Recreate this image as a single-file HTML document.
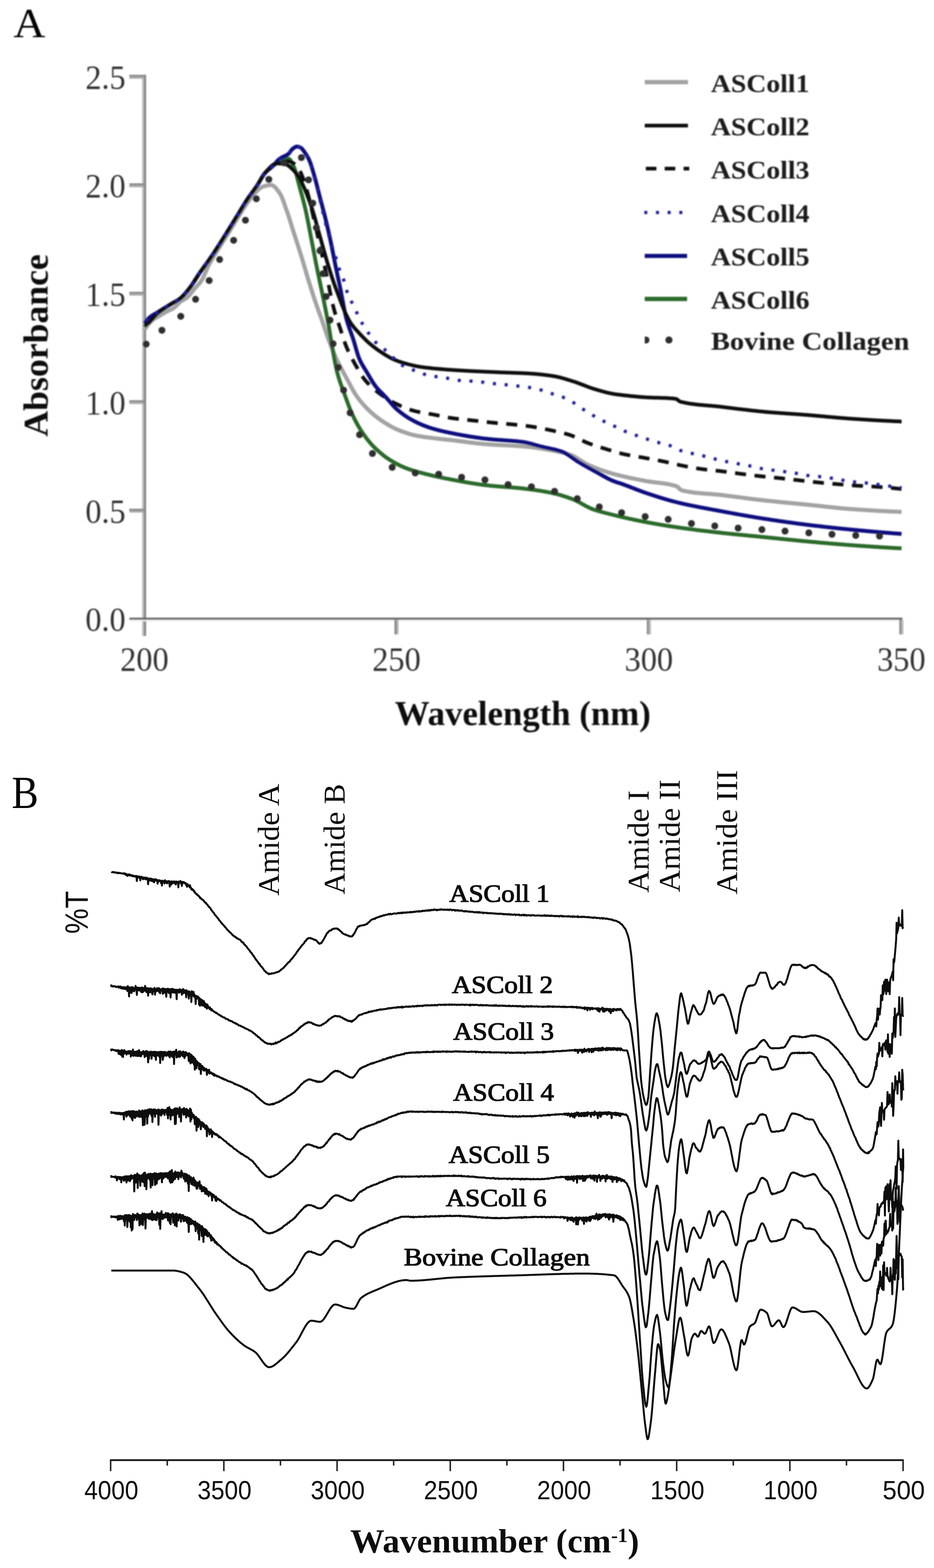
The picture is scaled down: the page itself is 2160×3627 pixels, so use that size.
<!DOCTYPE html>
<html><head><meta charset="utf-8"><title>Figure</title>
<style>
html,body{margin:0;padding:0;background:#fff;}
body{width:2160px;height:3627px;overflow:hidden;}
svg{display:block;}
</style></head>
<body>
<svg xmlns="http://www.w3.org/2000/svg" width="2160" height="3627" viewBox="0 0 2160 3627">
<rect width="2160" height="3627" fill="#fff"/>
<defs><filter id="blurA" filterUnits="userSpaceOnUse" x="0" y="0" width="2160" height="1760"><feGaussianBlur stdDeviation="1.6"/></filter>
<filter id="blurB" filterUnits="userSpaceOnUse" x="0" y="1760" width="2160" height="1867"><feGaussianBlur stdDeviation="0.7"/></filter></defs>
<g filter="url(#blurA)">
<text x="31" y="86" font-family="'Liberation Serif', 'Times New Roman', serif" font-size="95" fill="#000" textLength="74" lengthAdjust="spacingAndGlyphs">A</text>
<g id="axesA">
<line x1="331" y1="173" x2="331" y2="1471" stroke="#bababa" stroke-width="4.4"/>
<line x1="335.5" y1="173" x2="335.5" y2="1471" stroke="#858585" stroke-width="4.8"/>
<line x1="299" y1="175.3" x2="333" y2="175.3" stroke="#8a8a8a" stroke-width="4.4"/>
<line x1="299" y1="179.7" x2="333" y2="179.7" stroke="#a8a8a8" stroke-width="4.4"/>
<line x1="299" y1="426.3" x2="333" y2="426.3" stroke="#8a8a8a" stroke-width="4.4"/>
<line x1="299" y1="430.7" x2="333" y2="430.7" stroke="#a8a8a8" stroke-width="4.4"/>
<line x1="299" y1="677.0999999999999" x2="333" y2="677.0999999999999" stroke="#8a8a8a" stroke-width="4.4"/>
<line x1="299" y1="681.5" x2="333" y2="681.5" stroke="#a8a8a8" stroke-width="4.4"/>
<line x1="299" y1="928.0" x2="333" y2="928.0" stroke="#8a8a8a" stroke-width="4.4"/>
<line x1="299" y1="932.4000000000001" x2="333" y2="932.4000000000001" stroke="#a8a8a8" stroke-width="4.4"/>
<line x1="299" y1="1178.8999999999999" x2="333" y2="1178.8999999999999" stroke="#8a8a8a" stroke-width="4.4"/>
<line x1="299" y1="1183.3" x2="333" y2="1183.3" stroke="#a8a8a8" stroke-width="4.4"/>
<line x1="299" y1="1435.6" x2="2087" y2="1435.6" stroke="#efefef" stroke-width="3.5"/>
<line x1="299" y1="1431.1" x2="2087" y2="1431.1" stroke="#666666" stroke-width="4.6"/>
<line x1="914.6" y1="1433" x2="914.6" y2="1467.5" stroke="#8a8a8a" stroke-width="4.8"/>
<line x1="919.3" y1="1433" x2="919.3" y2="1467.5" stroke="#b3b3b3" stroke-width="4.6"/>
<line x1="1498.1999999999998" y1="1433" x2="1498.1999999999998" y2="1467.5" stroke="#8a8a8a" stroke-width="4.8"/>
<line x1="1502.8999999999999" y1="1433" x2="1502.8999999999999" y2="1467.5" stroke="#b3b3b3" stroke-width="4.6"/>
<line x1="2082.1" y1="1433" x2="2082.1" y2="1467.5" stroke="#8a8a8a" stroke-width="4.8"/>
<line x1="2086.8" y1="1433" x2="2086.8" y2="1467.5" stroke="#b3b3b3" stroke-width="4.6"/>
<path d="M334 763L336 760L338 757.1L340 754.3L342 751.7L344 749.2L346 746.8L348 744.7L350 742.7L352 741L354 739.4L356 738L358 736.8L360 735.6L362 734.4L364 733.3L366 732.2L368 731L370 729.8L372 728.6L374 727.4L376 726.2L378 725L380 723.8L382 722.7L384 721.5L386 720.5L388 719.5L390 718.6L392 717.7L394 716.8L396 715.8L398 714.8L400 713.6L402 712.3L404 710.7L406 708.8L408 706.7L410 704.6L412 702.6L414 700.6L416 698.8L418 697.3L420 696L422 694.8L424 693.7L426 692.6L428 691.4L430 690.2L432 688.8L434 687.1L436 685.2L438 682.9L440 680.5L442 677.9L444 675.3L446 672.7L448 670.2L450 667.8L452 665.6L454 663.5L456 661.3L458 659.2L460 656.9L462 654.5L464 651.9L466 649L468 645.7L470 641.8L472 637.5L474 633L476 628.3L478 623.7L480 619.2L482 615L484 611.1L486 607.5L488 603.9L490 600.4L492 597L494 593.7L496 590.4L498 587.2L500 583.9L502 580.6L504 577.4L506 574.1L508 570.9L510 567.7L512 564.6L514 561.5L516 558.3L518 555.2L520 552.1L522 548.9L524 545.8L526 542.6L528 539.4L530 536.2L532 532.9L534 529.7L536 526.4L538 523.1L540 519.8L542 516.6L544 513.3L546 510.1L548 506.8L550 503.6L552 500.4L554 497.2L556 493.9L558 490.6L560 487.4L562 484.1L564 480.9L566 477.8L568 474.8L570 471.8L572 469L574 466.2L576 463.5L578 460.8L580 458.1L582 455.5L584 453L586 450.6L588 448.2L590 446L592 443.9L594 442L596 440.1L598 438.2L600 436.5L602 434.8L604 433.4L606 432.4L608 431.7L610 431L612 430.4L614 429.9L616 429.4L618 429L620 428.6L622 428.3L624 428.1L626 428L628 428.1L630 428.6L632 429.7L634 431.1L636 433L638 435.1L640 437.5L642 440.1L644 442.8L646 445.6L648 448.5L650 452.2L652 456.6L654 461.6L656 467L658 472.7L660 478.5L662 484.2L664 489.8L666 495.6L668 501.7L670 508L672 514.4L674 520.8L676 527.3L678 533.7L680 540L682 546.2L684 552.4L686 558.5L688 564.7L690 570.9L692 577.1L694 583.4L696 589.8L698 596.3L700 602.9L702 609.7L704 616.6L706 623.4L708 630.3L710 637.1L712 643.7L714 650.2L716 656.7L718 663.1L720 669.4L722 675.7L724 681.9L726 688L728 694.1L730 700L732 705.8L734 711.5L736 717L738 722.5L740 728L742 733.5L744 739.2L746 744.9L748 750.8L750 756.8L752 762.9L754 768.9L756 774.8L758 780.5L760 786L762 791.3L764 796.4L766 801.5L768 806.5L770 811.3L772 816.1L774 820.7L776 825.3L778 829.7L780 834L782 838.2L784 842.2L786 846.2L788 850L790 853.8L792 857.5L794 861.2L796 864.9L798 868.5L800 872.2L802 875.8L804 879.6L806 883.4L808 887.1L810 890.9L812 894.7L814 898.4L816 902L818 905.5L820 908.8L822 912L824 915.1L826 917.9L828 920.6L830 923.3L832 925.9L834 928.4L836 930.8L838 933.2L840 935.5L842 937.7L844 939.9L846 942L848 944.1L850 946.1L852 948L854 949.9L856 951.8L858 953.6L860 955.4L862 957.2L864 958.9L866 960.6L868 962.2L870 963.8L872 965.4L874 966.9L876 968.4L878 969.9L880 971.3L882 972.7L884 974L886 975.3L888 976.6L890 977.9L892 979.2L894 980.4L896 981.6L898 982.8L900 984L902 985.2L904 986.3L906 987.4L908 988.5L910 989.5L912 990.5L914 991.5L916 992.4L918 993.3L920 994.2L922 995L924 995.8L926 996.6L928 997.3L930 998.1L932 998.8L934 999.5L936 1000.3L938 1000.9L940 1001.6L942 1002.3L944 1002.9L946 1003.5L948 1004.1L950 1004.6L952 1005.2L954 1005.7L956 1006.2L958 1006.6L960 1007.1L962 1007.5L964 1007.9L966 1008.3L968 1008.6L970 1009L972 1009.3L974 1009.6L976 1009.9L978 1010.2L980 1010.5L982 1010.8L984 1011.1L986 1011.4L988 1011.6L990 1011.9L992 1012.1L994 1012.4L996 1012.6L998 1012.9L1000 1013.1L1002 1013.4L1004 1013.6L1006 1013.9L1008 1014.1L1010 1014.3L1012 1014.6L1014 1014.8L1016 1015L1018 1015.2L1020 1015.4L1022 1015.7L1024 1015.9L1026 1016.1L1028 1016.3L1030 1016.5L1032 1016.7L1034 1016.9L1036 1017.2L1038 1017.4L1040 1017.6L1042 1017.8L1044 1018.1L1046 1018.3L1048 1018.5L1050 1018.8L1052 1019L1054 1019.3L1056 1019.5L1058 1019.8L1060 1020L1062 1020.3L1064 1020.5L1066 1020.8L1068 1021.1L1070 1021.3L1072 1021.6L1074 1021.8L1076 1022.1L1078 1022.3L1080 1022.6L1082 1022.9L1084 1023.1L1086 1023.4L1088 1023.6L1090 1023.9L1092 1024.1L1094 1024.3L1096 1024.6L1098 1024.8L1100 1025L1102 1025.3L1104 1025.5L1106 1025.7L1108 1025.9L1110 1026.1L1112 1026.3L1114 1026.5L1116 1026.7L1118 1026.9L1120 1027.1L1122 1027.3L1124 1027.4L1126 1027.6L1128 1027.7L1130 1027.9L1132 1028L1134 1028.1L1136 1028.3L1138 1028.4L1140 1028.5L1142 1028.6L1144 1028.8L1146 1028.9L1148 1029L1150 1029.1L1152 1029.2L1154 1029.3L1156 1029.4L1158 1029.5L1160 1029.6L1162 1029.7L1164 1029.8L1166 1029.9L1168 1030L1170 1030.1L1172 1030.1L1174 1030.2L1176 1030.3L1178 1030.4L1180 1030.5L1182 1030.6L1184 1030.8L1186 1030.9L1188 1031L1190 1031.1L1192 1031.2L1194 1031.3L1196 1031.5L1198 1031.6L1200 1031.7L1202 1031.9L1204 1032L1206 1032.2L1208 1032.3L1210 1032.5L1212 1032.7L1214 1032.9L1216 1033L1218 1033.2L1220 1033.4L1222 1033.7L1224 1033.9L1226 1034.1L1228 1034.3L1230 1034.6L1232 1034.8L1234 1035.1L1236 1035.3L1238 1035.6L1240 1035.9L1242 1036.2L1244 1036.5L1246 1036.8L1248 1037.1L1250 1037.4L1252 1037.7L1254 1038L1256 1038.3L1258 1038.6L1260 1039L1262 1039.3L1264 1039.6L1266 1040L1268 1040.3L1270 1040.7L1272 1041L1274 1041.4L1276 1041.8L1278 1042.1L1280 1042.5L1282 1042.9L1284 1043.3L1286 1043.7L1288 1044.1L1290 1044.5L1292 1044.9L1294 1045.3L1296 1045.8L1298 1046.2L1300 1046.7L1302 1047.2L1304 1047.7L1306 1048.2L1308 1048.8L1310 1049.3L1312 1049.9L1314 1050.5L1316 1051.2L1318 1051.8L1320 1052.5L1322 1053.2L1324 1054.1L1326 1055L1328 1056L1330 1057.1L1332 1058.3L1334 1059.5L1336 1060.7L1338 1062L1340 1063.2L1342 1064.5L1344 1065.8L1346 1067.1L1348 1068.4L1350 1069.6L1352 1070.8L1354 1072L1356 1073L1358 1074.1L1360 1075L1362 1075.9L1364 1076.8L1366 1077.6L1368 1078.5L1370 1079.3L1372 1080.2L1374 1081L1376 1081.8L1378 1082.6L1380 1083.4L1382 1084.1L1384 1084.9L1386 1085.6L1388 1086.4L1390 1087.1L1392 1087.8L1394 1088.5L1396 1089.2L1398 1089.9L1400 1090.5L1402 1091.2L1404 1091.8L1406 1092.5L1408 1093.1L1410 1093.7L1412 1094.3L1414 1094.9L1416 1095.4L1418 1096L1420 1096.5L1422 1097.1L1424 1097.6L1426 1098.1L1428 1098.7L1430 1099.2L1432 1099.7L1434 1100.2L1436 1100.6L1438 1101.1L1440 1101.6L1442 1102L1444 1102.5L1446 1103L1448 1103.4L1450 1103.8L1452 1104.3L1454 1104.7L1456 1105.1L1458 1105.6L1460 1106L1462 1106.4L1464 1106.8L1466 1107.2L1468 1107.6L1470 1108L1472 1108.4L1474 1108.8L1476 1109.2L1478 1109.6L1480 1110L1482 1110.4L1484 1110.8L1486 1111.1L1488 1111.5L1490 1111.9L1492 1112.3L1494 1112.7L1496 1113.1L1498 1113.4L1500 1113.7L1502 1114L1504 1114.3L1506 1114.6L1508 1114.9L1510 1115.1L1512 1115.4L1514 1115.6L1516 1115.9L1518 1116.1L1520 1116.3L1522 1116.6L1524 1116.8L1526 1117.1L1528 1117.3L1530 1117.6L1532 1117.8L1534 1118.1L1536 1118.4L1538 1118.7L1540 1119L1542 1119.3L1544 1119.7L1546 1120.1L1548 1120.5L1550 1120.9L1552 1121.3L1554 1121.8L1556 1122.3L1558 1122.8L1560 1123.4L1562 1124L1564 1124.7L1566 1125.5L1568 1127L1570 1129.1L1572 1131.2L1574 1133L1576 1134L1578 1134.5L1580 1135L1582 1135.4L1584 1135.9L1586 1136.3L1588 1136.7L1590 1137.1L1592 1137.4L1594 1137.8L1596 1138.1L1598 1138.4L1600 1138.7L1602 1139L1604 1139.2L1606 1139.5L1608 1139.7L1610 1139.9L1612 1140.1L1614 1140.3L1616 1140.5L1618 1140.7L1620 1140.9L1622 1141.1L1624 1141.2L1626 1141.4L1628 1141.6L1630 1141.7L1632 1141.9L1634 1142L1636 1142.2L1638 1142.3L1640 1142.4L1642 1142.6L1644 1142.7L1646 1142.9L1648 1143.1L1650 1143.2L1652 1143.4L1654 1143.6L1656 1143.7L1658 1143.9L1660 1144.1L1662 1144.3L1664 1144.5L1666 1144.8L1668 1145L1670 1145.2L1672 1145.5L1674 1145.7L1676 1146L1678 1146.2L1680 1146.5L1682 1146.7L1684 1147L1686 1147.3L1688 1147.5L1690 1147.8L1692 1148L1694 1148.3L1696 1148.5L1698 1148.8L1700 1149.1L1702 1149.3L1704 1149.6L1706 1149.8L1708 1150.1L1710 1150.4L1712 1150.6L1714 1150.9L1716 1151.1L1718 1151.4L1720 1151.6L1722 1151.9L1724 1152.2L1726 1152.4L1728 1152.7L1730 1152.9L1732 1153.2L1734 1153.4L1736 1153.7L1738 1153.9L1740 1154.2L1742 1154.4L1744 1154.7L1746 1154.9L1748 1155.2L1750 1155.4L1752 1155.7L1754 1155.9L1756 1156.1L1758 1156.4L1760 1156.6L1762 1156.8L1764 1157.1L1766 1157.3L1768 1157.5L1770 1157.7L1772 1157.9L1774 1158.2L1776 1158.4L1778 1158.6L1780 1158.8L1782 1159L1784 1159.2L1786 1159.4L1788 1159.6L1790 1159.8L1792 1160.1L1794 1160.3L1796 1160.5L1798 1160.7L1800 1160.9L1802 1161.1L1804 1161.3L1806 1161.5L1808 1161.7L1810 1161.9L1812 1162.1L1814 1162.2L1816 1162.4L1818 1162.6L1820 1162.8L1822 1163L1824 1163.2L1826 1163.4L1828 1163.6L1830 1163.8L1832 1164L1834 1164.2L1836 1164.4L1838 1164.6L1840 1164.8L1842 1165L1844 1165.1L1846 1165.3L1848 1165.5L1850 1165.7L1852 1165.9L1854 1166.1L1856 1166.3L1858 1166.5L1860 1166.7L1862 1166.9L1864 1167.1L1866 1167.3L1868 1167.5L1870 1167.7L1872 1167.9L1874 1168.1L1876 1168.3L1878 1168.5L1880 1168.7L1882 1168.9L1884 1169.2L1886 1169.4L1888 1169.6L1890 1169.8L1892 1170L1894 1170.2L1896 1170.5L1898 1170.7L1900 1170.9L1902 1171.1L1904 1171.3L1906 1171.6L1908 1171.8L1910 1172L1912 1172.2L1914 1172.4L1916 1172.6L1918 1172.9L1920 1173.1L1922 1173.3L1924 1173.5L1926 1173.7L1928 1173.9L1930 1174.1L1932 1174.3L1934 1174.5L1936 1174.7L1938 1174.9L1940 1175.1L1942 1175.3L1944 1175.5L1946 1175.7L1948 1175.9L1950 1176L1952 1176.2L1954 1176.4L1956 1176.6L1958 1176.7L1960 1176.9L1962 1177L1964 1177.2L1966 1177.4L1968 1177.5L1970 1177.6L1972 1177.8L1974 1177.9L1976 1178.1L1978 1178.2L1980 1178.4L1982 1178.5L1984 1178.6L1986 1178.8L1988 1178.9L1990 1179L1992 1179.2L1994 1179.3L1996 1179.4L1998 1179.6L2000 1179.7L2002 1179.8L2004 1180L2006 1180.1L2008 1180.2L2010 1180.3L2012 1180.5L2014 1180.6L2016 1180.7L2018 1180.8L2020 1181L2022 1181.1L2024 1181.2L2026 1181.3L2028 1181.4L2030 1181.5L2032 1181.7L2034 1181.8L2036 1181.9L2038 1182L2040 1182.1L2042 1182.2L2044 1182.3L2046 1182.4L2048 1182.5L2050 1182.6L2052 1182.7L2054 1182.8L2056 1182.9L2058 1183L2060 1183.1L2062 1183.1L2064 1183.2L2066 1183.3L2068 1183.4L2070 1183.5L2072 1183.5L2074 1183.6L2076 1183.7L2078 1183.8L2080 1183.8L2082 1183.9L2084 1184L2085 1184" fill="none" stroke="#a3a3a3" stroke-width="9.5" stroke-linejoin="round" stroke-linecap="butt" />
<path d="M334 756L336 753.5L338 751.1L340 748.9L342 746.7L344 744.5L346 742.3L348 740.2L350 738.1L352 736L354 734L356 732L358 730.1L360 728.3L362 726.5L364 724.8L366 723.2L368 721.6L370 720.1L372 718.6L374 717.2L376 715.8L378 714.5L380 713.1L382 711.8L384 710.5L386 709.3L388 708L390 706.8L392 705.5L394 704.3L396 703L398 701.8L400 700.6L402 699.5L404 698.4L406 697.3L408 696.2L410 695.1L412 693.8L414 692.5L416 691L418 689.4L420 687.6L422 685.7L424 683.6L426 681.5L428 679.2L430 676.9L432 674.5L434 672L436 669.5L438 667L440 664.4L442 661.6L444 658.7L446 655.7L448 652.7L450 649.5L452 646.4L454 643.2L456 640.1L458 637L460 633.9L462 631L464 628.2L466 625.4L468 622.6L470 619.9L472 617.2L474 614.5L476 611.8L478 609L480 606.2L482 603.4L484 600.6L486 597.6L488 594.7L490 591.7L492 588.8L494 585.7L496 582.7L498 579.7L500 576.6L502 573.5L504 570.5L506 567.4L508 564.2L510 561.1L512 557.9L514 554.8L516 551.6L518 548.4L520 545.2L522 542L524 538.8L526 535.6L528 532.4L530 529.2L532 525.9L534 522.7L536 519.4L538 516.2L540 512.9L542 509.7L544 506.4L546 503.1L548 499.9L550 496.6L552 493.4L554 490.1L556 486.8L558 483.5L560 480.2L562 476.9L564 473.6L566 470.4L568 467.2L570 464.1L572 461L574 458L576 455.1L578 452.3L580 449.6L582 446.8L584 444.1L586 441.4L588 438.6L590 435.8L592 432.9L594 430L596 426.9L598 423.6L600 420.1L602 416.7L604 413.2L606 409.8L608 406.7L610 403.7L612 401.1L614 398.9L616 396.8L618 394.8L620 392.9L622 391L624 389.2L626 387.5L628 385.9L630 384.4L632 383L634 381.6L636 380.3L638 379.1L640 378L642 376.9L644 375.8L646 374.6L648 373.5L650 372.4L652 371.4L654 370.4L656 369.5L658 368.8L660 368.1L662 367.6L664 367.2L666 367L668 367.2L670 368.6L672 371.1L674 374.4L676 378.4L678 382.7L680 387L682 392L684 398.4L686 405.6L688 413.4L690 421.4L692 429.2L694 436.7L696 444L698 451.3L700 458.8L702 466.4L704 474.4L706 482.7L708 491.5L710 501L712 511L714 521.4L716 532L718 542.6L720 553L722 563.3L724 573.7L726 584.1L728 594.5L730 604.9L732 615L734 624.9L736 634.6L738 644.1L740 653.6L742 663L744 672.5L746 682.1L748 691.9L750 701.7L752 711.5L754 721.5L756 731.7L758 742.1L760 753L762 764.7L764 777.1L766 789.2L768 800.6L770 811.9L772 823.2L774 834.1L776 844.3L778 853.7L780 862L782 869.3L784 876L786 882.2L788 888.1L790 893.6L792 899L794 904.4L796 909.8L798 915.3L800 920.8L802 926.3L804 931.8L806 937.1L808 942.4L810 947.4L812 952.2L814 956.8L816 961.1L818 965.3L820 969.4L822 973.3L824 977.1L826 980.8L828 984.4L830 987.8L832 991.2L834 994.4L836 997.5L838 1000.5L840 1003.4L842 1006.3L844 1009L846 1011.8L848 1014.4L850 1017L852 1019.5L854 1021.9L856 1024.3L858 1026.6L860 1028.8L862 1030.9L864 1033L866 1035L868 1036.9L870 1038.8L872 1040.7L874 1042.6L876 1044.3L878 1046.1L880 1047.8L882 1049.5L884 1051.1L886 1052.7L888 1054.3L890 1055.8L892 1057.3L894 1058.7L896 1060.1L898 1061.4L900 1062.7L902 1064L904 1065.2L906 1066.4L908 1067.6L910 1068.8L912 1069.9L914 1071L916 1072.1L918 1073.2L920 1074.2L922 1075.3L924 1076.2L926 1077.2L928 1078.2L930 1079.1L932 1080L934 1080.8L936 1081.7L938 1082.5L940 1083.2L942 1084L944 1084.7L946 1085.4L948 1086.1L950 1086.8L952 1087.4L954 1088.1L956 1088.7L958 1089.3L960 1089.9L962 1090.5L964 1091L966 1091.6L968 1092.1L970 1092.7L972 1093.2L974 1093.7L976 1094.2L978 1094.7L980 1095.2L982 1095.7L984 1096.3L986 1096.8L988 1097.2L990 1097.7L992 1098.2L994 1098.7L996 1099.2L998 1099.6L1000 1100.1L1002 1100.6L1004 1101L1006 1101.5L1008 1101.9L1010 1102.4L1012 1102.8L1014 1103.2L1016 1103.7L1018 1104.1L1020 1104.5L1022 1104.9L1024 1105.3L1026 1105.8L1028 1106.2L1030 1106.6L1032 1107L1034 1107.3L1036 1107.7L1038 1108.1L1040 1108.5L1042 1108.9L1044 1109.3L1046 1109.6L1048 1110L1050 1110.4L1052 1110.8L1054 1111.1L1056 1111.5L1058 1111.9L1060 1112.3L1062 1112.6L1064 1113L1066 1113.4L1068 1113.7L1070 1114.1L1072 1114.5L1074 1114.8L1076 1115.2L1078 1115.5L1080 1115.9L1082 1116.2L1084 1116.6L1086 1116.9L1088 1117.2L1090 1117.6L1092 1117.9L1094 1118.2L1096 1118.5L1098 1118.8L1100 1119.1L1102 1119.4L1104 1119.7L1106 1120L1108 1120.3L1110 1120.6L1112 1120.9L1114 1121.1L1116 1121.4L1118 1121.7L1120 1121.9L1122 1122.1L1124 1122.4L1126 1122.6L1128 1122.8L1130 1123.1L1132 1123.3L1134 1123.5L1136 1123.7L1138 1123.9L1140 1124L1142 1124.2L1144 1124.4L1146 1124.6L1148 1124.7L1150 1124.9L1152 1125.1L1154 1125.2L1156 1125.4L1158 1125.5L1160 1125.7L1162 1125.8L1164 1126L1166 1126.2L1168 1126.3L1170 1126.5L1172 1126.6L1174 1126.8L1176 1126.9L1178 1127.1L1180 1127.2L1182 1127.4L1184 1127.5L1186 1127.7L1188 1127.9L1190 1128L1192 1128.2L1194 1128.4L1196 1128.6L1198 1128.8L1200 1128.9L1202 1129.1L1204 1129.4L1206 1129.6L1208 1129.8L1210 1130L1212 1130.2L1214 1130.5L1216 1130.7L1218 1130.9L1220 1131.2L1222 1131.4L1224 1131.7L1226 1131.9L1228 1132.2L1230 1132.5L1232 1132.7L1234 1133L1236 1133.3L1238 1133.6L1240 1133.9L1242 1134.2L1244 1134.5L1246 1134.8L1248 1135.1L1250 1135.4L1252 1135.7L1254 1136.1L1256 1136.4L1258 1136.8L1260 1137.1L1262 1137.5L1264 1137.8L1266 1138.2L1268 1138.6L1270 1139L1272 1139.4L1274 1139.8L1276 1140.2L1278 1140.6L1280 1141.1L1282 1141.6L1284 1142L1286 1142.5L1288 1143L1290 1143.6L1292 1144.1L1294 1144.7L1296 1145.2L1298 1145.8L1300 1146.4L1302 1147.1L1304 1147.7L1306 1148.3L1308 1149L1310 1149.6L1312 1150.3L1314 1151L1316 1151.7L1318 1152.4L1320 1153.1L1322 1153.9L1324 1154.6L1326 1155.4L1328 1156.2L1330 1157.1L1332 1158L1334 1159L1336 1160L1338 1161.1L1340 1162.1L1342 1163.2L1344 1164.4L1346 1165.5L1348 1166.6L1350 1167.7L1352 1168.9L1354 1170L1356 1171.1L1358 1172.1L1360 1173.1L1362 1174.1L1364 1175L1366 1175.9L1368 1176.7L1370 1177.5L1372 1178.2L1374 1178.9L1376 1179.6L1378 1180.2L1380 1180.9L1382 1181.5L1384 1182.1L1386 1182.7L1388 1183.3L1390 1183.8L1392 1184.4L1394 1184.9L1396 1185.5L1398 1186L1400 1186.5L1402 1187L1404 1187.5L1406 1188L1408 1188.5L1410 1189L1412 1189.5L1414 1190L1416 1190.5L1418 1191L1420 1191.5L1422 1192L1424 1192.5L1426 1193L1428 1193.5L1430 1193.9L1432 1194.4L1434 1194.9L1436 1195.4L1438 1195.8L1440 1196.3L1442 1196.8L1444 1197.2L1446 1197.7L1448 1198.1L1450 1198.6L1452 1199L1454 1199.5L1456 1199.9L1458 1200.4L1460 1200.8L1462 1201.2L1464 1201.7L1466 1202.1L1468 1202.5L1470 1202.9L1472 1203.3L1474 1203.7L1476 1204.2L1478 1204.6L1480 1205L1482 1205.4L1484 1205.8L1486 1206.2L1488 1206.5L1490 1206.9L1492 1207.3L1494 1207.7L1496 1208.1L1498 1208.4L1500 1208.8L1502 1209.2L1504 1209.5L1506 1209.9L1508 1210.3L1510 1210.6L1512 1211L1514 1211.3L1516 1211.7L1518 1212L1520 1212.4L1522 1212.7L1524 1213.1L1526 1213.4L1528 1213.8L1530 1214.1L1532 1214.4L1534 1214.8L1536 1215.1L1538 1215.4L1540 1215.7L1542 1216.1L1544 1216.4L1546 1216.7L1548 1217L1550 1217.3L1552 1217.6L1554 1217.9L1556 1218.2L1558 1218.5L1560 1218.8L1562 1219.1L1564 1219.4L1566 1219.7L1568 1220L1570 1220.3L1572 1220.6L1574 1220.9L1576 1221.1L1578 1221.4L1580 1221.7L1582 1222L1584 1222.2L1586 1222.5L1588 1222.8L1590 1223.1L1592 1223.3L1594 1223.6L1596 1223.9L1598 1224.1L1600 1224.4L1602 1224.6L1604 1224.9L1606 1225.1L1608 1225.4L1610 1225.7L1612 1225.9L1614 1226.2L1616 1226.4L1618 1226.7L1620 1226.9L1622 1227.2L1624 1227.4L1626 1227.6L1628 1227.9L1630 1228.1L1632 1228.4L1634 1228.6L1636 1228.8L1638 1229.1L1640 1229.3L1642 1229.5L1644 1229.8L1646 1230L1648 1230.2L1650 1230.5L1652 1230.7L1654 1230.9L1656 1231.2L1658 1231.4L1660 1231.6L1662 1231.8L1664 1232.1L1666 1232.3L1668 1232.5L1670 1232.7L1672 1232.9L1674 1233.2L1676 1233.4L1678 1233.6L1680 1233.8L1682 1234L1684 1234.2L1686 1234.4L1688 1234.6L1690 1234.8L1692 1235.1L1694 1235.3L1696 1235.5L1698 1235.7L1700 1235.9L1702 1236.1L1704 1236.3L1706 1236.5L1708 1236.7L1710 1236.9L1712 1237.1L1714 1237.2L1716 1237.4L1718 1237.6L1720 1237.8L1722 1238L1724 1238.2L1726 1238.4L1728 1238.6L1730 1238.8L1732 1239L1734 1239.2L1736 1239.4L1738 1239.6L1740 1239.8L1742 1240L1744 1240.1L1746 1240.3L1748 1240.5L1750 1240.7L1752 1240.9L1754 1241.1L1756 1241.3L1758 1241.5L1760 1241.7L1762 1241.9L1764 1242.1L1766 1242.3L1768 1242.5L1770 1242.7L1772 1242.9L1774 1243.1L1776 1243.3L1778 1243.5L1780 1243.7L1782 1243.9L1784 1244.1L1786 1244.3L1788 1244.5L1790 1244.7L1792 1244.9L1794 1245.1L1796 1245.3L1798 1245.6L1800 1245.8L1802 1246L1804 1246.2L1806 1246.4L1808 1246.6L1810 1246.8L1812 1247L1814 1247.2L1816 1247.4L1818 1247.6L1820 1247.8L1822 1248L1824 1248.2L1826 1248.4L1828 1248.6L1830 1248.8L1832 1249L1834 1249.2L1836 1249.4L1838 1249.6L1840 1249.8L1842 1250L1844 1250.2L1846 1250.4L1848 1250.6L1850 1250.8L1852 1251L1854 1251.2L1856 1251.4L1858 1251.6L1860 1251.8L1862 1251.9L1864 1252.1L1866 1252.3L1868 1252.5L1870 1252.7L1872 1252.9L1874 1253.1L1876 1253.2L1878 1253.4L1880 1253.6L1882 1253.8L1884 1254L1886 1254.1L1888 1254.3L1890 1254.5L1892 1254.7L1894 1254.9L1896 1255L1898 1255.2L1900 1255.4L1902 1255.6L1904 1255.8L1906 1255.9L1908 1256.1L1910 1256.3L1912 1256.5L1914 1256.6L1916 1256.8L1918 1257L1920 1257.2L1922 1257.3L1924 1257.5L1926 1257.7L1928 1257.8L1930 1258L1932 1258.2L1934 1258.3L1936 1258.5L1938 1258.7L1940 1258.8L1942 1259L1944 1259.2L1946 1259.3L1948 1259.5L1950 1259.6L1952 1259.8L1954 1259.9L1956 1260.1L1958 1260.3L1960 1260.4L1962 1260.6L1964 1260.7L1966 1260.9L1968 1261L1970 1261.1L1972 1261.3L1974 1261.4L1976 1261.6L1978 1261.7L1980 1261.9L1982 1262L1984 1262.2L1986 1262.3L1988 1262.4L1990 1262.6L1992 1262.7L1994 1262.9L1996 1263L1998 1263.1L2000 1263.3L2002 1263.4L2004 1263.6L2006 1263.7L2008 1263.8L2010 1264L2012 1264.1L2014 1264.2L2016 1264.4L2018 1264.5L2020 1264.6L2022 1264.8L2024 1264.9L2026 1265L2028 1265.1L2030 1265.3L2032 1265.4L2034 1265.5L2036 1265.7L2038 1265.8L2040 1265.9L2042 1266L2044 1266.2L2046 1266.3L2048 1266.4L2050 1266.5L2052 1266.6L2054 1266.8L2056 1266.9L2058 1267L2060 1267.1L2062 1267.2L2064 1267.3L2066 1267.5L2068 1267.6L2070 1267.7L2072 1267.8L2074 1267.9L2076 1268L2078 1268.1L2080 1268.2L2082 1268.3L2084 1268.4L2085 1268.5" fill="none" stroke="#2a6a2a" stroke-width="9" stroke-linejoin="round" stroke-linecap="butt" />
<path d="M334 752L336 751.3L338 750.5L340 749.4L342 748.1L344 746.4L346 744.5L348 742.5L350 740.2L352 737.9L354 735.6L356 733.3L358 731L360 728.8L362 726.7L364 724.8L366 723.2L368 721.6L370 720.1L372 718.6L374 717.2L376 715.8L378 714.5L380 713.1L382 711.8L384 710.5L386 709.3L388 708L390 706.8L392 705.5L394 704.3L396 703L398 701.8L400 700.6L402 699.5L404 698.4L406 697.3L408 696.2L410 695.1L412 693.8L414 692.5L416 691L418 689.4L420 687.6L422 685.7L424 683.6L426 681.5L428 679.2L430 676.9L432 674.5L434 672L436 669.5L438 667L440 664.4L442 661.6L444 658.7L446 655.7L448 652.7L450 649.5L452 646.4L454 643.2L456 640.1L458 637L460 633.9L462 631L464 628.2L466 625.4L468 622.6L470 619.9L472 617.2L474 614.5L476 611.8L478 609L480 606.2L482 603.4L484 600.6L486 597.6L488 594.7L490 591.7L492 588.8L494 585.7L496 582.7L498 579.7L500 576.6L502 573.5L504 570.5L506 567.4L508 564.2L510 561.1L512 557.9L514 554.8L516 551.6L518 548.4L520 545.2L522 542L524 538.8L526 535.6L528 532.4L530 529.2L532 525.9L534 522.7L536 519.4L538 516.2L540 512.9L542 509.7L544 506.4L546 503.1L548 499.9L550 496.6L552 493.4L554 490.1L556 486.8L558 483.5L560 480.2L562 476.9L564 473.6L566 470.4L568 467.2L570 464.1L572 461L574 458L576 455.1L578 452.3L580 449.6L582 446.8L584 444.1L586 441.4L588 438.6L590 435.8L592 432.9L594 430L596 426.9L598 423.6L600 420.1L602 416.7L604 413.2L606 409.8L608 406.7L610 403.7L612 401.1L614 398.9L616 396.7L618 394.6L620 392.6L622 390.6L624 388.6L626 386.8L628 385.1L630 383.5L632 382.1L634 380.8L636 379.7L638 378.7L640 378L642 377.4L644 376.8L646 376.2L648 375.6L650 375.1L652 374.6L654 374.2L656 373.8L658 373.5L660 373.3L662 373.1L664 373L666 373L668 373.3L670 373.7L672 374.3L674 375.2L676 376.1L678 377.3L680 378.5L682 379.8L684 381.3L686 382.9L688 385.2L690 388.3L692 391.9L694 396.1L696 400.5L698 405.2L700 410L702 415.2L704 421L706 427.3L708 434.2L710 441.3L712 448.7L714 456.2L716 463.8L718 471.9L720 480.4L722 489.2L724 498.2L726 507.2L728 516.2L730 525L732 533.6L734 542.2L736 550.8L738 559.4L740 568.1L742 576.8L744 585.6L746 594.5L748 603.5L750 612.7L752 621.9L754 631.2L756 640.4L758 649.6L760 659.2L762 669L764 678.7L766 688.3L768 697.5L770 706.1L772 714L774 721.1L776 727.7L778 733.9L780 739.9L782 745.7L784 751.6L786 757.5L788 763.6L790 769.9L792 776.2L794 782.5L796 788.5L798 794.2L800 799.5L802 804.3L804 808.9L806 813.3L808 817.5L810 821.6L812 825.5L814 829.3L816 833L818 836.6L820 840.2L822 843.8L824 847.3L826 850.9L828 854.3L830 857.8L832 861.1L834 864.4L836 867.6L838 870.6L840 873.5L842 876.2L844 878.8L846 881.2L848 883.5L850 885.7L852 887.8L854 889.8L856 891.8L858 893.8L860 895.6L862 897.4L864 899.2L866 900.9L868 902.6L870 904.2L872 905.8L874 907.4L876 908.9L878 910.4L880 911.8L882 913.3L884 914.7L886 916.1L888 917.5L890 918.9L892 920.2L894 921.5L896 922.8L898 924L900 925.3L902 926.5L904 927.6L906 928.8L908 929.9L910 931L912 932L914 933L916 934L918 935L920 935.9L922 936.9L924 937.8L926 938.7L928 939.6L930 940.4L932 941.3L934 942.1L936 943L938 943.8L940 944.6L942 945.3L944 946L946 946.8L948 947.5L950 948.1L952 948.7L954 949.4L956 949.9L958 950.5L960 951L962 951.5L964 952L966 952.4L968 952.8L970 953.2L972 953.6L974 954L976 954.4L978 954.7L980 955.1L982 955.4L984 955.8L986 956.1L988 956.4L990 956.7L992 957.1L994 957.4L996 957.7L998 958.1L1000 958.4L1002 958.8L1004 959.2L1006 959.6L1008 960L1010 960.4L1012 960.8L1014 961.2L1016 961.6L1018 962L1020 962.4L1022 962.8L1024 963.3L1026 963.7L1028 964.1L1030 964.5L1032 964.9L1034 965.2L1036 965.6L1038 966L1040 966.3L1042 966.7L1044 967L1046 967.3L1048 967.6L1050 967.8L1052 968.1L1054 968.4L1056 968.6L1058 968.8L1060 969.1L1062 969.3L1064 969.5L1066 969.7L1068 970L1070 970.2L1072 970.4L1074 970.6L1076 970.8L1078 971L1080 971.2L1082 971.4L1084 971.6L1086 971.8L1088 972L1090 972.2L1092 972.4L1094 972.7L1096 972.9L1098 973.1L1100 973.3L1102 973.6L1104 973.8L1106 974L1108 974.3L1110 974.5L1112 974.7L1114 975L1116 975.2L1118 975.4L1120 975.6L1122 975.9L1124 976.1L1126 976.3L1128 976.5L1130 976.7L1132 976.9L1134 977.1L1136 977.4L1138 977.5L1140 977.7L1142 977.9L1144 978.1L1146 978.3L1148 978.5L1150 978.7L1152 978.8L1154 979L1156 979.2L1158 979.3L1160 979.5L1162 979.7L1164 979.8L1166 980L1168 980.2L1170 980.3L1172 980.5L1174 980.7L1176 980.9L1178 981.1L1180 981.3L1182 981.5L1184 981.6L1186 981.8L1188 982L1190 982.2L1192 982.4L1194 982.6L1196 982.8L1198 983L1200 983.2L1202 983.5L1204 983.7L1206 983.9L1208 984.1L1210 984.3L1212 984.5L1214 984.8L1216 985L1218 985.3L1220 985.5L1222 985.8L1224 986L1226 986.3L1228 986.6L1230 986.9L1232 987.2L1234 987.5L1236 987.8L1238 988.1L1240 988.5L1242 988.8L1244 989.2L1246 989.6L1248 990L1250 990.3L1252 990.7L1254 991.1L1256 991.5L1258 991.9L1260 992.4L1262 992.8L1264 993.2L1266 993.6L1268 994L1270 994.5L1272 994.9L1274 995.3L1276 995.7L1278 996.2L1280 996.6L1282 997L1284 997.5L1286 997.9L1288 998.3L1290 998.8L1292 999.2L1294 999.7L1296 1000.2L1298 1000.6L1300 1001.1L1302 1001.6L1304 1002.1L1306 1002.7L1308 1003.2L1310 1003.8L1312 1004.3L1314 1004.9L1316 1005.5L1318 1006.2L1320 1006.8L1322 1007.6L1324 1008.4L1326 1009.2L1328 1010.1L1330 1011L1332 1011.9L1334 1012.8L1336 1013.8L1338 1014.8L1340 1015.8L1342 1016.8L1344 1017.8L1346 1018.8L1348 1019.7L1350 1020.7L1352 1021.6L1354 1022.5L1356 1023.4L1358 1024.2L1360 1025L1362 1025.8L1364 1026.5L1366 1027.2L1368 1027.9L1370 1028.6L1372 1029.3L1374 1030L1376 1030.7L1378 1031.3L1380 1032L1382 1032.7L1384 1033.3L1386 1033.9L1388 1034.6L1390 1035.2L1392 1035.8L1394 1036.4L1396 1037L1398 1037.6L1400 1038.2L1402 1038.8L1404 1039.5L1406 1040.1L1408 1040.7L1410 1041.3L1412 1041.9L1414 1042.5L1416 1043.1L1418 1043.7L1420 1044.3L1422 1044.9L1424 1045.4L1426 1046L1428 1046.6L1430 1047.1L1432 1047.7L1434 1048.2L1436 1048.8L1438 1049.3L1440 1049.8L1442 1050.3L1444 1050.7L1446 1051.2L1448 1051.6L1450 1052L1452 1052.4L1454 1052.8L1456 1053.2L1458 1053.6L1460 1053.9L1462 1054.3L1464 1054.6L1466 1055L1468 1055.3L1470 1055.6L1472 1056L1474 1056.3L1476 1056.6L1478 1056.9L1480 1057.3L1482 1057.6L1484 1057.9L1486 1058.3L1488 1058.6L1490 1059L1492 1059.4L1494 1059.7L1496 1060.1L1498 1060.5L1500 1060.8L1502 1061.2L1504 1061.6L1506 1061.9L1508 1062.3L1510 1062.7L1512 1063L1514 1063.4L1516 1063.8L1518 1064.2L1520 1064.5L1522 1064.9L1524 1065.3L1526 1065.7L1528 1066.1L1530 1066.5L1532 1066.9L1534 1067.3L1536 1067.7L1538 1068.1L1540 1068.6L1542 1069L1544 1069.4L1546 1069.9L1548 1070.3L1550 1070.8L1552 1071.3L1554 1071.7L1556 1072.2L1558 1072.7L1560 1073.1L1562 1073.6L1564 1074.1L1566 1074.5L1568 1075L1570 1075.4L1572 1075.8L1574 1076.3L1576 1076.7L1578 1077.1L1580 1077.5L1582 1077.9L1584 1078.3L1586 1078.7L1588 1079.1L1590 1079.4L1592 1079.8L1594 1080.2L1596 1080.6L1598 1080.9L1600 1081.3L1602 1081.7L1604 1082L1606 1082.4L1608 1082.7L1610 1083L1612 1083.4L1614 1083.7L1616 1084L1618 1084.3L1620 1084.6L1622 1084.9L1624 1085.1L1626 1085.4L1628 1085.6L1630 1085.9L1632 1086.1L1634 1086.4L1636 1086.6L1638 1086.8L1640 1087L1642 1087.2L1644 1087.4L1646 1087.6L1648 1087.8L1650 1088L1652 1088.2L1654 1088.5L1656 1088.7L1658 1088.9L1660 1089.1L1662 1089.3L1664 1089.5L1666 1089.8L1668 1090L1670 1090.2L1672 1090.5L1674 1090.7L1676 1091L1678 1091.3L1680 1091.5L1682 1091.8L1684 1092.1L1686 1092.3L1688 1092.6L1690 1092.9L1692 1093.2L1694 1093.4L1696 1093.7L1698 1094L1700 1094.3L1702 1094.5L1704 1094.8L1706 1095.1L1708 1095.4L1710 1095.6L1712 1095.9L1714 1096.1L1716 1096.4L1718 1096.6L1720 1096.9L1722 1097.1L1724 1097.4L1726 1097.7L1728 1097.9L1730 1098.2L1732 1098.4L1734 1098.7L1736 1098.9L1738 1099.2L1740 1099.4L1742 1099.6L1744 1099.9L1746 1100.1L1748 1100.4L1750 1100.6L1752 1100.8L1754 1101.1L1756 1101.3L1758 1101.5L1760 1101.7L1762 1101.9L1764 1102.1L1766 1102.3L1768 1102.6L1770 1102.8L1772 1103L1774 1103.1L1776 1103.3L1778 1103.5L1780 1103.7L1782 1103.9L1784 1104.1L1786 1104.3L1788 1104.5L1790 1104.7L1792 1104.9L1794 1105.1L1796 1105.3L1798 1105.5L1800 1105.7L1802 1105.9L1804 1106.1L1806 1106.3L1808 1106.5L1810 1106.7L1812 1107L1814 1107.2L1816 1107.4L1818 1107.6L1820 1107.9L1822 1108.1L1824 1108.3L1826 1108.5L1828 1108.7L1830 1109L1832 1109.2L1834 1109.4L1836 1109.7L1838 1109.9L1840 1110.1L1842 1110.3L1844 1110.6L1846 1110.8L1848 1111L1850 1111.2L1852 1111.4L1854 1111.7L1856 1111.9L1858 1112.1L1860 1112.4L1862 1112.6L1864 1112.8L1866 1113.1L1868 1113.3L1870 1113.5L1872 1113.7L1874 1114L1876 1114.2L1878 1114.4L1880 1114.6L1882 1114.9L1884 1115.1L1886 1115.3L1888 1115.5L1890 1115.7L1892 1115.9L1894 1116.1L1896 1116.3L1898 1116.5L1900 1116.7L1902 1116.9L1904 1117.1L1906 1117.2L1908 1117.4L1910 1117.6L1912 1117.8L1914 1118L1916 1118.1L1918 1118.3L1920 1118.5L1922 1118.7L1924 1118.8L1926 1119L1928 1119.2L1930 1119.3L1932 1119.5L1934 1119.7L1936 1119.8L1938 1120L1940 1120.2L1942 1120.3L1944 1120.5L1946 1120.7L1948 1120.8L1950 1121L1952 1121.2L1954 1121.3L1956 1121.5L1958 1121.7L1960 1121.8L1962 1122L1964 1122.1L1966 1122.3L1968 1122.4L1970 1122.6L1972 1122.7L1974 1122.9L1976 1123L1978 1123.2L1980 1123.3L1982 1123.4L1984 1123.6L1986 1123.7L1988 1123.8L1990 1123.9L1992 1124L1994 1124.1L1996 1124.3L1998 1124.4L2000 1124.5L2002 1124.6L2004 1124.7L2006 1124.8L2008 1124.9L2010 1125L2012 1125.1L2014 1125.2L2016 1125.3L2018 1125.4L2020 1125.5L2022 1125.6L2024 1125.7L2026 1125.9L2028 1126L2030 1126.1L2032 1126.3L2034 1126.4L2036 1126.6L2038 1126.7L2040 1126.9L2042 1127L2044 1127.2L2046 1127.3L2048 1127.5L2050 1127.7L2052 1127.8L2054 1128L2056 1128.2L2058 1128.4L2060 1128.5L2062 1128.7L2064 1128.9L2066 1129.1L2068 1129.3L2070 1129.5L2072 1129.7L2074 1129.9L2076 1130.1L2078 1130.3L2080 1130.5L2082 1130.7L2084 1130.9L2085 1131" fill="none" stroke="#0a0a0a" stroke-width="8.5" stroke-linejoin="round" stroke-linecap="butt" stroke-dasharray="25.5 19.8" stroke-dashoffset="-11.15"/>
<path d="M334 748L336 745.3L338 742.7L340 740.2L342 737.9L344 735.9L346 734.2L348 732.6L350 731.1L352 729.8L354 728.5L356 727.3L358 726.2L360 725L362 723.8L364 722.6L366 721.4L368 720.1L370 718.9L372 717.6L374 716.4L376 715.2L378 713.9L380 712.7L382 711.5L384 710.3L386 709.1L388 707.8L390 706.6L392 705.4L394 704.2L396 703L398 701.8L400 700.7L402 699.6L404 698.5L406 697.4L408 696.3L410 695.1L412 693.8L414 692.5L416 691L418 689.4L420 687.6L422 685.7L424 683.6L426 681.5L428 679.2L430 676.9L432 674.5L434 672L436 669.5L438 667L440 664.4L442 661.6L444 658.7L446 655.7L448 652.7L450 649.5L452 646.4L454 643.2L456 640.1L458 637L460 633.9L462 631L464 628.2L466 625.4L468 622.6L470 619.9L472 617.2L474 614.5L476 611.8L478 609L480 606.2L482 603.4L484 600.6L486 597.6L488 594.7L490 591.7L492 588.8L494 585.7L496 582.7L498 579.7L500 576.6L502 573.5L504 570.5L506 567.4L508 564.2L510 561.1L512 557.9L514 554.8L516 551.6L518 548.4L520 545.2L522 542L524 538.8L526 535.6L528 532.4L530 529.2L532 525.9L534 522.7L536 519.4L538 516.2L540 512.9L542 509.7L544 506.4L546 503.1L548 499.9L550 496.6L552 493.4L554 490.1L556 486.8L558 483.5L560 480.2L562 476.9L564 473.6L566 470.4L568 467.2L570 464.1L572 461L574 458L576 455.1L578 452.3L580 449.6L582 446.8L584 444.1L586 441.4L588 438.6L590 435.8L592 432.9L594 430L596 426.9L598 423.6L600 420.2L602 416.7L604 413.3L606 409.9L608 406.8L610 403.8L612 401.2L614 398.9L616 396.9L618 395.1L620 393.4L622 391.8L624 390.2L626 388.5L628 386.8L630 385L632 383L634 380.8L636 378.4L638 376.1L640 373.8L642 371.6L644 369.5L646 367.8L648 366.3L650 365L652 364L654 363L656 362.1L658 361.2L660 360.3L662 359.2L664 358.1L666 356.8L668 355.1L670 352.7L672 349.9L674 347.1L676 344.8L678 343.3L680 341.9L682 340.6L684 339.6L686 339.1L688 339.1L690 339.4L692 340.1L694 341L696 342L698 343.6L700 345.9L702 348.6L704 351.3L706 354.2L708 357.2L710 360.4L712 364L714 367.9L716 372.3L718 377.5L720 383.4L722 389.9L724 396.7L726 403.6L728 410.5L730 417.8L732 425.4L734 433.3L736 441.3L738 449.2L740 457L742 464.6L744 472.2L746 479.7L748 487.3L750 495L752 502.9L754 511.1L756 519.6L758 528.2L760 537.1L762 546.1L764 555.3L766 564.8L768 574.6L770 584.7L772 594.9L774 605.1L776 615.1L778 624.8L780 634.2L782 643.5L784 652.8L786 662.2L788 671.9L790 682.3L792 693.1L794 703.9L796 714.4L798 724.2L800 733L802 740.7L804 747.5L806 753.7L808 759.5L810 765.1L812 770.6L814 776.1L816 782L818 788.2L820 794.9L822 801.9L824 808.9L826 815.7L828 822L830 827.6L832 832.3L834 836.5L836 840.4L838 844L840 847.4L842 850.7L844 853.9L846 857.1L848 860.3L850 863.7L852 867.1L854 870.5L856 874L858 877.3L860 880.6L862 883.9L864 887L866 889.9L868 892.7L870 895.3L872 897.7L874 900L876 902.2L878 904.3L880 906.3L882 908.3L884 910.3L886 912.3L888 914.3L890 916.4L892 918.5L894 920.7L896 923L898 925.3L900 927.6L902 929.9L904 932.3L906 934.6L908 936.9L910 939.1L912 941.2L914 943.3L916 945.2L918 947L920 948.7L922 950.4L924 952L926 953.6L928 955.2L930 956.7L932 958.2L934 959.7L936 961.1L938 962.4L940 963.8L942 965.1L944 966.3L946 967.6L948 968.7L950 969.9L952 971L954 972.1L956 973.1L958 974.2L960 975.2L962 976.2L964 977.2L966 978.2L968 979.1L970 980L972 980.9L974 981.8L976 982.6L978 983.5L980 984.3L982 985.1L984 985.8L986 986.6L988 987.3L990 988L992 988.7L994 989.3L996 990L998 990.6L1000 991.2L1002 991.8L1004 992.4L1006 992.9L1008 993.5L1010 994L1012 994.6L1014 995.1L1016 995.6L1018 996.1L1020 996.6L1022 997L1024 997.5L1026 998L1028 998.4L1030 998.9L1032 999.3L1034 999.7L1036 1000.2L1038 1000.6L1040 1001L1042 1001.4L1044 1001.8L1046 1002.2L1048 1002.6L1050 1003L1052 1003.4L1054 1003.8L1056 1004.2L1058 1004.6L1060 1004.9L1062 1005.3L1064 1005.7L1066 1006.1L1068 1006.4L1070 1006.8L1072 1007.1L1074 1007.5L1076 1007.8L1078 1008.2L1080 1008.5L1082 1008.9L1084 1009.2L1086 1009.5L1088 1009.9L1090 1010.2L1092 1010.5L1094 1010.8L1096 1011.1L1098 1011.4L1100 1011.7L1102 1012L1104 1012.3L1106 1012.6L1108 1012.8L1110 1013.1L1112 1013.4L1114 1013.7L1116 1013.9L1118 1014.2L1120 1014.4L1122 1014.6L1124 1014.9L1126 1015.1L1128 1015.3L1130 1015.5L1132 1015.7L1134 1015.9L1136 1016.1L1138 1016.3L1140 1016.5L1142 1016.7L1144 1016.8L1146 1017L1148 1017.1L1150 1017.3L1152 1017.4L1154 1017.6L1156 1017.7L1158 1017.8L1160 1018L1162 1018.1L1164 1018.3L1166 1018.4L1168 1018.5L1170 1018.7L1172 1018.8L1174 1019L1176 1019.1L1178 1019.3L1180 1019.4L1182 1019.6L1184 1019.7L1186 1019.9L1188 1020.1L1190 1020.2L1192 1020.4L1194 1020.6L1196 1020.8L1198 1021L1200 1021.3L1202 1021.5L1204 1021.7L1206 1022L1208 1022.2L1210 1022.5L1212 1022.8L1214 1023.1L1216 1023.5L1218 1023.9L1220 1024.4L1222 1024.8L1224 1025.3L1226 1025.9L1228 1026.4L1230 1026.9L1232 1027.5L1234 1028.1L1236 1028.6L1238 1029.2L1240 1029.8L1242 1030.4L1244 1030.9L1246 1031.5L1248 1032L1250 1032.5L1252 1033L1254 1033.5L1256 1033.9L1258 1034.4L1260 1034.8L1262 1035.3L1264 1035.7L1266 1036.1L1268 1036.5L1270 1037L1272 1037.4L1274 1037.8L1276 1038.3L1278 1038.7L1280 1039.2L1282 1039.7L1284 1040.2L1286 1040.7L1288 1041.2L1290 1041.8L1292 1042.4L1294 1043L1296 1043.6L1298 1044.3L1300 1045L1302 1045.8L1304 1046.7L1306 1047.6L1308 1048.7L1310 1049.8L1312 1051L1314 1052.3L1316 1053.6L1318 1055L1320 1056.4L1322 1057.8L1324 1059.2L1326 1060.6L1328 1062L1330 1063.4L1332 1064.8L1334 1066.2L1336 1067.5L1338 1068.8L1340 1070L1342 1071.2L1344 1072.4L1346 1073.5L1348 1074.7L1350 1075.8L1352 1077L1354 1078.1L1356 1079.2L1358 1080.4L1360 1081.5L1362 1082.6L1364 1083.7L1366 1084.8L1368 1085.9L1370 1087L1372 1088.1L1374 1089.2L1376 1090.3L1378 1091.4L1380 1092.5L1382 1093.6L1384 1094.7L1386 1095.8L1388 1097L1390 1098.1L1392 1099.2L1394 1100.4L1396 1101.5L1398 1102.6L1400 1103.7L1402 1104.8L1404 1105.9L1406 1106.9L1408 1107.9L1410 1108.9L1412 1109.9L1414 1110.8L1416 1111.7L1418 1112.5L1420 1113.3L1422 1114L1424 1114.7L1426 1115.4L1428 1116.1L1430 1116.7L1432 1117.3L1434 1118L1436 1118.6L1438 1119.3L1440 1120L1442 1120.7L1444 1121.4L1446 1122.2L1448 1122.9L1450 1123.7L1452 1124.5L1454 1125.2L1456 1126L1458 1126.8L1460 1127.6L1462 1128.4L1464 1129.1L1466 1129.9L1468 1130.7L1470 1131.5L1472 1132.3L1474 1133.1L1476 1133.8L1478 1134.6L1480 1135.3L1482 1136.1L1484 1136.8L1486 1137.6L1488 1138.3L1490 1139L1492 1139.7L1494 1140.3L1496 1141L1498 1141.7L1500 1142.3L1502 1143L1504 1143.7L1506 1144.3L1508 1145L1510 1145.6L1512 1146.3L1514 1146.9L1516 1147.6L1518 1148.2L1520 1148.9L1522 1149.5L1524 1150.1L1526 1150.7L1528 1151.4L1530 1152L1532 1152.6L1534 1153.2L1536 1153.8L1538 1154.4L1540 1155L1542 1155.6L1544 1156.1L1546 1156.7L1548 1157.3L1550 1157.8L1552 1158.4L1554 1158.9L1556 1159.4L1558 1160L1560 1160.5L1562 1161L1564 1161.5L1566 1162L1568 1162.5L1570 1163L1572 1163.5L1574 1163.9L1576 1164.4L1578 1164.9L1580 1165.3L1582 1165.8L1584 1166.2L1586 1166.6L1588 1167.1L1590 1167.5L1592 1167.9L1594 1168.4L1596 1168.8L1598 1169.2L1600 1169.6L1602 1170L1604 1170.4L1606 1170.8L1608 1171.2L1610 1171.6L1612 1172L1614 1172.4L1616 1172.8L1618 1173.2L1620 1173.6L1622 1174L1624 1174.3L1626 1174.7L1628 1175.1L1630 1175.5L1632 1175.8L1634 1176.2L1636 1176.6L1638 1177L1640 1177.3L1642 1177.7L1644 1178.1L1646 1178.4L1648 1178.8L1650 1179.2L1652 1179.5L1654 1179.9L1656 1180.3L1658 1180.6L1660 1181L1662 1181.4L1664 1181.8L1666 1182.1L1668 1182.5L1670 1182.9L1672 1183.2L1674 1183.6L1676 1184L1678 1184.4L1680 1184.7L1682 1185.1L1684 1185.5L1686 1185.8L1688 1186.2L1690 1186.6L1692 1186.9L1694 1187.3L1696 1187.7L1698 1188L1700 1188.4L1702 1188.8L1704 1189.1L1706 1189.5L1708 1189.9L1710 1190.2L1712 1190.6L1714 1190.9L1716 1191.3L1718 1191.6L1720 1192L1722 1192.3L1724 1192.7L1726 1193L1728 1193.4L1730 1193.7L1732 1194.1L1734 1194.4L1736 1194.8L1738 1195.1L1740 1195.4L1742 1195.8L1744 1196.1L1746 1196.5L1748 1196.8L1750 1197.1L1752 1197.4L1754 1197.8L1756 1198.1L1758 1198.4L1760 1198.7L1762 1199.1L1764 1199.4L1766 1199.7L1768 1200L1770 1200.3L1772 1200.6L1774 1200.9L1776 1201.2L1778 1201.5L1780 1201.8L1782 1202.1L1784 1202.5L1786 1202.8L1788 1203.1L1790 1203.4L1792 1203.6L1794 1203.9L1796 1204.2L1798 1204.5L1800 1204.8L1802 1205.1L1804 1205.4L1806 1205.7L1808 1206L1810 1206.3L1812 1206.6L1814 1206.8L1816 1207.1L1818 1207.4L1820 1207.7L1822 1208L1824 1208.2L1826 1208.5L1828 1208.8L1830 1209.1L1832 1209.3L1834 1209.6L1836 1209.9L1838 1210.1L1840 1210.4L1842 1210.7L1844 1210.9L1846 1211.2L1848 1211.5L1850 1211.7L1852 1212L1854 1212.2L1856 1212.5L1858 1212.8L1860 1213L1862 1213.3L1864 1213.5L1866 1213.8L1868 1214L1870 1214.2L1872 1214.5L1874 1214.7L1876 1215L1878 1215.2L1880 1215.5L1882 1215.7L1884 1215.9L1886 1216.2L1888 1216.4L1890 1216.6L1892 1216.9L1894 1217.1L1896 1217.3L1898 1217.6L1900 1217.8L1902 1218L1904 1218.3L1906 1218.5L1908 1218.7L1910 1218.9L1912 1219.2L1914 1219.4L1916 1219.6L1918 1219.8L1920 1220.1L1922 1220.3L1924 1220.5L1926 1220.7L1928 1220.9L1930 1221.1L1932 1221.3L1934 1221.6L1936 1221.8L1938 1222L1940 1222.2L1942 1222.4L1944 1222.6L1946 1222.8L1948 1223L1950 1223.2L1952 1223.4L1954 1223.6L1956 1223.8L1958 1224L1960 1224.2L1962 1224.4L1964 1224.6L1966 1224.8L1968 1225L1970 1225.2L1972 1225.4L1974 1225.6L1976 1225.8L1978 1226L1980 1226.1L1982 1226.3L1984 1226.5L1986 1226.7L1988 1226.9L1990 1227.1L1992 1227.3L1994 1227.5L1996 1227.6L1998 1227.8L2000 1228L2002 1228.2L2004 1228.4L2006 1228.5L2008 1228.7L2010 1228.9L2012 1229.1L2014 1229.3L2016 1229.4L2018 1229.6L2020 1229.8L2022 1230L2024 1230.1L2026 1230.3L2028 1230.5L2030 1230.7L2032 1230.8L2034 1231L2036 1231.2L2038 1231.3L2040 1231.5L2042 1231.7L2044 1231.8L2046 1232L2048 1232.2L2050 1232.3L2052 1232.5L2054 1232.6L2056 1232.8L2058 1233L2060 1233.1L2062 1233.3L2064 1233.4L2066 1233.6L2068 1233.7L2070 1233.9L2072 1234L2074 1234.2L2076 1234.3L2078 1234.5L2080 1234.6L2082 1234.8L2084 1234.9L2085 1235" fill="none" stroke="#10107f" stroke-width="9" stroke-linejoin="round" stroke-linecap="butt" />
<path d="M334 752L336 751.3L338 750.5L340 749.4L342 748.1L344 746.4L346 744.5L348 742.5L350 740.2L352 737.9L354 735.6L356 733.3L358 731L360 728.8L362 726.7L364 724.8L366 723.2L368 721.6L370 720.1L372 718.6L374 717.2L376 715.8L378 714.5L380 713.1L382 711.8L384 710.5L386 709.3L388 708L390 706.8L392 705.5L394 704.3L396 703L398 701.8L400 700.6L402 699.5L404 698.4L406 697.3L408 696.2L410 695.1L412 693.8L414 692.5L416 691L418 689.4L420 687.6L422 685.7L424 683.6L426 681.5L428 679.2L430 676.9L432 674.5L434 672L436 669.5L438 667L440 664.4L442 661.6L444 658.7L446 655.7L448 652.7L450 649.5L452 646.4L454 643.2L456 640.1L458 637L460 633.9L462 631L464 628.2L466 625.4L468 622.6L470 619.9L472 617.2L474 614.5L476 611.8L478 609L480 606.2L482 603.4L484 600.6L486 597.6L488 594.7L490 591.7L492 588.8L494 585.7L496 582.7L498 579.7L500 576.6L502 573.5L504 570.5L506 567.4L508 564.2L510 561.1L512 557.9L514 554.8L516 551.6L518 548.4L520 545.2L522 542L524 538.8L526 535.6L528 532.4L530 529.2L532 525.9L534 522.7L536 519.4L538 516.2L540 512.9L542 509.7L544 506.4L546 503.1L548 499.9L550 496.6L552 493.4L554 490.1L556 486.8L558 483.5L560 480.2L562 476.9L564 473.6L566 470.4L568 467.2L570 464.1L572 461L574 458L576 455.1L578 452.3L580 449.6L582 446.8L584 444.1L586 441.4L588 438.6L590 435.8L592 432.9L594 430L596 426.9L598 423.6L600 420.1L602 416.7L604 413.2L606 409.8L608 406.7L610 403.7L612 401.1L614 398.9L616 396.6L618 394.4L620 392.1L622 389.9L624 387.8L626 385.8L628 383.9L630 382.3L632 380.8L634 379.6L636 378.8L638 378.2L640 378L642 378L644 378.1L646 378.2L648 378.4L650 378.6L652 378.8L654 379L656 379.3L658 379.7L660 380L662 380.5L664 381.4L666 382.6L668 384L670 385.6L672 387.4L674 389.2L676 391.1L678 392.9L680 395L682 397.3L684 399.8L686 402.4L688 405.3L690 408.2L692 411.4L694 414.7L696 418.4L698 422.4L700 426.7L702 431.2L704 435.8L706 440.6L708 445.4L710 450.4L712 455.6L714 460.9L716 466.4L718 472.1L720 477.9L722 483.9L724 490.1L726 496.7L728 503.5L730 510.6L732 517.9L734 525.2L736 532.6L738 539.8L740 547L742 554.1L744 561.3L746 568.5L748 575.7L750 582.8L752 589.9L754 596.9L756 603.7L758 610.3L760 616.9L762 623.3L764 629.7L766 636L768 642.2L770 648.2L772 654.1L774 659.9L776 665.4L778 670.8L780 676.1L782 681.4L784 686.7L786 692L788 697.4L790 702.8L792 708L794 713L796 717.7L798 722.2L800 726.5L802 730.7L804 734.7L806 738.6L808 742.1L810 745.5L812 748.5L814 751.3L816 753.9L818 756.5L820 758.9L822 761.2L824 763.4L826 765.6L828 767.7L830 769.9L832 772.1L834 774.3L836 776.4L838 778.5L840 780.6L842 782.6L844 784.6L846 786.6L848 788.5L850 790.3L852 792.1L854 793.9L856 795.6L858 797.2L860 798.9L862 800.5L864 802.1L866 803.6L868 805.2L870 806.7L872 808.1L874 809.6L876 811L878 812.3L880 813.7L882 815L884 816.3L886 817.6L888 818.9L890 820.1L892 821.4L894 822.6L896 823.8L898 824.9L900 826.1L902 827.2L904 828.2L906 829.2L908 830.2L910 831.1L912 832L914 832.8L916 833.6L918 834.4L920 835.2L922 835.9L924 836.6L926 837.3L928 837.9L930 838.6L932 839.2L934 839.8L936 840.4L938 840.9L940 841.5L942 842L944 842.5L946 843L948 843.5L950 844L952 844.5L954 845L956 845.5L958 845.9L960 846.3L962 846.8L964 847.2L966 847.5L968 847.9L970 848.2L972 848.6L974 848.9L976 849.1L978 849.4L980 849.7L982 849.9L984 850.2L986 850.4L988 850.6L990 850.9L992 851.1L994 851.3L996 851.5L998 851.8L1000 852L1002 852.2L1004 852.4L1006 852.6L1008 852.7L1010 852.9L1012 853.1L1014 853.3L1016 853.5L1018 853.6L1020 853.8L1022 854L1024 854.1L1026 854.3L1028 854.4L1030 854.6L1032 854.7L1034 854.9L1036 855L1038 855.2L1040 855.3L1042 855.5L1044 855.6L1046 855.7L1048 855.9L1050 856L1052 856.1L1054 856.3L1056 856.4L1058 856.5L1060 856.6L1062 856.8L1064 856.9L1066 857L1068 857.1L1070 857.2L1072 857.3L1074 857.4L1076 857.6L1078 857.7L1080 857.8L1082 857.9L1084 858L1086 858.1L1088 858.2L1090 858.3L1092 858.4L1094 858.5L1096 858.6L1098 858.7L1100 858.8L1102 858.9L1104 859L1106 859.1L1108 859.1L1110 859.2L1112 859.3L1114 859.4L1116 859.5L1118 859.6L1120 859.7L1122 859.8L1124 859.9L1126 860L1128 860L1130 860.1L1132 860.2L1134 860.3L1136 860.4L1138 860.5L1140 860.6L1142 860.6L1144 860.7L1146 860.8L1148 860.9L1150 861L1152 861.1L1154 861.2L1156 861.3L1158 861.3L1160 861.4L1162 861.5L1164 861.6L1166 861.6L1168 861.7L1170 861.8L1172 861.8L1174 861.9L1176 862L1178 862L1180 862.1L1182 862.2L1184 862.2L1186 862.3L1188 862.4L1190 862.4L1192 862.5L1194 862.6L1196 862.7L1198 862.7L1200 862.8L1202 862.9L1204 863L1206 863L1208 863.1L1210 863.2L1212 863.3L1214 863.4L1216 863.5L1218 863.6L1220 863.7L1222 863.8L1224 863.9L1226 864.1L1228 864.2L1230 864.3L1232 864.5L1234 864.6L1236 864.8L1238 864.9L1240 865.1L1242 865.3L1244 865.5L1246 865.7L1248 865.9L1250 866.1L1252 866.3L1254 866.5L1256 866.7L1258 867L1260 867.2L1262 867.5L1264 867.7L1266 868L1268 868.2L1270 868.5L1272 868.8L1274 869.1L1276 869.4L1278 869.7L1280 870L1282 870.3L1284 870.7L1286 871.1L1288 871.5L1290 871.9L1292 872.4L1294 872.9L1296 873.4L1298 873.9L1300 874.5L1302 875L1304 875.6L1306 876.2L1308 876.8L1310 877.4L1312 878L1314 878.6L1316 879.2L1318 879.8L1320 880.5L1322 881.1L1324 881.7L1326 882.3L1328 882.9L1330 883.6L1332 884.3L1334 885L1336 885.7L1338 886.4L1340 887.2L1342 888L1344 888.7L1346 889.5L1348 890.3L1350 891L1352 891.8L1354 892.6L1356 893.4L1358 894.1L1360 894.9L1362 895.6L1364 896.4L1366 897.1L1368 897.8L1370 898.4L1372 899.1L1374 899.7L1376 900.3L1378 900.9L1380 901.5L1382 902.1L1384 902.7L1386 903.2L1388 903.8L1390 904.4L1392 904.9L1394 905.5L1396 906L1398 906.6L1400 907.1L1402 907.6L1404 908.1L1406 908.6L1408 909L1410 909.4L1412 909.9L1414 910.3L1416 910.6L1418 911L1420 911.3L1422 911.7L1424 912L1426 912.2L1428 912.5L1430 912.8L1432 913L1434 913.3L1436 913.5L1438 913.8L1440 914L1442 914.2L1444 914.5L1446 914.7L1448 914.9L1450 915.1L1452 915.3L1454 915.5L1456 915.8L1458 916L1460 916.2L1462 916.4L1464 916.6L1466 916.8L1468 917L1470 917.2L1472 917.3L1474 917.5L1476 917.7L1478 917.9L1480 918L1482 918.2L1484 918.4L1486 918.5L1488 918.7L1490 918.8L1492 918.9L1494 919.1L1496 919.2L1498 919.3L1500 919.4L1502 919.5L1504 919.6L1506 919.7L1508 919.7L1510 919.8L1512 919.9L1514 919.9L1516 920L1518 920L1520 920.1L1522 920.1L1524 920.2L1526 920.2L1528 920.3L1530 920.4L1532 920.4L1534 920.5L1536 920.6L1538 920.6L1540 920.7L1542 920.8L1544 920.9L1546 921L1548 921.2L1550 921.3L1552 921.4L1554 921.6L1556 921.8L1558 922L1560 922.2L1562 922.4L1564 922.8L1566 923.9L1568 925.6L1570 927.3L1572 928.6L1574 929.3L1576 929.8L1578 930.2L1580 930.7L1582 931.1L1584 931.5L1586 931.9L1588 932.3L1590 932.7L1592 933L1594 933.4L1596 933.7L1598 934L1600 934.3L1602 934.6L1604 934.8L1606 935.1L1608 935.3L1610 935.5L1612 935.8L1614 936L1616 936.2L1618 936.4L1620 936.6L1622 936.8L1624 937L1626 937.1L1628 937.3L1630 937.5L1632 937.7L1634 937.8L1636 938L1638 938.2L1640 938.3L1642 938.5L1644 938.6L1646 938.8L1648 939L1650 939.2L1652 939.3L1654 939.5L1656 939.7L1658 939.9L1660 940.1L1662 940.3L1664 940.5L1666 940.8L1668 941L1670 941.2L1672 941.5L1674 941.7L1676 942L1678 942.2L1680 942.5L1682 942.7L1684 943L1686 943.2L1688 943.4L1690 943.7L1692 943.9L1694 944.2L1696 944.4L1698 944.7L1700 944.9L1702 945.2L1704 945.4L1706 945.7L1708 945.9L1710 946.2L1712 946.4L1714 946.6L1716 946.9L1718 947.1L1720 947.4L1722 947.6L1724 947.8L1726 948.1L1728 948.3L1730 948.5L1732 948.8L1734 949L1736 949.2L1738 949.4L1740 949.7L1742 949.9L1744 950.1L1746 950.3L1748 950.5L1750 950.7L1752 950.9L1754 951.1L1756 951.4L1758 951.6L1760 951.7L1762 951.9L1764 952.1L1766 952.3L1768 952.5L1770 952.7L1772 952.9L1774 953L1776 953.2L1778 953.4L1780 953.5L1782 953.7L1784 953.9L1786 954L1788 954.2L1790 954.3L1792 954.5L1794 954.7L1796 954.8L1798 955L1800 955.1L1802 955.2L1804 955.4L1806 955.5L1808 955.7L1810 955.8L1812 956L1814 956.1L1816 956.2L1818 956.4L1820 956.5L1822 956.7L1824 956.8L1826 956.9L1828 957.1L1830 957.2L1832 957.4L1834 957.5L1836 957.6L1838 957.8L1840 957.9L1842 958.1L1844 958.2L1846 958.3L1848 958.5L1850 958.6L1852 958.8L1854 958.9L1856 959.1L1858 959.2L1860 959.4L1862 959.5L1864 959.7L1866 959.8L1868 960L1870 960.2L1872 960.3L1874 960.5L1876 960.7L1878 960.8L1880 961L1882 961.2L1884 961.3L1886 961.5L1888 961.7L1890 961.9L1892 962L1894 962.2L1896 962.4L1898 962.6L1900 962.8L1902 962.9L1904 963.1L1906 963.3L1908 963.5L1910 963.7L1912 963.9L1914 964L1916 964.2L1918 964.4L1920 964.6L1922 964.8L1924 964.9L1926 965.1L1928 965.3L1930 965.5L1932 965.7L1934 965.8L1936 966L1938 966.2L1940 966.3L1942 966.5L1944 966.7L1946 966.8L1948 967L1950 967.2L1952 967.3L1954 967.5L1956 967.6L1958 967.8L1960 967.9L1962 968.1L1964 968.2L1966 968.4L1968 968.5L1970 968.6L1972 968.8L1974 968.9L1976 969L1978 969.2L1980 969.3L1982 969.4L1984 969.6L1986 969.7L1988 969.8L1990 969.9L1992 970.1L1994 970.2L1996 970.3L1998 970.5L2000 970.6L2002 970.7L2004 970.8L2006 971L2008 971.1L2010 971.2L2012 971.3L2014 971.4L2016 971.6L2018 971.7L2020 971.8L2022 971.9L2024 972L2026 972.1L2028 972.2L2030 972.4L2032 972.5L2034 972.6L2036 972.7L2038 972.8L2040 972.9L2042 973L2044 973.1L2046 973.2L2048 973.3L2050 973.4L2052 973.5L2054 973.6L2056 973.7L2058 973.8L2060 973.9L2062 974L2064 974.1L2066 974.2L2068 974.3L2070 974.4L2072 974.5L2074 974.5L2076 974.6L2078 974.7L2080 974.8L2082 974.9L2084 975L2085 975" fill="none" stroke="#0a0a0a" stroke-width="8.5" stroke-linejoin="round" stroke-linecap="butt" />
<path d="M334 748L335 746.6L336 745.3L337 744L338 742.7L339 741.4L340 740.2L341 739L342 737.9L343 736.9L344 735.9L345 735L346 734.2L347 733.4L348 732.6L349 731.8L350 731.1L351 730.5L352 729.8L353 729.2L354 728.5L355 727.9L356 727.3L357 726.7L358 726.2L359 725.6L360 725L361 724.4L362 723.8L363 723.2L364 722.6L365 722L366 721.4L367 720.7L368 720.1L369 719.5L370 718.9L371 718.2L372 717.6L373 717L374 716.4L375 715.8L376 715.2L377 714.5L378 713.9L379 713.3L380 712.7L381 712.1L382 711.5L383 710.9L384 710.3L385 709.7L386 709.1L387 708.4L388 707.8L389 707.2L390 706.6L391 706L392 705.4L393 704.8L394 704.2L395 703.6L396 703L397 702.4L398 701.8L399 701.3L400 700.7L401 700.1L402 699.6L403 699.1L404 698.5L405 698L406 697.4L407 696.9L408 696.3L409 695.7L410 695.1L411 694.5L412 693.8L413 693.2L414 692.5L415 691.8L416 691L417 690.2L418 689.4L419 688.5L420 687.6L421 686.7L422 685.7L423 684.7L424 683.6L425 682.6L426 681.5L427 680.3L428 679.2L429 678L430 676.9L431 675.7L432 674.5L433 673.2L434 672L435 670.8L436 669.5L437 668.3L438 667L439 665.7L440 664.4L441 663L442 661.6L443 660.2L444 658.7L445 657.3L446 655.7L447 654.2L448 652.7L449 651.1L450 649.5L451 648L452 646.4L453 644.8L454 643.2L455 641.6L456 640.1L457 638.5L458 637L459 635.4L460 633.9L461 632.5L462 631L463 629.6L464 628.2L465 626.8L466 625.4L467 624L468 622.6L469 621.2L470 619.9L471 618.5L472 617.2L473 615.8L474 614.5L475 613.1L476 611.8L477 610.4L478 609L479 607.6L480 606.2L481 604.8L482 603.4L483 602L484 600.6L485 599.1L486 597.6L487 596.2L488 594.7L489 593.2L490 591.7L491 590.3L492 588.8L493 587.3L494 585.7L495 584.2L496 582.7L497 581.2L498 579.7L499 578.1L500 576.6L501 575.1L502 573.5L503 572L504 570.5L505 568.9L506 567.4L507 565.8L508 564.2L509 562.7L510 561.1L511 559.5L512 557.9L513 556.4L514 554.8L515 553.2L516 551.6L517 550L518 548.4L519 546.8L520 545.2L521 543.6L522 542L523 540.4L524 538.8L525 537.2L526 535.6L527 534L528 532.4L529 530.8L530 529.2L531 527.6L532 525.9L533 524.3L534 522.7L535 521.1L536 519.4L537 517.8L538 516.2L539 514.6L540 512.9L541 511.3L542 509.7L543 508L544 506.4L545 504.8L546 503.1L547 501.5L548 499.9L549 498.2L550 496.6L551 495L552 493.4L553 491.7L554 490.1L555 488.4L556 486.8L557 485.1L558 483.5L559 481.8L560 480.2L561 478.5L562 476.9L563 475.2L564 473.6L565 472L566 470.4L567 468.8L568 467.2L569 465.6L570 464.1L571 462.5L572 461L573 459.5L574 458L575 456.6L576 455.1L577 453.7L578 452.3L579 450.9L580 449.6L581 448.2L582 446.8L583 445.5L584 444.1L585 442.7L586 441.4L587 440L588 438.6L589 437.2L590 435.8L591 434.4L592 432.9L593 431.5L594 430L595 428.5L596 426.9L597 425.3L598 423.6L599 421.9L600 420.2L601 418.5L602 416.7L603 415L604 413.3L605 411.6L606 409.9L607 408.3L608 406.8L609 405.2L610 403.8L611 402.4L612 401.2L613 400L614 398.9L615 397.9L616 396.9L617 396L618 395.1L619 394.2L620 393.4L621 392.6L622 391.8L623 391L624 390.2L625 389.4L626 388.5L627 387.7L628 386.8L629 385.9L630 385L631 384L632 383L633 381.9L634 380.8L635 379.6L636 378.4L637 377.3L638 376.1L639 374.9L640 373.8L641 372.7L642 371.6L643 370.5L644 369.5L645 368.6L646 367.8L647 367L648 366.3L649 365.7L650 365L651 364.5L652 364L653 363.5L654 363L655 362.5L656 362.1L657 361.6L658 361.2L659 360.7L660 360.3L661 359.8L662 359.2L663 358.7L664 358.1L665 357.5L666 356.8L667 356L668 355.1L669 354L670 352.7L671 351.3L672 349.9L673 348.5L674 347.1L675 345.9L676 344.8L677 344L678 343.3L679 342.6L680 341.9L681 341.2L682 340.6L683 340.1L684 339.6L685 339.3L686 339.1L687 339L688 339.1L689 339.2L690 339.4L691 339.7L692 340.1L693 340.5L694 341L695 341.5L696 342L697 342.7L698 343.6L699 344.7L700 345.9L701 347.2L702 348.6L703 350L704 351.4L705 352.9L706 354.5L707 356.1L708 357.8L709 359.6L710 361.5L711 363.4L712 365.4L713 367.5L714 369.7L715 372L716 374.4L717 377.1L718 379.9L719 382.8L720 386L721 389.2L722 392.5L723 395.9L724 399.4L725 402.9L726 406.5L727 410L728 413.6L729 417.3L730 421.1L731 425L732 428.9L733 433L734 437L735 441.2L736 445.3L737 449.5L738 453.7L739 457.8L740 462L741 466.2L742 470.5L743 474.8L744 479.2L745 483.6L746 488L747 492.4L748 496.7L749 500.9L750 505L751 509L752 513L753 516.9L754 520.8L755 524.6L756 528.4L757 532.1L758 535.8L759 539.4L760 543L761 546.5L762 550L763 553.5L764 556.9L765 560.2L766 563.5L767 566.8L768 570L769 573.1L770 576.2L771 579.2L772 582.1L773 585L774 588L775 590.9L776 593.9L777 597L778 600.2L779 603.5L780 606.9L781 610.3L782 613.6L783 616.9L784 620.1L785 623L786 625.7L787 628.3L788 630.7L789 633L790 635.3L791 637.6L792 640L793 642.5L794 645.1L795 648L796 651.2L797 654.8L798 658.7L799 662.6L800 666.4L801 669.9L802 673L803 675.7L804 678.3L805 680.8L806 683.1L807 685.3L808 687.5L809 689.6L810 691.7L811 693.7L812 695.9L813 698L814 700.2L815 702.3L816 704.4L817 706.5L818 708.6L819 710.7L820 712.8L821 714.8L822 716.9L823 718.9L824 721L825 723L826 725.1L827 727.1L828 729.2L829 731.3L830 733.4L831 735.4L832 737.5L833 739.5L834 741.5L835 743.4L836 745.2L837 747L838 748.7L839 750.4L840 752.1L841 753.7L842 755.3L843 756.8L844 758.3L845 759.8L846 761.3L847 762.8L848 764.3L849 765.7L850 767.1L851 768.6L852 770L853 771.4L854 772.9L855 774.3L856 775.8L857 777.2L858 778.6L859 780L860 781.4L861 782.8L862 784.1L863 785.4L864 786.6L865 787.8L866 788.9L867 790L868 791L869 792L870 792.9L871 793.8L872 794.7L873 795.6L874 796.4L875 797.2L876 798L877 798.8L878 799.6L879 800.3L880 801.1L881 801.8L882 802.6L883 803.3L884 804.1L885 804.9L886 805.7L887 806.5L888 807.3L889 808.1L890 809L891 809.9L892 810.8L893 811.7L894 812.7L895 813.6L896 814.6L897 815.6L898 816.5L899 817.5L900 818.5L901 819.5L902 820.5L903 821.5L904 822.4L905 823.4L906 824.3L907 825.3L908 826.2L909 827.1L910 828L911 828.9L912 829.8L913 830.7L914 831.6L915 832.5L916 833.4L917 834.3L918 835.2L919 836.1L920 837L921 837.9L922 838.8L923 839.6L924 840.4L925 841.2L926 842L927 842.8L928 843.5L929 844.2L930 844.8L931 845.4L932 846L933 846.5L934 847.1L935 847.6L936 848.1L937 848.5L938 849L939 849.4L940 849.9L941 850.3L942 850.7L943 851.1L944 851.5L945 851.9L946 852.3L947 852.6L948 853L949 853.4L950 853.7L951 854.1L952 854.5L953 854.9L954 855.2L955 855.6L956 856L957 856.4L958 856.8L959 857.2L960 857.6L961 858L962 858.4L963 858.8L964 859.2L965 859.6L966 860.1L967 860.5L968 860.9L969 861.3L970 861.6L971 862L972 862.4L973 862.8L974 863.2L975 863.5L976 863.9L977 864.2L978 864.5L979 864.9L980 865.2L981 865.5L982 865.7L983 866L984 866.3L985 866.5L986 866.7L987 867L988 867.2L989 867.4L990 867.7L991 867.9L992 868.1L993 868.3L994 868.5L995 868.7L996 868.9L997 869.1L998 869.2L999 869.4L1000 869.6L1001 869.8L1002 870L1003 870.1L1004 870.3L1005 870.5L1006 870.7L1007 870.8L1008 871L1009 871.2L1010 871.3L1011 871.5L1012 871.6L1013 871.8L1014 872L1015 872.1L1016 872.2L1017 872.4L1018 872.5L1019 872.7L1020 872.8L1021 873L1022 873.1L1023 873.2L1024 873.4L1025 873.5L1026 873.7L1027 873.8L1028 873.9L1029 874.1L1030 874.2L1031 874.4L1032 874.5L1033 874.7L1034 874.8L1035 875L1036 875.2L1037 875.3L1038 875.5L1039 875.7L1040 875.9L1041 876.1L1042 876.3L1043 876.5L1044 876.8L1045 877L1046 877.2L1047 877.4L1048 877.6L1049 877.8L1050 878L1051 878.2L1052 878.4L1053 878.6L1054 878.8L1055 879L1056 879.2L1057 879.3L1058 879.5L1059 879.6L1060 879.7L1061 879.9L1062 880L1063 880L1064 880.1L1065 880.2L1066 880.3L1067 880.3L1068 880.4L1069 880.5L1070 880.5L1071 880.6L1072 880.6L1073 880.7L1074 880.7L1075 880.8L1076 880.8L1077 880.9L1078 880.9L1079 881L1080 881L1081 881L1082 881.1L1083 881.1L1084 881.2L1085 881.2L1086 881.3L1087 881.4L1088 881.4L1089 881.5L1090 881.6L1091 881.6L1092 881.7L1093 881.8L1094 881.9L1095 882L1096 882L1097 882.1L1098 882.2L1099 882.3L1100 882.4L1101 882.5L1102 882.6L1103 882.7L1104 882.8L1105 882.9L1106 883L1107 883.1L1108 883.2L1109 883.3L1110 883.4L1111 883.5L1112 883.6L1113 883.7L1114 883.8L1115 883.9L1116 884L1117 884.1L1118 884.2L1119 884.3L1120 884.5L1121 884.6L1122 884.7L1123 884.8L1124 885L1125 885.1L1126 885.2L1127 885.4L1128 885.5L1129 885.6L1130 885.8L1131 885.9L1132 886.1L1133 886.2L1134 886.3L1135 886.5L1136 886.6L1137 886.7L1138 886.8L1139 887L1140 887.1L1141 887.2L1142 887.3L1143 887.4L1144 887.6L1145 887.7L1146 887.8L1147 887.9L1148 888L1149 888.1L1150 888.2L1151 888.3L1152 888.3L1153 888.4L1154 888.5L1155 888.6L1156 888.7L1157 888.8L1158 888.9L1159 889L1160 889.1L1161 889.2L1162 889.2L1163 889.3L1164 889.4L1165 889.5L1166 889.6L1167 889.7L1168 889.8L1169 889.9L1170 890L1171 890.1L1172 890.2L1173 890.3L1174 890.4L1175 890.5L1176 890.6L1177 890.7L1178 890.8L1179 890.9L1180 891L1181 891.1L1182 891.3L1183 891.4L1184 891.5L1185 891.6L1186 891.7L1187 891.8L1188 891.9L1189 892L1190 892.1L1191 892.2L1192 892.4L1193 892.5L1194 892.6L1195 892.7L1196 892.8L1197 892.9L1198 893.1L1199 893.2L1200 893.3L1201 893.4L1202 893.5L1203 893.6L1204 893.8L1205 893.9L1206 894L1207 894.1L1208 894.2L1209 894.3L1210 894.5L1211 894.6L1212 894.7L1213 894.8L1214 894.9L1215 895.1L1216 895.2L1217 895.3L1218 895.5L1219 895.6L1220 895.7L1221 895.9L1222 896L1223 896.2L1224 896.3L1225 896.5L1226 896.7L1227 896.8L1228 897L1229 897.2L1230 897.4L1231 897.5L1232 897.7L1233 897.9L1234 898.1L1235 898.3L1236 898.5L1237 898.8L1238 899L1239 899.2L1240 899.4L1241 899.6L1242 899.9L1243 900.1L1244 900.3L1245 900.6L1246 900.8L1247 901.1L1248 901.3L1249 901.6L1250 901.8L1251 902.1L1252 902.4L1253 902.6L1254 902.9L1255 903.2L1256 903.5L1257 903.8L1258 904.1L1259 904.5L1260 904.8L1261 905.1L1262 905.5L1263 905.8L1264 906.2L1265 906.6L1266 906.9L1267 907.3L1268 907.6L1269 908L1270 908.4L1271 908.7L1272 909.1L1273 909.5L1274 909.8L1275 910.2L1276 910.5L1277 910.8L1278 911.2L1279 911.5L1280 911.8L1281 912.1L1282 912.4L1283 912.7L1284 913L1285 913.3L1286 913.6L1287 913.9L1288 914.2L1289 914.5L1290 914.8L1291 915.1L1292 915.4L1293 915.7L1294 916L1295 916.3L1296 916.7L1297 917L1298 917.3L1299 917.7L1300 918L1301 918.4L1302 918.8L1303 919.2L1304 919.6L1305 920L1306 920.5L1307 920.9L1308 921.4L1309 921.9L1310 922.4L1311 922.9L1312 923.4L1313 923.9L1314 924.4L1315 924.9L1316 925.5L1317 926L1318 926.6L1319 927.1L1320 927.7L1321 928.3L1322 928.9L1323 929.4L1324 930L1325 930.6L1326 931.2L1327 931.8L1328 932.4L1329 933L1330 933.7L1331 934.3L1332 935L1333 935.7L1334 936.3L1335 937L1336 937.7L1337 938.4L1338 939.1L1339 939.9L1340 940.6L1341 941.3L1342 942L1343 942.7L1344 943.4L1345 944.1L1346 944.8L1347 945.5L1348 946.2L1349 946.8L1350 947.5L1351 948.1L1352 948.8L1353 949.4L1354 950.1L1355 950.7L1356 951.4L1357 952L1358 952.6L1359 953.3L1360 953.9L1361 954.5L1362 955.2L1363 955.8L1364 956.4L1365 957L1366 957.6L1367 958.2L1368 958.8L1369 959.4L1370 960L1371 960.6L1372 961.2L1373 961.8L1374 962.4L1375 962.9L1376 963.5L1377 964.1L1378 964.6L1379 965.2L1380 965.8L1381 966.3L1382 966.9L1383 967.4L1384 968L1385 968.5L1386 969L1387 969.6L1388 970.1L1389 970.6L1390 971.2L1391 971.7L1392 972.2L1393 972.7L1394 973.2L1395 973.7L1396 974.3L1397 974.8L1398 975.2L1399 975.7L1400 976.2L1401 976.7L1402 977.2L1403 977.6L1404 978.1L1405 978.6L1406 979L1407 979.5L1408 979.9L1409 980.4L1410 980.8L1411 981.3L1412 981.7L1413 982.2L1414 982.6L1415 983.1L1416 983.5L1417 984L1418 984.4L1419 984.9L1420 985.3L1421 985.8L1422 986.3L1423 986.7L1424 987.2L1425 987.7L1426 988.2L1427 988.7L1428 989.2L1429 989.7L1430 990.2L1431 990.7L1432 991.2L1433 991.7L1434 992.2L1435 992.7L1436 993.2L1437 993.7L1438 994.2L1439 994.7L1440 995.1L1441 995.6L1442 996.1L1443 996.5L1444 997L1445 997.4L1446 997.9L1447 998.3L1448 998.7L1449 999.1L1450 999.5L1451 999.9L1452 1000.3L1453 1000.7L1454 1001L1455 1001.4L1456 1001.8L1457 1002.1L1458 1002.5L1459 1002.8L1460 1003.2L1461 1003.5L1462 1003.9L1463 1004.2L1464 1004.6L1465 1004.9L1466 1005.3L1467 1005.6L1468 1005.9L1469 1006.3L1470 1006.6L1471 1007L1472 1007.3L1473 1007.7L1474 1008L1475 1008.4L1476 1008.7L1477 1009.1L1478 1009.4L1479 1009.8L1480 1010.1L1481 1010.5L1482 1010.8L1483 1011.2L1484 1011.5L1485 1011.8L1486 1012.2L1487 1012.5L1488 1012.9L1489 1013.2L1490 1013.5L1491 1013.9L1492 1014.2L1493 1014.5L1494 1014.9L1495 1015.2L1496 1015.5L1497 1015.8L1498 1016.2L1499 1016.5L1500 1016.8L1501 1017.1L1502 1017.4L1503 1017.7L1504 1018.1L1505 1018.4L1506 1018.7L1507 1019L1508 1019.3L1509 1019.6L1510 1019.9L1511 1020.2L1512 1020.5L1513 1020.8L1514 1021.1L1515 1021.4L1516 1021.7L1517 1022L1518 1022.3L1519 1022.6L1520 1022.9L1521 1023.1L1522 1023.4L1523 1023.7L1524 1024L1525 1024.3L1526 1024.6L1527 1024.8L1528 1025.1L1529 1025.3L1530 1025.6L1531 1025.8L1532 1026.1L1533 1026.3L1534 1026.6L1535 1026.8L1536 1027.1L1537 1027.3L1538 1027.6L1539 1027.8L1540 1028.1L1541 1028.3L1542 1028.6L1543 1028.9L1544 1029.1L1545 1029.4L1546 1029.7L1547 1030L1548 1030.3L1549 1030.7L1550 1031L1551 1031.4L1552 1031.7L1553 1032.1L1554 1032.6L1555 1033L1556 1033.5L1557 1034L1558 1034.5L1559 1035L1560 1035.5L1561 1036L1562 1036.5L1563 1037.1L1564 1037.6L1565 1038.1L1566 1038.6L1567 1039.1L1568 1039.6L1569 1040.1L1570 1040.5L1571 1041L1572 1041.4L1573 1041.8L1574 1042.2L1575 1042.5L1576 1042.8L1577 1043.1L1578 1043.4L1579 1043.7L1580 1044L1581 1044.3L1582 1044.5L1583 1044.8L1584 1045.1L1585 1045.3L1586 1045.6L1587 1045.8L1588 1046L1589 1046.3L1590 1046.5L1591 1046.7L1592 1047L1593 1047.2L1594 1047.4L1595 1047.6L1596 1047.9L1597 1048.1L1598 1048.3L1599 1048.5L1600 1048.8L1601 1049L1602 1049.2L1603 1049.5L1604 1049.7L1605 1049.9L1606 1050.1L1607 1050.4L1608 1050.6L1609 1050.8L1610 1051L1611 1051.2L1612 1051.4L1613 1051.7L1614 1051.9L1615 1052.1L1616 1052.3L1617 1052.5L1618 1052.7L1619 1053L1620 1053.2L1621 1053.4L1622 1053.6L1623 1053.8L1624 1054.1L1625 1054.3L1626 1054.5L1627 1054.8L1628 1055L1629 1055.2L1630 1055.5L1631 1055.7L1632 1056L1633 1056.2L1634 1056.5L1635 1056.8L1636 1057L1637 1057.3L1638 1057.6L1639 1057.8L1640 1058.1L1641 1058.4L1642 1058.6L1643 1058.9L1644 1059.2L1645 1059.4L1646 1059.7L1647 1060L1648 1060.2L1649 1060.5L1650 1060.7L1651 1061L1652 1061.3L1653 1061.5L1654 1061.7L1655 1062L1656 1062.2L1657 1062.5L1658 1062.7L1659 1063L1660 1063.2L1661 1063.4L1662 1063.7L1663 1063.9L1664 1064.2L1665 1064.4L1666 1064.6L1667 1064.9L1668 1065.1L1669 1065.3L1670 1065.5L1671 1065.8L1672 1066L1673 1066.2L1674 1066.4L1675 1066.7L1676 1066.9L1677 1067.1L1678 1067.3L1679 1067.5L1680 1067.7L1681 1067.9L1682 1068.1L1683 1068.3L1684 1068.5L1685 1068.7L1686 1068.9L1687 1069.1L1688 1069.3L1689 1069.5L1690 1069.7L1691 1069.8L1692 1070L1693 1070.2L1694 1070.4L1695 1070.6L1696 1070.8L1697 1070.9L1698 1071.1L1699 1071.3L1700 1071.5L1701 1071.7L1702 1071.9L1703 1072L1704 1072.2L1705 1072.4L1706 1072.6L1707 1072.8L1708 1073L1709 1073.1L1710 1073.3L1711 1073.5L1712 1073.7L1713 1073.8L1714 1074L1715 1074.2L1716 1074.4L1717 1074.5L1718 1074.7L1719 1074.9L1720 1075.1L1721 1075.3L1722 1075.4L1723 1075.6L1724 1075.8L1725 1076L1726 1076.2L1727 1076.3L1728 1076.5L1729 1076.7L1730 1076.9L1731 1077.1L1732 1077.3L1733 1077.5L1734 1077.7L1735 1077.9L1736 1078.1L1737 1078.4L1738 1078.6L1739 1078.8L1740 1079.1L1741 1079.3L1742 1079.5L1743 1079.8L1744 1080L1745 1080.3L1746 1080.5L1747 1080.8L1748 1081L1749 1081.2L1750 1081.5L1751 1081.7L1752 1082L1753 1082.2L1754 1082.4L1755 1082.6L1756 1082.8L1757 1083L1758 1083.2L1759 1083.4L1760 1083.6L1761 1083.8L1762 1083.9L1763 1084.1L1764 1084.3L1765 1084.4L1766 1084.6L1767 1084.7L1768 1084.9L1769 1085L1770 1085.2L1771 1085.3L1772 1085.5L1773 1085.6L1774 1085.7L1775 1085.9L1776 1086L1777 1086.2L1778 1086.3L1779 1086.4L1780 1086.6L1781 1086.7L1782 1086.8L1783 1087L1784 1087.1L1785 1087.2L1786 1087.4L1787 1087.5L1788 1087.6L1789 1087.8L1790 1087.9L1791 1088L1792 1088.2L1793 1088.3L1794 1088.4L1795 1088.6L1796 1088.7L1797 1088.8L1798 1088.9L1799 1089.1L1800 1089.2L1801 1089.3L1802 1089.4L1803 1089.6L1804 1089.7L1805 1089.8L1806 1090L1807 1090.1L1808 1090.2L1809 1090.3L1810 1090.5L1811 1090.6L1812 1090.7L1813 1090.9L1814 1091L1815 1091.1L1816 1091.3L1817 1091.4L1818 1091.5L1819 1091.7L1820 1091.8L1821 1091.9L1822 1092.1L1823 1092.2L1824 1092.4L1825 1092.5L1826 1092.6L1827 1092.8L1828 1092.9L1829 1093L1830 1093.2L1831 1093.3L1832 1093.5L1833 1093.6L1834 1093.8L1835 1093.9L1836 1094.1L1837 1094.2L1838 1094.4L1839 1094.5L1840 1094.7L1841 1094.8L1842 1095L1843 1095.2L1844 1095.3L1845 1095.5L1846 1095.7L1847 1095.9L1848 1096.1L1849 1096.3L1850 1096.5L1851 1096.8L1852 1097L1853 1097.2L1854 1097.4L1855 1097.6L1856 1097.8L1857 1098.1L1858 1098.3L1859 1098.5L1860 1098.7L1861 1098.9L1862 1099.1L1863 1099.2L1864 1099.4L1865 1099.6L1866 1099.7L1867 1099.9L1868 1100L1869 1100.1L1870 1100.2L1871 1100.3L1872 1100.5L1873 1100.6L1874 1100.7L1875 1100.7L1876 1100.8L1877 1100.9L1878 1101L1879 1101.1L1880 1101.2L1881 1101.3L1882 1101.3L1883 1101.4L1884 1101.5L1885 1101.6L1886 1101.6L1887 1101.7L1888 1101.8L1889 1101.9L1890 1102L1891 1102.1L1892 1102.2L1893 1102.2L1894 1102.3L1895 1102.4L1896 1102.6L1897 1102.7L1898 1102.8L1899 1102.9L1900 1103L1901 1103.1L1902 1103.2L1903 1103.3L1904 1103.5L1905 1103.6L1906 1103.7L1907 1103.8L1908 1103.9L1909 1104.1L1910 1104.2L1911 1104.3L1912 1104.5L1913 1104.6L1914 1104.7L1915 1104.9L1916 1105L1917 1105.1L1918 1105.3L1919 1105.4L1920 1105.6L1921 1105.7L1922 1105.9L1923 1106L1924 1106.2L1925 1106.3L1926 1106.5L1927 1106.6L1928 1106.8L1929 1107L1930 1107.2L1931 1107.4L1932 1107.5L1933 1107.7L1934 1107.9L1935 1108.1L1936 1108.3L1937 1108.5L1938 1108.7L1939 1108.9L1940 1109.1L1941 1109.3L1942 1109.5L1943 1109.7L1944 1109.9L1945 1110L1946 1110.2L1947 1110.4L1948 1110.6L1949 1110.8L1950 1110.9L1951 1111.1L1952 1111.2L1953 1111.4L1954 1111.6L1955 1111.7L1956 1111.9L1957 1112L1958 1112.2L1959 1112.4L1960 1112.5L1961 1112.7L1962 1112.8L1963 1113L1964 1113.1L1965 1113.3L1966 1113.4L1967 1113.6L1968 1113.7L1969 1113.9L1970 1114L1971 1114.1L1972 1114.3L1973 1114.4L1974 1114.5L1975 1114.6L1976 1114.8L1977 1114.9L1978 1115L1979 1115.1L1980 1115.2L1981 1115.3L1982 1115.4L1983 1115.5L1984 1115.6L1985 1115.7L1986 1115.8L1987 1115.9L1988 1116L1989 1116L1990 1116.1L1991 1116.2L1992 1116.3L1993 1116.4L1994 1116.5L1995 1116.5L1996 1116.6L1997 1116.7L1998 1116.8L1999 1116.9L2000 1117L2001 1117.1L2002 1117.1L2003 1117.2L2004 1117.3L2005 1117.4L2006 1117.6L2007 1117.7L2008 1117.8L2009 1117.9L2010 1118L2011 1118.1L2012 1118.2L2013 1118.4L2014 1118.5L2015 1118.6L2016 1118.7L2017 1118.9L2018 1119L2019 1119.1L2020 1119.2L2021 1119.4L2022 1119.5L2023 1119.6L2024 1119.8L2025 1119.9L2026 1120L2027 1120.2L2028 1120.3L2029 1120.5L2030 1120.6L2031 1120.7L2032 1120.9L2033 1121L2034 1121.1L2035 1121.3L2036 1121.4L2037 1121.6L2038 1121.7L2039 1121.9L2040 1122L2041 1122.1L2042 1122.3L2043 1122.4L2044 1122.6L2045 1122.7L2046 1122.9L2047 1123L2048 1123.2L2049 1123.3L2050 1123.5L2051 1123.6L2052 1123.8L2053 1123.9L2054 1124.1L2055 1124.2L2056 1124.4L2057 1124.5L2058 1124.7L2059 1124.8L2060 1124.9L2061 1125.1L2062 1125.2L2063 1125.3L2064 1125.5L2065 1125.6L2066 1125.7L2067 1125.8L2068 1126L2069 1126.1L2070 1126.2L2071 1126.3L2072 1126.5L2073 1126.6L2074 1126.7L2075 1126.8L2076 1127L2077 1127.1L2078 1127.2L2079 1127.3L2080 1127.4L2081 1127.5L2082 1127.7L2083 1127.8L2084 1127.9L2085 1128" fill="none" stroke="#1e1e9a" stroke-width="7.5" stroke-dasharray="7 20.27" stroke-dashoffset="-6.96"/>
<circle cx="338" cy="796" r="8" fill="#2e2e2e"/>
<circle cx="374.5" cy="764" r="8" fill="#2e2e2e"/>
<circle cx="418" cy="731.7" r="8" fill="#2e2e2e"/>
<circle cx="452.3" cy="692.3" r="8" fill="#2e2e2e"/>
<circle cx="483.7" cy="648.9" r="8" fill="#2e2e2e"/>
<circle cx="507.9" cy="600.3" r="8" fill="#2e2e2e"/>
<circle cx="540.3" cy="555.9" r="8" fill="#2e2e2e"/>
<circle cx="567.6" cy="509.4" r="8" fill="#2e2e2e"/>
<circle cx="592.8" cy="459.8" r="8" fill="#2e2e2e"/>
<circle cx="621.7" cy="415" r="8" fill="#2e2e2e"/>
<circle cx="656.7" cy="376.7" r="8" fill="#2e2e2e"/>
<circle cx="697" cy="364.5" r="8" fill="#2e2e2e"/>
<circle cx="713.5" cy="416" r="8" fill="#2e2e2e"/>
<circle cx="723.3" cy="470" r="8" fill="#2e2e2e"/>
<circle cx="731.7" cy="526.7" r="8" fill="#2e2e2e"/>
<circle cx="740" cy="580" r="8" fill="#2e2e2e"/>
<circle cx="747" cy="633" r="8" fill="#2e2e2e"/>
<circle cx="754.2" cy="686" r="8" fill="#2e2e2e"/>
<circle cx="763.2" cy="740.6" r="8" fill="#2e2e2e"/>
<circle cx="770.3" cy="795.2" r="8" fill="#2e2e2e"/>
<circle cx="782.5" cy="849.8" r="8" fill="#2e2e2e"/>
<circle cx="794.6" cy="902.4" r="8" fill="#2e2e2e"/>
<circle cx="809.7" cy="954.9" r="8" fill="#2e2e2e"/>
<circle cx="831.5" cy="1005.5" r="8" fill="#2e2e2e"/>
<circle cx="861.3" cy="1049" r="8" fill="#2e2e2e"/>
<circle cx="907" cy="1081" r="8" fill="#2e2e2e"/>
<circle cx="960.3" cy="1094" r="8" fill="#2e2e2e"/>
<circle cx="1014.5" cy="1097" r="8" fill="#2e2e2e"/>
<circle cx="1067.5" cy="1104" r="8" fill="#2e2e2e"/>
<circle cx="1121.5" cy="1110" r="8" fill="#2e2e2e"/>
<circle cx="1175" cy="1121" r="8" fill="#2e2e2e"/>
<circle cx="1229" cy="1126" r="8" fill="#2e2e2e"/>
<circle cx="1282.5" cy="1136.5" r="8" fill="#2e2e2e"/>
<circle cx="1335" cy="1153.5" r="8" fill="#2e2e2e"/>
<circle cx="1386" cy="1172.5" r="8" fill="#2e2e2e"/>
<circle cx="1437.5" cy="1186" r="8" fill="#2e2e2e"/>
<circle cx="1492" cy="1195" r="8" fill="#2e2e2e"/>
<circle cx="1545.3" cy="1201.3" r="8" fill="#2e2e2e"/>
<circle cx="1599" cy="1211" r="8" fill="#2e2e2e"/>
<circle cx="1653" cy="1216.5" r="8" fill="#2e2e2e"/>
<circle cx="1707" cy="1221.5" r="8" fill="#2e2e2e"/>
<circle cx="1762" cy="1225" r="8" fill="#2e2e2e"/>
<circle cx="1815.5" cy="1228.5" r="8" fill="#2e2e2e"/>
<circle cx="1870.5" cy="1232.5" r="8" fill="#2e2e2e"/>
<circle cx="1924" cy="1236" r="8" fill="#2e2e2e"/>
<circle cx="1979" cy="1238.5" r="8" fill="#2e2e2e"/>
<circle cx="2034" cy="1240" r="8" fill="#2e2e2e"/>
</g>
<g font-family="'Liberation Serif', 'Times New Roman', serif" font-size="79" fill="#333"><text x="290.5" y="205.0" text-anchor="end" textLength="93" lengthAdjust="spacingAndGlyphs">2.5</text><text x="290.5" y="456.0" text-anchor="end" textLength="93" lengthAdjust="spacingAndGlyphs">2.0</text><text x="290.5" y="706.8" text-anchor="end" textLength="93" lengthAdjust="spacingAndGlyphs">1.5</text><text x="290.5" y="957.7" text-anchor="end" textLength="93" lengthAdjust="spacingAndGlyphs">1.0</text><text x="290.5" y="1208.6" text-anchor="end" textLength="93" lengthAdjust="spacingAndGlyphs">0.5</text><text x="290.5" y="1458.5" text-anchor="end" textLength="93" lengthAdjust="spacingAndGlyphs">0.0</text><text x="334" y="1551" text-anchor="middle" textLength="112" lengthAdjust="spacingAndGlyphs">200</text><text x="917" y="1551" text-anchor="middle" textLength="112" lengthAdjust="spacingAndGlyphs">250</text><text x="1500.6" y="1551" text-anchor="middle" textLength="112" lengthAdjust="spacingAndGlyphs">300</text><text x="2084.5" y="1551" text-anchor="middle" textLength="112" lengthAdjust="spacingAndGlyphs">350</text></g>
<text transform="translate(110,1010) rotate(-90)" font-family="'Liberation Serif', 'Times New Roman', serif" font-weight="bold" font-size="80" fill="#111" textLength="422" lengthAdjust="spacingAndGlyphs">Absorbance</text>
<text x="913" y="1677" font-family="'Liberation Serif', 'Times New Roman', serif" font-weight="bold" font-size="80" fill="#111" textLength="592" lengthAdjust="spacingAndGlyphs">Wavelength (nm)</text>
<g id="legend"><line x1="1491" y1="190" x2="1591" y2="190" stroke="#a3a3a3" stroke-width="10"/><line x1="1491" y1="290.5" x2="1591" y2="290.5" stroke="#0a0a0a" stroke-width="8.5"/><line x1="1493.5" y1="390" x2="1594" y2="390" stroke="#0a0a0a" stroke-width="8.5" stroke-dasharray="24.5 19.2"/><line x1="1490" y1="491.5" x2="1580" y2="491.5" stroke="#1e1e9a" stroke-width="7.5" stroke-dasharray="7 20"/><line x1="1491" y1="592" x2="1589" y2="592" stroke="#10107f" stroke-width="9.5"/><line x1="1491" y1="691.5" x2="1589" y2="691.5" stroke="#2a6a2a" stroke-width="10"/><clipPath id="lc"><rect x="1491" y="770" width="110" height="40"/></clipPath><g clip-path="url(#lc)"><circle cx="1494" cy="786.5" r="8" fill="#2e2e2e"/><circle cx="1547" cy="786.5" r="8.3" fill="#2e2e2e"/></g></g>
<g font-family="'Liberation Serif', 'Times New Roman', serif" font-weight="bold" font-size="59" fill="#1a1a1a"><text x="1644" y="213" textLength="228" lengthAdjust="spacingAndGlyphs">ASColl1</text><text x="1644" y="313" textLength="228" lengthAdjust="spacingAndGlyphs">ASColl2</text><text x="1644" y="413" textLength="228" lengthAdjust="spacingAndGlyphs">ASColl3</text><text x="1644" y="513.5" textLength="228" lengthAdjust="spacingAndGlyphs">ASColl4</text><text x="1644" y="614.4" textLength="228" lengthAdjust="spacingAndGlyphs">ASColl5</text><text x="1644" y="714" textLength="228" lengthAdjust="spacingAndGlyphs">ASColl6</text><text x="1644" y="809" textLength="459" lengthAdjust="spacingAndGlyphs">Bovine Collagen</text></g>
</g>

<g filter="url(#blurB)">
<text x="27" y="1869" font-family="'Liberation Serif', 'Times New Roman', serif" font-size="105" fill="#000" textLength="62" lengthAdjust="spacingAndGlyphs">B</text>
<text transform="translate(203,2160) rotate(-90)" font-family="'Liberation Sans', Arial, sans-serif" font-size="74" fill="#111" textLength="99" lengthAdjust="spacingAndGlyphs">%T</text>
<g font-family="'Liberation Serif', 'Times New Roman', serif" font-size="70" fill="#111">
<text transform="translate(645,2072) rotate(-90)" textLength="259" lengthAdjust="spacingAndGlyphs">Amide A</text>
<text transform="translate(797,2069) rotate(-90)" textLength="256" lengthAdjust="spacingAndGlyphs">Amide B</text>
<text transform="translate(1500,2065) rotate(-90)" textLength="237" lengthAdjust="spacingAndGlyphs">Amide I</text>
<text transform="translate(1572,2064) rotate(-90)" textLength="261" lengthAdjust="spacingAndGlyphs">Amide II</text>
<text transform="translate(1704.6,2069) rotate(-90)" textLength="288" lengthAdjust="spacingAndGlyphs">Amide III</text>
</g>
<g font-family="'Liberation Serif', 'Times New Roman', serif" font-weight="normal" font-size="56" fill="#111" stroke="#111" stroke-width="1.7" stroke-linejoin="round">
<text x="1039" y="2086" textLength="232" lengthAdjust="spacingAndGlyphs">ASColl 1</text>
<text x="1045" y="2297" textLength="234" lengthAdjust="spacingAndGlyphs">ASColl 2</text>
<text x="1048" y="2405" textLength="233" lengthAdjust="spacingAndGlyphs">ASColl 3</text>
<text x="1048" y="2546" textLength="233" lengthAdjust="spacingAndGlyphs">ASColl 4</text>
<text x="1037.5" y="2690" textLength="234" lengthAdjust="spacingAndGlyphs">ASColl 5</text>
<text x="1031" y="2790" textLength="233" lengthAdjust="spacingAndGlyphs">ASColl 6</text>
<text x="934" y="2927" textLength="430" lengthAdjust="spacingAndGlyphs">Bovine Collagen</text>
</g>
<g id="spectra">
<line x1="254" y1="3377.5" x2="2090" y2="3377.5" stroke="#111" stroke-width="4"/>
<line x1="255.9" y1="3376" x2="255.9" y2="3403" stroke="#222" stroke-width="3.5"/>
<line x1="386.8" y1="3376" x2="386.8" y2="3390" stroke="#222" stroke-width="3.5"/>
<line x1="517.7" y1="3376" x2="517.7" y2="3403" stroke="#222" stroke-width="3.5"/>
<line x1="648.6" y1="3376" x2="648.6" y2="3390" stroke="#222" stroke-width="3.5"/>
<line x1="779.5" y1="3376" x2="779.5" y2="3403" stroke="#222" stroke-width="3.5"/>
<line x1="910.4" y1="3376" x2="910.4" y2="3390" stroke="#222" stroke-width="3.5"/>
<line x1="1041.3" y1="3376" x2="1041.3" y2="3403" stroke="#222" stroke-width="3.5"/>
<line x1="1172.2" y1="3376" x2="1172.2" y2="3390" stroke="#222" stroke-width="3.5"/>
<line x1="1303.1" y1="3376" x2="1303.1" y2="3403" stroke="#222" stroke-width="3.5"/>
<line x1="1434" y1="3376" x2="1434" y2="3390" stroke="#222" stroke-width="3.5"/>
<line x1="1564.9" y1="3376" x2="1564.9" y2="3403" stroke="#222" stroke-width="3.5"/>
<line x1="1695.8" y1="3376" x2="1695.8" y2="3390" stroke="#222" stroke-width="3.5"/>
<line x1="1826.7" y1="3376" x2="1826.7" y2="3403" stroke="#222" stroke-width="3.5"/>
<line x1="1957.6" y1="3376" x2="1957.6" y2="3390" stroke="#222" stroke-width="3.5"/>
<line x1="2088.5" y1="3376" x2="2088.5" y2="3403" stroke="#222" stroke-width="3.5"/>
<path d="M257.5 2016.4L258.5 2017.3L259.5 2017.7L260.5 2017.1L261.5 2016.9L262.5 2017.6L263.5 2017.9L264.5 2018.3L265.5 2017.4L266.5 2017.5L267.5 2018.5L268.5 2018.6L269.5 2019.2L270.5 2019.1L271.5 2018.7L272.5 2018.8L273.5 2020.2L274.5 2019L275.5 2018.9L276.5 2018.9L277.5 2019.6L278.5 2019.8L279.5 2019.7L280.5 2020L281.5 2020.3L282.5 2020.6L283.5 2020.9L284.5 2020.7L285.5 2019.9L286.5 2021.3L287.5 2020.4L288.5 2021.3L289.5 2020.7L290.5 2023.6L291.5 2021.4L292.5 2023.7L293.5 2023.6L294.5 2026.1L295.5 2022.7L296.5 2022.9L297.5 2022.7L298.5 2024.8L299.5 2022.9L300.5 2025.1L301.5 2023.7L302.5 2025.5L303.5 2024L304.5 2025.4L305.5 2024.8L306.5 2027L307.5 2025.3L308.5 2026.7L309.5 2025.8L310.5 2027.1L311.5 2026.3L312.5 2027.3L313.5 2026.3L314.5 2028.5L315.5 2026.3L316.5 2037.9L317.5 2026.7L318.5 2029.6L319.5 2027.6L320.5 2029.2L321.5 2027.8L322.5 2030.9L323.5 2027.6L324.5 2036.5L325.5 2028.9L326.5 2030.8L327.5 2028.1L328.5 2031.3L329.5 2029.4L330.5 2033.7L331.5 2029.7L332.5 2033.2L333.5 2030.6L334.5 2032.2L335.5 2029.9L336.5 2033.9L337.5 2031.2L338.5 2033.6L339.5 2030.2L340.5 2033.2L341.5 2031.5L342.5 2045.3L343.5 2032.3L344.5 2032.5L345.5 2033.1L346.5 2036.5L347.5 2032.1L348.5 2035.1L349.5 2032.7L350.5 2037.9L351.5 2033.3L352.5 2034.9L353.5 2034.2L354.5 2039.2L355.5 2034.4L356.5 2040.9L357.5 2034L358.5 2036.2L359.5 2033.9L360.5 2036.7L361.5 2034.6L362.5 2037.5L363.5 2035.7L364.5 2043.9L365.5 2036.1L366.5 2036.9L367.5 2036.1L368.5 2038.5L369.5 2036.6L370.5 2037.9L371.5 2037.5L372.5 2042.6L373.5 2037.6L374.5 2048.3L375.5 2036.9L376.5 2039.6L377.5 2038.7L378.5 2041.2L379.5 2037.8L380.5 2043.7L381.5 2036.3L382.5 2041.4L383.5 2037.7L384.5 2041.4L385.5 2039L386.5 2043.4L387.5 2038.9L388.5 2040.1L389.5 2037.9L390.5 2041.7L391.5 2038.4L392.5 2050.7L393.5 2039.4L394.5 2046.4L395.5 2039.1L396.5 2046L397.5 2038.7L398.5 2040.9L399.5 2039.7L400.5 2042.7L401.5 2039.1L402.5 2042L403.5 2038.8L404.5 2043.7L405.5 2040.4L406.5 2045.9L407.5 2039.1L408.5 2042.3L409.5 2039.7L410.5 2041.3L411.5 2040.2L412.5 2052.6L413.5 2039L414.5 2040.1L415.5 2040.3L416.5 2041.2L417.5 2037.8L418.5 2043.6L419.5 2039.8L420.5 2049.2L421.5 2040.5L422.5 2042.7L423.5 2040.2L424.5 2041.9L425.5 2040.6L426.5 2043.2L427.5 2042.2L428.5 2043.3L429.5 2042.7L430.5 2047.5L431.5 2045.3L432.5 2051.3L433.5 2044.9L434.5 2049.1L435.5 2047.7L436.5 2049.5L437.5 2047.7L438.5 2052.2L439.5 2048L440.5 2053.7L441.5 2053.1L442.5 2057.2L443.5 2055.9L444.5 2058.5L445.5 2056.9L446.5 2058.7L447.5 2059.3L448.5 2061.8L449.5 2061.3L450.5 2064.6L451.5 2064.8L452.5 2066.9L453.5 2067.4L454.5 2068.7L455.5 2068.3L456.5 2070.6L457.5 2070.5L458.5 2072L459.5 2072L460.5 2074L461.5 2074.5L462.5 2077.2L463.5 2076.4L464.5 2078.5L465.5 2078.6L466.5 2079.8L467.5 2080.9L468.5 2081L469.5 2081.3L470.5 2083.5L471.5 2083.9L472.5 2085.8L473.5 2086.4L474.5 2087.7L475.5 2088.7L476.5 2088.5L477.5 2090.9L478.5 2091.4L479.5 2092.5L480.5 2093.9L481.5 2095.7L482.5 2096.9L483.5 2098.3L484.5 2098.3L485.5 2100.1L486.5 2100.6L487.5 2102.9L488.5 2104.6L489.5 2105.3L490.5 2107L491.5 2108.4L492.5 2110L493.5 2110.5L494.5 2111.8L495.5 2113.2L496.5 2115.6L497.5 2116.6L498.5 2117.3L499.5 2118.7L500.5 2119.9L501.5 2121.3L502.5 2122.3L503.5 2123.6L504.5 2124.4L505.5 2126L506.5 2128.3L507.5 2129.1L508.5 2130.1L509.5 2131.3L510.5 2132.7L511.5 2134.1L512.5 2134.9L513.5 2136.5L514.5 2137.7L515.5 2138.5L516.5 2139.6L517.5 2140.7L518.5 2141.8L519.5 2143.8L520.5 2143.5L521.5 2145.5L522.5 2146.5L523.5 2147.6L524.5 2149L525.5 2150.6L526.5 2151.2L527.5 2152.1L528.5 2153L529.5 2154.3L530.5 2155.8L531.5 2156.2L532.5 2156.9L533.5 2157.8L534.5 2158.9L535.5 2159.7L536.5 2161.8L537.5 2162.3L538.5 2163L539.5 2164.6L540.5 2164.5L541.5 2165.9L542.5 2166.7L543.5 2166.4L544.5 2167.1L545.5 2168.1L546.5 2169.5L547.5 2170.3L548.5 2169.8L549.5 2171.4L550.5 2171.4L551.5 2172L552.5 2172.5L553.5 2173.3L554.5 2173.3L555.5 2174.4L556.5 2175L557.5 2176.6L558.5 2178.2L559.5 2179.4L560.5 2179L561.5 2179.4L562.5 2181L563.5 2181.8L564.5 2184.3L565.5 2184.8L566.5 2185.3L567.5 2187.2L568.5 2188.3L569.5 2188.5L570.5 2190.2L571.5 2191.6L572.5 2193L573.5 2194.3L574.5 2195.4L575.5 2196.9L576.5 2197.8L577.5 2198.9L578.5 2201.3L579.5 2202L580.5 2203.3L581.5 2203.7L582.5 2205.7L583.5 2207.5L584.5 2208L585.5 2210.4L586.5 2211.2L587.5 2213L588.5 2214.2L589.5 2215.9L590.5 2217.8L591.5 2218.5L592.5 2220.8L593.5 2221.2L594.5 2222.5L595.5 2224.6L596.5 2225.2L597.5 2226.8L598.5 2228.6L599.5 2230L600.5 2229.8L601.5 2232L602.5 2233.9L603.5 2234.9L604.5 2235.6L605.5 2236.8L606.5 2238.2L607.5 2239.2L608.5 2240.9L609.5 2242.2L610.5 2243.5L611.5 2245.3L612.5 2245.9L613.5 2246.4L614.5 2248.6L615.5 2248.6L616.5 2249.7L617.5 2250.6L618.5 2251.1L619.5 2251.4L620.5 2252.1L621.5 2253.4L622.5 2252.2L623.5 2252.4L624.5 2252.9L625.5 2252.7L626.5 2252.6L627.5 2252.5L628.5 2251.1L629.5 2251.4L630.5 2251.6L631.5 2251.6L632.5 2251.7L633.5 2251.1L634.5 2250.5L635.5 2250.4L636.5 2250L637.5 2249.9L638.5 2249.8L639.5 2249L640.5 2248.5L641.5 2248.1L642.5 2248.6L643.5 2248.2L644.5 2247.5L645.5 2246.9L646.5 2246.3L647.5 2245.2L648.5 2244.8L649.5 2243.3L650.5 2242.9L651.5 2241.8L652.5 2241.6L653.5 2240.2L654.5 2239.5L655.5 2238.8L656.5 2238.2L657.5 2236.3L658.5 2235.2L659.5 2234.9L660.5 2233L661.5 2232.6L662.5 2231.1L663.5 2230.2L664.5 2228.3L665.5 2228.4L666.5 2226.7L667.5 2225.4L668.5 2225.6L669.5 2223.9L670.5 2224L671.5 2221.5L672.5 2220.1L673.5 2219.2L674.5 2218.8L675.5 2216.9L676.5 2216L677.5 2214.9L678.5 2213L679.5 2212.3L680.5 2210.7L681.5 2209.1L682.5 2208.7L683.5 2207.2L684.5 2205.6L685.5 2203.8L686.5 2201.9L687.5 2201.6L688.5 2199.9L689.5 2197.8L690.5 2197.2L691.5 2195.1L692.5 2194.4L693.5 2193.1L694.5 2191.9L695.5 2190.5L696.5 2189.3L697.5 2187.4L698.5 2186.6L699.5 2185.3L700.5 2184.3L701.5 2183.3L702.5 2182.2L703.5 2181.4L704.5 2178.1L705.5 2178.1L706.5 2176.6L707.5 2176.4L708.5 2174.6L709.5 2172.4L710.5 2172.4L711.5 2171.1L712.5 2171.2L713.5 2169.8L714.5 2170L715.5 2169.9L716.5 2170L717.5 2169.9L718.5 2169.6L719.5 2170.8L720.5 2171.4L721.5 2171.2L722.5 2171.2L723.5 2172.1L724.5 2172.7L725.5 2172.8L726.5 2173.3L727.5 2174.4L728.5 2173.8L729.5 2174.5L730.5 2174.4L731.5 2175.7L732.5 2176.5L733.5 2177.4L734.5 2178.5L735.5 2180.6L736.5 2180.7L737.5 2181.5L738.5 2183.1L739.5 2182.4L740.5 2181.7L741.5 2182.3L742.5 2181.1L743.5 2181.3L744.5 2178.9L745.5 2177.9L746.5 2175.9L747.5 2175L748.5 2172.7L749.5 2171.3L750.5 2169.2L751.5 2167.2L752.5 2166L753.5 2164.2L754.5 2162L755.5 2159.9L756.5 2158.3L757.5 2157.5L758.5 2157.3L759.5 2155.2L760.5 2154.3L761.5 2153.7L762.5 2152.9L763.5 2152.3L764.5 2152.1L765.5 2152.2L766.5 2151L767.5 2150.2L768.5 2149.2L769.5 2149.6L770.5 2149L771.5 2148.1L772.5 2147.8L773.5 2148L774.5 2148.3L775.5 2147.9L776.5 2147.6L777.5 2147.4L778.5 2147.7L779.5 2147.9L780.5 2149.3L781.5 2148.3L782.5 2149.3L783.5 2150.8L784.5 2151L785.5 2152.7L786.5 2153L787.5 2154L788.5 2154.8L789.5 2155.3L790.5 2156.4L791.5 2158.7L792.5 2158.7L793.5 2159.4L794.5 2160.2L795.5 2160.5L796.5 2161.2L797.5 2161.1L798.5 2161.6L799.5 2162.6L800.5 2162.4L801.5 2162.5L802.5 2163.4L803.5 2163.7L804.5 2164.6L805.5 2164.3L806.5 2164.5L807.5 2165.1L808.5 2166.2L809.5 2165.7L810.5 2165.9L811.5 2166L812.5 2166.1L813.5 2166.2L814.5 2165.9L815.5 2163.6L816.5 2163.8L817.5 2161.7L818.5 2160L819.5 2159.5L820.5 2156.5L821.5 2155.5L822.5 2153.1L823.5 2150.4L824.5 2149.2L825.5 2147.7L826.5 2145.8L827.5 2143.5L828.5 2143.3L829.5 2142.7L830.5 2141.8L831.5 2142.8L832.5 2141.6L833.5 2141.3L834.5 2141.1L835.5 2140.7L836.5 2140.5L837.5 2140.7L838.5 2140.7L839.5 2140.1L840.5 2140.1L841.5 2139.3L842.5 2140L843.5 2139.1L844.5 2139.3L845.5 2138.4L846.5 2138.1L847.5 2137.8L848.5 2136.4L849.5 2137.3L850.5 2135.3L851.5 2134.4L852.5 2133.1L853.5 2133.2L854.5 2132.2L855.5 2130.8L856.5 2129.2L857.5 2128.8L858.5 2128.6L859.5 2127.5L860.5 2126.7L861.5 2126.3L862.5 2126L863.5 2125.9L864.5 2125.2L865.5 2125L866.5 2125.9L867.5 2125L868.5 2123.3L869.5 2123.5L870.5 2123L871.5 2122.5L872.5 2122.7L873.5 2121.7L874.5 2121.3L875.5 2121L876.5 2120.8L877.5 2121L878.5 2120.5L879.5 2119.2L880.5 2119.3L881.5 2118.8L882.5 2119.3L883.5 2118.7L884.5 2118.7L885.5 2118L886.5 2116.9L887.5 2117.8L888.5 2117.4L889.5 2117.3L890.5 2116.2L891.5 2116.6L892.5 2116.1L893.5 2115.9L894.5 2116.1L895.5 2115.9L896.5 2115.2L897.5 2114.6L898.5 2114.1L899.5 2114.8L900.5 2115.4L901.5 2114.7L902.5 2113.6L903.5 2114.1L904.5 2114.5L905.5 2114.9L906.5 2114.6L907.5 2114.1L908.5 2113.9L909.5 2113.2L910.5 2113.3L911.5 2113.2L912.5 2112.9L913.5 2113.2L914.5 2112.9L915.5 2113.1L916.5 2113.5L917.5 2113L918.5 2112.8L919.5 2112.4L920.5 2111.7L921.5 2112.2L922.5 2112.4L923.5 2111.6L924.5 2112.5L925.5 2111.7L926.5 2112L927.5 2111.6L928.5 2111L929.5 2112.5L930.5 2110.9L931.5 2111.8L932.5 2111L933.5 2111.3L934.5 2110.7L935.5 2110.8L936.5 2111.3L937.5 2111.7L938.5 2110.4L939.5 2110.7L940.5 2111L941.5 2110.2L942.5 2110.8L943.5 2110L944.5 2110.5L945.5 2110.4L946.5 2110.7L947.5 2110.2L948.5 2109.4L949.5 2110.2L950.5 2109.3L951.5 2110L952.5 2110.3L953.5 2109.8L954.5 2109.2L955.5 2109.9L956.5 2109.4L957.5 2108.7L958.5 2109L959.5 2109.7L960.5 2108.8L961.5 2108.9L962.5 2108.6L963.5 2107.9L964.5 2108.4L965.5 2108.7L966.5 2108.5L967.5 2108.2L968.5 2107.2L969.5 2108.7L970.5 2108.3L971.5 2108.4L972.5 2108.4L973.5 2107.5L974.5 2107.3L975.5 2107.6L976.5 2108.1L977.5 2106.5L978.5 2107.1L979.5 2106.8L980.5 2107.2L981.5 2107.5L982.5 2106.6L983.5 2106.1L984.5 2106.6L985.5 2106.3L986.5 2105.7L987.5 2106.7L988.5 2105.9L989.5 2106.4L990.5 2105.4L991.5 2106.4L992.5 2105.1L993.5 2106.2L994.5 2104.8L995.5 2106.1L996.5 2105.3L997.5 2104.6L998.5 2105.2L999.5 2105.3L1000.5 2104.6L1001.5 2104.8L1002.5 2105.1L1003.5 2104.8L1004.5 2103.4L1005.5 2104.5L1006.5 2104.8L1007.5 2104.7L1008.5 2105L1009.5 2104.2L1010.5 2105.6L1011.5 2104.7L1012.5 2104.5L1013.5 2104.8L1014.5 2104.7L1015.5 2104.2L1016.5 2103.9L1017.5 2104.6L1018.5 2104.3L1019.5 2103.2L1020.5 2103.5L1021.5 2104.2L1022.5 2104.1L1023.5 2104.1L1024.5 2104.3L1025.5 2104.1L1026.5 2104.7L1027.5 2103.7L1028.5 2103.8L1029.5 2104.2L1030.5 2104.4L1031.5 2104.4L1032.5 2104.8L1033.5 2103.9L1034.5 2104.7L1035.5 2104.4L1036.5 2103.8L1037.5 2104.3L1038.5 2105.3L1039.5 2104.8L1040.5 2104.3L1041.5 2103.5L1042.5 2104.3L1043.5 2104.3L1044.5 2104.8L1045.5 2105.8L1046.5 2105.2L1047.5 2105.1L1048.5 2104.6L1049.5 2104.6L1050.5 2105.1L1051.5 2105.1L1052.5 2106.7L1053.5 2105.3L1054.5 2105.3L1055.5 2106.1L1056.5 2105.8L1057.5 2105.3L1058.5 2106.5L1059.5 2105.9L1060.5 2105.5L1061.5 2106.4L1062.5 2106.5L1063.5 2106.3L1064.5 2106.8L1065.5 2107L1066.5 2106.3L1067.5 2105.9L1068.5 2105.9L1069.5 2107L1070.5 2107.7L1071.5 2107.7L1072.5 2108L1073.5 2108.3L1074.5 2107.6L1075.5 2108.2L1076.5 2107.1L1077.5 2108.2L1078.5 2108.2L1079.5 2108.1L1080.5 2108L1081.5 2107.8L1082.5 2108.5L1083.5 2109.1L1084.5 2108.5L1085.5 2109L1086.5 2108.5L1087.5 2109L1088.5 2108.6L1089.5 2109.3L1090.5 2109.1L1091.5 2109.4L1092.5 2109.1L1093.5 2108.9L1094.5 2109.4L1095.5 2110.1L1096.5 2110.4L1097.5 2109.7L1098.5 2110.2L1099.5 2110.3L1100.5 2110.2L1101.5 2109.4L1102.5 2110.3L1103.5 2109.8L1104.5 2110.9L1105.5 2110.8L1106.5 2110.8L1107.5 2109.4L1108.5 2110.9L1109.5 2111L1110.5 2110.2L1111.5 2111.3L1112.5 2110.9L1113.5 2110.9L1114.5 2110.7L1115.5 2110.7L1116.5 2111L1117.5 2112.7L1118.5 2111.4L1119.5 2111.5L1120.5 2111.2L1121.5 2111.3L1122.5 2111.4L1123.5 2111.3L1124.5 2112.2L1125.5 2111.7L1126.5 2112.3L1127.5 2111.5L1128.5 2112.5L1129.5 2112.1L1130.5 2112.5L1131.5 2112.2L1132.5 2112L1133.5 2113L1134.5 2112.3L1135.5 2112.5L1136.5 2112.2L1137.5 2112.8L1138.5 2112.6L1139.5 2113L1140.5 2113.1L1141.5 2112.7L1142.5 2112.4L1143.5 2113.3L1144.5 2113.6L1145.5 2113.6L1146.5 2112.8L1147.5 2113.7L1148.5 2113.6L1149.5 2113.6L1150.5 2113.8L1151.5 2113.5L1152.5 2113.8L1153.5 2114.2L1154.5 2113.6L1155.5 2113.3L1156.5 2113.9L1157.5 2114.1L1158.5 2113.3L1159.5 2113.8L1160.5 2114.5L1161.5 2114.2L1162.5 2114.4L1163.5 2113.8L1164.5 2114.8L1165.5 2115.3L1166.5 2114.5L1167.5 2114.3L1168.5 2114.1L1169.5 2115.1L1170.5 2114.8L1171.5 2114.5L1172.5 2115.4L1173.5 2115.3L1174.5 2115.2L1175.5 2114.2L1176.5 2115L1177.5 2115.4L1178.5 2114.6L1179.5 2115.6L1180.5 2115.9L1181.5 2115.8L1182.5 2115L1183.5 2115.1L1184.5 2115.9L1185.5 2116L1186.5 2116.1L1187.5 2116.1L1188.5 2115.6L1189.5 2115.5L1190.5 2114.9L1191.5 2116.1L1192.5 2116.9L1193.5 2115.7L1194.5 2115.7L1195.5 2116.3L1196.5 2116.2L1197.5 2115.4L1198.5 2115.8L1199.5 2115.6L1200.5 2117.1L1201.5 2115.9L1202.5 2116.6L1203.5 2117.2L1204.5 2117.2L1205.5 2117L1206.5 2117.2L1207.5 2115.9L1208.5 2116.4L1209.5 2116.2L1210.5 2116.5L1211.5 2117.8L1212.5 2115.9L1213.5 2117L1214.5 2116.2L1215.5 2117.4L1216.5 2117.4L1217.5 2116.6L1218.5 2117.8L1219.5 2117L1220.5 2117.6L1221.5 2117.2L1222.5 2116.8L1223.5 2116.9L1224.5 2117.1L1225.5 2117.4L1226.5 2117.3L1227.5 2118.3L1228.5 2117.2L1229.5 2117.1L1230.5 2117L1231.5 2117L1232.5 2116.8L1233.5 2117L1234.5 2117.9L1235.5 2117.5L1236.5 2117.5L1237.5 2117.7L1238.5 2118.1L1239.5 2117.9L1240.5 2118L1241.5 2117.5L1242.5 2117.6L1243.5 2117.4L1244.5 2117.8L1245.5 2117.5L1246.5 2117.7L1247.5 2117.8L1248.5 2117.9L1249.5 2117.9L1250.5 2117.8L1251.5 2118.6L1252.5 2117.9L1253.5 2117.7L1254.5 2118.2L1255.5 2117.7L1256.5 2117.7L1257.5 2118.3L1258.5 2117.5L1259.5 2116.8L1260.5 2118.4L1261.5 2118.8L1262.5 2117.6L1263.5 2118L1264.5 2118.7L1265.5 2117.5L1266.5 2118.1L1267.5 2117.9L1268.5 2118.4L1269.5 2117.6L1270.5 2119L1271.5 2118.5L1272.5 2118.7L1273.5 2118.5L1274.5 2117.7L1275.5 2118.6L1276.5 2118.1L1277.5 2118.7L1278.5 2118.4L1279.5 2118.6L1280.5 2118.7L1281.5 2119.2L1282.5 2119.2L1283.5 2118.4L1284.5 2118.9L1285.5 2119.6L1286.5 2119.1L1287.5 2118.6L1288.5 2118.9L1289.5 2118.8L1290.5 2119.4L1291.5 2119L1292.5 2119.2L1293.5 2120.1L1294.5 2118.5L1295.5 2118.7L1296.5 2118.4L1297.5 2118.5L1298.5 2119.6L1299.5 2119.4L1300.5 2120L1301.5 2118.4L1302.5 2118.9L1303.5 2120L1304.5 2119.8L1305.5 2119.8L1306.5 2119.8L1307.5 2119.4L1308.5 2119.5L1309.5 2119.5L1310.5 2119.9L1311.5 2119.5L1312.5 2119.7L1313.5 2120.3L1314.5 2119.1L1315.5 2119.3L1316.5 2120L1317.5 2119.6L1318.5 2119.7L1319.5 2120.7L1320.5 2120L1321.5 2119.7L1322.5 2120.4L1323.5 2121.1L1324.5 2119.5L1325.5 2119.7L1326.5 2120.1L1327.5 2119.8L1328.5 2121.1L1329.5 2120.4L1330.5 2120L1331.5 2120.5L1332.5 2119.9L1333.5 2120.1L1334.5 2120.4L1335.5 2121.5L1336.5 2119.4L1337.5 2120.7L1338.5 2121.2L1339.5 2120.9L1340.5 2121.5L1341.5 2120.9L1342.5 2120.8L1343.5 2120.7L1344.5 2120.4L1345.5 2121.6L1346.5 2120.4L1347.5 2120.9L1348.5 2120.8L1349.5 2120.7L1350.5 2120.1L1351.5 2121L1352.5 2121.3L1353.5 2121.3L1354.5 2121.7L1355.5 2121.3L1356.5 2121.1L1357.5 2121.6L1358.5 2121.8L1359.5 2121.2L1360.5 2121L1361.5 2121.3L1362.5 2122.3L1363.5 2122.3L1364.5 2121.5L1365.5 2122L1366.5 2122.4L1367.5 2122.7L1368.5 2121.9L1369.5 2122.1L1370.5 2122.9L1371.5 2123.5L1372.5 2123.1L1373.5 2122L1374.5 2122.8L1375.5 2122.5L1376.5 2122.7L1377.5 2122.5L1378.5 2122.7L1379.5 2123L1380.5 2123.9L1381.5 2123.5L1382.5 2123.4L1383.5 2123.3L1384.5 2123.1L1385.5 2123.4L1386.5 2124.2L1387.5 2124.1L1388.5 2124.7L1389.5 2124L1390.5 2124L1391.5 2123.4L1392.5 2124.4L1393.5 2123.5L1394.5 2125.1L1395.5 2124.2L1396.5 2124.6L1397.5 2124.1L1398.5 2124.6L1399.5 2124.5L1400.5 2125.6L1401.5 2125.3L1402.5 2124.8L1403.5 2124.6L1404.5 2125.6L1405.5 2125.5L1406.5 2125.4L1407.5 2126.3L1408.5 2126.1L1409.5 2126.5L1410.5 2126.3L1411.5 2126.5L1412.5 2126.8L1413.5 2126.5L1414.5 2127.7L1415.5 2127.9L1416.5 2127.2L1417.5 2128.2L1418.5 2129L1419.5 2128.9L1420.5 2129.6L1421.5 2129.2L1422.5 2129.7L1423.5 2129.4L1424.5 2129.9L1425.5 2129.9L1426.5 2130.7L1427.5 2131.6L1428.5 2132.1L1429.5 2132.8L1430.5 2132.8L1431.5 2132.8L1432.5 2134L1433.5 2134.4L1434.5 2136L1435.5 2136.9L1436.5 2137.4L1437.5 2137.4L1438.5 2138.7L1439.5 2140.2L1440.5 2141L1441.5 2142.8L1442.5 2144.2L1443.5 2145.6L1444.5 2146.8L1445.5 2147.8L1446.5 2149.4L1447.5 2151.6L1448.5 2154.4L1449.5 2157L1450.5 2159.5L1451.5 2162.2L1452.5 2165.7L1453.5 2169.4L1454.5 2173.7L1455.5 2178.6L1456.5 2183.6L1457.5 2191.6L1458.5 2198.9L1459.5 2206.6L1460.5 2215.8L1461.5 2226.1L1462.5 2237.6L1463.5 2249.1L1464.5 2262.1L1465.5 2274.7L1466.5 2287.3L1467.5 2299.4L1468.5 2312.2L1469.5 2322.7L1470.5 2331.9L1471.5 2341.2L1472.5 2350.5L1473.5 2361.5L1474.5 2375.5L1475.5 2390.8L1476.5 2407.8L1477.5 2425.9L1478.5 2440.3L1479.5 2455.1L1480.5 2469.5L1481.5 2484.6L1482.5 2497.4L1483.5 2506.4L1484.5 2514.5L1485.5 2520.7L1486.5 2528.1L1487.5 2533L1488.5 2538.3L1489.5 2542.6L1490.5 2545.9L1491.5 2550.1L1492.5 2553L1493.5 2555L1494.5 2555.9L1495.5 2554.7L1496.5 2552.8L1497.5 2548.4L1498.5 2542.3L1499.5 2536.8L1500.5 2525.4L1501.5 2510.9L1502.5 2496.4L1503.5 2479.7L1504.5 2466.4L1505.5 2451.1L1506.5 2436.8L1507.5 2423.5L1508.5 2411.6L1509.5 2399.5L1510.5 2388.9L1511.5 2379.8L1512.5 2373.1L1513.5 2365.6L1514.5 2359.8L1515.5 2354.2L1516.5 2348.8L1517.5 2345.7L1518.5 2343.8L1519.5 2344.5L1520.5 2347L1521.5 2350.2L1522.5 2354.5L1523.5 2360L1524.5 2365.4L1525.5 2371L1526.5 2377.9L1527.5 2384.8L1528.5 2395L1529.5 2403.4L1530.5 2412.4L1531.5 2422.9L1532.5 2434.2L1533.5 2445.3L1534.5 2455L1535.5 2464.6L1536.5 2473.4L1537.5 2483.2L1538.5 2490.9L1539.5 2496.8L1540.5 2502.4L1541.5 2507.6L1542.5 2511.2L1543.5 2512.9L1544.5 2514.7L1545.5 2513L1546.5 2511.2L1547.5 2508.2L1548.5 2505.4L1549.5 2501.9L1550.5 2498.1L1551.5 2494.3L1552.5 2490.2L1553.5 2485.2L1554.5 2480.3L1555.5 2473.4L1556.5 2465.9L1557.5 2456.1L1558.5 2444.9L1559.5 2434L1560.5 2422.8L1561.5 2413.6L1562.5 2403.5L1563.5 2393L1564.5 2383.7L1565.5 2372.6L1566.5 2362.6L1567.5 2351.9L1568.5 2341.1L1569.5 2332L1570.5 2324.4L1571.5 2315.6L1572.5 2307.8L1573.5 2302.1L1574.5 2298.3L1575.5 2297.7L1576.5 2300.1L1577.5 2304.1L1578.5 2307.8L1579.5 2311.9L1580.5 2316.1L1581.5 2321.4L1582.5 2326.6L1583.5 2330.4L1584.5 2335.3L1585.5 2341.7L1586.5 2346.5L1587.5 2352.8L1588.5 2359.2L1589.5 2364.3L1590.5 2367.9L1591.5 2368L1592.5 2365.4L1593.5 2361.2L1594.5 2357.2L1595.5 2351.7L1596.5 2347.3L1597.5 2342.9L1598.5 2339.9L1599.5 2336L1600.5 2332.4L1601.5 2328.6L1602.5 2326.3L1603.5 2324.8L1604.5 2325.7L1605.5 2327L1606.5 2329L1607.5 2330.6L1608.5 2332.6L1609.5 2335.1L1610.5 2336.7L1611.5 2338.2L1612.5 2340.6L1613.5 2342.5L1614.5 2343.9L1615.5 2345.6L1616.5 2346.4L1617.5 2346.4L1618.5 2346.7L1619.5 2346.5L1620.5 2346.4L1621.5 2345.7L1622.5 2344.2L1623.5 2343.4L1624.5 2341.2L1625.5 2340L1626.5 2339.2L1627.5 2336.6L1628.5 2334.2L1629.5 2329.8L1630.5 2326.5L1631.5 2323.4L1632.5 2320.8L1633.5 2317.3L1634.5 2311.7L1635.5 2306.5L1636.5 2301.5L1637.5 2297.2L1638.5 2294.4L1639.5 2292.1L1640.5 2293L1641.5 2294L1642.5 2296L1643.5 2299.9L1644.5 2303.7L1645.5 2308.4L1646.5 2312.7L1647.5 2315.9L1648.5 2319.5L1649.5 2321.5L1650.5 2322L1651.5 2321.7L1652.5 2320.7L1653.5 2318.6L1654.5 2316.3L1655.5 2314.9L1656.5 2312L1657.5 2309.5L1658.5 2308.1L1659.5 2305.8L1660.5 2305.7L1661.5 2304.3L1662.5 2304L1663.5 2302.7L1664.5 2302.6L1665.5 2302.8L1666.5 2301.8L1667.5 2300.9L1668.5 2301.8L1669.5 2300.5L1670.5 2301.3L1671.5 2300.4L1672.5 2300.2L1673.5 2302.3L1674.5 2302.3L1675.5 2304.1L1676.5 2306L1677.5 2306.8L1678.5 2309.5L1679.5 2311.5L1680.5 2314.4L1681.5 2316.7L1682.5 2318.7L1683.5 2321.9L1684.5 2324.8L1685.5 2326.9L1686.5 2329.9L1687.5 2332.4L1688.5 2335.9L1689.5 2339.6L1690.5 2343.2L1691.5 2347.4L1692.5 2351.1L1693.5 2354.8L1694.5 2358.5L1695.5 2362L1696.5 2365.8L1697.5 2371.7L1698.5 2377L1699.5 2381L1700.5 2384.9L1701.5 2388L1702.5 2390.3L1703.5 2389.6L1704.5 2384.9L1705.5 2378.3L1706.5 2369.4L1707.5 2360.9L1708.5 2352.7L1709.5 2346.8L1710.5 2342.5L1711.5 2337L1712.5 2330.9L1713.5 2326.6L1714.5 2322.7L1715.5 2319.1L1716.5 2315.3L1717.5 2312.9L1718.5 2308.4L1719.5 2306L1720.5 2302.8L1721.5 2299.2L1722.5 2296.1L1723.5 2293.6L1724.5 2291.1L1725.5 2287.7L1726.5 2286L1727.5 2284.9L1728.5 2283.1L1729.5 2281.9L1730.5 2280.8L1731.5 2280.5L1732.5 2280.2L1733.5 2281.5L1734.5 2279.5L1735.5 2280.5L1736.5 2279.9L1737.5 2279.7L1738.5 2279.5L1739.5 2279.1L1740.5 2279.9L1741.5 2279.2L1742.5 2278.8L1743.5 2278.5L1744.5 2278.3L1745.5 2277.2L1746.5 2276.5L1747.5 2274.7L1748.5 2273.1L1749.5 2270.6L1750.5 2266.8L1751.5 2264.7L1752.5 2262.3L1753.5 2258.5L1754.5 2255.9L1755.5 2254.6L1756.5 2252.2L1757.5 2250.6L1758.5 2249.6L1759.5 2250.1L1760.5 2249.8L1761.5 2250.1L1762.5 2250.2L1763.5 2250.3L1764.5 2249.9L1765.5 2249.8L1766.5 2250L1767.5 2250L1768.5 2250.1L1769.5 2249.8L1770.5 2250.2L1771.5 2251.2L1772.5 2253L1773.5 2255.7L1774.5 2259L1775.5 2261.4L1776.5 2265.3L1777.5 2268.7L1778.5 2272L1779.5 2275.7L1780.5 2278.3L1781.5 2281.6L1782.5 2283.9L1783.5 2284L1784.5 2286.8L1785.5 2287.3L1786.5 2287.7L1787.5 2286L1788.5 2285.9L1789.5 2285.3L1790.5 2283.8L1791.5 2283.7L1792.5 2282.3L1793.5 2280.6L1794.5 2279.2L1795.5 2278.3L1796.5 2278.3L1797.5 2277L1798.5 2273.8L1799.5 2273.1L1800.5 2273.2L1801.5 2272.1L1802.5 2271.3L1803.5 2271.4L1804.5 2271.1L1805.5 2271.3L1806.5 2271.9L1807.5 2272.2L1808.5 2274.4L1809.5 2274.8L1810.5 2276.7L1811.5 2277.5L1812.5 2277.8L1813.5 2278.1L1814.5 2277.6L1815.5 2275.7L1816.5 2274.7L1817.5 2272.8L1818.5 2269.4L1819.5 2266.5L1820.5 2264.4L1821.5 2260.9L1822.5 2256.3L1823.5 2253.6L1824.5 2249.8L1825.5 2246.9L1826.5 2243.1L1827.5 2240.1L1828.5 2237.3L1829.5 2235.5L1830.5 2233.6L1831.5 2232.2L1832.5 2231.9L1833.5 2231.7L1834.5 2232.3L1835.5 2231.5L1836.5 2231.3L1837.5 2231.6L1838.5 2232.5L1839.5 2231.8L1840.5 2232.3L1841.5 2232.3L1842.5 2231.8L1843.5 2232.3L1844.5 2232.2L1845.5 2232L1846.5 2231.7L1847.5 2232L1848.5 2231.4L1849.5 2231.9L1850.5 2231.8L1851.5 2232.6L1852.5 2233.1L1853.5 2233.5L1854.5 2235.1L1855.5 2236.2L1856.5 2236.6L1857.5 2237.2L1858.5 2238.5L1859.5 2237.7L1860.5 2238.7L1861.5 2239.2L1862.5 2239.7L1863.5 2238.2L1864.5 2238.8L1865.5 2238.8L1866.5 2238.1L1867.5 2235.6L1868.5 2236.6L1869.5 2235.6L1870.5 2235.4L1871.5 2234.3L1872.5 2233.5L1873.5 2233.2L1874.5 2233.5L1875.5 2232.9L1876.5 2232.1L1877.5 2232.2L1878.5 2232.4L1879.5 2232.3L1880.5 2232.3L1881.5 2232.3L1882.5 2232.7L1883.5 2233.3L1884.5 2233.8L1885.5 2234L1886.5 2234.8L1887.5 2236.6L1888.5 2236.5L1889.5 2237.3L1890.5 2238.7L1891.5 2240.2L1892.5 2241L1893.5 2241.2L1894.5 2241.8L1895.5 2242.9L1896.5 2243.5L1897.5 2244.5L1898.5 2245.7L1899.5 2245.7L1900.5 2246.4L1901.5 2247.3L1902.5 2248L1903.5 2248.3L1904.5 2248.8L1905.5 2249.2L1906.5 2250L1907.5 2251.1L1908.5 2251.3L1909.5 2250.6L1910.5 2252.9L1911.5 2253.2L1912.5 2253.5L1913.5 2254.4L1914.5 2253.8L1915.5 2255.2L1916.5 2257.2L1917.5 2258.4L1918.5 2259.3L1919.5 2258.9L1920.5 2260.2L1921.5 2261.6L1922.5 2261.9L1923.5 2264.6L1924.5 2265L1925.5 2267L1926.5 2268L1927.5 2270.5L1928.5 2272.2L1929.5 2274.7L1930.5 2275.7L1931.5 2278.3L1932.5 2281.3L1933.5 2282.1L1934.5 2285L1935.5 2287.4L1936.5 2289.3L1937.5 2291.7L1938.5 2294.8L1939.5 2297L1940.5 2299.1L1941.5 2301.3L1942.5 2302.9L1943.5 2305.8L1944.5 2308.8L1945.5 2310.6L1946.5 2311.7L1947.5 2313.4L1948.5 2316.1L1949.5 2318.5L1950.5 2320.1L1951.5 2322.2L1952.5 2324.5L1953.5 2326.8L1954.5 2328.5L1955.5 2330.9L1956.5 2331.7L1957.5 2334.5L1958.5 2336.5L1959.5 2337.6L1960.5 2340.9L1961.5 2341.6L1962.5 2343.6L1963.5 2347.5L1964.5 2348.8L1965.5 2350.4L1966.5 2352.9L1967.5 2354.8L1968.5 2355.7L1969.5 2358.4L1970.5 2360.8L1971.5 2362.1L1972.5 2364.2L1973.5 2366L1974.5 2368.7L1975.5 2370.3L1976.5 2372.5L1977.5 2374.5L1978.5 2376.9L1979.5 2379.7L1980.5 2382L1981.5 2383.8L1982.5 2385.5L1983.5 2388L1984.5 2389.8L1985.5 2391.7L1986.5 2392.3L1987.5 2393.5L1988.5 2395.1L1989.5 2396.7L1990.5 2397.1L1991.5 2398.2L1992.5 2398.8L1993.5 2400.1L1994.5 2401.6L1995.5 2402.5L1996.5 2403.3L1997.5 2402.8L1998.5 2404.5L1999.5 2404.1L2000.5 2405.1L2001.5 2403.9L2002.5 2404.9L2003.5 2404.3L2004.5 2404.7L2005.5 2403.5L2006.5 2403.1L2007.5 2401.2L2008.5 2401L2009.5 2398.5L2010.5 2398.1L2011.5 2395.5L2012.5 2393.6L2013.5 2392.8L2014.5 2390.6L2015.5 2389.1L2016.5 2386.7L2017.5 2385.1L2018.5 2383L2019.5 2380.2L2020.5 2378.1L2021.5 2374.2L2022.5 2373L2023.5 2369.4L2024.5 2366.9L2025.5 2366.3L2026.5 2374.2L2027.5 2357.6L2028.5 2351L2029.5 2332.7L2030.5 2358.5L2031.5 2343.4L2032.5 2338.7L2033.5 2332.9L2034.5 2346.7L2035.5 2335.6L2036.5 2329.4L2037.5 2302.1L2038.5 2312.4L2039.5 2306.3L2040.5 2313.4L2041.5 2279.2L2042.5 2300.1L2043.5 2297.7L2044.5 2270.9L2045.5 2291.9L2046.5 2289.4L2047.5 2265.9L2048.5 2273.3L2049.5 2299.5L2050.5 2286.4L2051.5 2265.9L2052.5 2283.4L2053.5 2280.9L2054.5 2293.3L2055.5 2278L2056.5 2271.7L2057.5 2299.6L2058.5 2268.7L2059.5 2263.9L2060.5 2260.9L2061.5 2258.2L2062.5 2256.4L2063.5 2251.6L2064.5 2247.4L2065.5 2267.5L2066.5 2218.7L2067.5 2226.9L2068.5 2221.1L2069.5 2208.8L2070.5 2198.3L2071.5 2185.5L2072.5 2173.1L2073.5 2134.4L2074.5 2159L2075.5 2154.6L2076.5 2151.1L2077.5 2145.1L2078.5 2122.5L2079.5 2141.5L2080.5 2139.9L2081.5 2138.2L2082.5 2140.2L2083.5 2139.6L2084.5 2141.6L2085.5 2142.5L2086.5 2105.5L2087.5 2147.4L2088.5 2147L2089 2148" fill="none" stroke="#0d0d0d" stroke-width="4.5" stroke-linejoin="round"/>
<path d="M257 2277.3L257.5 2281.3L258.5 2280.3L259.5 2281.5L260.5 2281.9L261.5 2281.1L262.5 2281.7L263.5 2281.5L264.5 2281.7L265.5 2281L266.5 2282.1L267.5 2281.8L268.5 2283.3L269.5 2282.9L270.5 2283L271.5 2282L272.5 2282.6L273.5 2281.7L274.5 2284.6L275.5 2283.4L276.5 2283.6L277.5 2281.9L278.5 2285.1L279.5 2282.1L280.5 2286.1L281.5 2283.4L282.5 2286.3L283.5 2284L284.5 2286.9L285.5 2283.4L286.5 2287.2L287.5 2284L288.5 2284.5L289.5 2283.7L290.5 2288.2L291.5 2284.8L292.5 2286.6L293.5 2283.2L294.5 2292.3L295.5 2281L296.5 2290.2L297.5 2285.3L298.5 2305L299.5 2283.9L300.5 2288.9L301.5 2284.9L302.5 2295.9L303.5 2283.7L304.5 2296.9L305.5 2283.5L306.5 2289.7L307.5 2284L308.5 2292.1L309.5 2285.9L310.5 2293L311.5 2285.9L312.5 2289.4L313.5 2280.4L314.5 2289.2L315.5 2284.1L316.5 2301.4L317.5 2284.5L318.5 2290L319.5 2285L320.5 2290.4L321.5 2284.8L322.5 2291.3L323.5 2286.9L324.5 2289.8L325.5 2284.8L326.5 2294.6L327.5 2284.8L328.5 2295.2L329.5 2284.3L330.5 2294.7L331.5 2286.3L332.5 2289.6L333.5 2285.8L334.5 2291.9L335.5 2280.4L336.5 2291L337.5 2284.8L338.5 2294.8L339.5 2287L340.5 2295.2L341.5 2285.8L342.5 2303.2L343.5 2286.6L344.5 2296L345.5 2286.9L346.5 2290.3L347.5 2286L348.5 2295.3L349.5 2286.4L350.5 2294.4L351.5 2287.8L352.5 2300.3L353.5 2287.6L354.5 2293.5L355.5 2287.5L356.5 2293.3L357.5 2285L358.5 2300.7L359.5 2287.9L360.5 2294.1L361.5 2288.1L362.5 2291.5L363.5 2285.6L364.5 2292.2L365.5 2287.3L366.5 2292.4L367.5 2285.7L368.5 2295.7L369.5 2287.7L370.5 2297.6L371.5 2289L372.5 2290.1L373.5 2288.4L374.5 2291.3L375.5 2286.6L376.5 2298.9L377.5 2286.5L378.5 2290.7L379.5 2287.5L380.5 2296.4L381.5 2287.5L382.5 2293.9L383.5 2288L384.5 2305.7L385.5 2288.3L386.5 2291.2L387.5 2287L388.5 2294.2L389.5 2287.4L390.5 2297L391.5 2288L392.5 2297.1L393.5 2288.6L394.5 2307.4L395.5 2287.9L396.5 2293.6L397.5 2287.5L398.5 2295.1L399.5 2287.5L400.5 2296.1L401.5 2289.8L402.5 2291.8L403.5 2288.9L404.5 2296.3L405.5 2290.3L406.5 2293.8L407.5 2289.2L408.5 2311.3L409.5 2290.2L410.5 2291.7L411.5 2289.6L412.5 2294.6L413.5 2289.5L414.5 2296.2L415.5 2288.2L416.5 2294.6L417.5 2289.4L418.5 2293.3L419.5 2290L420.5 2300.9L421.5 2289.9L422.5 2298.3L423.5 2287.8L424.5 2296.7L425.5 2290L426.5 2296.7L427.5 2291.1L428.5 2293.8L429.5 2290.9L430.5 2306.9L431.5 2290.8L432.5 2295.4L433.5 2292.9L434.5 2299.5L435.5 2295.2L436.5 2309.9L437.5 2293.1L438.5 2297.7L439.5 2294.9L440.5 2303.2L441.5 2296.1L442.5 2318L443.5 2292.8L444.5 2303.1L445.5 2298.5L446.5 2302.4L447.5 2294.2L448.5 2305.6L449.5 2299.9L450.5 2305.4L451.5 2303.3L452.5 2322.6L453.5 2303.7L454.5 2310.6L455.5 2304.1L456.5 2308.7L457.5 2305L458.5 2309.7L459.5 2307.1L460.5 2323.8L461.5 2309.1L462.5 2326.5L463.5 2310.9L464.5 2322.6L465.5 2312.2L466.5 2324.8L467.5 2313.5L468.5 2326.2L469.5 2315.3L470.5 2321.6L471.5 2315.6L472.5 2327.4L473.5 2320.1L474.5 2329.9L475.5 2321.8L476.5 2328.7L477.5 2323.6L478.5 2333.3L479.5 2323.6L480.5 2330.8L481.5 2327.6L482.5 2330.1L483.5 2329.6L484.5 2334.3L485.5 2330.4L486.5 2333.1L487.5 2334.1L488.5 2337.1L489.5 2334.2L490.5 2337.2L491.5 2337.1L492.5 2338.1L493.5 2338.8L494.5 2340.2L495.5 2339.9L496.5 2340.9L497.5 2341.2L498.5 2342.9L499.5 2342.4L500.5 2342.5L501.5 2343.7L502.5 2344.9L503.5 2344.9L504.5 2346.3L505.5 2347L506.5 2347.2L507.5 2347.6L508.5 2348.1L509.5 2348.6L510.5 2350.4L511.5 2350.4L512.5 2350.5L513.5 2351.3L514.5 2352L515.5 2353L516.5 2353.3L517.5 2353.4L518.5 2353.6L519.5 2353.8L520.5 2355.1L521.5 2356.4L522.5 2356.3L523.5 2356.8L524.5 2356.9L525.5 2357.5L526.5 2357.5L527.5 2358.2L528.5 2360L529.5 2359.8L530.5 2360.7L531.5 2360.5L532.5 2361.7L533.5 2361.9L534.5 2361.7L535.5 2361.7L536.5 2362.4L537.5 2363.8L538.5 2364.5L539.5 2364.5L540.5 2365L541.5 2366.1L542.5 2366.1L543.5 2366.2L544.5 2367.4L545.5 2368.2L546.5 2367.3L547.5 2368.6L548.5 2369L549.5 2369.3L550.5 2370.8L551.5 2371L552.5 2372.2L553.5 2372L554.5 2372L555.5 2372.5L556.5 2373.5L557.5 2373.7L558.5 2374.1L559.5 2374.6L560.5 2375L561.5 2376L562.5 2375.7L563.5 2376.4L564.5 2377L565.5 2378L566.5 2378.2L567.5 2379.1L568.5 2379L569.5 2379.6L570.5 2379.9L571.5 2380.6L572.5 2381.1L573.5 2381.4L574.5 2381.8L575.5 2382.5L576.5 2383.7L577.5 2383.5L578.5 2383.8L579.5 2384.4L580.5 2385.4L581.5 2385.5L582.5 2386.4L583.5 2387L584.5 2388.2L585.5 2388.5L586.5 2389.7L587.5 2390.6L588.5 2391L589.5 2391.5L590.5 2392.4L591.5 2394.1L592.5 2394.9L593.5 2394.7L594.5 2396.2L595.5 2396.6L596.5 2398.8L597.5 2398.8L598.5 2399L599.5 2400.2L600.5 2400.9L601.5 2401.9L602.5 2403.2L603.5 2403.6L604.5 2405.2L605.5 2405.2L606.5 2406.6L607.5 2406.5L608.5 2407.9L609.5 2409L610.5 2409.3L611.5 2410.5L612.5 2410.8L613.5 2412.1L614.5 2412.1L615.5 2412.2L616.5 2412.7L617.5 2413.7L618.5 2414.6L619.5 2414.5L620.5 2413.8L621.5 2414.4L622.5 2414.1L623.5 2414.5L624.5 2415.1L625.5 2414.1L626.5 2414.7L627.5 2415.9L628.5 2414.8L629.5 2414.8L630.5 2414.4L631.5 2414.4L632.5 2415.4L633.5 2413.4L634.5 2413.5L635.5 2413.1L636.5 2413.9L637.5 2411.4L638.5 2412.3L639.5 2413.3L640.5 2412.3L641.5 2411.5L642.5 2410.9L643.5 2409.9L644.5 2410.4L645.5 2409.9L646.5 2409.4L647.5 2408.9L648.5 2407.8L649.5 2407.5L650.5 2406.3L651.5 2406.1L652.5 2405.7L653.5 2404.3L654.5 2404.9L655.5 2403.9L656.5 2403.2L657.5 2402.4L658.5 2402.5L659.5 2401.4L660.5 2401.6L661.5 2400.4L662.5 2399.8L663.5 2399.4L664.5 2399.3L665.5 2398.1L666.5 2397.6L667.5 2396.9L668.5 2395.8L669.5 2396.2L670.5 2394.9L671.5 2395L672.5 2394.3L673.5 2393.3L674.5 2393.6L675.5 2392.1L676.5 2390.9L677.5 2391.1L678.5 2390.3L679.5 2389.7L680.5 2388.6L681.5 2388.1L682.5 2387.4L683.5 2386.7L684.5 2386L685.5 2385.1L686.5 2383.7L687.5 2382.8L688.5 2382.8L689.5 2381.3L690.5 2380.7L691.5 2378.4L692.5 2377.6L693.5 2377.9L694.5 2376.6L695.5 2374.9L696.5 2375.2L697.5 2373.8L698.5 2373.7L699.5 2372.4L700.5 2371.9L701.5 2371L702.5 2369.8L703.5 2369L704.5 2369.6L705.5 2367.9L706.5 2367.3L707.5 2367L708.5 2366.8L709.5 2365.8L710.5 2366.6L711.5 2365.1L712.5 2364L713.5 2364.8L714.5 2364.5L715.5 2364.5L716.5 2365.6L717.5 2365.1L718.5 2365.5L719.5 2365.3L720.5 2366.1L721.5 2366.4L722.5 2366.9L723.5 2368.7L724.5 2368.1L725.5 2368.1L726.5 2369.2L727.5 2369.7L728.5 2370.3L729.5 2370.6L730.5 2370.6L731.5 2370.7L732.5 2371.6L733.5 2371.9L734.5 2371.6L735.5 2372.4L736.5 2372.7L737.5 2372.5L738.5 2372.3L739.5 2372.4L740.5 2372.1L741.5 2372.1L742.5 2372L743.5 2371.5L744.5 2370.2L745.5 2370.1L746.5 2368.8L747.5 2369L748.5 2368.2L749.5 2367.8L750.5 2366.7L751.5 2366.2L752.5 2365.5L753.5 2365.5L754.5 2363.9L755.5 2362.8L756.5 2362.2L757.5 2362.1L758.5 2360.7L759.5 2358.8L760.5 2358.1L761.5 2358.1L762.5 2357.2L763.5 2356.3L764.5 2355.9L765.5 2355.1L766.5 2354.4L767.5 2353.3L768.5 2352.7L769.5 2352.6L770.5 2352.3L771.5 2351.2L772.5 2351.1L773.5 2350.1L774.5 2350.1L775.5 2349.8L776.5 2350.4L777.5 2350.6L778.5 2350.2L779.5 2350.3L780.5 2350.6L781.5 2351.4L782.5 2350.7L783.5 2350.6L784.5 2351.1L785.5 2350.6L786.5 2351.8L787.5 2352.8L788.5 2353.3L789.5 2353.3L790.5 2353.5L791.5 2354.1L792.5 2354L793.5 2355.8L794.5 2356.1L795.5 2356.3L796.5 2357.8L797.5 2357.7L798.5 2357.4L799.5 2358.9L800.5 2359L801.5 2358.9L802.5 2360.6L803.5 2360.5L804.5 2360.6L805.5 2361.9L806.5 2361.4L807.5 2362.1L808.5 2361.7L809.5 2361.3L810.5 2361.7L811.5 2362.9L812.5 2362.1L813.5 2363.7L814.5 2361.1L815.5 2362.1L816.5 2360.6L817.5 2360.8L818.5 2359.7L819.5 2358.4L820.5 2358.3L821.5 2357.5L822.5 2356.5L823.5 2355.5L824.5 2354.1L825.5 2352.8L826.5 2352.2L827.5 2350.7L828.5 2349.9L829.5 2348.4L830.5 2348.8L831.5 2348.3L832.5 2347.5L833.5 2346.7L834.5 2347.3L835.5 2346.7L836.5 2346.8L837.5 2345.9L838.5 2345.9L839.5 2345L840.5 2344.7L841.5 2344.4L842.5 2344L843.5 2343.5L844.5 2343.7L845.5 2343.7L846.5 2342.7L847.5 2343.1L848.5 2342.5L849.5 2342L850.5 2342.1L851.5 2341.2L852.5 2340.2L853.5 2341.3L854.5 2340.4L855.5 2340.1L856.5 2340.5L857.5 2339.5L858.5 2340.3L859.5 2338.7L860.5 2339.3L861.5 2339.3L862.5 2339.3L863.5 2338.7L864.5 2338.2L865.5 2337.8L866.5 2337.6L867.5 2338L868.5 2337.5L869.5 2337.5L870.5 2337.7L871.5 2336.2L872.5 2336.3L873.5 2336.6L874.5 2336.2L875.5 2336.2L876.5 2336L877.5 2334.9L878.5 2335.8L879.5 2335.2L880.5 2334.7L881.5 2335.4L882.5 2334.6L883.5 2335.3L884.5 2335L885.5 2334.8L886.5 2334.4L887.5 2334.4L888.5 2334.1L889.5 2334.4L890.5 2334L891.5 2334L892.5 2333.9L893.5 2333.5L894.5 2332.8L895.5 2333.6L896.5 2333.4L897.5 2332.7L898.5 2331.8L899.5 2332L900.5 2332.2L901.5 2332.8L902.5 2331.7L903.5 2332.4L904.5 2331.9L905.5 2331.9L906.5 2331.1L907.5 2331.5L908.5 2331.5L909.5 2331L910.5 2331.3L911.5 2330.7L912.5 2330.7L913.5 2330.8L914.5 2330.8L915.5 2331.2L916.5 2331.1L917.5 2330L918.5 2329.2L919.5 2330.4L920.5 2329.9L921.5 2329.6L922.5 2330.2L923.5 2330.1L924.5 2329.4L925.5 2330.2L926.5 2329.4L927.5 2329.2L928.5 2329.8L929.5 2328.3L930.5 2330.8L931.5 2329.7L932.5 2329.3L933.5 2329.7L934.5 2329.4L935.5 2329.1L936.5 2329.1L937.5 2328.3L938.5 2329L939.5 2328.7L940.5 2328.1L941.5 2328.4L942.5 2328.9L943.5 2328.6L944.5 2328.1L945.5 2329.2L946.5 2328.3L947.5 2327.9L948.5 2328.1L949.5 2328.7L950.5 2328.7L951.5 2327.9L952.5 2327.7L953.5 2327.7L954.5 2327.5L955.5 2327.1L956.5 2327.8L957.5 2328.6L958.5 2327.8L959.5 2327.3L960.5 2327.6L961.5 2327.4L962.5 2327.1L963.5 2327.9L964.5 2327.3L965.5 2326.2L966.5 2327.2L967.5 2327.1L968.5 2326.6L969.5 2327.5L970.5 2327L971.5 2326.4L972.5 2326.8L973.5 2326.9L974.5 2326.4L975.5 2326.4L976.5 2326.3L977.5 2327.4L978.5 2325.9L979.5 2326L980.5 2326L981.5 2326L982.5 2325.2L983.5 2326.1L984.5 2325.9L985.5 2325.7L986.5 2325.9L987.5 2324.8L988.5 2325.5L989.5 2326L990.5 2325.5L991.5 2325.3L992.5 2325.5L993.5 2325.9L994.5 2326.2L995.5 2325.5L996.5 2325L997.5 2324.8L998.5 2325.7L999.5 2325.2L1000.5 2324.8L1001.5 2325.4L1002.5 2325.3L1003.5 2325.5L1004.5 2325.8L1005.5 2324.4L1006.5 2325L1007.5 2324.7L1008.5 2325.2L1009.5 2325.4L1010.5 2325.9L1011.5 2324.6L1012.5 2324.6L1013.5 2324.5L1014.5 2324.1L1015.5 2324.1L1016.5 2324.1L1017.5 2323.9L1018.5 2324L1019.5 2325L1020.5 2324.4L1021.5 2324.2L1022.5 2324.1L1023.5 2324L1024.5 2324.6L1025.5 2324.1L1026.5 2324L1027.5 2323.8L1028.5 2325L1029.5 2324.4L1030.5 2323.6L1031.5 2324.4L1032.5 2323.8L1033.5 2323.9L1034.5 2323.9L1035.5 2324L1036.5 2324.3L1037.5 2324.4L1038.5 2323.1L1039.5 2323.9L1040.5 2324.5L1041.5 2324.2L1042.5 2324.2L1043.5 2323.4L1044.5 2323.3L1045.5 2324.3L1046.5 2324.2L1047.5 2324L1048.5 2323.7L1049.5 2324.3L1050.5 2323.7L1051.5 2323.7L1052.5 2324.1L1053.5 2323.9L1054.5 2324.5L1055.5 2323.9L1056.5 2324.7L1057.5 2324.6L1058.5 2324.1L1059.5 2324.2L1060.5 2323.7L1061.5 2324.1L1062.5 2324.3L1063.5 2324.8L1064.5 2324.4L1065.5 2324L1066.5 2324L1067.5 2323.5L1068.5 2324.3L1069.5 2324.1L1070.5 2324.2L1071.5 2323.8L1072.5 2324.4L1073.5 2324.6L1074.5 2324.1L1075.5 2325L1076.5 2323.8L1077.5 2324L1078.5 2324.1L1079.5 2324.3L1080.5 2324.1L1081.5 2324.1L1082.5 2324.2L1083.5 2324.7L1084.5 2324.6L1085.5 2325.1L1086.5 2325.6L1087.5 2323.6L1088.5 2324L1089.5 2325.2L1090.5 2324.3L1091.5 2324.2L1092.5 2324.1L1093.5 2324.7L1094.5 2323.9L1095.5 2324.9L1096.5 2325.1L1097.5 2324.2L1098.5 2324.9L1099.5 2324.5L1100.5 2324L1101.5 2324L1102.5 2324.4L1103.5 2324.9L1104.5 2324.6L1105.5 2324.9L1106.5 2325L1107.5 2325.5L1108.5 2325.9L1109.5 2324.8L1110.5 2325.4L1111.5 2324.4L1112.5 2325.1L1113.5 2324.9L1114.5 2325.8L1115.5 2324.7L1116.5 2325.9L1117.5 2325.2L1118.5 2325.2L1119.5 2325L1120.5 2325.2L1121.5 2325.4L1122.5 2325.2L1123.5 2325.3L1124.5 2326.1L1125.5 2324.8L1126.5 2325.1L1127.5 2325L1128.5 2325.8L1129.5 2325.7L1130.5 2326L1131.5 2325.6L1132.5 2326.3L1133.5 2325.8L1134.5 2325.8L1135.5 2325.9L1136.5 2326.3L1137.5 2325.7L1138.5 2325.8L1139.5 2326.7L1140.5 2325.8L1141.5 2325.7L1142.5 2326.1L1143.5 2326.5L1144.5 2324.9L1145.5 2326.3L1146.5 2326.7L1147.5 2326.5L1148.5 2325.2L1149.5 2326.2L1150.5 2326.4L1151.5 2326.4L1152.5 2326.5L1153.5 2327.1L1154.5 2325.7L1155.5 2326.1L1156.5 2326.4L1157.5 2326.2L1158.5 2326.7L1159.5 2326L1160.5 2325.9L1161.5 2326.6L1162.5 2326.1L1163.5 2326.1L1164.5 2326.7L1165.5 2326.3L1166.5 2327L1167.5 2326.4L1168.5 2326.1L1169.5 2326.5L1170.5 2327.3L1171.5 2326.9L1172.5 2326.9L1173.5 2326.5L1174.5 2327.2L1175.5 2327.1L1176.5 2327L1177.5 2326L1178.5 2327.5L1179.5 2327.1L1180.5 2327L1181.5 2326.9L1182.5 2327.5L1183.5 2327L1184.5 2327.4L1185.5 2326.5L1186.5 2326.7L1187.5 2327L1188.5 2327.4L1189.5 2327.3L1190.5 2327.3L1191.5 2327.4L1192.5 2327L1193.5 2327.2L1194.5 2326.6L1195.5 2327.7L1196.5 2327.6L1197.5 2327.1L1198.5 2328.2L1199.5 2327.5L1200.5 2327.1L1201.5 2327.1L1202.5 2327.7L1203.5 2326.8L1204.5 2327.7L1205.5 2327.5L1206.5 2328.4L1207.5 2328.2L1208.5 2327.4L1209.5 2328.7L1210.5 2327.4L1211.5 2328.4L1212.5 2328.9L1213.5 2328L1214.5 2328.5L1215.5 2328.1L1216.5 2328.1L1217.5 2327L1218.5 2328.1L1219.5 2327.7L1220.5 2327.6L1221.5 2328.6L1222.5 2327.3L1223.5 2327.8L1224.5 2327.9L1225.5 2327.9L1226.5 2328.3L1227.5 2327L1228.5 2328.5L1229.5 2327.3L1230.5 2327.5L1231.5 2328.3L1232.5 2328.2L1233.5 2328L1234.5 2327.7L1235.5 2328.1L1236.5 2328.3L1237.5 2328.5L1238.5 2328.3L1239.5 2327.7L1240.5 2328L1241.5 2327.8L1242.5 2328L1243.5 2328.9L1244.5 2328.3L1245.5 2327.9L1246.5 2328.7L1247.5 2328L1248.5 2328.5L1249.5 2328.6L1250.5 2328.4L1251.5 2328.2L1252.5 2328.5L1253.5 2328.8L1254.5 2328.4L1255.5 2329.3L1256.5 2328.5L1257.5 2328.1L1258.5 2328.8L1259.5 2328.3L1260.5 2328.4L1261.5 2329.1L1262.5 2328.9L1263.5 2328L1264.5 2328.3L1265.5 2328.1L1266.5 2329.1L1267.5 2327.7L1268.5 2328.5L1269.5 2329L1270.5 2327.7L1271.5 2328.4L1272.5 2327.9L1273.5 2328L1274.5 2328.7L1275.5 2328.1L1276.5 2328.4L1277.5 2329L1278.5 2327.8L1279.5 2329.4L1280.5 2328.9L1281.5 2328.2L1282.5 2328.3L1283.5 2328.8L1284.5 2328.6L1285.5 2328.3L1286.5 2328.8L1287.5 2329L1288.5 2328.7L1289.5 2328.6L1290.5 2328.7L1291.5 2328.8L1292.5 2328.3L1293.5 2328.8L1294.5 2328.5L1295.5 2328.9L1296.5 2328.9L1297.5 2329L1298.5 2329.7L1299.5 2329.5L1300.5 2328.4L1301.5 2328.9L1302.5 2329.2L1303.5 2328.8L1304.5 2328.3L1305.5 2330L1306.5 2329.4L1307.5 2329L1308.5 2329.1L1309.5 2328.7L1310.5 2329.2L1311.5 2329.9L1312.5 2329.7L1313.5 2329.4L1314.5 2329.1L1315.5 2328.9L1316.5 2329.4L1317.5 2329.2L1318.5 2329.1L1319.5 2329.1L1320.5 2329.7L1321.5 2328.9L1322.5 2329.4L1323.5 2328.5L1324.5 2328.8L1325.5 2330.3L1326.5 2329L1327.5 2329.6L1328.5 2329.2L1329.5 2329.5L1330.5 2330.1L1331.5 2329.2L1332.5 2329.4L1333.5 2328.9L1334.5 2331.3L1335.5 2329.7L1336.5 2330.5L1337.5 2330.1L1338.5 2331.2L1339.5 2329.7L1340.5 2329.9L1341.5 2329.9L1342.5 2331.4L1343.5 2330.2L1344.5 2331.7L1345.5 2330.8L1346.5 2331.7L1347.5 2331.3L1348.5 2332.7L1349.5 2331.4L1350.5 2332.8L1351.5 2330L1352.5 2334.4L1353.5 2330.9L1354.5 2331.7L1355.5 2331L1356.5 2333.8L1357.5 2331L1358.5 2337.2L1359.5 2331L1360.5 2332.6L1361.5 2331.6L1362.5 2332.3L1363.5 2331.5L1364.5 2336L1365.5 2331.9L1366.5 2333.5L1367.5 2331.5L1368.5 2333.5L1369.5 2331.4L1370.5 2334.5L1371.5 2332.4L1372.5 2333.2L1373.5 2332.6L1374.5 2333.1L1375.5 2332.6L1376.5 2333.4L1377.5 2332.5L1378.5 2333.3L1379.5 2333.7L1380.5 2335.6L1381.5 2331.9L1382.5 2337.4L1383.5 2332.2L1384.5 2339.1L1385.5 2332.8L1386.5 2340.1L1387.5 2333.7L1388.5 2336L1389.5 2333.4L1390.5 2333.8L1391.5 2332.5L1392.5 2335L1393.5 2330.8L1394.5 2339.6L1395.5 2332.9L1396.5 2340.3L1397.5 2333.7L1398.5 2339.2L1399.5 2333.8L1400.5 2337.5L1401.5 2333.8L1402.5 2337.3L1403.5 2333.4L1404.5 2335.2L1405.5 2334L1406.5 2336.3L1407.5 2334.4L1408.5 2339.3L1409.5 2334L1410.5 2340.1L1411.5 2333.7L1412.5 2343.5L1413.5 2335.2L1414.5 2339.3L1415.5 2335.1L1416.5 2337.8L1417.5 2334L1418.5 2338.9L1419.5 2333.5L1420.5 2335.6L1421.5 2335L1422.5 2335.5L1423.5 2334.7L1424.5 2337.2L1425.5 2335.2L1426.5 2337L1427.5 2333.9L1428.5 2334.4L1429.5 2334L1430.5 2336L1431.5 2335L1432.5 2336.3L1433.5 2333.6L1434.5 2335L1435.5 2334.4L1436.5 2336.2L1437.5 2337.3L1438.5 2337.4L1439.5 2338.6L1440.5 2341.9L1441.5 2342L1442.5 2343.9L1443.5 2345.1L1444.5 2347.3L1445.5 2348.8L1446.5 2349.8L1447.5 2351.2L1448.5 2353.4L1449.5 2354.3L1450.5 2355.5L1451.5 2356.4L1452.5 2358.2L1453.5 2359.3L1454.5 2361.3L1455.5 2363.9L1456.5 2366.1L1457.5 2371L1458.5 2376.1L1459.5 2381.9L1460.5 2388.7L1461.5 2395.7L1462.5 2402.8L1463.5 2411.2L1464.5 2419.2L1465.5 2427.3L1466.5 2436.1L1467.5 2444L1468.5 2453L1469.5 2462.5L1470.5 2473.9L1471.5 2484.6L1472.5 2493.3L1473.5 2498.7L1474.5 2503.2L1475.5 2507.9L1476.5 2512.5L1477.5 2517.3L1478.5 2521.8L1479.5 2527.6L1480.5 2533.7L1481.5 2540.8L1482.5 2546.4L1483.5 2555.4L1484.5 2562.8L1485.5 2569.8L1486.5 2576.8L1487.5 2582.7L1488.5 2588.8L1489.5 2595.7L1490.5 2601L1491.5 2606.3L1492.5 2612.1L1493.5 2613.6L1494.5 2615.1L1495.5 2613.9L1496.5 2610.9L1497.5 2606.8L1498.5 2601.5L1499.5 2594.5L1500.5 2588L1501.5 2580.9L1502.5 2571.6L1503.5 2563L1504.5 2551.2L1505.5 2541.6L1506.5 2532.9L1507.5 2525.9L1508.5 2518.8L1509.5 2512.2L1510.5 2505.6L1511.5 2499.4L1512.5 2491.7L1513.5 2484.3L1514.5 2477.9L1515.5 2472.6L1516.5 2468.5L1517.5 2464.8L1518.5 2461.9L1519.5 2461.6L1520.5 2461.6L1521.5 2464.6L1522.5 2469.3L1523.5 2474.7L1524.5 2478.9L1525.5 2483.6L1526.5 2487.6L1527.5 2492.7L1528.5 2496.7L1529.5 2502.8L1530.5 2508.5L1531.5 2514.7L1532.5 2521.7L1533.5 2529.4L1534.5 2535.3L1535.5 2540.9L1536.5 2546.7L1537.5 2551.2L1538.5 2556.1L1539.5 2560.3L1540.5 2564.4L1541.5 2569.7L1542.5 2573.7L1543.5 2577.1L1544.5 2578L1545.5 2577.8L1546.5 2574.8L1547.5 2572.6L1548.5 2568.3L1549.5 2564.6L1550.5 2560.4L1551.5 2556.9L1552.5 2552.8L1553.5 2548.5L1554.5 2545.3L1555.5 2542.5L1556.5 2539.3L1557.5 2535L1558.5 2530.7L1559.5 2525.6L1560.5 2518.5L1561.5 2510.4L1562.5 2502.7L1563.5 2494.6L1564.5 2486.1L1565.5 2479.1L1566.5 2470.8L1567.5 2463.8L1568.5 2456.8L1569.5 2450.1L1570.5 2445.8L1571.5 2442.8L1572.5 2438.6L1573.5 2435.6L1574.5 2434.8L1575.5 2434.9L1576.5 2436.1L1577.5 2440.3L1578.5 2445L1579.5 2450.4L1580.5 2453.9L1581.5 2458.7L1582.5 2462.8L1583.5 2468.9L1584.5 2474L1585.5 2478.9L1586.5 2482.2L1587.5 2483.9L1588.5 2483.7L1589.5 2482.1L1590.5 2478.8L1591.5 2476.1L1592.5 2472.3L1593.5 2468.7L1594.5 2465.8L1595.5 2462.4L1596.5 2460.8L1597.5 2460.3L1598.5 2458.8L1599.5 2457.6L1600.5 2456.2L1601.5 2455.1L1602.5 2453.8L1603.5 2453.6L1604.5 2452.8L1605.5 2452.4L1606.5 2453.7L1607.5 2454.4L1608.5 2454.6L1609.5 2454.8L1610.5 2456.4L1611.5 2458.2L1612.5 2458.4L1613.5 2459.6L1614.5 2460.6L1615.5 2460.4L1616.5 2461L1617.5 2460.7L1618.5 2460.6L1619.5 2460L1620.5 2459.2L1621.5 2459.2L1622.5 2458.4L1623.5 2458.5L1624.5 2456.7L1625.5 2456.9L1626.5 2455.7L1627.5 2455.8L1628.5 2455L1629.5 2454.3L1630.5 2452.8L1631.5 2453.1L1632.5 2452.1L1633.5 2450.4L1634.5 2447L1635.5 2442.9L1636.5 2437.9L1637.5 2434.7L1638.5 2432.8L1639.5 2432.5L1640.5 2433.4L1641.5 2435.8L1642.5 2438.2L1643.5 2440L1644.5 2442.9L1645.5 2446.6L1646.5 2449.2L1647.5 2452L1648.5 2454.4L1649.5 2455.4L1650.5 2456L1651.5 2456.3L1652.5 2454.9L1653.5 2454.9L1654.5 2453.3L1655.5 2453.4L1656.5 2450.9L1657.5 2450.4L1658.5 2447.9L1659.5 2447.2L1660.5 2446.1L1661.5 2445L1662.5 2443.2L1663.5 2440.5L1664.5 2441L1665.5 2439.8L1666.5 2439.8L1667.5 2439.8L1668.5 2438.2L1669.5 2439.4L1670.5 2439L1671.5 2441.1L1672.5 2441.7L1673.5 2443L1674.5 2444.5L1675.5 2445.7L1676.5 2446.9L1677.5 2449.5L1678.5 2451.6L1679.5 2453.4L1680.5 2455.5L1681.5 2457.4L1682.5 2459.6L1683.5 2460.7L1684.5 2463.7L1685.5 2464.9L1686.5 2465.9L1687.5 2468.4L1688.5 2471.2L1689.5 2474.2L1690.5 2476.1L1691.5 2478L1692.5 2480.8L1693.5 2483.8L1694.5 2486.4L1695.5 2488.5L1696.5 2490.6L1697.5 2493L1698.5 2494.6L1699.5 2496.5L1700.5 2497.8L1701.5 2497.3L1702.5 2497.9L1703.5 2498.2L1704.5 2496.8L1705.5 2493.8L1706.5 2490.6L1707.5 2484.3L1708.5 2479.2L1709.5 2473.9L1710.5 2468.5L1711.5 2463.9L1712.5 2460.1L1713.5 2457.3L1714.5 2453.7L1715.5 2452.3L1716.5 2450.5L1717.5 2449.3L1718.5 2447.1L1719.5 2444.4L1720.5 2444.1L1721.5 2442.1L1722.5 2440.8L1723.5 2439.2L1724.5 2437.7L1725.5 2436.8L1726.5 2434.4L1727.5 2434.2L1728.5 2433.2L1729.5 2431.8L1730.5 2431.1L1731.5 2429.7L1732.5 2429.1L1733.5 2429.1L1734.5 2428.2L1735.5 2427.8L1736.5 2427.5L1737.5 2427.4L1738.5 2426.7L1739.5 2427.3L1740.5 2426L1741.5 2426.6L1742.5 2425.7L1743.5 2426.2L1744.5 2425.1L1745.5 2424.8L1746.5 2424.8L1747.5 2423.3L1748.5 2422.7L1749.5 2422.1L1750.5 2420.6L1751.5 2419.3L1752.5 2418.3L1753.5 2416.8L1754.5 2415.3L1755.5 2414.3L1756.5 2412.6L1757.5 2411.1L1758.5 2411.4L1759.5 2410L1760.5 2407.8L1761.5 2408.3L1762.5 2406.9L1763.5 2407L1764.5 2405.7L1765.5 2405.4L1766.5 2405.5L1767.5 2405.6L1768.5 2407.1L1769.5 2407.6L1770.5 2409.4L1771.5 2410.5L1772.5 2411L1773.5 2413.1L1774.5 2414.8L1775.5 2416L1776.5 2418.3L1777.5 2419.8L1778.5 2420.5L1779.5 2421.6L1780.5 2423.2L1781.5 2423.5L1782.5 2424.5L1783.5 2424.5L1784.5 2424.8L1785.5 2425L1786.5 2425.2L1787.5 2424.1L1788.5 2425.3L1789.5 2425.3L1790.5 2424.8L1791.5 2424.4L1792.5 2424.6L1793.5 2424.5L1794.5 2424.8L1795.5 2424.7L1796.5 2424.4L1797.5 2424.6L1798.5 2424.9L1799.5 2424.5L1800.5 2424.6L1801.5 2424.7L1802.5 2424.4L1803.5 2424.4L1804.5 2424.6L1805.5 2423.4L1806.5 2423.4L1807.5 2423.1L1808.5 2423.7L1809.5 2423.3L1810.5 2423.8L1811.5 2423.1L1812.5 2422.7L1813.5 2422.4L1814.5 2421.1L1815.5 2421.2L1816.5 2419.3L1817.5 2417.2L1818.5 2416.1L1819.5 2414.5L1820.5 2413.3L1821.5 2410.4L1822.5 2409.5L1823.5 2407.3L1824.5 2405.3L1825.5 2405.1L1826.5 2402L1827.5 2399.4L1828.5 2399.7L1829.5 2398.3L1830.5 2397.5L1831.5 2397.3L1832.5 2397.1L1833.5 2396.4L1834.5 2396.6L1835.5 2396.5L1836.5 2396.6L1837.5 2396.5L1838.5 2397.5L1839.5 2396.8L1840.5 2397L1841.5 2396.9L1842.5 2397.4L1843.5 2397.5L1844.5 2397.7L1845.5 2397.6L1846.5 2397.4L1847.5 2397L1848.5 2398.7L1849.5 2398L1850.5 2398.4L1851.5 2398L1852.5 2398.5L1853.5 2399.1L1854.5 2399.5L1855.5 2399L1856.5 2399.3L1857.5 2399L1858.5 2399.1L1859.5 2398.8L1860.5 2398.5L1861.5 2398.4L1862.5 2398.2L1863.5 2399.1L1864.5 2397.8L1865.5 2397.2L1866.5 2397.8L1867.5 2397.1L1868.5 2397.2L1869.5 2396.7L1870.5 2397.1L1871.5 2396.7L1872.5 2396.2L1873.5 2395.6L1874.5 2395.8L1875.5 2395L1876.5 2395.4L1877.5 2395.2L1878.5 2395.1L1879.5 2395.9L1880.5 2395.1L1881.5 2395.1L1882.5 2395.8L1883.5 2395.3L1884.5 2395.2L1885.5 2395.1L1886.5 2395.1L1887.5 2395.6L1888.5 2396.1L1889.5 2396.1L1890.5 2396.8L1891.5 2396L1892.5 2397.1L1893.5 2397L1894.5 2398L1895.5 2397L1896.5 2398.2L1897.5 2398.6L1898.5 2398.5L1899.5 2399.8L1900.5 2399.6L1901.5 2399.9L1902.5 2400.8L1903.5 2400.8L1904.5 2400.9L1905.5 2401.7L1906.5 2402L1907.5 2403.1L1908.5 2403L1909.5 2404.1L1910.5 2403.9L1911.5 2404.3L1912.5 2405.6L1913.5 2405.2L1914.5 2406.3L1915.5 2405.9L1916.5 2407.2L1917.5 2408.3L1918.5 2408.8L1919.5 2409.9L1920.5 2410.6L1921.5 2412.3L1922.5 2412.7L1923.5 2413.3L1924.5 2414.4L1925.5 2415.5L1926.5 2416.7L1927.5 2417.3L1928.5 2418.3L1929.5 2419.4L1930.5 2420.6L1931.5 2421.9L1932.5 2422.8L1933.5 2422.6L1934.5 2424.9L1935.5 2425.5L1936.5 2426.4L1937.5 2427.3L1938.5 2428.7L1939.5 2430.2L1940.5 2431.2L1941.5 2432.3L1942.5 2434.2L1943.5 2435.8L1944.5 2436.9L1945.5 2437.1L1946.5 2438.7L1947.5 2439.1L1948.5 2441.2L1949.5 2442.4L1950.5 2444.4L1951.5 2445.4L1952.5 2446.6L1953.5 2448L1954.5 2449.6L1955.5 2450.4L1956.5 2451.6L1957.5 2453L1958.5 2454.1L1959.5 2456.1L1960.5 2456L1961.5 2458.2L1962.5 2461.7L1963.5 2461.3L1964.5 2463.4L1965.5 2464.8L1966.5 2466.4L1967.5 2467.5L1968.5 2469L1969.5 2470.8L1970.5 2472.2L1971.5 2473.6L1972.5 2475.5L1973.5 2477.3L1974.5 2480L1975.5 2480.9L1976.5 2483.2L1977.5 2484.4L1978.5 2485.6L1979.5 2488.5L1980.5 2490.5L1981.5 2492L1982.5 2494.3L1983.5 2496.7L1984.5 2497.3L1985.5 2499.5L1986.5 2501.8L1987.5 2502.6L1988.5 2503.8L1989.5 2504.5L1990.5 2505.7L1991.5 2506.2L1992.5 2507.3L1993.5 2508.8L1994.5 2509L1995.5 2510.5L1996.5 2509.8L1997.5 2510.8L1998.5 2512.5L1999.5 2512.4L2000.5 2513.4L2001.5 2514.2L2002.5 2514.5L2003.5 2514.8L2004.5 2514L2005.5 2513.9L2006.5 2514.2L2007.5 2512.8L2008.5 2512.6L2009.5 2511.2L2010.5 2509.8L2011.5 2507.9L2012.5 2506.9L2013.5 2505.6L2014.5 2503.9L2015.5 2501.3L2016.5 2499.7L2017.5 2497.1L2018.5 2495.5L2019.5 2491.3L2020.5 2488.1L2021.5 2482.4L2022.5 2478.3L2023.5 2472.5L2024.5 2467.5L2025.5 2473.3L2026.5 2456.1L2027.5 2466.6L2028.5 2446.7L2029.5 2436.7L2030.5 2443.9L2031.5 2439.5L2032.5 2438.2L2033.5 2412.3L2034.5 2431.7L2035.5 2426.6L2036.5 2425.8L2037.5 2428.3L2038.5 2424.1L2039.5 2421.9L2040.5 2443.6L2041.5 2417.5L2042.5 2414.5L2043.5 2417.9L2044.5 2415.6L2045.5 2415.4L2046.5 2411.8L2047.5 2428L2048.5 2410.6L2049.5 2406.5L2050.5 2414L2051.5 2411.2L2052.5 2433.5L2053.5 2392.6L2054.5 2437.6L2055.5 2417L2056.5 2415.2L2057.5 2444.8L2058.5 2415.5L2059.5 2417.3L2060.5 2419.2L2061.5 2416.4L2062.5 2437.4L2063.5 2390.6L2064.5 2401.6L2065.5 2392.5L2066.5 2387.7L2067.5 2352.4L2068.5 2377.3L2069.5 2332.8L2070.5 2398.6L2071.5 2377.8L2072.5 2356.8L2073.5 2349.3L2074.5 2348.2L2075.5 2344.3L2076.5 2347.6L2077.5 2343.7L2078.5 2346L2079.5 2306.6L2080.5 2346.1L2081.5 2346.2L2082.5 2394.5L2083.5 2346.3L2084.5 2346.7L2085.5 2348L2086.5 2308.5L2087.5 2349.3L2088.5 2350L2089 2349" fill="none" stroke="#0d0d0d" stroke-width="4.5" stroke-linejoin="round"/>
<path d="M257 2425.7L257.5 2429.7L258.5 2427.5L259.5 2427.8L260.5 2427.7L261.5 2428.4L262.5 2428.3L263.5 2428.8L264.5 2429.7L265.5 2429.3L266.5 2429.5L267.5 2429L268.5 2431.1L269.5 2429.7L270.5 2431.4L271.5 2429.3L272.5 2430.8L273.5 2429.3L274.5 2437.9L275.5 2430.2L276.5 2434.1L277.5 2430.6L278.5 2439.6L279.5 2430.9L280.5 2440.1L281.5 2428.8L282.5 2443.8L283.5 2429.9L284.5 2445.1L285.5 2431.1L286.5 2438.1L287.5 2429L288.5 2436L289.5 2431.6L290.5 2434.3L291.5 2432.4L292.5 2439.5L293.5 2432.5L294.5 2435.2L295.5 2432.3L296.5 2437.2L297.5 2431.3L298.5 2436.9L299.5 2432.7L300.5 2437.1L301.5 2430.9L302.5 2444L303.5 2432.1L304.5 2438.7L305.5 2432.8L306.5 2441L307.5 2427.8L308.5 2442.4L309.5 2432.9L310.5 2441.6L311.5 2433L312.5 2438.1L313.5 2432.9L314.5 2442.5L315.5 2432.5L316.5 2440.2L317.5 2431.6L318.5 2442.9L319.5 2433.5L320.5 2441.3L321.5 2429L322.5 2442.7L323.5 2433.3L324.5 2443.4L325.5 2433.7L326.5 2443.1L327.5 2433.9L328.5 2438.7L329.5 2433.2L330.5 2436.8L331.5 2431.3L332.5 2438.6L333.5 2432.9L334.5 2445.3L335.5 2434.6L336.5 2442.8L337.5 2431.3L338.5 2439.9L339.5 2431.6L340.5 2443.5L341.5 2432.5L342.5 2457.5L343.5 2433.8L344.5 2449.5L345.5 2433.7L346.5 2438.9L347.5 2432.7L348.5 2440.3L349.5 2432.8L350.5 2449.1L351.5 2434.8L352.5 2438.6L353.5 2433.1L354.5 2440.9L355.5 2433.2L356.5 2443L357.5 2432.9L358.5 2441L359.5 2433L360.5 2451.7L361.5 2433.4L362.5 2439.4L363.5 2433.5L364.5 2441.6L365.5 2434L366.5 2438.3L367.5 2434.1L368.5 2444.4L369.5 2433L370.5 2459L371.5 2433.1L372.5 2443.3L373.5 2432.9L374.5 2440.7L375.5 2433.4L376.5 2451.7L377.5 2433.6L378.5 2444.4L379.5 2433.4L380.5 2440.1L381.5 2432.9L382.5 2440.8L383.5 2434.8L384.5 2442.5L385.5 2435L386.5 2438.3L387.5 2434.2L388.5 2441.2L389.5 2432.5L390.5 2442.4L391.5 2433.1L392.5 2446L393.5 2432.2L394.5 2442.2L395.5 2433.2L396.5 2436.8L397.5 2434L398.5 2444.7L399.5 2433L400.5 2440.3L401.5 2432.5L402.5 2461.2L403.5 2434.7L404.5 2436.7L405.5 2431.7L406.5 2439.6L407.5 2428.3L408.5 2446.2L409.5 2434.3L410.5 2438.1L411.5 2435.2L412.5 2444.4L413.5 2432.2L414.5 2444.6L415.5 2431.7L416.5 2444.1L417.5 2432.2L418.5 2437.1L419.5 2434.4L420.5 2440.4L421.5 2434.3L422.5 2443L423.5 2432.3L424.5 2443.5L425.5 2434.8L426.5 2447.7L427.5 2434L428.5 2443.8L429.5 2433.6L430.5 2440.1L431.5 2435.8L432.5 2440.6L433.5 2436.9L434.5 2442.1L435.5 2437.1L436.5 2454.4L437.5 2436.2L438.5 2442.9L439.5 2438.6L440.5 2459.9L441.5 2439.2L442.5 2444.9L443.5 2441.1L444.5 2457.9L445.5 2443.8L446.5 2454.9L447.5 2444.6L448.5 2462.3L449.5 2447.8L450.5 2474.3L451.5 2449L452.5 2462.3L453.5 2453.5L454.5 2471.1L455.5 2455L456.5 2460.5L457.5 2458.2L458.5 2463.3L459.5 2458.6L460.5 2473.6L461.5 2460.7L462.5 2467.5L463.5 2461.2L464.5 2484.2L465.5 2464.9L466.5 2473.3L467.5 2465.4L468.5 2470.5L469.5 2468.4L470.5 2476.1L471.5 2469.8L472.5 2476.5L473.5 2471.9L474.5 2473.8L475.5 2472.3L476.5 2476.5L477.5 2472.6L478.5 2486.2L479.5 2475.1L480.5 2480.8L481.5 2476.7L482.5 2481.5L483.5 2474.4L484.5 2483.2L485.5 2479.1L486.5 2481.5L487.5 2480.6L488.5 2482.7L489.5 2481.7L490.5 2484.3L491.5 2483.4L492.5 2485.6L493.5 2483.3L494.5 2487.8L495.5 2484.6L496.5 2488.5L497.5 2486.1L498.5 2487.7L499.5 2487.7L500.5 2488.7L501.5 2488.1L502.5 2490.5L503.5 2489.4L504.5 2489.5L505.5 2490.3L506.5 2490.1L507.5 2492L508.5 2492.1L509.5 2492.2L510.5 2493.5L511.5 2493L512.5 2493.4L513.5 2494.9L514.5 2494.2L515.5 2495.6L516.5 2495L517.5 2496.1L518.5 2497.4L519.5 2496.5L520.5 2497L521.5 2497.9L522.5 2498.1L523.5 2498L524.5 2499.5L525.5 2499.8L526.5 2499.8L527.5 2501L528.5 2500.9L529.5 2501.5L530.5 2501.6L531.5 2502.3L532.5 2501.6L533.5 2502.4L534.5 2502.8L535.5 2503.1L536.5 2504.1L537.5 2504L538.5 2504.3L539.5 2505.6L540.5 2505.9L541.5 2506.9L542.5 2507.4L543.5 2506.6L544.5 2508.4L545.5 2508.3L546.5 2508.4L547.5 2509.1L548.5 2509L549.5 2509.5L550.5 2510.5L551.5 2511.3L552.5 2510.6L553.5 2511.5L554.5 2511.5L555.5 2512.6L556.5 2513.2L557.5 2512.8L558.5 2513.8L559.5 2513.7L560.5 2514.3L561.5 2515.5L562.5 2516L563.5 2516.5L564.5 2516.2L565.5 2517.6L566.5 2518L567.5 2519.5L568.5 2518.7L569.5 2519.8L570.5 2518.7L571.5 2520.6L572.5 2521.1L573.5 2521.7L574.5 2521.7L575.5 2522.2L576.5 2522.9L577.5 2523.8L578.5 2524.6L579.5 2524.5L580.5 2525L581.5 2525.8L582.5 2526.8L583.5 2527.2L584.5 2528L585.5 2528.6L586.5 2529.2L587.5 2530.3L588.5 2531.7L589.5 2532L590.5 2533.1L591.5 2533.9L592.5 2535L593.5 2537.1L594.5 2536.7L595.5 2537.8L596.5 2538.6L597.5 2540L598.5 2540.1L599.5 2541.4L600.5 2542.2L601.5 2543.8L602.5 2543.9L603.5 2545.2L604.5 2545.4L605.5 2546.7L606.5 2547L607.5 2548.1L608.5 2548.9L609.5 2550L610.5 2550.8L611.5 2551.2L612.5 2551.7L613.5 2552.8L614.5 2552.7L615.5 2553.5L616.5 2554L617.5 2553.9L618.5 2553.9L619.5 2554.5L620.5 2555.2L621.5 2555.3L622.5 2555.4L623.5 2555.4L624.5 2554.8L625.5 2554L626.5 2555L627.5 2554.5L628.5 2553.8L629.5 2554.4L630.5 2553.3L631.5 2554.6L632.5 2552.7L633.5 2553.3L634.5 2553.4L635.5 2552.8L636.5 2552L637.5 2551.1L638.5 2550.6L639.5 2551.1L640.5 2550.7L641.5 2549.7L642.5 2549.6L643.5 2548.7L644.5 2549.5L645.5 2548.9L646.5 2548.3L647.5 2546.4L648.5 2546.7L649.5 2546.8L650.5 2546L651.5 2545L652.5 2544.1L653.5 2544.2L654.5 2542.7L655.5 2542.8L656.5 2541.1L657.5 2541.5L658.5 2540.4L659.5 2539.6L660.5 2539.4L661.5 2538.9L662.5 2537.8L663.5 2537.8L664.5 2535.9L665.5 2536L666.5 2535.7L667.5 2534.7L668.5 2533.9L669.5 2534L670.5 2533.4L671.5 2532.2L672.5 2532.1L673.5 2531.1L674.5 2529.9L675.5 2529.5L676.5 2529.4L677.5 2528.3L678.5 2527.7L679.5 2526.7L680.5 2525.9L681.5 2525.7L682.5 2524L683.5 2522.6L684.5 2522.2L685.5 2520.8L686.5 2520L687.5 2519.5L688.5 2517L689.5 2516.5L690.5 2515.3L691.5 2515.4L692.5 2513L693.5 2511.8L694.5 2511L695.5 2510L696.5 2508.1L697.5 2507.7L698.5 2507.5L699.5 2506.2L700.5 2505.1L701.5 2504.6L702.5 2503.5L703.5 2501.9L704.5 2502.3L705.5 2501.6L706.5 2500.5L707.5 2499.7L708.5 2499.9L709.5 2498.9L710.5 2498.8L711.5 2497.6L712.5 2497.3L713.5 2497.6L714.5 2496.6L715.5 2497.1L716.5 2496.9L717.5 2497.2L718.5 2496.9L719.5 2498.1L720.5 2498.2L721.5 2497.8L722.5 2498.5L723.5 2499.2L724.5 2499.8L725.5 2499.3L726.5 2500.2L727.5 2500.2L728.5 2499.8L729.5 2500.9L730.5 2500.7L731.5 2502.1L732.5 2500.6L733.5 2501.8L734.5 2501.8L735.5 2503L736.5 2501.7L737.5 2502.2L738.5 2501.5L739.5 2502.9L740.5 2502L741.5 2502.2L742.5 2501.9L743.5 2502.3L744.5 2501.4L745.5 2501.5L746.5 2500.5L747.5 2500.1L748.5 2499.2L749.5 2498.6L750.5 2497.6L751.5 2496.7L752.5 2496.3L753.5 2494.9L754.5 2494.1L755.5 2493.8L756.5 2492.1L757.5 2491.9L758.5 2489.9L759.5 2490.2L760.5 2488.4L761.5 2487.3L762.5 2486.8L763.5 2484.9L764.5 2484.4L765.5 2484.2L766.5 2482.3L767.5 2482.3L768.5 2481L769.5 2481L770.5 2479.3L771.5 2478.5L772.5 2478.7L773.5 2478.9L774.5 2477.1L775.5 2477.3L776.5 2476.7L777.5 2477.6L778.5 2477.9L779.5 2477.4L780.5 2476.8L781.5 2478.6L782.5 2477.7L783.5 2478.3L784.5 2479L785.5 2478.7L786.5 2479L787.5 2480.1L788.5 2480.6L789.5 2481.6L790.5 2482.4L791.5 2482.3L792.5 2483.1L793.5 2482.7L794.5 2484.7L795.5 2484.4L796.5 2485.5L797.5 2486L798.5 2486.5L799.5 2486.8L800.5 2488.1L801.5 2487.5L802.5 2488.8L803.5 2489.4L804.5 2489.6L805.5 2489.4L806.5 2491.1L807.5 2491L808.5 2491.6L809.5 2492.5L810.5 2491.8L811.5 2492.1L812.5 2492.3L813.5 2492.5L814.5 2493.3L815.5 2491.9L816.5 2492.2L817.5 2491.6L818.5 2491.1L819.5 2489.6L820.5 2488.1L821.5 2486.6L822.5 2485.6L823.5 2484.2L824.5 2482.8L825.5 2481.9L826.5 2479.9L827.5 2478.4L828.5 2477.1L829.5 2475.2L830.5 2474.6L831.5 2473.8L832.5 2472L833.5 2472.5L834.5 2470.7L835.5 2471.3L836.5 2470.2L837.5 2469.2L838.5 2468.5L839.5 2468.3L840.5 2468.6L841.5 2468.1L842.5 2466.6L843.5 2466.9L844.5 2467L845.5 2465.9L846.5 2465.7L847.5 2464.5L848.5 2464.7L849.5 2464.3L850.5 2462.9L851.5 2463.1L852.5 2462.7L853.5 2462.5L854.5 2462.2L855.5 2461L856.5 2461.2L857.5 2460.1L858.5 2460L859.5 2460.5L860.5 2459.6L861.5 2460.1L862.5 2458.4L863.5 2459.1L864.5 2458.4L865.5 2458.6L866.5 2457.9L867.5 2457.6L868.5 2457.2L869.5 2456.9L870.5 2456.1L871.5 2456.4L872.5 2456L873.5 2455.4L874.5 2455.4L875.5 2454.8L876.5 2454.7L877.5 2453.8L878.5 2453.8L879.5 2454.1L880.5 2453.1L881.5 2452.8L882.5 2452.9L883.5 2452.6L884.5 2451.5L885.5 2450L886.5 2451.1L887.5 2451.5L888.5 2450.1L889.5 2450.6L890.5 2449.7L891.5 2449.9L892.5 2449.4L893.5 2448.6L894.5 2447.6L895.5 2448.6L896.5 2447.1L897.5 2447.8L898.5 2446.8L899.5 2446.9L900.5 2446.5L901.5 2445.7L902.5 2444.9L903.5 2446.8L904.5 2446.2L905.5 2445.6L906.5 2444.7L907.5 2443.9L908.5 2443.6L909.5 2444.1L910.5 2444.4L911.5 2443.6L912.5 2443.5L913.5 2442.6L914.5 2442.6L915.5 2441.7L916.5 2441.3L917.5 2441.8L918.5 2441.4L919.5 2441.4L920.5 2440.3L921.5 2440.7L922.5 2440.9L923.5 2440.8L924.5 2440.2L925.5 2439.8L926.5 2439.9L927.5 2439.1L928.5 2438.7L929.5 2439.4L930.5 2438.3L931.5 2438.2L932.5 2438.4L933.5 2438.3L934.5 2438.8L935.5 2436.5L936.5 2437L937.5 2436.3L938.5 2436.3L939.5 2435.6L940.5 2436.4L941.5 2436.3L942.5 2436L943.5 2435.7L944.5 2435.1L945.5 2435.4L946.5 2435.9L947.5 2434.9L948.5 2435.1L949.5 2435.2L950.5 2434.4L951.5 2435L952.5 2434.3L953.5 2434.9L954.5 2435.2L955.5 2434.9L956.5 2434.8L957.5 2434.3L958.5 2434.7L959.5 2434.8L960.5 2435.3L961.5 2434.1L962.5 2434.1L963.5 2434.6L964.5 2433.7L965.5 2434.9L966.5 2435.1L967.5 2433.6L968.5 2434.5L969.5 2433.6L970.5 2434.8L971.5 2434.7L972.5 2434.3L973.5 2434.6L974.5 2433.8L975.5 2433.9L976.5 2433.6L977.5 2433.5L978.5 2434L979.5 2433.5L980.5 2433.4L981.5 2433.2L982.5 2434L983.5 2433.7L984.5 2433.3L985.5 2434.2L986.5 2433.6L987.5 2432.4L988.5 2433.6L989.5 2433.6L990.5 2433.1L991.5 2433.6L992.5 2433.5L993.5 2434L994.5 2433.8L995.5 2433.2L996.5 2433.4L997.5 2433.4L998.5 2433L999.5 2433.6L1000.5 2433.8L1001.5 2432.8L1002.5 2431.8L1003.5 2433.6L1004.5 2433L1005.5 2433.3L1006.5 2432.4L1007.5 2432.3L1008.5 2432.8L1009.5 2432.4L1010.5 2432.8L1011.5 2432.4L1012.5 2433.5L1013.5 2432.6L1014.5 2433L1015.5 2432.2L1016.5 2433.2L1017.5 2432.5L1018.5 2433.2L1019.5 2432.6L1020.5 2433.1L1021.5 2432.6L1022.5 2432.1L1023.5 2432.6L1024.5 2431.8L1025.5 2432.4L1026.5 2432.8L1027.5 2432.4L1028.5 2432.5L1029.5 2432.1L1030.5 2432.4L1031.5 2432.7L1032.5 2433.7L1033.5 2431.8L1034.5 2432.5L1035.5 2432L1036.5 2432.9L1037.5 2432.7L1038.5 2432.4L1039.5 2432.7L1040.5 2432.2L1041.5 2432.8L1042.5 2432.4L1043.5 2432.6L1044.5 2433.3L1045.5 2433.3L1046.5 2432.2L1047.5 2432.4L1048.5 2432.1L1049.5 2432.6L1050.5 2432.2L1051.5 2432.5L1052.5 2432.5L1053.5 2431.5L1054.5 2431.7L1055.5 2431.7L1056.5 2432.7L1057.5 2432L1058.5 2431.8L1059.5 2432.4L1060.5 2432.4L1061.5 2432.7L1062.5 2431.8L1063.5 2432.8L1064.5 2432.5L1065.5 2432.5L1066.5 2432.6L1067.5 2432.5L1068.5 2432.3L1069.5 2432.6L1070.5 2432.5L1071.5 2432.9L1072.5 2432.1L1073.5 2432.2L1074.5 2433.1L1075.5 2432.3L1076.5 2432.8L1077.5 2432.8L1078.5 2432.9L1079.5 2432.9L1080.5 2432.9L1081.5 2433.1L1082.5 2433.3L1083.5 2433.5L1084.5 2432.5L1085.5 2433.3L1086.5 2432.9L1087.5 2432.6L1088.5 2432.8L1089.5 2432.9L1090.5 2431.9L1091.5 2433.1L1092.5 2432.6L1093.5 2432.9L1094.5 2432.7L1095.5 2432.7L1096.5 2432.4L1097.5 2433.1L1098.5 2432.9L1099.5 2432.2L1100.5 2434.3L1101.5 2433L1102.5 2433.5L1103.5 2432.6L1104.5 2433.3L1105.5 2433L1106.5 2433.6L1107.5 2434.1L1108.5 2433.3L1109.5 2433.4L1110.5 2433.4L1111.5 2433.2L1112.5 2433.3L1113.5 2434.5L1114.5 2433.8L1115.5 2434.3L1116.5 2433.5L1117.5 2434.4L1118.5 2433.2L1119.5 2434L1120.5 2433.3L1121.5 2433L1122.5 2433.9L1123.5 2434.4L1124.5 2433.9L1125.5 2434.1L1126.5 2433.8L1127.5 2433.6L1128.5 2433.6L1129.5 2434L1130.5 2433.6L1131.5 2433.8L1132.5 2433.1L1133.5 2434.9L1134.5 2433.5L1135.5 2434.2L1136.5 2434.4L1137.5 2434.1L1138.5 2434.6L1139.5 2434.5L1140.5 2434.3L1141.5 2434.4L1142.5 2434.6L1143.5 2434.8L1144.5 2434L1145.5 2433.9L1146.5 2434.1L1147.5 2434.6L1148.5 2433.8L1149.5 2434.2L1150.5 2434.5L1151.5 2434.6L1152.5 2434.2L1153.5 2434.2L1154.5 2434.3L1155.5 2434.2L1156.5 2434.6L1157.5 2434.6L1158.5 2434.9L1159.5 2434.1L1160.5 2435L1161.5 2434.6L1162.5 2434.4L1163.5 2434.4L1164.5 2434.7L1165.5 2434.6L1166.5 2434.1L1167.5 2434.6L1168.5 2435.2L1169.5 2436L1170.5 2434.5L1171.5 2434.7L1172.5 2434.8L1173.5 2434.7L1174.5 2434.5L1175.5 2434L1176.5 2434.8L1177.5 2434.8L1178.5 2435.6L1179.5 2435.2L1180.5 2435.1L1181.5 2434.6L1182.5 2435.6L1183.5 2434.6L1184.5 2435.7L1185.5 2435.5L1186.5 2435.3L1187.5 2435L1188.5 2435L1189.5 2435.3L1190.5 2434.8L1191.5 2435L1192.5 2435.3L1193.5 2434.9L1194.5 2434.8L1195.5 2434.6L1196.5 2435.5L1197.5 2434.7L1198.5 2434.2L1199.5 2435L1200.5 2434.5L1201.5 2434.8L1202.5 2435.4L1203.5 2435.7L1204.5 2434.6L1205.5 2434.6L1206.5 2435.5L1207.5 2434.9L1208.5 2434.9L1209.5 2434.7L1210.5 2434.5L1211.5 2435.4L1212.5 2434.8L1213.5 2436.4L1214.5 2435.5L1215.5 2434.8L1216.5 2434.8L1217.5 2434.5L1218.5 2434.9L1219.5 2433.9L1220.5 2434.2L1221.5 2434.9L1222.5 2434.5L1223.5 2434.4L1224.5 2434.9L1225.5 2434.7L1226.5 2434L1227.5 2434.5L1228.5 2434.8L1229.5 2434.2L1230.5 2434.7L1231.5 2434.9L1232.5 2434.6L1233.5 2434.7L1234.5 2433.7L1235.5 2434.4L1236.5 2434.5L1237.5 2434.4L1238.5 2433.7L1239.5 2434.3L1240.5 2434.4L1241.5 2434.7L1242.5 2433L1243.5 2433.6L1244.5 2434.6L1245.5 2433.7L1246.5 2434.3L1247.5 2434.1L1248.5 2433.7L1249.5 2434.1L1250.5 2434.3L1251.5 2434L1252.5 2433.4L1253.5 2433.3L1254.5 2433.7L1255.5 2434.9L1256.5 2432.7L1257.5 2433.1L1258.5 2433.3L1259.5 2434.3L1260.5 2433.1L1261.5 2432.6L1262.5 2433.5L1263.5 2433.3L1264.5 2433.3L1265.5 2433L1266.5 2432.9L1267.5 2432.6L1268.5 2432.9L1269.5 2433.1L1270.5 2432.9L1271.5 2432.5L1272.5 2432L1273.5 2432.7L1274.5 2433L1275.5 2432.5L1276.5 2432.6L1277.5 2432.4L1278.5 2431.5L1279.5 2433.5L1280.5 2431.7L1281.5 2432.1L1282.5 2431.7L1283.5 2432.2L1284.5 2432L1285.5 2432.1L1286.5 2431.5L1287.5 2431.2L1288.5 2431.5L1289.5 2431.6L1290.5 2431.5L1291.5 2431L1292.5 2431.2L1293.5 2432.1L1294.5 2431.7L1295.5 2431L1296.5 2431.8L1297.5 2431.3L1298.5 2430.9L1299.5 2430.7L1300.5 2430.5L1301.5 2431.5L1302.5 2430.3L1303.5 2430.6L1304.5 2430.8L1305.5 2430.4L1306.5 2430.6L1307.5 2430.9L1308.5 2430.9L1309.5 2430.1L1310.5 2430.2L1311.5 2430L1312.5 2430.1L1313.5 2430.5L1314.5 2430L1315.5 2429.7L1316.5 2429.3L1317.5 2429L1318.5 2430.5L1319.5 2429.6L1320.5 2429.3L1321.5 2429.8L1322.5 2429.8L1323.5 2428.8L1324.5 2429.8L1325.5 2429L1326.5 2429.5L1327.5 2428.8L1328.5 2430.3L1329.5 2428.2L1330.5 2430.9L1331.5 2428.2L1332.5 2430.5L1333.5 2428.9L1334.5 2430.6L1335.5 2428.3L1336.5 2435.6L1337.5 2429.1L1338.5 2431.8L1339.5 2428.4L1340.5 2429L1341.5 2428L1342.5 2430.3L1343.5 2428.5L1344.5 2432L1345.5 2428L1346.5 2435L1347.5 2428.3L1348.5 2430.8L1349.5 2429.2L1350.5 2433.2L1351.5 2425.8L1352.5 2431.9L1353.5 2428.8L1354.5 2430.1L1355.5 2428.5L1356.5 2432.3L1357.5 2427.7L1358.5 2429L1359.5 2427.3L1360.5 2429L1361.5 2426L1362.5 2433.5L1363.5 2427.2L1364.5 2430.4L1365.5 2427.1L1366.5 2429L1367.5 2426.2L1368.5 2434.1L1369.5 2426.1L1370.5 2429.3L1371.5 2426.4L1372.5 2432.5L1373.5 2425.9L1374.5 2428.4L1375.5 2425.4L1376.5 2428.9L1377.5 2425.3L1378.5 2428.7L1379.5 2425.4L1380.5 2429.2L1381.5 2425.8L1382.5 2428.7L1383.5 2424.8L1384.5 2430.5L1385.5 2424.6L1386.5 2428.4L1387.5 2426L1388.5 2429.9L1389.5 2424.9L1390.5 2429.8L1391.5 2424L1392.5 2428.8L1393.5 2423.3L1394.5 2429.2L1395.5 2424.7L1396.5 2426.7L1397.5 2425.9L1398.5 2427.2L1399.5 2426L1400.5 2429.4L1401.5 2425.1L1402.5 2428.2L1403.5 2423.8L1404.5 2429.2L1405.5 2425.4L1406.5 2427.2L1407.5 2424.1L1408.5 2428.2L1409.5 2424.3L1410.5 2427.1L1411.5 2424.5L1412.5 2428.7L1413.5 2424.7L1414.5 2428.6L1415.5 2424.9L1416.5 2426.3L1417.5 2424.4L1418.5 2428.6L1419.5 2424.2L1420.5 2427.3L1421.5 2424.5L1422.5 2427.5L1423.5 2425L1424.5 2428.5L1425.5 2425.2L1426.5 2429.1L1427.5 2425L1428.5 2429.2L1429.5 2424.9L1430.5 2428.1L1431.5 2425.2L1432.5 2426.5L1433.5 2425L1434.5 2429.5L1435.5 2424.9L1436.5 2427.6L1437.5 2426.5L1438.5 2428.3L1439.5 2428.4L1440.5 2429.7L1441.5 2429.5L1442.5 2429.4L1443.5 2429.9L1444.5 2429.5L1445.5 2429.8L1446.5 2429.7L1447.5 2429.7L1448.5 2430.2L1449.5 2429.7L1450.5 2430.7L1451.5 2433.6L1452.5 2437.2L1453.5 2441.2L1454.5 2445.4L1455.5 2449.8L1456.5 2455.2L1457.5 2461.7L1458.5 2467L1459.5 2474.6L1460.5 2481.3L1461.5 2490L1462.5 2499.5L1463.5 2508.1L1464.5 2516.2L1465.5 2525.1L1466.5 2532.6L1467.5 2541.2L1468.5 2549.7L1469.5 2558.3L1470.5 2567.4L1471.5 2575.9L1472.5 2585.7L1473.5 2595.1L1474.5 2606.6L1475.5 2618.9L1476.5 2630L1477.5 2642.2L1478.5 2653.3L1479.5 2663.6L1480.5 2674.5L1481.5 2684.9L1482.5 2694.1L1483.5 2703.3L1484.5 2709L1485.5 2716.9L1486.5 2722.7L1487.5 2728.1L1488.5 2731.4L1489.5 2735.5L1490.5 2738L1491.5 2741.4L1492.5 2743.5L1493.5 2744.6L1494.5 2745.4L1495.5 2743.1L1496.5 2736.1L1497.5 2729.3L1498.5 2722.4L1499.5 2712.3L1500.5 2702.2L1501.5 2692.1L1502.5 2682.2L1503.5 2671.8L1504.5 2661.9L1505.5 2652.1L1506.5 2642.3L1507.5 2631.3L1508.5 2622.3L1509.5 2612L1510.5 2602.4L1511.5 2590.5L1512.5 2579L1513.5 2569.9L1514.5 2562.5L1515.5 2554.4L1516.5 2549.3L1517.5 2542.9L1518.5 2540L1519.5 2540.7L1520.5 2541.4L1521.5 2546.3L1522.5 2550.9L1523.5 2555.9L1524.5 2562L1525.5 2568.6L1526.5 2573.8L1527.5 2580.3L1528.5 2587.9L1529.5 2596.3L1530.5 2606L1531.5 2617.3L1532.5 2632.1L1533.5 2647.1L1534.5 2655.7L1535.5 2662L1536.5 2668.8L1537.5 2674.2L1538.5 2677.2L1539.5 2679.7L1540.5 2682.8L1541.5 2684.8L1542.5 2687L1543.5 2688.2L1544.5 2686.7L1545.5 2684.7L1546.5 2679.3L1547.5 2674.2L1548.5 2665.9L1549.5 2657.8L1550.5 2651.6L1551.5 2643.3L1552.5 2636.4L1553.5 2632L1554.5 2627.4L1555.5 2622.2L1556.5 2618.7L1557.5 2613L1558.5 2608L1559.5 2601.6L1560.5 2595.1L1561.5 2587.4L1562.5 2577.3L1563.5 2563.2L1564.5 2549.8L1565.5 2535.5L1566.5 2524.1L1567.5 2516.4L1568.5 2507.7L1569.5 2501.2L1570.5 2494L1571.5 2488.5L1572.5 2484.1L1573.5 2481.3L1574.5 2480L1575.5 2481.4L1576.5 2482.9L1577.5 2488.2L1578.5 2492.9L1579.5 2498.4L1580.5 2502.8L1581.5 2506.1L1582.5 2512.2L1583.5 2518.2L1584.5 2523.3L1585.5 2528.7L1586.5 2533.4L1587.5 2536.2L1588.5 2537L1589.5 2536.1L1590.5 2532.6L1591.5 2527.2L1592.5 2521.5L1593.5 2516.1L1594.5 2510.9L1595.5 2505.6L1596.5 2503.8L1597.5 2500.8L1598.5 2498L1599.5 2495.3L1600.5 2493.3L1601.5 2491.2L1602.5 2489.6L1603.5 2488.6L1604.5 2488.1L1605.5 2489L1606.5 2488.8L1607.5 2488.9L1608.5 2489.6L1609.5 2491.2L1610.5 2492.5L1611.5 2493.8L1612.5 2494.9L1613.5 2496.5L1614.5 2496.3L1615.5 2498.7L1616.5 2499.4L1617.5 2500.2L1618.5 2499.4L1619.5 2499.4L1620.5 2498.5L1621.5 2497.5L1622.5 2494L1623.5 2492.5L1624.5 2490.7L1625.5 2487.3L1626.5 2483.2L1627.5 2481L1628.5 2478.1L1629.5 2475.7L1630.5 2471.6L1631.5 2467.1L1632.5 2462.2L1633.5 2457.5L1634.5 2452.1L1635.5 2449.1L1636.5 2444.9L1637.5 2442.3L1638.5 2440L1639.5 2439L1640.5 2439.7L1641.5 2440.8L1642.5 2444.2L1643.5 2447.6L1644.5 2451.7L1645.5 2456.8L1646.5 2461.1L1647.5 2465.5L1648.5 2469.4L1649.5 2471L1650.5 2471.9L1651.5 2472.4L1652.5 2471.1L1653.5 2470.5L1654.5 2470.1L1655.5 2468.5L1656.5 2468.5L1657.5 2466.2L1658.5 2465.1L1659.5 2463.7L1660.5 2462.2L1661.5 2460.1L1662.5 2460.2L1663.5 2458.9L1664.5 2458.1L1665.5 2457.4L1666.5 2456.3L1667.5 2455.7L1668.5 2456.3L1669.5 2456.2L1670.5 2456.6L1671.5 2457.8L1672.5 2458.1L1673.5 2459.7L1674.5 2461.5L1675.5 2463L1676.5 2464L1677.5 2465.6L1678.5 2466.6L1679.5 2468.9L1680.5 2471.8L1681.5 2473.5L1682.5 2474.9L1683.5 2476.1L1684.5 2479.7L1685.5 2480.9L1686.5 2482.8L1687.5 2485.8L1688.5 2488.8L1689.5 2493.2L1690.5 2496.5L1691.5 2501.8L1692.5 2505L1693.5 2509.7L1694.5 2513.4L1695.5 2518.2L1696.5 2522.7L1697.5 2525.3L1698.5 2529.2L1699.5 2531.7L1700.5 2534.6L1701.5 2536L1702.5 2537.3L1703.5 2537.2L1704.5 2536.3L1705.5 2534L1706.5 2530.8L1707.5 2526.6L1708.5 2523.1L1709.5 2517.9L1710.5 2512.9L1711.5 2508.2L1712.5 2503.6L1713.5 2498.8L1714.5 2494.1L1715.5 2490.1L1716.5 2486.4L1717.5 2484.7L1718.5 2481.9L1719.5 2479.1L1720.5 2476.8L1721.5 2475.6L1722.5 2471.4L1723.5 2469.6L1724.5 2468.6L1725.5 2466.1L1726.5 2464.4L1727.5 2464.2L1728.5 2461.8L1729.5 2460.8L1730.5 2460.9L1731.5 2459.8L1732.5 2459.7L1733.5 2460L1734.5 2459.1L1735.5 2460L1736.5 2459L1737.5 2459.1L1738.5 2459.3L1739.5 2458.6L1740.5 2459.1L1741.5 2459.3L1742.5 2458.9L1743.5 2458.8L1744.5 2457.9L1745.5 2458L1746.5 2458L1747.5 2456.3L1748.5 2456.3L1749.5 2454.5L1750.5 2452.3L1751.5 2450.8L1752.5 2450L1753.5 2448.3L1754.5 2447.2L1755.5 2446.4L1756.5 2445.6L1757.5 2443.5L1758.5 2443.5L1759.5 2443.7L1760.5 2444.6L1761.5 2444L1762.5 2443.8L1763.5 2444.3L1764.5 2444.5L1765.5 2444.4L1766.5 2444.9L1767.5 2445.6L1768.5 2445.2L1769.5 2445.2L1770.5 2445L1771.5 2445.5L1772.5 2445.8L1773.5 2446.3L1774.5 2447.2L1775.5 2449.1L1776.5 2451.7L1777.5 2454.9L1778.5 2457.8L1779.5 2461L1780.5 2464.4L1781.5 2467.5L1782.5 2469.8L1783.5 2472.1L1784.5 2473.8L1785.5 2473.8L1786.5 2473.7L1787.5 2474.8L1788.5 2474.4L1789.5 2474.1L1790.5 2473.4L1791.5 2473.7L1792.5 2473.9L1793.5 2473.9L1794.5 2473.4L1795.5 2473.2L1796.5 2472.9L1797.5 2473.3L1798.5 2472.6L1799.5 2473.2L1800.5 2471.7L1801.5 2472.3L1802.5 2471.2L1803.5 2471.1L1804.5 2471.8L1805.5 2470.7L1806.5 2470.5L1807.5 2469.8L1808.5 2470.8L1809.5 2470.1L1810.5 2469.3L1811.5 2469L1812.5 2468.6L1813.5 2467.2L1814.5 2467.1L1815.5 2465.1L1816.5 2462.6L1817.5 2461.9L1818.5 2460.3L1819.5 2457.2L1820.5 2454.8L1821.5 2453.1L1822.5 2450.6L1823.5 2447.4L1824.5 2445.5L1825.5 2444.2L1826.5 2441.6L1827.5 2440.1L1828.5 2438.8L1829.5 2437.8L1830.5 2436.4L1831.5 2437.1L1832.5 2435.8L1833.5 2435.6L1834.5 2435.7L1835.5 2436.3L1836.5 2435.3L1837.5 2435.2L1838.5 2436L1839.5 2435.9L1840.5 2435.5L1841.5 2434.9L1842.5 2435.4L1843.5 2434.9L1844.5 2436.3L1845.5 2435.6L1846.5 2435.7L1847.5 2435.3L1848.5 2434.5L1849.5 2436.4L1850.5 2436.3L1851.5 2435.4L1852.5 2435.6L1853.5 2435.3L1854.5 2436.1L1855.5 2434.9L1856.5 2435.8L1857.5 2436.4L1858.5 2435.9L1859.5 2434.6L1860.5 2435.7L1861.5 2435.4L1862.5 2435.9L1863.5 2436.2L1864.5 2435.7L1865.5 2435.9L1866.5 2435.7L1867.5 2434.7L1868.5 2435.1L1869.5 2435.8L1870.5 2435L1871.5 2434.1L1872.5 2435.2L1873.5 2435.2L1874.5 2435.5L1875.5 2435.8L1876.5 2435.2L1877.5 2435.7L1878.5 2436.8L1879.5 2438.1L1880.5 2437.7L1881.5 2438.7L1882.5 2439.6L1883.5 2441.2L1884.5 2443.1L1885.5 2443.9L1886.5 2444.7L1887.5 2445.9L1888.5 2448.9L1889.5 2449.7L1890.5 2451.9L1891.5 2453.8L1892.5 2453.7L1893.5 2457L1894.5 2458.2L1895.5 2459.6L1896.5 2461.5L1897.5 2463L1898.5 2464.3L1899.5 2465.5L1900.5 2467.2L1901.5 2468.6L1902.5 2470L1903.5 2471.2L1904.5 2472.7L1905.5 2474.4L1906.5 2474.8L1907.5 2476.1L1908.5 2476.2L1909.5 2477L1910.5 2480L1911.5 2479.9L1912.5 2481.4L1913.5 2482.5L1914.5 2484.1L1915.5 2485.4L1916.5 2485.4L1917.5 2487.4L1918.5 2489.6L1919.5 2490.5L1920.5 2492.6L1921.5 2493.9L1922.5 2495.7L1923.5 2497.4L1924.5 2499.2L1925.5 2499.7L1926.5 2503.3L1927.5 2504.5L1928.5 2507.3L1929.5 2510.4L1930.5 2511.6L1931.5 2514.3L1932.5 2516.5L1933.5 2519L1934.5 2521.2L1935.5 2524.8L1936.5 2526.1L1937.5 2528.4L1938.5 2532.6L1939.5 2534.1L1940.5 2537.4L1941.5 2539.8L1942.5 2541.2L1943.5 2544.5L1944.5 2547.1L1945.5 2549.1L1946.5 2552.7L1947.5 2554.3L1948.5 2557.2L1949.5 2559.2L1950.5 2561.5L1951.5 2564.2L1952.5 2566.6L1953.5 2570.1L1954.5 2572L1955.5 2574.1L1956.5 2577.4L1957.5 2580.8L1958.5 2581.8L1959.5 2586.1L1960.5 2587.4L1961.5 2591L1962.5 2593.9L1963.5 2596.4L1964.5 2599.1L1965.5 2601.4L1966.5 2603.6L1967.5 2606.8L1968.5 2609.9L1969.5 2612.2L1970.5 2614.2L1971.5 2616.4L1972.5 2618.8L1973.5 2621.5L1974.5 2624.1L1975.5 2626.5L1976.5 2629L1977.5 2630.4L1978.5 2632.2L1979.5 2635.1L1980.5 2638L1981.5 2639.2L1982.5 2641.7L1983.5 2644.7L1984.5 2646.4L1985.5 2648.6L1986.5 2650.5L1987.5 2652L1988.5 2653.1L1989.5 2655.7L1990.5 2655.9L1991.5 2658.4L1992.5 2658.8L1993.5 2659.7L1994.5 2660.1L1995.5 2662L1996.5 2663L1997.5 2662.7L1998.5 2664.6L1999.5 2664.9L2000.5 2666L2001.5 2666.3L2002.5 2666.3L2003.5 2667L2004.5 2667.3L2005.5 2667L2006.5 2667.9L2007.5 2666.4L2008.5 2664.9L2009.5 2667L2010.5 2664.8L2011.5 2663.9L2012.5 2662.9L2013.5 2662L2014.5 2661L2015.5 2660.6L2016.5 2658.8L2017.5 2657.7L2018.5 2656.2L2019.5 2653.2L2020.5 2648.7L2021.5 2643.5L2022.5 2637.6L2023.5 2631.3L2024.5 2626.2L2025.5 2618.8L2026.5 2624.4L2027.5 2623L2028.5 2607.7L2029.5 2595.8L2030.5 2602.6L2031.5 2605.9L2032.5 2594.1L2033.5 2574.1L2034.5 2567.6L2035.5 2561.1L2036.5 2582.9L2037.5 2604.4L2038.5 2577.7L2039.5 2551.3L2040.5 2572.3L2041.5 2570.8L2042.5 2568.7L2043.5 2568.6L2044.5 2590.2L2045.5 2567L2046.5 2565L2047.5 2563.3L2048.5 2562.7L2049.5 2561.7L2050.5 2560L2051.5 2558.2L2052.5 2526L2053.5 2554.9L2054.5 2554.5L2055.5 2553.8L2056.5 2550.7L2057.5 2531.7L2058.5 2550.4L2059.5 2549.4L2060.5 2546.4L2061.5 2545.5L2062.5 2559.5L2063.5 2505.4L2064.5 2540.5L2065.5 2580.9L2066.5 2561.4L2067.5 2529.4L2068.5 2521.1L2069.5 2521.4L2070.5 2489.6L2071.5 2508.3L2072.5 2507.1L2073.5 2503L2074.5 2501.2L2075.5 2529.9L2076.5 2500.8L2077.5 2499.9L2078.5 2500.5L2079.5 2480.6L2080.5 2503.2L2081.5 2501.9L2082.5 2501.2L2083.5 2504.3L2084.5 2543.9L2085.5 2541.2L2086.5 2474.4L2087.5 2485.4L2088.5 2516.9L2089 2522.2" fill="none" stroke="#0d0d0d" stroke-width="4.5" stroke-linejoin="round"/>
<path d="M257 2570.4L257.5 2574.4L258.5 2574L259.5 2574L260.5 2573.6L261.5 2574.1L262.5 2573.3L263.5 2574.7L264.5 2574.1L265.5 2573.6L266.5 2575.8L267.5 2574.5L268.5 2575.8L269.5 2573.9L270.5 2576.6L271.5 2574.6L272.5 2576.4L273.5 2574.1L274.5 2576.6L275.5 2573.9L276.5 2576.1L277.5 2575L278.5 2577.9L279.5 2574.3L280.5 2576.8L281.5 2574.8L282.5 2577.9L283.5 2574.6L284.5 2577.1L285.5 2574.6L286.5 2589.6L287.5 2573.9L288.5 2577.8L289.5 2573L290.5 2576.8L291.5 2572.1L292.5 2583.1L293.5 2571.5L294.5 2579.9L295.5 2572.1L296.5 2578.6L297.5 2570.6L298.5 2577L299.5 2571.7L300.5 2582.6L301.5 2570.4L302.5 2581.3L303.5 2573.8L304.5 2587.7L305.5 2570.2L306.5 2591.7L307.5 2570.6L308.5 2584.4L309.5 2570.2L310.5 2584.2L311.5 2571.5L312.5 2586.1L313.5 2572.3L314.5 2577.5L315.5 2571L316.5 2582.2L317.5 2571.8L318.5 2576.5L319.5 2572.5L320.5 2582.4L321.5 2568.8L322.5 2583.5L323.5 2571.8L324.5 2580.5L325.5 2570.6L326.5 2583.7L327.5 2571.5L328.5 2583.1L329.5 2568.3L330.5 2603L331.5 2570.1L332.5 2589L333.5 2571.8L334.5 2601.8L335.5 2567.9L336.5 2582.9L337.5 2571.2L338.5 2574.8L339.5 2568.2L340.5 2599.1L341.5 2567L342.5 2582.3L343.5 2570L344.5 2573.9L345.5 2565.5L346.5 2575.4L347.5 2568.4L348.5 2576.9L349.5 2565.9L350.5 2581.4L351.5 2567L352.5 2595.5L353.5 2567.8L354.5 2575L355.5 2566.1L356.5 2576.2L357.5 2567.6L358.5 2583.3L359.5 2566.6L360.5 2571.9L361.5 2568.4L362.5 2576L363.5 2568.6L364.5 2572L365.5 2566.6L366.5 2601.7L367.5 2566.8L368.5 2577.2L369.5 2568.6L370.5 2578.6L371.5 2569.5L372.5 2580.5L373.5 2566.5L374.5 2577.6L375.5 2567L376.5 2572.6L377.5 2566.8L378.5 2575.3L379.5 2568.2L380.5 2579.3L381.5 2568L382.5 2572.6L383.5 2567.1L384.5 2571.9L385.5 2569.2L386.5 2578.8L387.5 2562.7L388.5 2587.1L389.5 2566.9L390.5 2579.5L391.5 2561L392.5 2579.5L393.5 2565.6L394.5 2589.7L395.5 2566.9L396.5 2576L397.5 2569.2L398.5 2579.9L399.5 2567.3L400.5 2579L401.5 2567.7L402.5 2571.7L403.5 2564.4L404.5 2600.2L405.5 2563.8L406.5 2599.4L407.5 2565.4L408.5 2577.7L409.5 2563.7L410.5 2570.2L411.5 2565.2L412.5 2575.5L413.5 2565.8L414.5 2583.9L415.5 2561.4L416.5 2579L417.5 2566L418.5 2594.2L419.5 2566.1L420.5 2573.2L421.5 2565.8L422.5 2572.7L423.5 2565.7L424.5 2578.5L425.5 2563L426.5 2577.9L427.5 2565.8L428.5 2571.6L429.5 2565.9L430.5 2584.8L431.5 2565L432.5 2579.5L433.5 2567.1L434.5 2580.1L435.5 2568.7L436.5 2582.4L437.5 2569.4L438.5 2581.3L439.5 2564.2L440.5 2594.5L441.5 2566.6L442.5 2589.7L443.5 2573.4L444.5 2583.9L445.5 2577.8L446.5 2582L447.5 2578.3L448.5 2587.3L449.5 2581.8L450.5 2600.5L451.5 2584.4L452.5 2589.8L453.5 2583.4L454.5 2615.5L455.5 2587.1L456.5 2604.7L457.5 2587.4L458.5 2607L459.5 2589L460.5 2599.9L461.5 2591.5L462.5 2601.6L463.5 2595.6L464.5 2612.3L465.5 2595.5L466.5 2603.1L467.5 2596.3L468.5 2604.6L469.5 2597.7L470.5 2606.9L471.5 2599.5L472.5 2607.1L473.5 2602.5L474.5 2611.6L475.5 2603.4L476.5 2610.2L477.5 2603.2L478.5 2628.4L479.5 2606.6L480.5 2613.1L481.5 2610L482.5 2616.8L483.5 2612.1L484.5 2624.2L485.5 2613.5L486.5 2619L487.5 2612.3L488.5 2621.6L489.5 2615.4L490.5 2630.1L491.5 2617.2L492.5 2622.4L493.5 2619.1L494.5 2621.7L495.5 2621.1L496.5 2623.9L497.5 2622.6L498.5 2624.8L499.5 2622.8L500.5 2624.9L501.5 2623.8L502.5 2626.9L503.5 2625.6L504.5 2627.7L505.5 2627.7L506.5 2631.1L507.5 2628.6L508.5 2630.6L509.5 2630.4L510.5 2631.2L511.5 2632.6L512.5 2633.1L513.5 2634L514.5 2634.7L515.5 2635.7L516.5 2636.2L517.5 2637.1L518.5 2638.5L519.5 2639.1L520.5 2639.6L521.5 2639.8L522.5 2641.3L523.5 2641.5L524.5 2643.1L525.5 2644.7L526.5 2644.7L527.5 2645.5L528.5 2646.7L529.5 2646.4L530.5 2647.7L531.5 2649.6L532.5 2649.4L533.5 2650.5L534.5 2650.5L535.5 2651.7L536.5 2651.9L537.5 2653.6L538.5 2654.1L539.5 2655.2L540.5 2656.3L541.5 2657L542.5 2657.3L543.5 2658.3L544.5 2658.6L545.5 2659.4L546.5 2659.6L547.5 2661.8L548.5 2661.9L549.5 2662.4L550.5 2663.2L551.5 2664.3L552.5 2664.5L553.5 2666.1L554.5 2666.8L555.5 2666.3L556.5 2667.4L557.5 2668.5L558.5 2669.7L559.5 2669L560.5 2669.2L561.5 2670.2L562.5 2671.6L563.5 2671.7L564.5 2672.5L565.5 2673.7L566.5 2673.8L567.5 2673.9L568.5 2675.7L569.5 2675.7L570.5 2675.7L571.5 2676.7L572.5 2677.5L573.5 2677.7L574.5 2678.7L575.5 2679.7L576.5 2680.9L577.5 2681.7L578.5 2682.2L579.5 2682.3L580.5 2683.5L581.5 2684L582.5 2684.3L583.5 2686L584.5 2687.1L585.5 2687.1L586.5 2688.5L587.5 2690.9L588.5 2691.7L589.5 2691.9L590.5 2693.2L591.5 2695.3L592.5 2696.1L593.5 2698.3L594.5 2698.8L595.5 2700.4L596.5 2700.9L597.5 2701.6L598.5 2703L599.5 2705.6L600.5 2706.9L601.5 2706.8L602.5 2708.6L603.5 2709.7L604.5 2710.6L605.5 2712L606.5 2712.7L607.5 2713.1L608.5 2714.8L609.5 2715.7L610.5 2716.2L611.5 2717.2L612.5 2717.6L613.5 2719.2L614.5 2720.2L615.5 2719.8L616.5 2720.6L617.5 2721.3L618.5 2721.7L619.5 2722.1L620.5 2722.7L621.5 2722.9L622.5 2722L623.5 2722.4L624.5 2723L625.5 2722L626.5 2723.3L627.5 2721.6L628.5 2720.9L629.5 2721.3L630.5 2721.3L631.5 2720.9L632.5 2720.2L633.5 2720.5L634.5 2719L635.5 2719.5L636.5 2718.2L637.5 2718L638.5 2717.5L639.5 2716.9L640.5 2716.6L641.5 2716.2L642.5 2715.3L643.5 2714.9L644.5 2713.9L645.5 2713.1L646.5 2712.4L647.5 2711.8L648.5 2709.4L649.5 2709.4L650.5 2708.6L651.5 2708.4L652.5 2707.8L653.5 2706.7L654.5 2705.6L655.5 2704.6L656.5 2704.2L657.5 2703.1L658.5 2702.4L659.5 2701.2L660.5 2699.9L661.5 2699.8L662.5 2698.5L663.5 2697.5L664.5 2696.3L665.5 2695.8L666.5 2694.8L667.5 2694.4L668.5 2693.1L669.5 2692.2L670.5 2691L671.5 2691L672.5 2689.7L673.5 2689.3L674.5 2688.5L675.5 2687.1L676.5 2686.3L677.5 2684.6L678.5 2684L679.5 2682.6L680.5 2681.3L681.5 2681.5L682.5 2679.7L683.5 2678.3L684.5 2676L685.5 2675.7L686.5 2673.9L687.5 2672.8L688.5 2672L689.5 2669.6L690.5 2668.7L691.5 2667L692.5 2666.1L693.5 2664.3L694.5 2662.9L695.5 2661.2L696.5 2659.5L697.5 2658.7L698.5 2657.9L699.5 2656.4L700.5 2655.7L701.5 2654L702.5 2652.6L703.5 2652.4L704.5 2651.2L705.5 2651.2L706.5 2649.6L707.5 2649.5L708.5 2648.3L709.5 2647.5L710.5 2647.7L711.5 2647.2L712.5 2647.9L713.5 2646.9L714.5 2647L715.5 2647.7L716.5 2648.2L717.5 2648L718.5 2648.5L719.5 2648.5L720.5 2649.5L721.5 2649.8L722.5 2649.3L723.5 2650.9L724.5 2650.5L725.5 2651.9L726.5 2651.3L727.5 2651.6L728.5 2652.4L729.5 2652.3L730.5 2652.2L731.5 2652.6L732.5 2654.1L733.5 2653.4L734.5 2653.6L735.5 2655.3L736.5 2654.7L737.5 2655.1L738.5 2654.7L739.5 2655.2L740.5 2654.7L741.5 2655.3L742.5 2653.9L743.5 2654.3L744.5 2653.5L745.5 2653.3L746.5 2652.9L747.5 2651.7L748.5 2651.2L749.5 2650.8L750.5 2648.5L751.5 2647.8L752.5 2646.8L753.5 2645.5L754.5 2643.6L755.5 2644.1L756.5 2641.7L757.5 2640.5L758.5 2639.2L759.5 2638.4L760.5 2635.9L761.5 2635.7L762.5 2634.3L763.5 2634.1L764.5 2631L765.5 2631.1L766.5 2628.8L767.5 2628.6L768.5 2627L769.5 2626.1L770.5 2624.6L771.5 2625L772.5 2623.5L773.5 2623.9L774.5 2622.4L775.5 2623.6L776.5 2622.1L777.5 2622.7L778.5 2622.3L779.5 2622.4L780.5 2623.3L781.5 2623.4L782.5 2623.4L783.5 2624.6L784.5 2623.2L785.5 2624L786.5 2625.1L787.5 2626L788.5 2626.5L789.5 2627L790.5 2627.1L791.5 2627.4L792.5 2627.8L793.5 2628.6L794.5 2629.9L795.5 2630.3L796.5 2630.7L797.5 2631.4L798.5 2632.4L799.5 2633L800.5 2633.3L801.5 2634.1L802.5 2633.5L803.5 2634.4L804.5 2635.1L805.5 2634.9L806.5 2635.5L807.5 2635.2L808.5 2635.3L809.5 2635.7L810.5 2636.3L811.5 2636.2L812.5 2634.6L813.5 2634.6L814.5 2633.7L815.5 2633.3L816.5 2632.1L817.5 2631.7L818.5 2629.8L819.5 2628.8L820.5 2627.3L821.5 2626.1L822.5 2623.4L823.5 2623.5L824.5 2622L825.5 2620.7L826.5 2618.4L827.5 2618.5L828.5 2616.1L829.5 2615.5L830.5 2614.7L831.5 2613.9L832.5 2612.8L833.5 2613.2L834.5 2611.1L835.5 2610.7L836.5 2611.3L837.5 2610.4L838.5 2610.3L839.5 2609.8L840.5 2609.4L841.5 2608.8L842.5 2608.4L843.5 2608.9L844.5 2607.4L845.5 2606.6L846.5 2606.2L847.5 2606.2L848.5 2606.5L849.5 2604.8L850.5 2605.1L851.5 2605.1L852.5 2604.5L853.5 2603.2L854.5 2603.9L855.5 2603.4L856.5 2603.2L857.5 2602.4L858.5 2602.3L859.5 2602.2L860.5 2601.7L861.5 2600.8L862.5 2601L863.5 2600.5L864.5 2600.9L865.5 2600.2L866.5 2599.5L867.5 2598.7L868.5 2598.6L869.5 2598.6L870.5 2597.7L871.5 2596.3L872.5 2597.3L873.5 2596.2L874.5 2596.1L875.5 2594.4L876.5 2595.5L877.5 2595.1L878.5 2594.1L879.5 2594.9L880.5 2594L881.5 2593.1L882.5 2592.9L883.5 2591.6L884.5 2592.2L885.5 2590.8L886.5 2591.5L887.5 2591.1L888.5 2589.8L889.5 2590L890.5 2588.7L891.5 2589.3L892.5 2588.6L893.5 2587.8L894.5 2588.2L895.5 2587.3L896.5 2586.2L897.5 2586L898.5 2585.5L899.5 2584.6L900.5 2584.5L901.5 2584.5L902.5 2583.8L903.5 2583.8L904.5 2583.8L905.5 2582.3L906.5 2582L907.5 2582L908.5 2581.4L909.5 2581.2L910.5 2580.5L911.5 2580.3L912.5 2580.6L913.5 2580.3L914.5 2579.4L915.5 2578.5L916.5 2579.2L917.5 2577.9L918.5 2577.6L919.5 2577.7L920.5 2576.2L921.5 2576.9L922.5 2576.3L923.5 2576L924.5 2576L925.5 2575.3L926.5 2575.4L927.5 2574.2L928.5 2574.6L929.5 2574.5L930.5 2573.5L931.5 2574.6L932.5 2574L933.5 2573L934.5 2573.8L935.5 2573.3L936.5 2573L937.5 2573.1L938.5 2572.4L939.5 2573.2L940.5 2572.6L941.5 2571.2L942.5 2571.9L943.5 2572.2L944.5 2571.4L945.5 2571.9L946.5 2570.7L947.5 2571.2L948.5 2571.5L949.5 2571L950.5 2570.8L951.5 2571.4L952.5 2570.9L953.5 2571.9L954.5 2572.1L955.5 2570.9L956.5 2571.1L957.5 2571.4L958.5 2571.5L959.5 2571.5L960.5 2572.1L961.5 2571.7L962.5 2571.9L963.5 2571.3L964.5 2571.7L965.5 2571.4L966.5 2572L967.5 2572.2L968.5 2571.2L969.5 2571.9L970.5 2571.8L971.5 2571.6L972.5 2571.6L973.5 2571.4L974.5 2570.9L975.5 2571.6L976.5 2571.7L977.5 2571.4L978.5 2572L979.5 2571.5L980.5 2571.5L981.5 2572L982.5 2572.3L983.5 2572.2L984.5 2571.8L985.5 2571.4L986.5 2572L987.5 2571.3L988.5 2571.9L989.5 2572L990.5 2570.7L991.5 2571.1L992.5 2571.4L993.5 2571.8L994.5 2571.6L995.5 2571.6L996.5 2571.8L997.5 2571.8L998.5 2570.8L999.5 2572.1L1000.5 2572.2L1001.5 2571.4L1002.5 2571.4L1003.5 2572.3L1004.5 2572L1005.5 2571.5L1006.5 2572.4L1007.5 2572L1008.5 2571.8L1009.5 2571.4L1010.5 2571.8L1011.5 2571.7L1012.5 2572.1L1013.5 2571.7L1014.5 2572L1015.5 2571.8L1016.5 2571.7L1017.5 2572.2L1018.5 2571.8L1019.5 2572.1L1020.5 2572.3L1021.5 2571.9L1022.5 2571.2L1023.5 2572.5L1024.5 2571.7L1025.5 2571.8L1026.5 2571.8L1027.5 2571.9L1028.5 2572.1L1029.5 2572.5L1030.5 2571.9L1031.5 2572L1032.5 2572.2L1033.5 2571.9L1034.5 2572.2L1035.5 2572.4L1036.5 2572.3L1037.5 2572.2L1038.5 2572.5L1039.5 2572.5L1040.5 2572.9L1041.5 2572.9L1042.5 2572.6L1043.5 2571.8L1044.5 2572L1045.5 2572.1L1046.5 2573L1047.5 2572.1L1048.5 2573.1L1049.5 2572.8L1050.5 2572.5L1051.5 2572.2L1052.5 2571.8L1053.5 2572.6L1054.5 2572.7L1055.5 2572.1L1056.5 2572.6L1057.5 2572.1L1058.5 2572.2L1059.5 2572.3L1060.5 2573.5L1061.5 2572.8L1062.5 2572.5L1063.5 2573L1064.5 2573.4L1065.5 2573.6L1066.5 2572.3L1067.5 2572.6L1068.5 2573L1069.5 2572.5L1070.5 2573.3L1071.5 2574L1072.5 2573.5L1073.5 2572.9L1074.5 2573.4L1075.5 2573.7L1076.5 2573.5L1077.5 2572.6L1078.5 2573.7L1079.5 2573.8L1080.5 2574.5L1081.5 2573.8L1082.5 2574.8L1083.5 2574L1084.5 2574L1085.5 2574.5L1086.5 2574.7L1087.5 2573.7L1088.5 2574.8L1089.5 2575.1L1090.5 2574.5L1091.5 2575.2L1092.5 2575.1L1093.5 2575.1L1094.5 2574.9L1095.5 2574.7L1096.5 2575.3L1097.5 2575.1L1098.5 2575.1L1099.5 2575.7L1100.5 2575.6L1101.5 2575.1L1102.5 2575.6L1103.5 2575.9L1104.5 2575.6L1105.5 2575.4L1106.5 2575.2L1107.5 2576.7L1108.5 2576.3L1109.5 2576.4L1110.5 2576.9L1111.5 2576.5L1112.5 2577.4L1113.5 2576.7L1114.5 2578.1L1115.5 2577L1116.5 2577.4L1117.5 2576.9L1118.5 2577L1119.5 2577.5L1120.5 2577.7L1121.5 2577L1122.5 2576.9L1123.5 2577.4L1124.5 2577.6L1125.5 2576.7L1126.5 2577.5L1127.5 2577.9L1128.5 2578.3L1129.5 2578.7L1130.5 2578.5L1131.5 2579.4L1132.5 2578.2L1133.5 2578.5L1134.5 2578.4L1135.5 2578.6L1136.5 2579.1L1137.5 2578.3L1138.5 2579.4L1139.5 2579.7L1140.5 2579.4L1141.5 2579.5L1142.5 2580.1L1143.5 2579.7L1144.5 2578.9L1145.5 2579.2L1146.5 2580.6L1147.5 2580.3L1148.5 2580L1149.5 2580.5L1150.5 2580.7L1151.5 2579.6L1152.5 2580.4L1153.5 2580.6L1154.5 2580.5L1155.5 2580.5L1156.5 2580L1157.5 2581.1L1158.5 2580.5L1159.5 2580.4L1160.5 2580.6L1161.5 2581.3L1162.5 2580.8L1163.5 2580.3L1164.5 2581.2L1165.5 2580.9L1166.5 2581.7L1167.5 2582.3L1168.5 2582.1L1169.5 2581L1170.5 2581.6L1171.5 2581.9L1172.5 2582.1L1173.5 2581.6L1174.5 2582L1175.5 2581.6L1176.5 2582.2L1177.5 2581.8L1178.5 2581.8L1179.5 2582.9L1180.5 2582L1181.5 2582.6L1182.5 2582.2L1183.5 2582.2L1184.5 2582.1L1185.5 2583.2L1186.5 2581.5L1187.5 2582.7L1188.5 2582.5L1189.5 2582.7L1190.5 2582.3L1191.5 2582.3L1192.5 2581.6L1193.5 2583L1194.5 2582.5L1195.5 2582.1L1196.5 2583.2L1197.5 2583.1L1198.5 2582.8L1199.5 2583.1L1200.5 2582.6L1201.5 2581.5L1202.5 2582.7L1203.5 2583.3L1204.5 2582.4L1205.5 2582.3L1206.5 2582L1207.5 2582.1L1208.5 2582.2L1209.5 2582.4L1210.5 2581.2L1211.5 2582.3L1212.5 2582.2L1213.5 2581.8L1214.5 2582.1L1215.5 2582.6L1216.5 2582L1217.5 2581.7L1218.5 2582.6L1219.5 2581.8L1220.5 2581.8L1221.5 2581.9L1222.5 2581.9L1223.5 2582.5L1224.5 2582.3L1225.5 2581.3L1226.5 2581.8L1227.5 2581.6L1228.5 2582.1L1229.5 2582.8L1230.5 2581.5L1231.5 2582L1232.5 2582.5L1233.5 2581.6L1234.5 2581.7L1235.5 2581.7L1236.5 2581L1237.5 2581.9L1238.5 2581.2L1239.5 2581.8L1240.5 2581.4L1241.5 2581.1L1242.5 2580.9L1243.5 2580.9L1244.5 2580.8L1245.5 2581L1246.5 2580.9L1247.5 2580.8L1248.5 2580.5L1249.5 2579.8L1250.5 2581.5L1251.5 2580.8L1252.5 2580.7L1253.5 2581.3L1254.5 2580.3L1255.5 2579.9L1256.5 2580.1L1257.5 2579.6L1258.5 2580.3L1259.5 2580.2L1260.5 2579.8L1261.5 2579.6L1262.5 2580.3L1263.5 2579.9L1264.5 2579.9L1265.5 2578.9L1266.5 2578.6L1267.5 2579.7L1268.5 2579.1L1269.5 2578.7L1270.5 2580.4L1271.5 2579.5L1272.5 2578.6L1273.5 2579.3L1274.5 2579.1L1275.5 2578.9L1276.5 2578.4L1277.5 2578.6L1278.5 2578.5L1279.5 2578.4L1280.5 2578L1281.5 2578.6L1282.5 2578.5L1283.5 2578.3L1284.5 2578.7L1285.5 2577.1L1286.5 2577.8L1287.5 2578.1L1288.5 2578.2L1289.5 2577.5L1290.5 2577.7L1291.5 2578.2L1292.5 2577.6L1293.5 2577L1294.5 2577.8L1295.5 2577.2L1296.5 2577.3L1297.5 2577L1298.5 2577.2L1299.5 2577.9L1300.5 2577.7L1301.5 2577.9L1302.5 2576.9L1303.5 2576.4L1304.5 2577.1L1305.5 2576.2L1306.5 2578.6L1307.5 2576.1L1308.5 2578.3L1309.5 2575.7L1310.5 2578.1L1311.5 2576.3L1312.5 2580L1313.5 2575.8L1314.5 2577.8L1315.5 2575.6L1316.5 2579.3L1317.5 2577.3L1318.5 2582.7L1319.5 2576.8L1320.5 2580.9L1321.5 2575.6L1322.5 2578.7L1323.5 2576.6L1324.5 2583.3L1325.5 2576.3L1326.5 2582.6L1327.5 2576.1L1328.5 2585.6L1329.5 2574.9L1330.5 2581.5L1331.5 2575.7L1332.5 2580.4L1333.5 2573.2L1334.5 2578.5L1335.5 2575.2L1336.5 2578.9L1337.5 2573.5L1338.5 2581.9L1339.5 2575.6L1340.5 2581.5L1341.5 2575.7L1342.5 2577.5L1343.5 2575.5L1344.5 2582.1L1345.5 2574.3L1346.5 2576.9L1347.5 2575.3L1348.5 2580.6L1349.5 2574.2L1350.5 2582L1351.5 2573.9L1352.5 2581.4L1353.5 2575.7L1354.5 2581.3L1355.5 2573.7L1356.5 2578L1357.5 2574.3L1358.5 2581.1L1359.5 2572.4L1360.5 2577.3L1361.5 2575.8L1362.5 2576.2L1363.5 2574.6L1364.5 2577.9L1365.5 2574.4L1366.5 2583.3L1367.5 2573.9L1368.5 2578.6L1369.5 2573.8L1370.5 2576.3L1371.5 2574L1372.5 2579L1373.5 2573.6L1374.5 2580L1375.5 2570.7L1376.5 2577.6L1377.5 2573.6L1378.5 2575.3L1379.5 2574.2L1380.5 2578.9L1381.5 2574.5L1382.5 2586.5L1383.5 2574L1384.5 2578.5L1385.5 2573.3L1386.5 2579.5L1387.5 2572.8L1388.5 2583.4L1389.5 2573.8L1390.5 2580.9L1391.5 2573.4L1392.5 2577L1393.5 2573.5L1394.5 2576.9L1395.5 2573.8L1396.5 2576.9L1397.5 2573.2L1398.5 2576.6L1399.5 2572.8L1400.5 2575.6L1401.5 2573.5L1402.5 2578L1403.5 2573.3L1404.5 2578.5L1405.5 2572.8L1406.5 2576.1L1407.5 2572.3L1408.5 2576.6L1409.5 2573.1L1410.5 2575.8L1411.5 2573.5L1412.5 2577.9L1413.5 2573.8L1414.5 2586.5L1415.5 2574.7L1416.5 2576.1L1417.5 2574.4L1418.5 2576.4L1419.5 2574.5L1420.5 2578.4L1421.5 2574L1422.5 2578L1423.5 2573.7L1424.5 2579.9L1425.5 2574.3L1426.5 2579.4L1427.5 2574.7L1428.5 2577.3L1429.5 2574.6L1430.5 2579.9L1431.5 2576L1432.5 2580.9L1433.5 2575.5L1434.5 2581.8L1435.5 2576L1436.5 2578.1L1437.5 2576.9L1438.5 2577.9L1439.5 2576.1L1440.5 2577.6L1441.5 2576.9L1442.5 2578L1443.5 2578L1444.5 2578.7L1445.5 2578.1L1446.5 2578.1L1447.5 2577.6L1448.5 2579.9L1449.5 2579.9L1450.5 2580.7L1451.5 2582.5L1452.5 2585.4L1453.5 2589.1L1454.5 2591.9L1455.5 2593.7L1456.5 2597.7L1457.5 2601.9L1458.5 2607.7L1459.5 2616L1460.5 2633.1L1461.5 2646.8L1462.5 2656.5L1463.5 2665.3L1464.5 2678.1L1465.5 2692.9L1466.5 2708.3L1467.5 2725.7L1468.5 2737.4L1469.5 2748L1470.5 2755.2L1471.5 2762.4L1472.5 2768.5L1473.5 2776L1474.5 2784.9L1475.5 2794.1L1476.5 2804.8L1477.5 2814.4L1478.5 2824.3L1479.5 2834.4L1480.5 2844.8L1481.5 2855.4L1482.5 2866L1483.5 2877L1484.5 2888.3L1485.5 2897.4L1486.5 2906.1L1487.5 2913.1L1488.5 2921.4L1489.5 2928.8L1490.5 2935.4L1491.5 2942.4L1492.5 2946L1493.5 2948.3L1494.5 2948.2L1495.5 2945.5L1496.5 2939.8L1497.5 2931.6L1498.5 2923.6L1499.5 2914.4L1500.5 2905.6L1501.5 2895.1L1502.5 2883.1L1503.5 2870.3L1504.5 2858.1L1505.5 2846L1506.5 2834.5L1507.5 2823.3L1508.5 2812.9L1509.5 2801.2L1510.5 2791.4L1511.5 2783.6L1512.5 2776.4L1513.5 2770.3L1514.5 2762L1515.5 2756.8L1516.5 2751L1517.5 2746.7L1518.5 2742.6L1519.5 2742.4L1520.5 2743.1L1521.5 2746.1L1522.5 2751.1L1523.5 2758.2L1524.5 2764.2L1525.5 2772.1L1526.5 2778.1L1527.5 2786L1528.5 2797L1529.5 2806.1L1530.5 2816.4L1531.5 2826.1L1532.5 2834L1533.5 2843L1534.5 2850.4L1535.5 2859.6L1536.5 2866L1537.5 2872.4L1538.5 2877.6L1539.5 2880.8L1540.5 2885.9L1541.5 2888.6L1542.5 2891.8L1543.5 2892.8L1544.5 2892.5L1545.5 2890.6L1546.5 2886L1547.5 2881.1L1548.5 2874.7L1549.5 2869.1L1550.5 2863.8L1551.5 2856.8L1552.5 2850.4L1553.5 2843.9L1554.5 2836.7L1555.5 2829.8L1556.5 2823L1557.5 2817.5L1558.5 2813.3L1559.5 2809.3L1560.5 2803.7L1561.5 2794.2L1562.5 2774.9L1563.5 2751.9L1564.5 2733L1565.5 2714.8L1566.5 2698.4L1567.5 2684.2L1568.5 2673.3L1569.5 2662.4L1570.5 2654.8L1571.5 2648.2L1572.5 2643.5L1573.5 2638.7L1574.5 2636L1575.5 2635.4L1576.5 2637.7L1577.5 2644L1578.5 2650.8L1579.5 2659.1L1580.5 2666.7L1581.5 2673.4L1582.5 2681.5L1583.5 2689.5L1584.5 2698.5L1585.5 2705.3L1586.5 2711.8L1587.5 2713.1L1588.5 2714L1589.5 2710L1590.5 2704.4L1591.5 2698.6L1592.5 2692.1L1593.5 2683.3L1594.5 2677.2L1595.5 2672.9L1596.5 2668.2L1597.5 2663.8L1598.5 2658.5L1599.5 2655.9L1600.5 2652L1601.5 2647.2L1602.5 2646.4L1603.5 2644.3L1604.5 2644.9L1605.5 2645.7L1606.5 2647.9L1607.5 2649.8L1608.5 2653.2L1609.5 2654.7L1610.5 2655.3L1611.5 2656.7L1612.5 2658L1613.5 2659.2L1614.5 2661.4L1615.5 2661.2L1616.5 2662.2L1617.5 2663.9L1618.5 2662.8L1619.5 2663.5L1620.5 2661.7L1621.5 2659.7L1622.5 2657.1L1623.5 2654.5L1624.5 2650.7L1625.5 2646.1L1626.5 2643L1627.5 2639.4L1628.5 2634.6L1629.5 2631.8L1630.5 2628.1L1631.5 2624.5L1632.5 2619.7L1633.5 2613.2L1634.5 2608.5L1635.5 2604.1L1636.5 2599.9L1637.5 2596L1638.5 2593.4L1639.5 2591.7L1640.5 2591.2L1641.5 2593.7L1642.5 2598L1643.5 2601.7L1644.5 2607.6L1645.5 2613.8L1646.5 2619.1L1647.5 2624.2L1648.5 2627.3L1649.5 2631.9L1650.5 2631.5L1651.5 2631.5L1652.5 2629.8L1653.5 2627L1654.5 2624.9L1655.5 2621.8L1656.5 2619.3L1657.5 2616.2L1658.5 2615.3L1659.5 2612L1660.5 2611.7L1661.5 2610.9L1662.5 2609.6L1663.5 2610L1664.5 2608.5L1665.5 2608.6L1666.5 2608.6L1667.5 2607.2L1668.5 2607.7L1669.5 2607.4L1670.5 2608.3L1671.5 2607.5L1672.5 2607.8L1673.5 2608.2L1674.5 2609.9L1675.5 2611.8L1676.5 2613.9L1677.5 2616.7L1678.5 2618.9L1679.5 2621.5L1680.5 2624.8L1681.5 2628L1682.5 2630.8L1683.5 2633.6L1684.5 2637.3L1685.5 2640.4L1686.5 2643.8L1687.5 2647.5L1688.5 2652.1L1689.5 2656.8L1690.5 2661.3L1691.5 2667.1L1692.5 2672.1L1693.5 2676.7L1694.5 2682.9L1695.5 2687.5L1696.5 2691.9L1697.5 2696L1698.5 2700.1L1699.5 2702.3L1700.5 2705.7L1701.5 2708.2L1702.5 2708.4L1703.5 2709.4L1704.5 2706.8L1705.5 2703.3L1706.5 2698.1L1707.5 2690.3L1708.5 2682.9L1709.5 2675.5L1710.5 2667.6L1711.5 2660.4L1712.5 2652.7L1713.5 2645.5L1714.5 2640.7L1715.5 2635.8L1716.5 2632.9L1717.5 2629.6L1718.5 2626.3L1719.5 2623.5L1720.5 2619.5L1721.5 2617.6L1722.5 2613.8L1723.5 2611.5L1724.5 2609L1725.5 2606.5L1726.5 2606L1727.5 2603.1L1728.5 2603.1L1729.5 2601.1L1730.5 2601L1731.5 2600.8L1732.5 2599.9L1733.5 2599.8L1734.5 2599.7L1735.5 2599.4L1736.5 2599.7L1737.5 2598.3L1738.5 2598.9L1739.5 2599.2L1740.5 2600.2L1741.5 2599.3L1742.5 2598.9L1743.5 2599.4L1744.5 2598.2L1745.5 2598.5L1746.5 2597.9L1747.5 2595.8L1748.5 2594.3L1749.5 2592.8L1750.5 2591.8L1751.5 2588.8L1752.5 2586.5L1753.5 2584.5L1754.5 2582.2L1755.5 2581L1756.5 2579.7L1757.5 2579.1L1758.5 2577.8L1759.5 2578.8L1760.5 2577.8L1761.5 2578.6L1762.5 2577.6L1763.5 2576.8L1764.5 2577.3L1765.5 2578.6L1766.5 2578.6L1767.5 2578.4L1768.5 2579L1769.5 2578.9L1770.5 2579.1L1771.5 2581.1L1772.5 2583.4L1773.5 2585.4L1774.5 2589.6L1775.5 2592.5L1776.5 2595.5L1777.5 2600.1L1778.5 2602.8L1779.5 2606.1L1780.5 2609.2L1781.5 2611.7L1782.5 2614.5L1783.5 2616.9L1784.5 2617.4L1785.5 2618.2L1786.5 2617.6L1787.5 2617.5L1788.5 2618.2L1789.5 2618.1L1790.5 2617.9L1791.5 2617.5L1792.5 2617.8L1793.5 2617.8L1794.5 2616.9L1795.5 2617.1L1796.5 2616.5L1797.5 2617.1L1798.5 2617.3L1799.5 2617L1800.5 2617.2L1801.5 2616.4L1802.5 2616.5L1803.5 2616.2L1804.5 2615.7L1805.5 2616.1L1806.5 2615.5L1807.5 2614.7L1808.5 2613.9L1809.5 2614.9L1810.5 2615.5L1811.5 2614.1L1812.5 2614.4L1813.5 2612.6L1814.5 2612.1L1815.5 2610L1816.5 2607.7L1817.5 2605.8L1818.5 2604.5L1819.5 2601.9L1820.5 2598.5L1821.5 2595.8L1822.5 2593.7L1823.5 2591.2L1824.5 2588.9L1825.5 2585.8L1826.5 2584L1827.5 2581.8L1828.5 2579.5L1829.5 2577.8L1830.5 2577.5L1831.5 2575.4L1832.5 2575.3L1833.5 2576.1L1834.5 2576.1L1835.5 2576L1836.5 2576.3L1837.5 2575.6L1838.5 2576.8L1839.5 2576.7L1840.5 2576.5L1841.5 2576.9L1842.5 2576.9L1843.5 2577.3L1844.5 2577.8L1845.5 2578.1L1846.5 2579.2L1847.5 2578.6L1848.5 2578.6L1849.5 2579.6L1850.5 2579.7L1851.5 2580L1852.5 2581.2L1853.5 2581.3L1854.5 2581.7L1855.5 2581.7L1856.5 2582.8L1857.5 2583.4L1858.5 2584.7L1859.5 2584.8L1860.5 2585.9L1861.5 2586.4L1862.5 2587.2L1863.5 2587.6L1864.5 2587.2L1865.5 2587.6L1866.5 2587.8L1867.5 2588.4L1868.5 2588.7L1869.5 2589L1870.5 2588.6L1871.5 2589.6L1872.5 2589.3L1873.5 2589.5L1874.5 2589.5L1875.5 2589.2L1876.5 2589.5L1877.5 2589.4L1878.5 2589.9L1879.5 2590.1L1880.5 2590.3L1881.5 2591.7L1882.5 2593.7L1883.5 2594.5L1884.5 2597.1L1885.5 2598.9L1886.5 2600.5L1887.5 2602.6L1888.5 2604.8L1889.5 2607.1L1890.5 2609.1L1891.5 2611L1892.5 2613.7L1893.5 2615.2L1894.5 2617.3L1895.5 2619.3L1896.5 2621.2L1897.5 2622.7L1898.5 2622.7L1899.5 2624.9L1900.5 2626.8L1901.5 2628L1902.5 2629.7L1903.5 2631.4L1904.5 2631.7L1905.5 2634.3L1906.5 2635.8L1907.5 2635.8L1908.5 2637.9L1909.5 2638.8L1910.5 2640.2L1911.5 2642.4L1912.5 2644.2L1913.5 2644.8L1914.5 2646.9L1915.5 2648.7L1916.5 2650.2L1917.5 2652.6L1918.5 2655L1919.5 2655.2L1920.5 2658.9L1921.5 2661.6L1922.5 2662.4L1923.5 2665.9L1924.5 2667.1L1925.5 2669.6L1926.5 2671.8L1927.5 2674.6L1928.5 2676L1929.5 2679.4L1930.5 2682L1931.5 2684.5L1932.5 2686.7L1933.5 2689.7L1934.5 2692L1935.5 2694.2L1936.5 2697.2L1937.5 2699.6L1938.5 2702.4L1939.5 2704.5L1940.5 2706.9L1941.5 2708.5L1942.5 2712.2L1943.5 2714.7L1944.5 2717.2L1945.5 2719.6L1946.5 2722.4L1947.5 2725.7L1948.5 2728.5L1949.5 2731.8L1950.5 2732.4L1951.5 2736L1952.5 2738.6L1953.5 2741.1L1954.5 2744.5L1955.5 2747.7L1956.5 2750.3L1957.5 2751.2L1958.5 2755.7L1959.5 2758.7L1960.5 2761.3L1961.5 2765L1962.5 2767.7L1963.5 2770.2L1964.5 2772.9L1965.5 2775.5L1966.5 2780.4L1967.5 2782.3L1968.5 2785.8L1969.5 2789L1970.5 2792.4L1971.5 2796.2L1972.5 2799.2L1973.5 2801.8L1974.5 2805.6L1975.5 2809.6L1976.5 2812.5L1977.5 2815.1L1978.5 2819L1979.5 2821.9L1980.5 2824.1L1981.5 2828.6L1982.5 2831.3L1983.5 2834.2L1984.5 2837.7L1985.5 2840.1L1986.5 2842.9L1987.5 2845.1L1988.5 2847.2L1989.5 2849.5L1990.5 2850.8L1991.5 2852.4L1992.5 2853.6L1993.5 2854.4L1994.5 2855.9L1995.5 2857.2L1996.5 2858.5L1997.5 2859.2L1998.5 2859.2L1999.5 2860.6L2000.5 2862L2001.5 2862.4L2002.5 2863.8L2003.5 2863.2L2004.5 2864.6L2005.5 2864.7L2006.5 2864.9L2007.5 2864.7L2008.5 2864.7L2009.5 2864.9L2010.5 2862.7L2011.5 2861.8L2012.5 2860.4L2013.5 2858.2L2014.5 2856.7L2015.5 2853.8L2016.5 2852.2L2017.5 2849.5L2018.5 2847.2L2019.5 2844.4L2020.5 2840.7L2021.5 2836.5L2022.5 2832.3L2023.5 2827.2L2024.5 2822.5L2025.5 2830.6L2026.5 2816.5L2027.5 2809.1L2028.5 2805.8L2029.5 2785L2030.5 2801.2L2031.5 2799.8L2032.5 2811.5L2033.5 2795.5L2034.5 2793L2035.5 2790.6L2036.5 2791.2L2037.5 2787.1L2038.5 2784.1L2039.5 2785.4L2040.5 2783.7L2041.5 2780.8L2042.5 2782.7L2043.5 2781.6L2044.5 2776.1L2045.5 2756.2L2046.5 2811.8L2047.5 2747.2L2048.5 2775.2L2049.5 2744L2050.5 2759.3L2051.5 2773.3L2052.5 2739.2L2053.5 2748.3L2054.5 2774.4L2055.5 2802.3L2056.5 2773.8L2057.5 2738.5L2058.5 2775L2059.5 2730L2060.5 2772.7L2061.5 2774.6L2062.5 2769.8L2063.5 2793.4L2064.5 2763L2065.5 2752.7L2066.5 2748.5L2067.5 2742.2L2068.5 2738L2069.5 2731.8L2070.5 2724.7L2071.5 2697.9L2072.5 2710.4L2073.5 2750L2074.5 2695.9L2075.5 2686.7L2076.5 2685L2077.5 2638.5L2078.5 2678.2L2079.5 2681.7L2080.5 2679.7L2081.5 2680.5L2082.5 2681.9L2083.5 2706.4L2084.5 2681.6L2085.5 2686.7L2086.5 2689.4L2087.5 2734.4L2088.5 2658.7L2089 2700.2" fill="none" stroke="#0d0d0d" stroke-width="4.5" stroke-linejoin="round"/>
<path d="M257 2718.5L257.5 2722.5L258.5 2722.3L259.5 2721.9L260.5 2721.9L261.5 2722.4L262.5 2722.4L263.5 2722.1L264.5 2722.2L265.5 2722.1L266.5 2723.7L267.5 2721.2L268.5 2724.4L269.5 2722.7L270.5 2730.5L271.5 2722.5L272.5 2724.3L273.5 2722.5L274.5 2725.4L275.5 2722.4L276.5 2727.7L277.5 2723.3L278.5 2727.8L279.5 2722.6L280.5 2734.9L281.5 2724.3L282.5 2727.4L283.5 2722.8L284.5 2725.6L285.5 2723.7L286.5 2731.2L287.5 2721.6L288.5 2725.5L289.5 2721.5L290.5 2729.8L291.5 2720.8L292.5 2735.3L293.5 2721L294.5 2730.1L295.5 2721L296.5 2730.6L297.5 2721L298.5 2726.2L299.5 2720.8L300.5 2732.3L301.5 2719.9L302.5 2728.5L303.5 2718.5L304.5 2726.2L305.5 2722.4L306.5 2725L307.5 2719.9L308.5 2725.6L309.5 2721.3L310.5 2756L311.5 2717.4L312.5 2735.9L313.5 2718.5L314.5 2735.2L315.5 2717.5L316.5 2730.1L317.5 2714.3L318.5 2748L319.5 2720.1L320.5 2727.9L321.5 2717.7L322.5 2728L323.5 2719.3L324.5 2743L325.5 2720.3L326.5 2726.6L327.5 2718.4L328.5 2732.5L329.5 2717.7L330.5 2734.5L331.5 2715L332.5 2727.8L333.5 2712.7L334.5 2743.7L335.5 2712.8L336.5 2725L337.5 2719.9L338.5 2751L339.5 2717.8L340.5 2724.5L341.5 2716.5L342.5 2725.9L343.5 2715.5L344.5 2725.5L345.5 2717.9L346.5 2729.3L347.5 2714.8L348.5 2747L349.5 2716L350.5 2727.4L351.5 2715.6L352.5 2741.7L353.5 2715.7L354.5 2720L355.5 2715L356.5 2726.6L357.5 2713.8L358.5 2741.1L359.5 2715.7L360.5 2725.2L361.5 2714.3L362.5 2738.1L363.5 2716.3L364.5 2720.7L365.5 2715.5L366.5 2728.2L367.5 2714.8L368.5 2726.6L369.5 2714.6L370.5 2724.4L371.5 2713.6L372.5 2722.5L373.5 2713.7L374.5 2735L375.5 2715L376.5 2726.8L377.5 2714.6L378.5 2724.8L379.5 2713.7L380.5 2720.6L381.5 2714.9L382.5 2722.4L383.5 2713.5L384.5 2721L385.5 2715.3L386.5 2723.1L387.5 2713.4L388.5 2726L389.5 2716L390.5 2718.5L391.5 2711.2L392.5 2732.3L393.5 2709.5L394.5 2735.9L395.5 2713.9L396.5 2721.8L397.5 2706.4L398.5 2734.8L399.5 2714.2L400.5 2730.8L401.5 2714.6L402.5 2721.5L403.5 2713.1L404.5 2727.5L405.5 2709.9L406.5 2723.3L407.5 2714L408.5 2718.8L409.5 2712.6L410.5 2722.9L411.5 2712.1L412.5 2727.6L413.5 2712.8L414.5 2720.2L415.5 2712.7L416.5 2720.9L417.5 2713.1L418.5 2723.6L419.5 2707.8L420.5 2718.9L421.5 2712.3L422.5 2719.7L423.5 2715.2L424.5 2724.9L425.5 2715.4L426.5 2728.4L427.5 2714.8L428.5 2733.1L429.5 2717.6L430.5 2732.1L431.5 2716.1L432.5 2721.9L433.5 2717.9L434.5 2738.2L435.5 2721.5L436.5 2754.9L437.5 2719.2L438.5 2734.6L439.5 2723.1L440.5 2732.2L441.5 2722.8L442.5 2739L443.5 2725.7L444.5 2730.7L445.5 2727.3L446.5 2741.3L447.5 2723.7L448.5 2735.2L449.5 2728.6L450.5 2743L451.5 2731.3L452.5 2738.5L453.5 2734L454.5 2749.7L455.5 2735.6L456.5 2749.2L457.5 2735.4L458.5 2743.5L459.5 2735.8L460.5 2744.1L461.5 2732.5L462.5 2749.9L463.5 2741.7L464.5 2747.9L465.5 2741.7L466.5 2755.8L467.5 2745.6L468.5 2753.8L469.5 2745.8L470.5 2755.6L471.5 2746L472.5 2752.7L473.5 2747.3L474.5 2761.2L475.5 2748.7L476.5 2758L477.5 2749.7L478.5 2762.7L479.5 2754.4L480.5 2760.2L481.5 2756.2L482.5 2766.9L483.5 2756.9L484.5 2761.3L485.5 2758.1L486.5 2762.3L487.5 2759.7L488.5 2766.1L489.5 2761.4L490.5 2776.9L491.5 2762.5L492.5 2768.5L493.5 2763.7L494.5 2767.2L495.5 2765.6L496.5 2770.5L497.5 2768L498.5 2777L499.5 2767.7L500.5 2778.2L501.5 2770.8L502.5 2773.5L503.5 2772.6L504.5 2774.5L505.5 2773.5L506.5 2775.1L507.5 2776L508.5 2777.1L509.5 2775.8L510.5 2776.9L511.5 2777.9L512.5 2780L513.5 2779.9L514.5 2781L515.5 2781.3L516.5 2781.4L517.5 2783.1L518.5 2784.1L519.5 2784.2L520.5 2784.9L521.5 2785.9L522.5 2785.6L523.5 2787.2L524.5 2788.3L525.5 2789.4L526.5 2789.6L527.5 2790.3L528.5 2791.7L529.5 2791.2L530.5 2792.9L531.5 2792.5L532.5 2793.8L533.5 2794.4L534.5 2795.4L535.5 2796L536.5 2797L537.5 2797.3L538.5 2798.7L539.5 2799.2L540.5 2799L541.5 2799.7L542.5 2800.3L543.5 2800.9L544.5 2801.6L545.5 2802.6L546.5 2803.3L547.5 2803.9L548.5 2803.7L549.5 2805.2L550.5 2805.5L551.5 2805.6L552.5 2805.8L553.5 2808.1L554.5 2806.9L555.5 2808.1L556.5 2808.4L557.5 2809.8L558.5 2809.3L559.5 2810L560.5 2810.3L561.5 2810.8L562.5 2810.9L563.5 2811.9L564.5 2812.1L565.5 2812.1L566.5 2813.1L567.5 2812.3L568.5 2814.3L569.5 2814.7L570.5 2815.5L571.5 2815.9L572.5 2815.4L573.5 2817.3L574.5 2817.2L575.5 2817.9L576.5 2818.8L577.5 2818.9L578.5 2818.9L579.5 2819.5L580.5 2820.5L581.5 2821.4L582.5 2820.9L583.5 2822.1L584.5 2822.1L585.5 2823.8L586.5 2825L587.5 2825.8L588.5 2826.1L589.5 2827.1L590.5 2829.2L591.5 2829L592.5 2830.4L593.5 2831.5L594.5 2832.3L595.5 2833.5L596.5 2834.4L597.5 2835.9L598.5 2836.9L599.5 2837.3L600.5 2838.3L601.5 2839.6L602.5 2840.4L603.5 2841.8L604.5 2842L605.5 2843.1L606.5 2844.2L607.5 2844.7L608.5 2847.3L609.5 2848.1L610.5 2848.5L611.5 2848.2L612.5 2849.3L613.5 2849.7L614.5 2849.8L615.5 2851.1L616.5 2851.5L617.5 2851.4L618.5 2852.3L619.5 2851.8L620.5 2852.8L621.5 2852.6L622.5 2852.5L623.5 2853.5L624.5 2852.1L625.5 2852L626.5 2852.4L627.5 2852L628.5 2852L629.5 2851.1L630.5 2852L631.5 2851.4L632.5 2850.6L633.5 2850.1L634.5 2850L635.5 2849.2L636.5 2848.9L637.5 2848.1L638.5 2848.4L639.5 2847.7L640.5 2847L641.5 2847.1L642.5 2845.1L643.5 2845.5L644.5 2844.1L645.5 2844.5L646.5 2844.6L647.5 2842.4L648.5 2841.9L649.5 2841.7L650.5 2841.5L651.5 2840L652.5 2840.4L653.5 2839.2L654.5 2837.6L655.5 2837.1L656.5 2835.5L657.5 2835.5L658.5 2834.7L659.5 2834.1L660.5 2833.1L661.5 2832.8L662.5 2831.5L663.5 2831.9L664.5 2830.1L665.5 2829.6L666.5 2827.8L667.5 2828.1L668.5 2828.2L669.5 2827L670.5 2825.1L671.5 2825.2L672.5 2823.5L673.5 2823.7L674.5 2822.4L675.5 2822.6L676.5 2821.3L677.5 2820.6L678.5 2818.9L679.5 2818.9L680.5 2818.1L681.5 2817.4L682.5 2815.4L683.5 2814.6L684.5 2814.4L685.5 2811.9L686.5 2811.4L687.5 2809.3L688.5 2809.3L689.5 2808L690.5 2806.6L691.5 2805.7L692.5 2803.8L693.5 2803.6L694.5 2802.2L695.5 2801.2L696.5 2799.4L697.5 2799L698.5 2798.1L699.5 2796.8L700.5 2795.8L701.5 2794.7L702.5 2793.8L703.5 2792.1L704.5 2792.3L705.5 2791.3L706.5 2789.9L707.5 2790.7L708.5 2788L709.5 2788.6L710.5 2788.9L711.5 2787.9L712.5 2787.5L713.5 2787.4L714.5 2787.1L715.5 2787.6L716.5 2788L717.5 2788.2L718.5 2787.8L719.5 2787.7L720.5 2787.9L721.5 2788.7L722.5 2789.4L723.5 2789.6L724.5 2789.9L725.5 2789.6L726.5 2791.5L727.5 2790.6L728.5 2791.6L729.5 2791.5L730.5 2792.5L731.5 2793.5L732.5 2794L733.5 2793.7L734.5 2794.8L735.5 2794.5L736.5 2794.6L737.5 2794.8L738.5 2794.8L739.5 2795.4L740.5 2795.5L741.5 2795.1L742.5 2794L743.5 2794.6L744.5 2794.6L745.5 2793.3L746.5 2793.1L747.5 2792.3L748.5 2791L749.5 2790.2L750.5 2789.6L751.5 2788.4L752.5 2788.2L753.5 2786.1L754.5 2785.1L755.5 2784.6L756.5 2782.8L757.5 2781.1L758.5 2780L759.5 2779.3L760.5 2778.6L761.5 2777.9L762.5 2774.6L763.5 2774.4L764.5 2774L765.5 2771.9L766.5 2771.6L767.5 2770.2L768.5 2769.6L769.5 2768.6L770.5 2767.4L771.5 2767.4L772.5 2766.5L773.5 2765.9L774.5 2765.8L775.5 2765L776.5 2764.9L777.5 2764.5L778.5 2765.4L779.5 2765.4L780.5 2765.1L781.5 2765.2L782.5 2766.1L783.5 2765.4L784.5 2766.2L785.5 2767.4L786.5 2767.3L787.5 2768.3L788.5 2768.6L789.5 2768L790.5 2769L791.5 2768.9L792.5 2770.2L793.5 2769.9L794.5 2771L795.5 2771.4L796.5 2772.6L797.5 2772.5L798.5 2772.6L799.5 2773.7L800.5 2773.3L801.5 2774.1L802.5 2775.3L803.5 2775.5L804.5 2775.4L805.5 2776.3L806.5 2775.6L807.5 2776.7L808.5 2777.1L809.5 2777.2L810.5 2778L811.5 2778L812.5 2777L813.5 2777.2L814.5 2776.5L815.5 2775.9L816.5 2776.3L817.5 2775.6L818.5 2773L819.5 2773.3L820.5 2771.3L821.5 2770.2L822.5 2768.9L823.5 2767.6L824.5 2765.9L825.5 2765.6L826.5 2763.7L827.5 2762.1L828.5 2761.7L829.5 2760L830.5 2759.1L831.5 2758.1L832.5 2757.1L833.5 2756.3L834.5 2755.6L835.5 2756.5L836.5 2755.4L837.5 2755L838.5 2753.1L839.5 2752.9L840.5 2753.1L841.5 2751.9L842.5 2751.2L843.5 2751.5L844.5 2750.9L845.5 2750.2L846.5 2748.2L847.5 2748.2L848.5 2747.8L849.5 2746.7L850.5 2746.5L851.5 2746.5L852.5 2746.4L853.5 2745.7L854.5 2745.2L855.5 2744.6L856.5 2743.9L857.5 2744.3L858.5 2742.7L859.5 2743.3L860.5 2742.9L861.5 2742L862.5 2741.7L863.5 2741.6L864.5 2740.5L865.5 2740.2L866.5 2740.4L867.5 2740.2L868.5 2740.1L869.5 2739.8L870.5 2738.3L871.5 2738.8L872.5 2738.3L873.5 2737.7L874.5 2737.3L875.5 2736.7L876.5 2735.6L877.5 2736L878.5 2735.7L879.5 2734.3L880.5 2734.4L881.5 2734.1L882.5 2734L883.5 2733.7L884.5 2733.9L885.5 2732.3L886.5 2732.3L887.5 2731.5L888.5 2731.6L889.5 2731.2L890.5 2730.5L891.5 2730L892.5 2730.4L893.5 2729L894.5 2729.4L895.5 2728.4L896.5 2728.8L897.5 2726.7L898.5 2727.7L899.5 2727.5L900.5 2727.3L901.5 2726.8L902.5 2725.4L903.5 2726.4L904.5 2725.5L905.5 2725.1L906.5 2724.7L907.5 2724.6L908.5 2723.9L909.5 2724.7L910.5 2722.8L911.5 2722.8L912.5 2723L913.5 2722.4L914.5 2722.2L915.5 2722.6L916.5 2723.1L917.5 2721.4L918.5 2722.4L919.5 2721.8L920.5 2721.3L921.5 2722L922.5 2721.2L923.5 2721.4L924.5 2721.6L925.5 2721.6L926.5 2721.7L927.5 2720.9L928.5 2721.1L929.5 2723L930.5 2721.5L931.5 2721.3L932.5 2721.4L933.5 2721.1L934.5 2721.5L935.5 2721.3L936.5 2722.6L937.5 2722.3L938.5 2721.4L939.5 2722.1L940.5 2721.2L941.5 2721.6L942.5 2721.6L943.5 2721.9L944.5 2721.9L945.5 2721.8L946.5 2720.8L947.5 2721.6L948.5 2722L949.5 2721.8L950.5 2721.6L951.5 2721.3L952.5 2721.3L953.5 2721.8L954.5 2721.7L955.5 2721.5L956.5 2721.4L957.5 2721.1L958.5 2721.5L959.5 2721.6L960.5 2721.6L961.5 2721.2L962.5 2721.1L963.5 2720.7L964.5 2721.7L965.5 2721.5L966.5 2721.8L967.5 2721.1L968.5 2722.5L969.5 2721.6L970.5 2720.9L971.5 2721.8L972.5 2721.8L973.5 2720.6L974.5 2720.6L975.5 2721.1L976.5 2720.7L977.5 2721.6L978.5 2721.3L979.5 2721.2L980.5 2721.8L981.5 2721.3L982.5 2720.1L983.5 2721.6L984.5 2721.2L985.5 2720.4L986.5 2720.6L987.5 2721L988.5 2720.7L989.5 2721.6L990.5 2721.7L991.5 2720.4L992.5 2721.2L993.5 2721.7L994.5 2721L995.5 2720.5L996.5 2721.4L997.5 2721.4L998.5 2721.1L999.5 2720.7L1000.5 2721L1001.5 2719.7L1002.5 2721.5L1003.5 2720.6L1004.5 2720.6L1005.5 2721.4L1006.5 2720.9L1007.5 2720.1L1008.5 2720.6L1009.5 2721.5L1010.5 2720L1011.5 2720.6L1012.5 2720.5L1013.5 2719.9L1014.5 2721.2L1015.5 2720.4L1016.5 2720.1L1017.5 2721.1L1018.5 2719.6L1019.5 2721.1L1020.5 2720.1L1021.5 2720.5L1022.5 2720.3L1023.5 2720.6L1024.5 2720L1025.5 2719.8L1026.5 2720.8L1027.5 2719.9L1028.5 2720L1029.5 2719.8L1030.5 2720.4L1031.5 2720.4L1032.5 2720.1L1033.5 2719.6L1034.5 2720.2L1035.5 2720.5L1036.5 2719.6L1037.5 2720.2L1038.5 2719.6L1039.5 2720L1040.5 2720.4L1041.5 2720.3L1042.5 2720L1043.5 2720.1L1044.5 2719.9L1045.5 2720L1046.5 2720.3L1047.5 2720.7L1048.5 2719.8L1049.5 2718.7L1050.5 2719.9L1051.5 2720.6L1052.5 2720.5L1053.5 2719.5L1054.5 2719.8L1055.5 2720L1056.5 2720.5L1057.5 2720.2L1058.5 2720.2L1059.5 2719.7L1060.5 2719.3L1061.5 2720.5L1062.5 2720.6L1063.5 2719.8L1064.5 2719.7L1065.5 2720.4L1066.5 2720.8L1067.5 2719.3L1068.5 2720.9L1069.5 2721L1070.5 2721.3L1071.5 2720.7L1072.5 2720.3L1073.5 2720.4L1074.5 2720.5L1075.5 2721.2L1076.5 2721.1L1077.5 2721.5L1078.5 2721.4L1079.5 2721.2L1080.5 2721L1081.5 2720.5L1082.5 2721.9L1083.5 2720.6L1084.5 2720.9L1085.5 2722.1L1086.5 2721.8L1087.5 2722L1088.5 2721.7L1089.5 2721.9L1090.5 2721.5L1091.5 2722.1L1092.5 2721.6L1093.5 2721.5L1094.5 2722.2L1095.5 2721.4L1096.5 2722.3L1097.5 2722.2L1098.5 2722.7L1099.5 2722.2L1100.5 2723.1L1101.5 2722.4L1102.5 2723.3L1103.5 2723.1L1104.5 2723.1L1105.5 2723.4L1106.5 2722.8L1107.5 2723.5L1108.5 2724L1109.5 2723.7L1110.5 2723.6L1111.5 2723.3L1112.5 2723.9L1113.5 2723.8L1114.5 2724.1L1115.5 2723.6L1116.5 2724.1L1117.5 2724L1118.5 2723.2L1119.5 2724.3L1120.5 2724.2L1121.5 2724.2L1122.5 2724.6L1123.5 2724.3L1124.5 2725.3L1125.5 2725L1126.5 2724.9L1127.5 2725.3L1128.5 2725L1129.5 2725.1L1130.5 2725.1L1131.5 2725.2L1132.5 2725.5L1133.5 2725.3L1134.5 2725L1135.5 2726.1L1136.5 2726.1L1137.5 2725.5L1138.5 2725.1L1139.5 2725.2L1140.5 2724.6L1141.5 2725.5L1142.5 2724.9L1143.5 2726.1L1144.5 2726.5L1145.5 2726.8L1146.5 2725.9L1147.5 2726.6L1148.5 2725.9L1149.5 2725.8L1150.5 2725.7L1151.5 2726.5L1152.5 2725.6L1153.5 2727.3L1154.5 2726.1L1155.5 2726.3L1156.5 2726.6L1157.5 2726.9L1158.5 2726.2L1159.5 2726.7L1160.5 2726.4L1161.5 2726.8L1162.5 2726.6L1163.5 2726.4L1164.5 2726.6L1165.5 2726.2L1166.5 2726.6L1167.5 2726.3L1168.5 2726.1L1169.5 2726.5L1170.5 2726.3L1171.5 2726.8L1172.5 2726.9L1173.5 2727.6L1174.5 2726.2L1175.5 2727L1176.5 2726.9L1177.5 2726.5L1178.5 2726.1L1179.5 2725.8L1180.5 2727.3L1181.5 2727.3L1182.5 2726.9L1183.5 2727.8L1184.5 2726.9L1185.5 2727.6L1186.5 2726.4L1187.5 2726.5L1188.5 2727L1189.5 2726.3L1190.5 2726.9L1191.5 2726.6L1192.5 2727.2L1193.5 2727.1L1194.5 2726.7L1195.5 2726.9L1196.5 2727.3L1197.5 2726.6L1198.5 2727.2L1199.5 2726.7L1200.5 2726.7L1201.5 2727.7L1202.5 2726.9L1203.5 2727.1L1204.5 2728.6L1205.5 2726.4L1206.5 2726.6L1207.5 2727.2L1208.5 2727.6L1209.5 2726.6L1210.5 2727.4L1211.5 2726.9L1212.5 2728.2L1213.5 2727.4L1214.5 2727.8L1215.5 2726.9L1216.5 2726.3L1217.5 2727.5L1218.5 2726.9L1219.5 2727.5L1220.5 2726.7L1221.5 2727.3L1222.5 2727.4L1223.5 2727.7L1224.5 2727.1L1225.5 2727L1226.5 2727.3L1227.5 2728.3L1228.5 2727.3L1229.5 2727.8L1230.5 2727.8L1231.5 2727.8L1232.5 2727.7L1233.5 2726.7L1234.5 2727.9L1235.5 2727.8L1236.5 2727.4L1237.5 2727.7L1238.5 2727.7L1239.5 2727.4L1240.5 2727.5L1241.5 2727.2L1242.5 2727.7L1243.5 2726.9L1244.5 2727.5L1245.5 2727.2L1246.5 2727.9L1247.5 2728.1L1248.5 2727.7L1249.5 2727.7L1250.5 2727.8L1251.5 2726.8L1252.5 2727.6L1253.5 2726.9L1254.5 2727.5L1255.5 2727.1L1256.5 2727.1L1257.5 2727.6L1258.5 2727.8L1259.5 2726.7L1260.5 2726.8L1261.5 2726.9L1262.5 2726.6L1263.5 2726.7L1264.5 2726.7L1265.5 2726.1L1266.5 2727L1267.5 2725.6L1268.5 2726.2L1269.5 2726.7L1270.5 2726.1L1271.5 2725.4L1272.5 2725.5L1273.5 2725.4L1274.5 2725.2L1275.5 2724.7L1276.5 2724.7L1277.5 2725.2L1278.5 2725L1279.5 2724.7L1280.5 2725.2L1281.5 2725L1282.5 2724L1283.5 2724.5L1284.5 2723.8L1285.5 2723.7L1286.5 2722.7L1287.5 2723.8L1288.5 2723.4L1289.5 2723.3L1290.5 2723.6L1291.5 2723.7L1292.5 2722.6L1293.5 2723.4L1294.5 2723.5L1295.5 2722.8L1296.5 2722L1297.5 2723.2L1298.5 2721.9L1299.5 2722.9L1300.5 2722.1L1301.5 2722.1L1302.5 2722.8L1303.5 2722.7L1304.5 2723.1L1305.5 2722.4L1306.5 2723L1307.5 2721.9L1308.5 2727.3L1309.5 2722.3L1310.5 2725.1L1311.5 2722.4L1312.5 2729.1L1313.5 2721.6L1314.5 2724.2L1315.5 2721.8L1316.5 2728.6L1317.5 2722.8L1318.5 2724.2L1319.5 2722.9L1320.5 2728L1321.5 2720.9L1322.5 2725.1L1323.5 2722.2L1324.5 2729L1325.5 2721.6L1326.5 2731.8L1327.5 2720.8L1328.5 2723.4L1329.5 2721.5L1330.5 2726.8L1331.5 2721.6L1332.5 2726.1L1333.5 2720.5L1334.5 2735.9L1335.5 2720.2L1336.5 2723.9L1337.5 2721.1L1338.5 2723.9L1339.5 2720.2L1340.5 2727.1L1341.5 2720.6L1342.5 2727.1L1343.5 2721L1344.5 2726.3L1345.5 2720.4L1346.5 2725.1L1347.5 2719.5L1348.5 2731.9L1349.5 2721.4L1350.5 2723.2L1351.5 2720.9L1352.5 2731.3L1353.5 2720.6L1354.5 2728.1L1355.5 2721.4L1356.5 2723.9L1357.5 2719.9L1358.5 2724L1359.5 2720.6L1360.5 2723.1L1361.5 2720L1362.5 2722.1L1363.5 2719.9L1364.5 2722.4L1365.5 2718.5L1366.5 2725.8L1367.5 2720.1L1368.5 2724.2L1369.5 2720.5L1370.5 2726.5L1371.5 2719.2L1372.5 2726.1L1373.5 2719.3L1374.5 2730.7L1375.5 2719.4L1376.5 2722.8L1377.5 2719.5L1378.5 2721.7L1379.5 2720.4L1380.5 2733.8L1381.5 2720.9L1382.5 2722.7L1383.5 2719.4L1384.5 2724L1385.5 2717.7L1386.5 2722.4L1387.5 2720.6L1388.5 2731.6L1389.5 2721.7L1390.5 2722.8L1391.5 2720.5L1392.5 2726.3L1393.5 2719.6L1394.5 2724.8L1395.5 2719.9L1396.5 2724.6L1397.5 2721.8L1398.5 2723.3L1399.5 2720.3L1400.5 2732.9L1401.5 2719.7L1402.5 2726.7L1403.5 2717.8L1404.5 2726.7L1405.5 2721.1L1406.5 2724.1L1407.5 2721.3L1408.5 2725.3L1409.5 2721.4L1410.5 2725.9L1411.5 2722.9L1412.5 2727.7L1413.5 2721.1L1414.5 2724.1L1415.5 2721.9L1416.5 2734.1L1417.5 2723L1418.5 2727.1L1419.5 2722.8L1420.5 2728.4L1421.5 2723.1L1422.5 2727.3L1423.5 2724L1424.5 2727.7L1425.5 2722.9L1426.5 2734.3L1427.5 2724L1428.5 2726.9L1429.5 2725.1L1430.5 2730.6L1431.5 2725L1432.5 2727.4L1433.5 2725.7L1434.5 2728.8L1435.5 2726.8L1436.5 2732.2L1437.5 2728L1438.5 2730.6L1439.5 2728.4L1440.5 2731.4L1441.5 2729.8L1442.5 2731.9L1443.5 2730.2L1444.5 2733.8L1445.5 2733.7L1446.5 2734.5L1447.5 2735.5L1448.5 2736.8L1449.5 2737.7L1450.5 2739.3L1451.5 2743L1452.5 2744.1L1453.5 2745.8L1454.5 2747.7L1455.5 2751.4L1456.5 2754.8L1457.5 2758.2L1458.5 2762.3L1459.5 2766.9L1460.5 2772.2L1461.5 2778.1L1462.5 2784.1L1463.5 2790.3L1464.5 2796.5L1465.5 2804L1466.5 2812.1L1467.5 2821.5L1468.5 2832.2L1469.5 2842.5L1470.5 2852.6L1471.5 2864.5L1472.5 2875L1473.5 2886.3L1474.5 2898.2L1475.5 2909.1L1476.5 2921.3L1477.5 2931.5L1478.5 2944L1479.5 2954.8L1480.5 2964.7L1481.5 2977.1L1482.5 2986.9L1483.5 2997.8L1484.5 3009L1485.5 3018.3L1486.5 3025.8L1487.5 3033.8L1488.5 3041.4L1489.5 3049.8L1490.5 3056.1L1491.5 3062.8L1492.5 3067.8L1493.5 3070.1L1494.5 3069.2L1495.5 3066.8L1496.5 3059.9L1497.5 3051.5L1498.5 3043L1499.5 3035.2L1500.5 3025.3L1501.5 3014.3L1502.5 3002.8L1503.5 2990.3L1504.5 2977.9L1505.5 2965.9L1506.5 2954.8L1507.5 2943.2L1508.5 2931L1509.5 2920.9L1510.5 2910.7L1511.5 2902.7L1512.5 2898.1L1513.5 2892.5L1514.5 2887.3L1515.5 2882.1L1516.5 2877.5L1517.5 2875.2L1518.5 2871.8L1519.5 2871.3L1520.5 2873L1521.5 2878L1522.5 2883.8L1523.5 2890.7L1524.5 2898.1L1525.5 2906L1526.5 2913.5L1527.5 2924.7L1528.5 2937.4L1529.5 2949.8L1530.5 2962.9L1531.5 2974.6L1532.5 2984.4L1533.5 2996.2L1534.5 3007.4L1535.5 3016.2L1536.5 3025.2L1537.5 3031.9L1538.5 3037.7L1539.5 3041.5L1540.5 3045.6L1541.5 3050L1542.5 3051.5L1543.5 3053.2L1544.5 3053.5L1545.5 3052L1546.5 3046.3L1547.5 3039.7L1548.5 3031.2L1549.5 3023.4L1550.5 3014.9L1551.5 3006.6L1552.5 2996.7L1553.5 2987.2L1554.5 2976.7L1555.5 2966.3L1556.5 2954.6L1557.5 2944.3L1558.5 2933L1559.5 2920.7L1560.5 2908L1561.5 2896.6L1562.5 2884.6L1563.5 2874.2L1564.5 2865.9L1565.5 2856.5L1566.5 2848.6L1567.5 2841.8L1568.5 2838.4L1569.5 2833.6L1570.5 2829.8L1571.5 2826.8L1572.5 2824.5L1573.5 2821.6L1574.5 2821L1575.5 2821.9L1576.5 2825.5L1577.5 2831.4L1578.5 2837.2L1579.5 2845.3L1580.5 2851.3L1581.5 2858.3L1582.5 2865.4L1583.5 2873.2L1584.5 2880.6L1585.5 2888.6L1586.5 2892.7L1587.5 2895.5L1588.5 2895.9L1589.5 2893.2L1590.5 2888.9L1591.5 2883.3L1592.5 2877.5L1593.5 2871.3L1594.5 2866.4L1595.5 2861.6L1596.5 2858.5L1597.5 2854.8L1598.5 2850.4L1599.5 2847.2L1600.5 2845.2L1601.5 2842.9L1602.5 2840.3L1603.5 2840L1604.5 2839.4L1605.5 2840.1L1606.5 2842.1L1607.5 2843.2L1608.5 2845.4L1609.5 2847.8L1610.5 2849.5L1611.5 2851L1612.5 2853.4L1613.5 2854.8L1614.5 2857.7L1615.5 2858.9L1616.5 2862.2L1617.5 2863.1L1618.5 2863.8L1619.5 2864.1L1620.5 2863.1L1621.5 2861.2L1622.5 2859.1L1623.5 2856.9L1624.5 2853.5L1625.5 2849.6L1626.5 2847.6L1627.5 2842.8L1628.5 2839.8L1629.5 2835.5L1630.5 2833L1631.5 2830.1L1632.5 2825.4L1633.5 2822.1L1634.5 2816.1L1635.5 2812.6L1636.5 2809.4L1637.5 2806.1L1638.5 2802.9L1639.5 2802L1640.5 2801.4L1641.5 2802.5L1642.5 2805.1L1643.5 2809.2L1644.5 2814L1645.5 2818.6L1646.5 2824.4L1647.5 2829.2L1648.5 2832.7L1649.5 2834.9L1650.5 2836.1L1651.5 2834.9L1652.5 2833.1L1653.5 2830.2L1654.5 2827.9L1655.5 2824.9L1656.5 2820.9L1657.5 2818.5L1658.5 2814.3L1659.5 2813.2L1660.5 2810.9L1661.5 2810.2L1662.5 2809L1663.5 2807.6L1664.5 2806.4L1665.5 2804.6L1666.5 2804.5L1667.5 2803.2L1668.5 2802L1669.5 2802.3L1670.5 2802.1L1671.5 2802.3L1672.5 2802.1L1673.5 2802.3L1674.5 2804L1675.5 2804.3L1676.5 2805.2L1677.5 2807L1678.5 2809.3L1679.5 2811.2L1680.5 2811.8L1681.5 2814.4L1682.5 2815.9L1683.5 2818.6L1684.5 2820.7L1685.5 2822.8L1686.5 2825.1L1687.5 2828.4L1688.5 2831.5L1689.5 2835L1690.5 2840.1L1691.5 2843.6L1692.5 2847.8L1693.5 2852.7L1694.5 2857L1695.5 2860.5L1696.5 2865.3L1697.5 2869.7L1698.5 2873L1699.5 2875.4L1700.5 2878.4L1701.5 2880.3L1702.5 2880.6L1703.5 2880L1704.5 2878.3L1705.5 2875L1706.5 2869.9L1707.5 2863L1708.5 2856.4L1709.5 2848.1L1710.5 2840.6L1711.5 2832.1L1712.5 2825L1713.5 2818L1714.5 2812L1715.5 2808.3L1716.5 2804.1L1717.5 2800.7L1718.5 2796.4L1719.5 2792.3L1720.5 2789.1L1721.5 2784.8L1722.5 2781.9L1723.5 2778.4L1724.5 2776.1L1725.5 2773.3L1726.5 2770.7L1727.5 2768.5L1728.5 2766.8L1729.5 2764.2L1730.5 2763.5L1731.5 2762.3L1732.5 2761.7L1733.5 2760.7L1734.5 2761.6L1735.5 2760.2L1736.5 2759.3L1737.5 2760L1738.5 2759.7L1739.5 2759L1740.5 2758.4L1741.5 2758.2L1742.5 2757.3L1743.5 2757.8L1744.5 2756.6L1745.5 2755.5L1746.5 2754.7L1747.5 2753.4L1748.5 2751.2L1749.5 2750.2L1750.5 2747.7L1751.5 2745.1L1752.5 2742.1L1753.5 2739.9L1754.5 2737.5L1755.5 2734.8L1756.5 2732.9L1757.5 2730.1L1758.5 2728.1L1759.5 2726.6L1760.5 2725.6L1761.5 2724.9L1762.5 2724.3L1763.5 2724.7L1764.5 2725.5L1765.5 2724.8L1766.5 2725.9L1767.5 2727L1768.5 2727.3L1769.5 2727.9L1770.5 2729L1771.5 2730.2L1772.5 2730.3L1773.5 2731.8L1774.5 2733.9L1775.5 2736.6L1776.5 2739.4L1777.5 2742.3L1778.5 2746.5L1779.5 2748.1L1780.5 2752.7L1781.5 2755.6L1782.5 2757.4L1783.5 2760.4L1784.5 2761.5L1785.5 2760.4L1786.5 2762.9L1787.5 2761L1788.5 2760.8L1789.5 2761.1L1790.5 2761.2L1791.5 2761.3L1792.5 2761.1L1793.5 2760.5L1794.5 2760.3L1795.5 2760.3L1796.5 2759.3L1797.5 2758.9L1798.5 2757.8L1799.5 2758.6L1800.5 2757.8L1801.5 2757.7L1802.5 2757.8L1803.5 2756.9L1804.5 2756.7L1805.5 2756.4L1806.5 2755.8L1807.5 2754.6L1808.5 2755.2L1809.5 2754.4L1810.5 2754.1L1811.5 2752.8L1812.5 2752.2L1813.5 2750.7L1814.5 2749.3L1815.5 2747.8L1816.5 2746.3L1817.5 2743.4L1818.5 2741.2L1819.5 2738.5L1820.5 2734.9L1821.5 2733.2L1822.5 2729.9L1823.5 2727.1L1824.5 2725.2L1825.5 2722.3L1826.5 2720.5L1827.5 2717.8L1828.5 2716.2L1829.5 2714.2L1830.5 2713.5L1831.5 2713.2L1832.5 2712.4L1833.5 2713L1834.5 2712.6L1835.5 2712L1836.5 2712.2L1837.5 2712.9L1838.5 2713.1L1839.5 2713.6L1840.5 2714.4L1841.5 2714.4L1842.5 2714.3L1843.5 2714.6L1844.5 2716.2L1845.5 2716.2L1846.5 2716.2L1847.5 2717.3L1848.5 2717.9L1849.5 2717.8L1850.5 2718.8L1851.5 2719L1852.5 2719.5L1853.5 2719.3L1854.5 2719.9L1855.5 2719.3L1856.5 2720.3L1857.5 2721.3L1858.5 2720.9L1859.5 2720.7L1860.5 2721.8L1861.5 2721.1L1862.5 2721.4L1863.5 2720.7L1864.5 2720.6L1865.5 2719.8L1866.5 2720.1L1867.5 2719.9L1868.5 2719.6L1869.5 2719L1870.5 2718.9L1871.5 2718.4L1872.5 2717.9L1873.5 2718.3L1874.5 2717.8L1875.5 2717.7L1876.5 2716.5L1877.5 2716.8L1878.5 2716.4L1879.5 2715.8L1880.5 2716.6L1881.5 2715.4L1882.5 2716.7L1883.5 2716.2L1884.5 2716.8L1885.5 2717.5L1886.5 2719L1887.5 2720L1888.5 2721.2L1889.5 2722.8L1890.5 2724.2L1891.5 2726.5L1892.5 2728L1893.5 2730.6L1894.5 2732.1L1895.5 2733.9L1896.5 2735.9L1897.5 2737.9L1898.5 2738.5L1899.5 2741.3L1900.5 2741.8L1901.5 2744L1902.5 2744.9L1903.5 2746.7L1904.5 2747.4L1905.5 2749.2L1906.5 2748.9L1907.5 2750.9L1908.5 2751.2L1909.5 2752.8L1910.5 2752.9L1911.5 2753.8L1912.5 2755.1L1913.5 2755L1914.5 2756.2L1915.5 2757.5L1916.5 2758.5L1917.5 2760.8L1918.5 2760.9L1919.5 2762.1L1920.5 2763.3L1921.5 2765.1L1922.5 2765.7L1923.5 2768.4L1924.5 2770L1925.5 2772.3L1926.5 2773.4L1927.5 2776.1L1928.5 2777.7L1929.5 2780.5L1930.5 2783L1931.5 2784.7L1932.5 2786.8L1933.5 2789.3L1934.5 2792.5L1935.5 2794.3L1936.5 2796.6L1937.5 2800.8L1938.5 2803.1L1939.5 2806.1L1940.5 2808.5L1941.5 2811.6L1942.5 2814.4L1943.5 2817.2L1944.5 2819.2L1945.5 2823.2L1946.5 2825.8L1947.5 2828.5L1948.5 2831.2L1949.5 2834L1950.5 2836.6L1951.5 2840.5L1952.5 2843L1953.5 2846L1954.5 2848.3L1955.5 2851.1L1956.5 2854L1957.5 2857.4L1958.5 2860.4L1959.5 2863.8L1960.5 2866.5L1961.5 2869.7L1962.5 2872.5L1963.5 2876.2L1964.5 2879.5L1965.5 2882.2L1966.5 2886.6L1967.5 2889.5L1968.5 2893.1L1969.5 2896.7L1970.5 2900.9L1971.5 2903.9L1972.5 2906.6L1973.5 2910.7L1974.5 2913.4L1975.5 2917L1976.5 2919.8L1977.5 2922.6L1978.5 2925.2L1979.5 2928.5L1980.5 2930.9L1981.5 2934.4L1982.5 2936L1983.5 2939.1L1984.5 2940.3L1985.5 2942.9L1986.5 2944.8L1987.5 2946.1L1988.5 2948.1L1989.5 2949.7L1990.5 2951.1L1991.5 2954.2L1992.5 2954.6L1993.5 2956.8L1994.5 2957.4L1995.5 2959.4L1996.5 2960.6L1997.5 2961.6L1998.5 2961.9L1999.5 2962.3L2000.5 2963.1L2001.5 2962.5L2002.5 2962.3L2003.5 2963.3L2004.5 2962.3L2005.5 2962.2L2006.5 2961.7L2007.5 2961.4L2008.5 2961.2L2009.5 2960.3L2010.5 2959.3L2011.5 2959.8L2012.5 2958.1L2013.5 2955.8L2014.5 2954.1L2015.5 2951.3L2016.5 2946.6L2017.5 2942.6L2018.5 2938.6L2019.5 2934.7L2020.5 2929.8L2021.5 2925.8L2022.5 2920L2023.5 2916.8L2024.5 2913.4L2025.5 2928.6L2026.5 2910.7L2027.5 2905.5L2028.5 2877.2L2029.5 2901.8L2030.5 2897.5L2031.5 2914.8L2032.5 2879.6L2033.5 2888.2L2034.5 2883.4L2035.5 2904.6L2036.5 2879.2L2037.5 2899.9L2038.5 2899.6L2039.5 2872.8L2040.5 2871.6L2041.5 2881.4L2042.5 2881.3L2043.5 2863.5L2044.5 2862.5L2045.5 2830.5L2046.5 2858.5L2047.5 2824.9L2048.5 2823.6L2049.5 2855L2050.5 2852.7L2051.5 2848L2052.5 2851.5L2053.5 2846.6L2054.5 2847.7L2055.5 2842.4L2056.5 2840L2057.5 2838.1L2058.5 2807.7L2059.5 2833.7L2060.5 2835.8L2061.5 2831.6L2062.5 2826.6L2063.5 2846.5L2064.5 2771.8L2065.5 2841.9L2066.5 2780L2067.5 2803.4L2068.5 2801.1L2069.5 2793.5L2070.5 2790.5L2071.5 2747.3L2072.5 2782.2L2073.5 2780.1L2074.5 2781.4L2075.5 2831L2076.5 2776.5L2077.5 2783.2L2078.5 2743.7L2079.5 2780.5L2080.5 2827.1L2081.5 2782L2082.5 2785.7L2083.5 2786L2084.5 2786.5L2085.5 2790.2L2086.5 2790.9L2087.5 2793.6L2088.5 2799.2L2089 2800.4" fill="none" stroke="#0d0d0d" stroke-width="4.5" stroke-linejoin="round"/>
<path d="M257 2811.4L257.5 2815.4L258.5 2815.4L259.5 2815.2L260.5 2814.4L261.5 2814L262.5 2814.8L263.5 2813.9L264.5 2815.2L265.5 2814.3L266.5 2815.5L267.5 2814.4L268.5 2815.9L269.5 2814L270.5 2816.1L271.5 2814L272.5 2821.8L273.5 2812.5L274.5 2816.8L275.5 2814.1L276.5 2820.6L277.5 2812.2L278.5 2818L279.5 2812.6L280.5 2819.8L281.5 2813.9L282.5 2818.7L283.5 2812.9L284.5 2817.4L285.5 2814.8L286.5 2824.5L287.5 2812.6L288.5 2835L289.5 2810.5L290.5 2817.1L291.5 2812.7L292.5 2821L293.5 2810.8L294.5 2838.3L295.5 2812L296.5 2823.3L297.5 2810.4L298.5 2816L299.5 2810.7L300.5 2826.7L301.5 2811.9L302.5 2838.9L303.5 2812.6L304.5 2846.5L305.5 2812.5L306.5 2843.2L307.5 2808.2L308.5 2818.6L309.5 2812.5L310.5 2822.1L311.5 2810.2L312.5 2816.5L313.5 2812.1L314.5 2815.7L315.5 2810.2L316.5 2822.2L317.5 2807L318.5 2816.8L319.5 2808.8L320.5 2819.3L321.5 2810.1L322.5 2834.7L323.5 2810.9L324.5 2817.7L325.5 2810.9L326.5 2831.7L327.5 2810.5L328.5 2815.3L329.5 2807L330.5 2833.8L331.5 2810.3L332.5 2820.1L333.5 2807.2L334.5 2815.2L335.5 2808L336.5 2841.9L337.5 2809.9L338.5 2817.3L339.5 2808.6L340.5 2816.9L341.5 2810.1L342.5 2816.6L343.5 2808.3L344.5 2819.6L345.5 2810.9L346.5 2814.9L347.5 2807L348.5 2819.7L349.5 2808.6L350.5 2820.9L351.5 2801.5L352.5 2822.4L353.5 2807.5L354.5 2814.9L355.5 2808.5L356.5 2820.7L357.5 2809.8L358.5 2815.4L359.5 2809.7L360.5 2822.3L361.5 2808.2L362.5 2821.9L363.5 2804.4L364.5 2816.5L365.5 2806.5L366.5 2814.6L367.5 2809.4L368.5 2833.2L369.5 2806.6L370.5 2842.4L371.5 2807.9L372.5 2815L373.5 2801.7L374.5 2819L375.5 2809.2L376.5 2820L377.5 2810.7L378.5 2814L379.5 2809.2L380.5 2816.7L381.5 2809.7L382.5 2815.2L383.5 2805.7L384.5 2816.3L385.5 2809.6L386.5 2813.9L387.5 2806.5L388.5 2823.2L389.5 2806.8L390.5 2815.8L391.5 2809L392.5 2828.4L393.5 2810.5L394.5 2831.8L395.5 2808.4L396.5 2815L397.5 2809.6L398.5 2814.9L399.5 2806.5L400.5 2828.2L401.5 2810.4L402.5 2814L403.5 2809.3L404.5 2834.5L405.5 2810.2L406.5 2828.5L407.5 2807.1L408.5 2837.1L409.5 2809L410.5 2817.8L411.5 2809.9L412.5 2823.3L413.5 2812.3L414.5 2815.1L415.5 2808.7L416.5 2817.4L417.5 2809.7L418.5 2826L419.5 2812.8L420.5 2817.3L421.5 2810.8L422.5 2818.6L423.5 2810.7L424.5 2824.8L425.5 2815.1L426.5 2824.2L427.5 2814.2L428.5 2823.5L429.5 2815L430.5 2824.1L431.5 2816.5L432.5 2828.2L433.5 2815.4L434.5 2829.7L435.5 2819.3L436.5 2849.8L437.5 2817.3L438.5 2832.1L439.5 2819L440.5 2831.5L441.5 2820.3L442.5 2831.5L443.5 2822.7L444.5 2828.5L445.5 2823.8L446.5 2830.2L447.5 2825.2L448.5 2832.8L449.5 2827.9L450.5 2835.4L451.5 2825.4L452.5 2847.9L453.5 2828.9L454.5 2841.7L455.5 2829.5L456.5 2837.4L457.5 2830.7L458.5 2853.2L459.5 2832.5L460.5 2867.4L461.5 2832.9L462.5 2843.8L463.5 2836.1L464.5 2846.4L465.5 2835.9L466.5 2859.1L467.5 2836.5L468.5 2848.6L469.5 2840.4L470.5 2873L471.5 2844.4L472.5 2848.4L473.5 2842.7L474.5 2856.4L475.5 2844L476.5 2852L477.5 2845.7L478.5 2858.4L479.5 2848.2L480.5 2859.9L481.5 2851.8L482.5 2857.3L483.5 2852.1L484.5 2859.3L485.5 2856.2L486.5 2863.4L487.5 2857L488.5 2869.7L489.5 2860.5L490.5 2865.8L491.5 2863.1L492.5 2868.6L493.5 2864.9L494.5 2868.7L495.5 2867.8L496.5 2873.4L497.5 2870.9L498.5 2875.2L499.5 2872.7L500.5 2875.3L501.5 2874.5L502.5 2878.9L503.5 2877.4L504.5 2878.5L505.5 2878.9L506.5 2881.2L507.5 2881.4L508.5 2882.5L509.5 2882.2L510.5 2883.5L511.5 2885.9L512.5 2885.6L513.5 2886.6L514.5 2888.5L515.5 2889.5L516.5 2889.6L517.5 2890.9L518.5 2891.9L519.5 2892.8L520.5 2893.3L521.5 2894.4L522.5 2895.5L523.5 2896.9L524.5 2897.2L525.5 2897L526.5 2898.2L527.5 2899.1L528.5 2900.7L529.5 2901.9L530.5 2902.2L531.5 2902.3L532.5 2903.5L533.5 2904.4L534.5 2905.6L535.5 2906.1L536.5 2907.2L537.5 2907.4L538.5 2909.3L539.5 2908.6L540.5 2909.9L541.5 2911.2L542.5 2911.8L543.5 2911.6L544.5 2912.5L545.5 2913.4L546.5 2914.7L547.5 2915.4L548.5 2915L549.5 2916.2L550.5 2917.1L551.5 2918.2L552.5 2918.6L553.5 2919.6L554.5 2919.5L555.5 2920L556.5 2921L557.5 2921.7L558.5 2923.3L559.5 2922.8L560.5 2923.2L561.5 2923.4L562.5 2924.5L563.5 2924.8L564.5 2925.8L565.5 2926L566.5 2926.2L567.5 2926.7L568.5 2927.4L569.5 2928.2L570.5 2927.5L571.5 2929L572.5 2929.9L573.5 2929.9L574.5 2931.5L575.5 2931.7L576.5 2932.8L577.5 2933.3L578.5 2933.7L579.5 2935.2L580.5 2935.8L581.5 2935.7L582.5 2937.1L583.5 2937.6L584.5 2939.1L585.5 2940.5L586.5 2941.5L587.5 2942.9L588.5 2944.6L589.5 2946.3L590.5 2947.5L591.5 2949.2L592.5 2950L593.5 2951.6L594.5 2953.8L595.5 2954.7L596.5 2956.8L597.5 2958.2L598.5 2960L599.5 2961.9L600.5 2963L601.5 2964.2L602.5 2965.7L603.5 2968.4L604.5 2969.5L605.5 2970L606.5 2971.3L607.5 2972.3L608.5 2974.7L609.5 2975.7L610.5 2976L611.5 2978.4L612.5 2979.4L613.5 2981.3L614.5 2981.3L615.5 2981.5L616.5 2982.9L617.5 2983.5L618.5 2983.5L619.5 2983.8L620.5 2984.4L621.5 2984.9L622.5 2985.5L623.5 2984.6L624.5 2985.1L625.5 2985.6L626.5 2984.2L627.5 2984L628.5 2984L629.5 2984.3L630.5 2983.3L631.5 2983.9L632.5 2982.8L633.5 2982.4L634.5 2982.5L635.5 2982.2L636.5 2981.2L637.5 2980.8L638.5 2980.7L639.5 2980.6L640.5 2978.9L641.5 2979L642.5 2978.4L643.5 2977.6L644.5 2976.7L645.5 2976L646.5 2974.7L647.5 2974.4L648.5 2973.3L649.5 2972.7L650.5 2972.2L651.5 2972.2L652.5 2970.6L653.5 2969.5L654.5 2969.3L655.5 2967.5L656.5 2967.5L657.5 2965.8L658.5 2965.4L659.5 2965.3L660.5 2963.4L661.5 2962.2L662.5 2961.5L663.5 2961L664.5 2958.8L665.5 2959.8L666.5 2957.4L667.5 2957.2L668.5 2956.3L669.5 2954.7L670.5 2954L671.5 2953.7L672.5 2952.1L673.5 2951.7L674.5 2950.4L675.5 2949.5L676.5 2948.6L677.5 2947.5L678.5 2946L679.5 2945.3L680.5 2943.5L681.5 2942L682.5 2939.4L683.5 2938L684.5 2937.5L685.5 2935.7L686.5 2933.8L687.5 2932.4L688.5 2929.2L689.5 2928.1L690.5 2926.6L691.5 2924.8L692.5 2923.1L693.5 2921.1L694.5 2918.8L695.5 2917.7L696.5 2914.9L697.5 2913.3L698.5 2912.5L699.5 2909.9L700.5 2909L701.5 2906.4L702.5 2905.3L703.5 2904.3L704.5 2901.8L705.5 2901.2L706.5 2899.1L707.5 2898.7L708.5 2898L709.5 2897.2L710.5 2897L711.5 2895.5L712.5 2896.2L713.5 2895L714.5 2894.5L715.5 2895.2L716.5 2895.4L717.5 2895.6L718.5 2895.6L719.5 2895.3L720.5 2895.1L721.5 2897L722.5 2896.7L723.5 2897.2L724.5 2897.9L725.5 2898.3L726.5 2897.8L727.5 2898L728.5 2898.3L729.5 2898.9L730.5 2900.3L731.5 2900.5L732.5 2900.9L733.5 2900.8L734.5 2901.6L735.5 2901.7L736.5 2902.1L737.5 2902.6L738.5 2902.4L739.5 2902.8L740.5 2902.4L741.5 2903L742.5 2902.9L743.5 2901.6L744.5 2901.3L745.5 2900.5L746.5 2899.7L747.5 2899.6L748.5 2898.3L749.5 2896.2L750.5 2896.8L751.5 2895.5L752.5 2893.4L753.5 2893L754.5 2891.5L755.5 2890.5L756.5 2889.2L757.5 2889.1L758.5 2887L759.5 2886.3L760.5 2884.5L761.5 2882.6L762.5 2882L763.5 2881L764.5 2878.8L765.5 2878.1L766.5 2877.1L767.5 2876L768.5 2875.1L769.5 2873L770.5 2873.5L771.5 2872.7L772.5 2871.5L773.5 2871.8L774.5 2870.7L775.5 2871.2L776.5 2870.2L777.5 2870.3L778.5 2870.4L779.5 2870.4L780.5 2870.9L781.5 2870.2L782.5 2870.4L783.5 2870.7L784.5 2871.8L785.5 2871.6L786.5 2872.4L787.5 2872.4L788.5 2872.7L789.5 2873.4L790.5 2874.1L791.5 2874.5L792.5 2875.9L793.5 2876.2L794.5 2876.8L795.5 2877.2L796.5 2877.6L797.5 2877.4L798.5 2878.8L799.5 2879.1L800.5 2880.4L801.5 2880.5L802.5 2881.2L803.5 2880.9L804.5 2882.5L805.5 2882.8L806.5 2882L807.5 2883.2L808.5 2883.5L809.5 2884.3L810.5 2885.6L811.5 2884.4L812.5 2885.6L813.5 2885.4L814.5 2884.8L815.5 2884.4L816.5 2884.2L817.5 2883.9L818.5 2882.6L819.5 2881.5L820.5 2879.7L821.5 2877.7L822.5 2875.7L823.5 2873.9L824.5 2871.2L825.5 2869.3L826.5 2866.8L827.5 2865.3L828.5 2863.5L829.5 2861.8L830.5 2859.8L831.5 2858.2L832.5 2857.3L833.5 2857L834.5 2855.6L835.5 2855.2L836.5 2854.4L837.5 2853.9L838.5 2852.4L839.5 2852.8L840.5 2850.8L841.5 2851.3L842.5 2850.3L843.5 2850.1L844.5 2848.7L845.5 2848.5L846.5 2847.3L847.5 2846.9L848.5 2845.9L849.5 2846.2L850.5 2845.3L851.5 2845.6L852.5 2845.3L853.5 2843.6L854.5 2844.2L855.5 2843.3L856.5 2842.1L857.5 2841.4L858.5 2841.8L859.5 2841.1L860.5 2841.4L861.5 2840.2L862.5 2840.8L863.5 2839L864.5 2839.3L865.5 2839L866.5 2839.2L867.5 2838.4L868.5 2837.4L869.5 2837.5L870.5 2837L871.5 2836.6L872.5 2835.8L873.5 2835.4L874.5 2834.7L875.5 2834.3L876.5 2834.5L877.5 2834.3L878.5 2833.3L879.5 2833.5L880.5 2832.2L881.5 2832L882.5 2831.6L883.5 2830.9L884.5 2830.5L885.5 2830.7L886.5 2829.9L887.5 2829.6L888.5 2829.2L889.5 2828.4L890.5 2828.9L891.5 2827.8L892.5 2828.2L893.5 2828.1L894.5 2827.1L895.5 2825.9L896.5 2827.6L897.5 2825.3L898.5 2825.2L899.5 2824.1L900.5 2823.1L901.5 2823.5L902.5 2823.4L903.5 2822.8L904.5 2823L905.5 2822.3L906.5 2822L907.5 2822.2L908.5 2820.7L909.5 2820.8L910.5 2820.5L911.5 2819.6L912.5 2819.6L913.5 2819.6L914.5 2818L915.5 2818.5L916.5 2818.2L917.5 2818.2L918.5 2817.6L919.5 2817.4L920.5 2817.2L921.5 2817.4L922.5 2816.3L923.5 2816.3L924.5 2815.7L925.5 2816.1L926.5 2815.2L927.5 2814.6L928.5 2814.5L929.5 2814.7L930.5 2814.3L931.5 2814.4L932.5 2814.5L933.5 2814.5L934.5 2814L935.5 2814.8L936.5 2814.5L937.5 2814.2L938.5 2814.5L939.5 2814L940.5 2814.1L941.5 2814.6L942.5 2814.4L943.5 2814.3L944.5 2813.8L945.5 2814.4L946.5 2814.4L947.5 2815.2L948.5 2815L949.5 2815.2L950.5 2814.3L951.5 2815.2L952.5 2815.2L953.5 2815.7L954.5 2815.5L955.5 2814L956.5 2815.8L957.5 2815.9L958.5 2815.5L959.5 2815.1L960.5 2814.8L961.5 2814.4L962.5 2814.9L963.5 2815.5L964.5 2815.1L965.5 2815L966.5 2814.9L967.5 2814.4L968.5 2813.9L969.5 2815L970.5 2814.2L971.5 2814.7L972.5 2815.2L973.5 2814.4L974.5 2814.2L975.5 2814.7L976.5 2814.3L977.5 2814.5L978.5 2814.7L979.5 2814.5L980.5 2814.8L981.5 2815.2L982.5 2813.7L983.5 2813.1L984.5 2814.1L985.5 2813.5L986.5 2813.7L987.5 2814.8L988.5 2814.1L989.5 2814.1L990.5 2814L991.5 2814.5L992.5 2814.8L993.5 2813.3L994.5 2814.5L995.5 2813.9L996.5 2813.2L997.5 2813.3L998.5 2813.9L999.5 2813.9L1000.5 2813.3L1001.5 2814.1L1002.5 2813.6L1003.5 2813.8L1004.5 2813L1005.5 2813.5L1006.5 2814.4L1007.5 2812.8L1008.5 2813.6L1009.5 2813.4L1010.5 2813.7L1011.5 2813.6L1012.5 2813.8L1013.5 2813.4L1014.5 2812.4L1015.5 2813.8L1016.5 2814.1L1017.5 2812.7L1018.5 2812.9L1019.5 2813.3L1020.5 2812.4L1021.5 2813.1L1022.5 2813.1L1023.5 2813L1024.5 2812.9L1025.5 2813.3L1026.5 2812.8L1027.5 2813.5L1028.5 2812.7L1029.5 2812.5L1030.5 2813.2L1031.5 2813.1L1032.5 2812.1L1033.5 2812.2L1034.5 2812.6L1035.5 2813L1036.5 2812.5L1037.5 2812.5L1038.5 2812.5L1039.5 2813.2L1040.5 2811.7L1041.5 2812.4L1042.5 2812.2L1043.5 2812.8L1044.5 2813.3L1045.5 2813.1L1046.5 2812.6L1047.5 2812.4L1048.5 2813.1L1049.5 2812.4L1050.5 2812.2L1051.5 2812.8L1052.5 2812.9L1053.5 2813L1054.5 2811.9L1055.5 2812.4L1056.5 2812.4L1057.5 2812.7L1058.5 2812.7L1059.5 2812.1L1060.5 2812L1061.5 2812.2L1062.5 2812L1063.5 2813.6L1064.5 2812.8L1065.5 2812L1066.5 2812.4L1067.5 2813L1068.5 2813.4L1069.5 2813.7L1070.5 2813.4L1071.5 2812.6L1072.5 2813.4L1073.5 2812.7L1074.5 2813.4L1075.5 2813.3L1076.5 2814.1L1077.5 2813.1L1078.5 2814.1L1079.5 2813.9L1080.5 2813.1L1081.5 2813.1L1082.5 2813.9L1083.5 2814L1084.5 2813.3L1085.5 2814.1L1086.5 2813.2L1087.5 2814.8L1088.5 2813.8L1089.5 2814.4L1090.5 2814.1L1091.5 2814.7L1092.5 2814.8L1093.5 2813.8L1094.5 2814.8L1095.5 2814.8L1096.5 2814.4L1097.5 2815.2L1098.5 2815.1L1099.5 2815.4L1100.5 2814.2L1101.5 2815.3L1102.5 2815L1103.5 2815.3L1104.5 2816.2L1105.5 2815.7L1106.5 2816.1L1107.5 2815.3L1108.5 2815.5L1109.5 2815.4L1110.5 2815.7L1111.5 2815.8L1112.5 2816.5L1113.5 2815.7L1114.5 2816.7L1115.5 2815.9L1116.5 2817.1L1117.5 2816.1L1118.5 2816.1L1119.5 2816.5L1120.5 2816.4L1121.5 2816.3L1122.5 2817L1123.5 2817L1124.5 2817.2L1125.5 2816.2L1126.5 2817.3L1127.5 2816L1128.5 2817.1L1129.5 2816.8L1130.5 2816.7L1131.5 2817.3L1132.5 2816.7L1133.5 2816.9L1134.5 2816.8L1135.5 2817.7L1136.5 2817.8L1137.5 2817.3L1138.5 2817.4L1139.5 2817.1L1140.5 2817.9L1141.5 2817.8L1142.5 2817.2L1143.5 2817L1144.5 2818.1L1145.5 2817L1146.5 2817.8L1147.5 2818L1148.5 2816.8L1149.5 2817.7L1150.5 2817.8L1151.5 2818L1152.5 2818.2L1153.5 2817.2L1154.5 2817.8L1155.5 2817.7L1156.5 2818.1L1157.5 2817.7L1158.5 2817.8L1159.5 2816.9L1160.5 2817.7L1161.5 2817.5L1162.5 2817.6L1163.5 2816.9L1164.5 2817.1L1165.5 2817.5L1166.5 2817L1167.5 2817.8L1168.5 2817.7L1169.5 2817.2L1170.5 2817.9L1171.5 2817.5L1172.5 2817.5L1173.5 2817.4L1174.5 2818L1175.5 2816.8L1176.5 2817.6L1177.5 2817.4L1178.5 2816.7L1179.5 2817.3L1180.5 2816.9L1181.5 2816.6L1182.5 2816.8L1183.5 2817L1184.5 2816.6L1185.5 2816.5L1186.5 2816.8L1187.5 2816.7L1188.5 2816.4L1189.5 2816.3L1190.5 2816.2L1191.5 2816.3L1192.5 2817L1193.5 2816.8L1194.5 2816.1L1195.5 2816.5L1196.5 2816.3L1197.5 2816.5L1198.5 2816.5L1199.5 2815.5L1200.5 2815.7L1201.5 2816.4L1202.5 2816.1L1203.5 2816.5L1204.5 2815.8L1205.5 2815.2L1206.5 2817.2L1207.5 2816.8L1208.5 2815.8L1209.5 2816.6L1210.5 2815.7L1211.5 2815.5L1212.5 2816.2L1213.5 2814.8L1214.5 2815.2L1215.5 2815.1L1216.5 2816.4L1217.5 2815.1L1218.5 2815.7L1219.5 2815.6L1220.5 2815.7L1221.5 2815.7L1222.5 2816L1223.5 2815.6L1224.5 2815.2L1225.5 2815.5L1226.5 2815.5L1227.5 2815.6L1228.5 2815.9L1229.5 2815.2L1230.5 2815L1231.5 2814.3L1232.5 2815.5L1233.5 2815.1L1234.5 2815.6L1235.5 2814.7L1236.5 2815.1L1237.5 2814.8L1238.5 2814.7L1239.5 2814.6L1240.5 2815L1241.5 2814.8L1242.5 2815.5L1243.5 2815.3L1244.5 2815.4L1245.5 2814.9L1246.5 2815.3L1247.5 2815L1248.5 2814.4L1249.5 2814.6L1250.5 2815L1251.5 2815.3L1252.5 2814.5L1253.5 2815.9L1254.5 2815L1255.5 2814.7L1256.5 2815.1L1257.5 2814.9L1258.5 2815.1L1259.5 2814.3L1260.5 2815.3L1261.5 2815.2L1262.5 2816.2L1263.5 2815L1264.5 2815.3L1265.5 2815.8L1266.5 2814.8L1267.5 2815.5L1268.5 2815.3L1269.5 2814.9L1270.5 2814.8L1271.5 2816.2L1272.5 2815.2L1273.5 2815.5L1274.5 2815.4L1275.5 2814.3L1276.5 2815.2L1277.5 2815.1L1278.5 2815.9L1279.5 2815.7L1280.5 2814.7L1281.5 2815.3L1282.5 2814.2L1283.5 2815.4L1284.5 2815.2L1285.5 2815.8L1286.5 2815.8L1287.5 2814.9L1288.5 2815.6L1289.5 2815.3L1290.5 2815.4L1291.5 2815.4L1292.5 2815.4L1293.5 2816L1294.5 2815.3L1295.5 2816.6L1296.5 2814.5L1297.5 2815.3L1298.5 2815.4L1299.5 2815.2L1300.5 2814.6L1301.5 2814.9L1302.5 2816L1303.5 2815.2L1304.5 2818.3L1305.5 2815.8L1306.5 2817.6L1307.5 2815.3L1308.5 2816.7L1309.5 2816.5L1310.5 2816.9L1311.5 2816L1312.5 2824.1L1313.5 2816.4L1314.5 2820.1L1315.5 2816.9L1316.5 2819.5L1317.5 2816.7L1318.5 2821.5L1319.5 2817.4L1320.5 2822.3L1321.5 2816.1L1322.5 2819.9L1323.5 2816.4L1324.5 2823.8L1325.5 2818L1326.5 2826.2L1327.5 2818.5L1328.5 2821.1L1329.5 2817.8L1330.5 2819.4L1331.5 2816.4L1332.5 2832L1333.5 2815.7L1334.5 2822.2L1335.5 2818.3L1336.5 2832.6L1337.5 2817.2L1338.5 2822.6L1339.5 2816L1340.5 2820L1341.5 2817.7L1342.5 2818.4L1343.5 2816.5L1344.5 2819.5L1345.5 2817.8L1346.5 2823.4L1347.5 2816.8L1348.5 2822.4L1349.5 2816L1350.5 2831.1L1351.5 2817.9L1352.5 2820.6L1353.5 2816.2L1354.5 2823.4L1355.5 2816.1L1356.5 2825.8L1357.5 2816.7L1358.5 2822.4L1359.5 2816.7L1360.5 2819.9L1361.5 2816.8L1362.5 2823.6L1363.5 2814.4L1364.5 2824.5L1365.5 2815.3L1366.5 2821.7L1367.5 2814.3L1368.5 2817.1L1369.5 2813.3L1370.5 2815.9L1371.5 2813L1372.5 2818.5L1373.5 2814.3L1374.5 2816.5L1375.5 2812.6L1376.5 2819.7L1377.5 2811.5L1378.5 2816.2L1379.5 2807.2L1380.5 2817.9L1381.5 2810.7L1382.5 2821.5L1383.5 2810.7L1384.5 2816.8L1385.5 2809.3L1386.5 2820.1L1387.5 2809.2L1388.5 2813.6L1389.5 2810.6L1390.5 2816.8L1391.5 2810.1L1392.5 2813.6L1393.5 2808.7L1394.5 2813.4L1395.5 2809.6L1396.5 2812L1397.5 2808.5L1398.5 2811L1399.5 2807.9L1400.5 2816.1L1401.5 2808.7L1402.5 2813.4L1403.5 2809.6L1404.5 2814.7L1405.5 2809.4L1406.5 2816.8L1407.5 2809.2L1408.5 2821L1409.5 2808.7L1410.5 2817.3L1411.5 2809.4L1412.5 2814L1413.5 2809.9L1414.5 2814.8L1415.5 2810.8L1416.5 2816.8L1417.5 2809.6L1418.5 2826.1L1419.5 2810L1420.5 2816.7L1421.5 2811.8L1422.5 2813.7L1423.5 2813L1424.5 2815.5L1425.5 2811L1426.5 2816.3L1427.5 2813.9L1428.5 2817.7L1429.5 2812.4L1430.5 2817.5L1431.5 2813.2L1432.5 2819.4L1433.5 2813.7L1434.5 2822L1435.5 2815.5L1436.5 2819.2L1437.5 2816.2L1438.5 2821.7L1439.5 2818L1440.5 2822L1441.5 2818.7L1442.5 2823.1L1443.5 2821.2L1444.5 2823.5L1445.5 2823.2L1446.5 2826.2L1447.5 2826.9L1448.5 2827.6L1449.5 2829.4L1450.5 2831.5L1451.5 2833L1452.5 2837.8L1453.5 2841L1454.5 2844.8L1455.5 2850.2L1456.5 2855.7L1457.5 2859.9L1458.5 2864.9L1459.5 2869.3L1460.5 2873.7L1461.5 2878L1462.5 2884.2L1463.5 2889.4L1464.5 2896.7L1465.5 2904.1L1466.5 2912.9L1467.5 2923.7L1468.5 2935.3L1469.5 2947.2L1470.5 2959.7L1471.5 2972.6L1472.5 2986.6L1473.5 3001.4L1474.5 3015L1475.5 3030.2L1476.5 3045.7L1477.5 3061.9L1478.5 3077.4L1479.5 3092.6L1480.5 3107.5L1481.5 3122L1482.5 3137.8L1483.5 3154.7L1484.5 3169.6L1485.5 3182.7L1486.5 3195L1487.5 3205.2L1488.5 3214L1489.5 3224.4L1490.5 3233.4L1491.5 3241.3L1492.5 3247.7L1493.5 3251.1L1494.5 3254.1L1495.5 3252.4L1496.5 3246.3L1497.5 3238.2L1498.5 3227.7L1499.5 3216.5L1500.5 3205.6L1501.5 3194.3L1502.5 3183L1503.5 3167.9L1504.5 3152.4L1505.5 3139L1506.5 3126.2L1507.5 3113.5L1508.5 3104L1509.5 3092.9L1510.5 3083.4L1511.5 3074.7L1512.5 3067.1L1513.5 3062.3L1514.5 3057.3L1515.5 3052.5L1516.5 3047.8L1517.5 3044.9L1518.5 3042.8L1519.5 3041.5L1520.5 3043.9L1521.5 3047.5L1522.5 3053.8L1523.5 3060.4L1524.5 3068.5L1525.5 3076.9L1526.5 3084.2L1527.5 3093L1528.5 3103.4L1529.5 3114.9L1530.5 3125.8L1531.5 3136.1L1532.5 3145.6L1533.5 3154.2L1534.5 3161.3L1535.5 3169.3L1536.5 3176.6L1537.5 3182L1538.5 3189L1539.5 3193L1540.5 3196.4L1541.5 3200.4L1542.5 3203.1L1543.5 3205.8L1544.5 3208.1L1545.5 3209.2L1546.5 3208.6L1547.5 3205L1548.5 3197.6L1549.5 3188.7L1550.5 3178.9L1551.5 3167L1552.5 3155.2L1553.5 3144.7L1554.5 3131.1L1555.5 3115.1L1556.5 3098.4L1557.5 3082.7L1558.5 3066.7L1559.5 3053L1560.5 3040.7L1561.5 3028.1L1562.5 3016.6L1563.5 3004.9L1564.5 2995.6L1565.5 2985.3L1566.5 2976.4L1567.5 2967.7L1568.5 2960.7L1569.5 2952.6L1570.5 2947.3L1571.5 2942.5L1572.5 2937.8L1573.5 2934.1L1574.5 2932.3L1575.5 2933.5L1576.5 2937.3L1577.5 2943.3L1578.5 2949.5L1579.5 2958.5L1580.5 2966.1L1581.5 2973.4L1582.5 2982.3L1583.5 2993.2L1584.5 3002.3L1585.5 3010.1L1586.5 3017.1L1587.5 3020.3L1588.5 3019.9L1589.5 3016.3L1590.5 3011.6L1591.5 3005.5L1592.5 2999.6L1593.5 2993L1594.5 2986.5L1595.5 2981.6L1596.5 2979.1L1597.5 2974.7L1598.5 2969.6L1599.5 2967.1L1600.5 2963.5L1601.5 2959.6L1602.5 2958.3L1603.5 2957.6L1604.5 2956.7L1605.5 2958.9L1606.5 2961.1L1607.5 2964.4L1608.5 2966.3L1609.5 2969.1L1610.5 2971.2L1611.5 2972.6L1612.5 2974.9L1613.5 2978.2L1614.5 2980.5L1615.5 2982.5L1616.5 2983.6L1617.5 2984.1L1618.5 2983.8L1619.5 2984.5L1620.5 2980.5L1621.5 2978.1L1622.5 2974.3L1623.5 2969L1624.5 2965.1L1625.5 2960.7L1626.5 2956.2L1627.5 2951.5L1628.5 2947.9L1629.5 2944.1L1630.5 2940L1631.5 2935.4L1632.5 2929.2L1633.5 2925.9L1634.5 2922.1L1635.5 2918.7L1636.5 2916.1L1637.5 2913.3L1638.5 2911.8L1639.5 2912.7L1640.5 2914.7L1641.5 2918.1L1642.5 2922.7L1643.5 2927.6L1644.5 2932.9L1645.5 2939L1646.5 2944.2L1647.5 2947.8L1648.5 2953.5L1649.5 2955.2L1650.5 2956L1651.5 2955.1L1652.5 2953.4L1653.5 2950.4L1654.5 2947.9L1655.5 2943.7L1656.5 2940.4L1657.5 2935.9L1658.5 2933.9L1659.5 2931.2L1660.5 2929.7L1661.5 2927.9L1662.5 2926.4L1663.5 2924.6L1664.5 2923.3L1665.5 2922.2L1666.5 2920.6L1667.5 2918.9L1668.5 2918.7L1669.5 2918.1L1670.5 2918.5L1671.5 2917.6L1672.5 2917.1L1673.5 2917.9L1674.5 2919.1L1675.5 2921.3L1676.5 2922.2L1677.5 2923.4L1678.5 2925.2L1679.5 2928.1L1680.5 2929.9L1681.5 2932.4L1682.5 2934.4L1683.5 2937.1L1684.5 2940.3L1685.5 2942.6L1686.5 2944.8L1687.5 2947.8L1688.5 2952L1689.5 2955.9L1690.5 2961.6L1691.5 2966L1692.5 2971.9L1693.5 2976.9L1694.5 2982.6L1695.5 2987.9L1696.5 2992.5L1697.5 2997L1698.5 3000.8L1699.5 3003.5L1700.5 3007.1L1701.5 3009.5L1702.5 3010.5L1703.5 3010L1704.5 3008.3L1705.5 3002.3L1706.5 2996.9L1707.5 2988.4L1708.5 2979.2L1709.5 2969.6L1710.5 2960.2L1711.5 2949.1L1712.5 2940.8L1713.5 2932.2L1714.5 2925.1L1715.5 2920L1716.5 2915.2L1717.5 2911.2L1718.5 2907.2L1719.5 2903L1720.5 2898.5L1721.5 2895.2L1722.5 2890.8L1723.5 2887.5L1724.5 2884.8L1725.5 2881L1726.5 2878.8L1727.5 2876.8L1728.5 2875.2L1729.5 2873.5L1730.5 2871.5L1731.5 2872.3L1732.5 2871L1733.5 2871.4L1734.5 2870.5L1735.5 2870.6L1736.5 2869.7L1737.5 2871L1738.5 2869.9L1739.5 2870.6L1740.5 2870L1741.5 2869.8L1742.5 2868.5L1743.5 2868.6L1744.5 2869L1745.5 2868.2L1746.5 2867.2L1747.5 2866.3L1748.5 2863.7L1749.5 2861L1750.5 2858.4L1751.5 2855.1L1752.5 2852.5L1753.5 2849.4L1754.5 2845.9L1755.5 2842.9L1756.5 2840L1757.5 2837.4L1758.5 2835.2L1759.5 2832.8L1760.5 2831L1761.5 2829.9L1762.5 2829.7L1763.5 2829.8L1764.5 2830.9L1765.5 2831.7L1766.5 2833.4L1767.5 2836.2L1768.5 2837.6L1769.5 2839.7L1770.5 2842.8L1771.5 2845.8L1772.5 2848.9L1773.5 2852.1L1774.5 2855.1L1775.5 2857.9L1776.5 2859.9L1777.5 2863.7L1778.5 2865.1L1779.5 2867.3L1780.5 2869.2L1781.5 2870.7L1782.5 2871.4L1783.5 2871.2L1784.5 2872.3L1785.5 2871.3L1786.5 2871.3L1787.5 2871.6L1788.5 2871.6L1789.5 2871.5L1790.5 2871L1791.5 2870.9L1792.5 2870.7L1793.5 2870.7L1794.5 2870.9L1795.5 2870.8L1796.5 2870.7L1797.5 2870.4L1798.5 2868.7L1799.5 2869.1L1800.5 2868.7L1801.5 2869L1802.5 2868L1803.5 2868.3L1804.5 2868.4L1805.5 2867.2L1806.5 2867L1807.5 2867.1L1808.5 2865.8L1809.5 2865.6L1810.5 2865.8L1811.5 2864.8L1812.5 2864.7L1813.5 2862.7L1814.5 2861.9L1815.5 2860L1816.5 2857L1817.5 2855L1818.5 2852.3L1819.5 2850L1820.5 2846.5L1821.5 2843.8L1822.5 2840.2L1823.5 2838.6L1824.5 2835.3L1825.5 2832.3L1826.5 2829.4L1827.5 2827.4L1828.5 2824.6L1829.5 2823.6L1830.5 2821.2L1831.5 2821L1832.5 2821L1833.5 2821.8L1834.5 2821.5L1835.5 2821.6L1836.5 2822.2L1837.5 2821.6L1838.5 2822.2L1839.5 2822L1840.5 2822.7L1841.5 2822.8L1842.5 2822.2L1843.5 2823.6L1844.5 2824.9L1845.5 2824.2L1846.5 2825.4L1847.5 2826.4L1848.5 2826.2L1849.5 2827.1L1850.5 2827.4L1851.5 2827.9L1852.5 2829.4L1853.5 2829.6L1854.5 2830.4L1855.5 2832.5L1856.5 2834.3L1857.5 2836.3L1858.5 2838.8L1859.5 2839.2L1860.5 2840.3L1861.5 2840.3L1862.5 2840.7L1863.5 2841.5L1864.5 2841.6L1865.5 2841.6L1866.5 2842.1L1867.5 2841.5L1868.5 2841.7L1869.5 2842.2L1870.5 2842L1871.5 2840.9L1872.5 2842.5L1873.5 2842.8L1874.5 2842.3L1875.5 2841.8L1876.5 2843.3L1877.5 2843L1878.5 2843.1L1879.5 2843.4L1880.5 2843.5L1881.5 2843.4L1882.5 2843.9L1883.5 2844.8L1884.5 2845.1L1885.5 2846.1L1886.5 2847.6L1887.5 2848.4L1888.5 2849.8L1889.5 2850.9L1890.5 2853.2L1891.5 2854L1892.5 2855.2L1893.5 2856.9L1894.5 2859.3L1895.5 2860.9L1896.5 2862.7L1897.5 2864.4L1898.5 2866.2L1899.5 2868.1L1900.5 2868.8L1901.5 2870L1902.5 2871L1903.5 2873.1L1904.5 2872.4L1905.5 2874.6L1906.5 2876.4L1907.5 2875.9L1908.5 2877.1L1909.5 2878.4L1910.5 2879.6L1911.5 2880.5L1912.5 2880.8L1913.5 2882.1L1914.5 2883L1915.5 2883.7L1916.5 2885L1917.5 2885.7L1918.5 2887.1L1919.5 2888.4L1920.5 2890L1921.5 2890.9L1922.5 2892.6L1923.5 2894.4L1924.5 2895.8L1925.5 2897.9L1926.5 2899.6L1927.5 2901.9L1928.5 2903.7L1929.5 2906.1L1930.5 2907.9L1931.5 2910.2L1932.5 2912L1933.5 2914.3L1934.5 2918.2L1935.5 2920.7L1936.5 2922.4L1937.5 2925.4L1938.5 2926.7L1939.5 2930.6L1940.5 2932.9L1941.5 2935.2L1942.5 2938.8L1943.5 2941.7L1944.5 2943.8L1945.5 2946.8L1946.5 2949.5L1947.5 2951.7L1948.5 2954.5L1949.5 2956.9L1950.5 2960.1L1951.5 2963L1952.5 2965.6L1953.5 2968.2L1954.5 2971.3L1955.5 2974L1956.5 2976.6L1957.5 2979.3L1958.5 2982L1959.5 2984.7L1960.5 2988.7L1961.5 2990.8L1962.5 2994L1963.5 2997.3L1964.5 2999.3L1965.5 3002.8L1966.5 3006.3L1967.5 3008.9L1968.5 3012.3L1969.5 3015.4L1970.5 3018.1L1971.5 3021.5L1972.5 3024.4L1973.5 3026.7L1974.5 3030.1L1975.5 3032.8L1976.5 3034.9L1977.5 3037.1L1978.5 3040.3L1979.5 3042.9L1980.5 3044.4L1981.5 3046.8L1982.5 3050.2L1983.5 3052.9L1984.5 3055.3L1985.5 3058L1986.5 3060.4L1987.5 3063.1L1988.5 3066.6L1989.5 3067.7L1990.5 3070.5L1991.5 3073.7L1992.5 3075.8L1993.5 3077.6L1994.5 3079.3L1995.5 3081.2L1996.5 3082.7L1997.5 3083.7L1998.5 3084.3L1999.5 3085.1L2000.5 3087L2001.5 3085.4L2002.5 3086.6L2003.5 3084.7L2004.5 3084.3L2005.5 3083.5L2006.5 3081.8L2007.5 3081.1L2008.5 3079.9L2009.5 3077.6L2010.5 3076.2L2011.5 3074.2L2012.5 3073.2L2013.5 3070.7L2014.5 3069.2L2015.5 3066.9L2016.5 3062.9L2017.5 3058.7L2018.5 3053.1L2019.5 3048.8L2020.5 3042.4L2021.5 3036L2022.5 3030.5L2023.5 3024.9L2024.5 3019.8L2025.5 3015.2L2026.5 3011L2027.5 3008.6L2028.5 2992.1L2029.5 2981L2030.5 2992.1L2031.5 2973.8L2032.5 2982.5L2033.5 2965.1L2034.5 2976L2035.5 2941L2036.5 2966L2037.5 2975.4L2038.5 2960.7L2039.5 2981L2040.5 2953.8L2041.5 2983.3L2042.5 2926.7L2043.5 2984L2044.5 2919.8L2045.5 2948L2046.5 2945.3L2047.5 2944.7L2048.5 2947.2L2049.5 2950.5L2050.5 2951.1L2051.5 2932.7L2052.5 2952.9L2053.5 2952.8L2054.5 2958.5L2055.5 2959.2L2056.5 2963L2057.5 2964.3L2058.5 2962.1L2059.5 2932.5L2060.5 2962.3L2061.5 2961.8L2062.5 2959.7L2063.5 2993.7L2064.5 2951.6L2065.5 2946.7L2066.5 2912.2L2067.5 2932.3L2068.5 2958.2L2069.5 2960.3L2070.5 2915.2L2071.5 2946.3L2072.5 2903.8L2073.5 2858.7L2074.5 2901.6L2075.5 2934.3L2076.5 2902.2L2077.5 2959.1L2078.5 2902.1L2079.5 2901.4L2080.5 2903.1L2081.5 2903.4L2082.5 2899.8L2083.5 2903.4L2084.5 2905.5L2085.5 2907.1L2086.5 2954.9L2087.5 2913L2088.5 2983.1L2089 2979.5" fill="none" stroke="#0d0d0d" stroke-width="4.5" stroke-linejoin="round"/>
<path d="M257.5 2939L258.5 2939L259.5 2939L260.5 2939L261.5 2939L262.5 2939L263.5 2939L264.5 2939L265.5 2939L266.5 2939L267.5 2939L268.5 2939L269.5 2939L270.5 2939L271.5 2939L272.5 2939L273.5 2939L274.5 2939L275.5 2939L276.5 2939L277.5 2939L278.5 2939L279.5 2939L280.5 2939L281.5 2939L282.5 2939L283.5 2939L284.5 2939L285.5 2939L286.5 2939L287.5 2939L288.5 2939L289.5 2939L290.5 2939L291.5 2939L292.5 2939L293.5 2939L294.5 2939L295.5 2939L296.5 2939L297.5 2939L298.5 2939L299.5 2939L300.5 2939L301.5 2939L302.5 2939L303.5 2939L304.5 2939L305.5 2939L306.5 2939L307.5 2939L308.5 2939L309.5 2939L310.5 2939L311.5 2939L312.5 2939L313.5 2939L314.5 2939L315.5 2939L316.5 2939L317.5 2939L318.5 2939L319.5 2939L320.5 2939L321.5 2939L322.5 2939L323.5 2939L324.5 2939L325.5 2939L326.5 2939L327.5 2939L328.5 2939L329.5 2939L330.5 2939L331.5 2939L332.5 2939L333.5 2939L334.5 2939L335.5 2939L336.5 2939L337.5 2939L338.5 2939L339.5 2939L340.5 2939L341.5 2939L342.5 2939L343.5 2939L344.5 2939L345.5 2939L346.5 2939L347.5 2939L348.5 2939L349.5 2939L350.5 2939L351.5 2939L352.5 2939L353.5 2939L354.5 2939L355.5 2939L356.5 2939L357.5 2939L358.5 2939L359.5 2939L360.5 2939L361.5 2939L362.5 2939L363.5 2939L364.5 2939L365.5 2939L366.5 2939L367.5 2939L368.5 2939L369.5 2939L370.5 2939L371.5 2939L372.5 2939L373.5 2939L374.5 2939L375.5 2939L376.5 2939L377.5 2939L378.5 2939L379.5 2939L380.5 2939L381.5 2939L382.5 2939L383.5 2939L384.5 2939L385.5 2939L386.5 2939L387.5 2939L388.5 2939L389.5 2939L390.5 2939L391.5 2939L392.5 2939L393.5 2939L394.5 2939L395.5 2939L396.5 2939L397.5 2939L398.5 2939L399.5 2939L400.5 2939L401.5 2939L402.5 2939.1L403.5 2939.1L404.5 2939.2L405.5 2939.3L406.5 2939.4L407.5 2939.6L408.5 2939.7L409.5 2939.9L410.5 2940.1L411.5 2940.3L412.5 2940.5L413.5 2940.7L414.5 2941L415.5 2941.2L416.5 2941.5L417.5 2941.7L418.5 2942L419.5 2942.3L420.5 2942.6L421.5 2942.9L422.5 2943.2L423.5 2943.5L424.5 2943.8L425.5 2944.2L426.5 2944.6L427.5 2945L428.5 2945.5L429.5 2946.1L430.5 2946.8L431.5 2947.5L432.5 2948.2L433.5 2949L434.5 2949.9L435.5 2950.8L436.5 2951.7L437.5 2952.7L438.5 2953.7L439.5 2954.7L440.5 2955.8L441.5 2957L442.5 2958.1L443.5 2959.3L444.5 2960.5L445.5 2961.7L446.5 2962.9L447.5 2964.2L448.5 2965.4L449.5 2966.7L450.5 2968L451.5 2969.2L452.5 2970.5L453.5 2971.8L454.5 2973.1L455.5 2974.4L456.5 2975.6L457.5 2976.9L458.5 2978.2L459.5 2979.4L460.5 2980.6L461.5 2981.9L462.5 2983.1L463.5 2984.4L464.5 2985.8L465.5 2987.1L466.5 2988.5L467.5 2989.9L468.5 2991.4L469.5 2992.8L470.5 2994.3L471.5 2995.8L472.5 2997.3L473.5 2998.8L474.5 3000.4L475.5 3001.9L476.5 3003.5L477.5 3005.1L478.5 3006.7L479.5 3008.2L480.5 3009.8L481.5 3011.4L482.5 3013L483.5 3014.6L484.5 3016.2L485.5 3017.8L486.5 3019.4L487.5 3021L488.5 3022.6L489.5 3024.2L490.5 3025.8L491.5 3027.3L492.5 3028.9L493.5 3030.4L494.5 3031.9L495.5 3033.4L496.5 3034.9L497.5 3036.4L498.5 3037.9L499.5 3039.3L500.5 3040.7L501.5 3042.1L502.5 3043.5L503.5 3045L504.5 3046.4L505.5 3047.8L506.5 3049.2L507.5 3050.6L508.5 3052.1L509.5 3053.5L510.5 3054.9L511.5 3056.3L512.5 3057.7L513.5 3059.1L514.5 3060.5L515.5 3061.8L516.5 3063.2L517.5 3064.6L518.5 3065.9L519.5 3067.2L520.5 3068.5L521.5 3069.8L522.5 3071.1L523.5 3072.3L524.5 3073.6L525.5 3074.8L526.5 3076L527.5 3077.2L528.5 3078.3L529.5 3079.4L530.5 3080.5L531.5 3081.6L532.5 3082.7L533.5 3083.8L534.5 3084.9L535.5 3085.9L536.5 3087L537.5 3088L538.5 3089.1L539.5 3090.1L540.5 3091.1L541.5 3092.1L542.5 3093.1L543.5 3094.1L544.5 3095L545.5 3096L546.5 3097L547.5 3097.9L548.5 3098.8L549.5 3099.8L550.5 3100.7L551.5 3101.6L552.5 3102.5L553.5 3103.3L554.5 3104.2L555.5 3105.1L556.5 3105.9L557.5 3106.7L558.5 3107.5L559.5 3108.3L560.5 3109.1L561.5 3109.9L562.5 3110.7L563.5 3111.4L564.5 3112.1L565.5 3112.9L566.5 3113.5L567.5 3114.2L568.5 3114.8L569.5 3115.5L570.5 3116.1L571.5 3116.6L572.5 3117.2L573.5 3117.7L574.5 3118.3L575.5 3118.8L576.5 3119.3L577.5 3119.9L578.5 3120.4L579.5 3120.9L580.5 3121.5L581.5 3122L582.5 3122.6L583.5 3123.2L584.5 3123.8L585.5 3124.4L586.5 3125L587.5 3125.7L588.5 3126.4L589.5 3127.1L590.5 3127.9L591.5 3128.8L592.5 3129.7L593.5 3130.8L594.5 3131.9L595.5 3133.1L596.5 3134.3L597.5 3135.6L598.5 3137L599.5 3138.3L600.5 3139.8L601.5 3141.2L602.5 3142.7L603.5 3144.1L604.5 3145.6L605.5 3147L606.5 3148.4L607.5 3149.9L608.5 3151.2L609.5 3152.6L610.5 3153.8L611.5 3155.1L612.5 3156.2L613.5 3157.3L614.5 3158.3L615.5 3159.2L616.5 3160L617.5 3160.8L618.5 3161.4L619.5 3161.9L620.5 3162.2L621.5 3162.4L622.5 3162.5L623.5 3162.5L624.5 3162.3L625.5 3162.2L626.5 3161.9L627.5 3161.6L628.5 3161.2L629.5 3160.7L630.5 3160.3L631.5 3159.7L632.5 3159.1L633.5 3158.5L634.5 3157.8L635.5 3157.1L636.5 3156.3L637.5 3155.6L638.5 3154.8L639.5 3153.9L640.5 3153.1L641.5 3152.3L642.5 3151.4L643.5 3150.5L644.5 3149.7L645.5 3148.8L646.5 3147.9L647.5 3147.1L648.5 3146.2L649.5 3145.4L650.5 3144.6L651.5 3143.8L652.5 3142.9L653.5 3142L654.5 3141.1L655.5 3140.1L656.5 3139.1L657.5 3138.1L658.5 3137.1L659.5 3136.1L660.5 3135L661.5 3133.9L662.5 3132.8L663.5 3131.7L664.5 3130.5L665.5 3129.4L666.5 3128.2L667.5 3127L668.5 3125.8L669.5 3124.6L670.5 3123.4L671.5 3122.1L672.5 3120.9L673.5 3119.6L674.5 3118.4L675.5 3117.1L676.5 3115.9L677.5 3114.6L678.5 3113.3L679.5 3112L680.5 3110.7L681.5 3109.5L682.5 3108.2L683.5 3106.9L684.5 3105.6L685.5 3104.4L686.5 3103L687.5 3101.5L688.5 3100L689.5 3098.4L690.5 3096.7L691.5 3095L692.5 3093.2L693.5 3091.4L694.5 3089.5L695.5 3087.7L696.5 3085.8L697.5 3083.9L698.5 3082L699.5 3080L700.5 3078.2L701.5 3076.3L702.5 3074.4L703.5 3072.6L704.5 3070.9L705.5 3069.2L706.5 3067.5L707.5 3065.9L708.5 3064.4L709.5 3063L710.5 3061.7L711.5 3060.4L712.5 3059.3L713.5 3058.3L714.5 3057.4L715.5 3056.6L716.5 3056L717.5 3055.5L718.5 3055.2L719.5 3055L720.5 3055L721.5 3055L722.5 3055.1L723.5 3055.2L724.5 3055.3L725.5 3055.5L726.5 3055.6L727.5 3055.8L728.5 3056L729.5 3056.2L730.5 3056.3L731.5 3056.5L732.5 3056.7L733.5 3056.9L734.5 3057L735.5 3057.2L736.5 3057.3L737.5 3057.4L738.5 3057.5L739.5 3057.5L740.5 3057.5L741.5 3057.3L742.5 3056.9L743.5 3056.4L744.5 3055.7L745.5 3054.8L746.5 3053.9L747.5 3052.8L748.5 3051.6L749.5 3050.3L750.5 3048.9L751.5 3047.4L752.5 3045.8L753.5 3044.2L754.5 3042.6L755.5 3040.9L756.5 3039.2L757.5 3037.5L758.5 3035.8L759.5 3034.1L760.5 3032.4L761.5 3030.8L762.5 3029.2L763.5 3027.6L764.5 3026.1L765.5 3024.7L766.5 3023.4L767.5 3022.2L768.5 3021.1L769.5 3020.2L770.5 3019.3L771.5 3018.6L772.5 3018.1L773.5 3017.7L774.5 3017.5L775.5 3017.5L776.5 3017.6L777.5 3017.7L778.5 3017.8L779.5 3018L780.5 3018.3L781.5 3018.5L782.5 3018.8L783.5 3019.1L784.5 3019.5L785.5 3019.9L786.5 3020.3L787.5 3020.7L788.5 3021.1L789.5 3021.5L790.5 3021.9L791.5 3022.3L792.5 3022.7L793.5 3023.1L794.5 3023.4L795.5 3023.8L796.5 3024.1L797.5 3024.4L798.5 3024.7L799.5 3024.9L800.5 3025.1L801.5 3025.3L802.5 3025.5L803.5 3025.7L804.5 3025.9L805.5 3026.1L806.5 3026.3L807.5 3026.4L808.5 3026.6L809.5 3026.8L810.5 3026.9L811.5 3027.1L812.5 3027.2L813.5 3027.3L814.5 3027.4L815.5 3027.4L816.5 3027.5L817.5 3027.5L818.5 3027.3L819.5 3026.8L820.5 3025.9L821.5 3024.8L822.5 3023.4L823.5 3021.8L824.5 3020.1L825.5 3018.2L826.5 3016.3L827.5 3014.3L828.5 3012.4L829.5 3010.5L830.5 3008.6L831.5 3006.9L832.5 3005.4L833.5 3004L834.5 3002.9L835.5 3002.1L836.5 3001.3L837.5 3000.5L838.5 2999.8L839.5 2999.1L840.5 2998.4L841.5 2997.7L842.5 2997.1L843.5 2996.4L844.5 2995.8L845.5 2995.2L846.5 2994.7L847.5 2994.1L848.5 2993.6L849.5 2993L850.5 2992.5L851.5 2992L852.5 2991.5L853.5 2991L854.5 2990.6L855.5 2990.1L856.5 2989.7L857.5 2989.2L858.5 2988.8L859.5 2988.3L860.5 2987.9L861.5 2987.5L862.5 2987.1L863.5 2986.7L864.5 2986.3L865.5 2985.9L866.5 2985.4L867.5 2985L868.5 2984.6L869.5 2984.2L870.5 2983.8L871.5 2983.4L872.5 2982.9L873.5 2982.5L874.5 2982.1L875.5 2981.7L876.5 2981.2L877.5 2980.8L878.5 2980.3L879.5 2979.9L880.5 2979.4L881.5 2979L882.5 2978.6L883.5 2978.1L884.5 2977.7L885.5 2977.2L886.5 2976.8L887.5 2976.3L888.5 2975.9L889.5 2975.4L890.5 2975L891.5 2974.5L892.5 2974.1L893.5 2973.6L894.5 2973.2L895.5 2972.8L896.5 2972.3L897.5 2971.9L898.5 2971.5L899.5 2971.1L900.5 2970.7L901.5 2970.3L902.5 2969.8L903.5 2969.4L904.5 2969.1L905.5 2968.7L906.5 2968.3L907.5 2967.9L908.5 2967.5L909.5 2967.2L910.5 2966.8L911.5 2966.5L912.5 2966.1L913.5 2965.8L914.5 2965.5L915.5 2965.2L916.5 2964.9L917.5 2964.6L918.5 2964.3L919.5 2964L920.5 2963.7L921.5 2963.5L922.5 2963.2L923.5 2963L924.5 2962.8L925.5 2962.6L926.5 2962.4L927.5 2962.2L928.5 2962L929.5 2961.8L930.5 2961.7L931.5 2961.6L932.5 2961.4L933.5 2961.3L934.5 2961.2L935.5 2961.2L936.5 2961.1L937.5 2961.1L938.5 2961L939.5 2961L940.5 2961L941.5 2961.1L942.5 2961.2L943.5 2961.4L944.5 2961.6L945.5 2961.9L946.5 2962.1L947.5 2962.3L948.5 2962.4L949.5 2962.5L950.5 2962.5L951.5 2962.5L952.5 2962.5L953.5 2962.5L954.5 2962.5L955.5 2962.4L956.5 2962.4L957.5 2962.4L958.5 2962.4L959.5 2962.3L960.5 2962.3L961.5 2962.3L962.5 2962.2L963.5 2962.2L964.5 2962.2L965.5 2962.1L966.5 2962.1L967.5 2962L968.5 2962L969.5 2961.9L970.5 2961.8L971.5 2961.8L972.5 2961.7L973.5 2961.7L974.5 2961.6L975.5 2961.5L976.5 2961.4L977.5 2961.4L978.5 2961.3L979.5 2961.2L980.5 2961.1L981.5 2961.1L982.5 2961L983.5 2960.9L984.5 2960.8L985.5 2960.7L986.5 2960.6L987.5 2960.5L988.5 2960.5L989.5 2960.4L990.5 2960.3L991.5 2960.2L992.5 2960.1L993.5 2960L994.5 2959.9L995.5 2959.8L996.5 2959.7L997.5 2959.6L998.5 2959.5L999.5 2959.4L1000.5 2959.3L1001.5 2959.2L1002.5 2959.1L1003.5 2959L1004.5 2958.9L1005.5 2958.8L1006.5 2958.7L1007.5 2958.6L1008.5 2958.5L1009.5 2958.4L1010.5 2958.3L1011.5 2958.2L1012.5 2958.1L1013.5 2958L1014.5 2957.9L1015.5 2957.8L1016.5 2957.7L1017.5 2957.6L1018.5 2957.5L1019.5 2957.4L1020.5 2957.3L1021.5 2957.2L1022.5 2957.1L1023.5 2957L1024.5 2956.9L1025.5 2956.8L1026.5 2956.7L1027.5 2956.6L1028.5 2956.5L1029.5 2956.4L1030.5 2956.3L1031.5 2956.3L1032.5 2956.2L1033.5 2956.1L1034.5 2956L1035.5 2955.9L1036.5 2955.9L1037.5 2955.8L1038.5 2955.7L1039.5 2955.6L1040.5 2955.6L1041.5 2955.5L1042.5 2955.4L1043.5 2955.4L1044.5 2955.3L1045.5 2955.2L1046.5 2955.2L1047.5 2955.1L1048.5 2955.1L1049.5 2955L1050.5 2955L1051.5 2954.9L1052.5 2954.9L1053.5 2954.8L1054.5 2954.8L1055.5 2954.7L1056.5 2954.7L1057.5 2954.7L1058.5 2954.6L1059.5 2954.6L1060.5 2954.5L1061.5 2954.5L1062.5 2954.4L1063.5 2954.4L1064.5 2954.3L1065.5 2954.3L1066.5 2954.3L1067.5 2954.2L1068.5 2954.2L1069.5 2954.1L1070.5 2954.1L1071.5 2954.1L1072.5 2954L1073.5 2954L1074.5 2953.9L1075.5 2953.9L1076.5 2953.9L1077.5 2953.8L1078.5 2953.8L1079.5 2953.7L1080.5 2953.7L1081.5 2953.7L1082.5 2953.6L1083.5 2953.6L1084.5 2953.5L1085.5 2953.5L1086.5 2953.5L1087.5 2953.4L1088.5 2953.4L1089.5 2953.4L1090.5 2953.3L1091.5 2953.3L1092.5 2953.2L1093.5 2953.2L1094.5 2953.2L1095.5 2953.1L1096.5 2953.1L1097.5 2953.1L1098.5 2953L1099.5 2953L1100.5 2953L1101.5 2952.9L1102.5 2952.9L1103.5 2952.9L1104.5 2952.8L1105.5 2952.8L1106.5 2952.8L1107.5 2952.7L1108.5 2952.7L1109.5 2952.7L1110.5 2952.6L1111.5 2952.6L1112.5 2952.6L1113.5 2952.5L1114.5 2952.5L1115.5 2952.5L1116.5 2952.4L1117.5 2952.4L1118.5 2952.4L1119.5 2952.3L1120.5 2952.3L1121.5 2952.3L1122.5 2952.2L1123.5 2952.2L1124.5 2952.2L1125.5 2952.2L1126.5 2952.1L1127.5 2952.1L1128.5 2952.1L1129.5 2952L1130.5 2952L1131.5 2952L1132.5 2951.9L1133.5 2951.9L1134.5 2951.9L1135.5 2951.9L1136.5 2951.8L1137.5 2951.8L1138.5 2951.8L1139.5 2951.7L1140.5 2951.7L1141.5 2951.7L1142.5 2951.6L1143.5 2951.6L1144.5 2951.6L1145.5 2951.6L1146.5 2951.5L1147.5 2951.5L1148.5 2951.5L1149.5 2951.4L1150.5 2951.4L1151.5 2951.4L1152.5 2951.4L1153.5 2951.3L1154.5 2951.3L1155.5 2951.3L1156.5 2951.2L1157.5 2951.2L1158.5 2951.2L1159.5 2951.2L1160.5 2951.1L1161.5 2951.1L1162.5 2951.1L1163.5 2951L1164.5 2951L1165.5 2951L1166.5 2951L1167.5 2950.9L1168.5 2950.9L1169.5 2950.9L1170.5 2950.8L1171.5 2950.8L1172.5 2950.8L1173.5 2950.8L1174.5 2950.7L1175.5 2950.7L1176.5 2950.7L1177.5 2950.6L1178.5 2950.6L1179.5 2950.6L1180.5 2950.6L1181.5 2950.5L1182.5 2950.5L1183.5 2950.5L1184.5 2950.5L1185.5 2950.4L1186.5 2950.4L1187.5 2950.4L1188.5 2950.3L1189.5 2950.3L1190.5 2950.3L1191.5 2950.2L1192.5 2950.2L1193.5 2950.2L1194.5 2950.2L1195.5 2950.1L1196.5 2950.1L1197.5 2950.1L1198.5 2950L1199.5 2950L1200.5 2950L1201.5 2950L1202.5 2949.9L1203.5 2949.9L1204.5 2949.9L1205.5 2949.8L1206.5 2949.8L1207.5 2949.8L1208.5 2949.7L1209.5 2949.7L1210.5 2949.7L1211.5 2949.6L1212.5 2949.6L1213.5 2949.6L1214.5 2949.5L1215.5 2949.5L1216.5 2949.5L1217.5 2949.4L1218.5 2949.4L1219.5 2949.4L1220.5 2949.3L1221.5 2949.3L1222.5 2949.3L1223.5 2949.2L1224.5 2949.2L1225.5 2949.2L1226.5 2949.1L1227.5 2949.1L1228.5 2949.1L1229.5 2949L1230.5 2949L1231.5 2949L1232.5 2948.9L1233.5 2948.9L1234.5 2948.9L1235.5 2948.8L1236.5 2948.8L1237.5 2948.8L1238.5 2948.7L1239.5 2948.7L1240.5 2948.6L1241.5 2948.6L1242.5 2948.6L1243.5 2948.5L1244.5 2948.5L1245.5 2948.5L1246.5 2948.4L1247.5 2948.4L1248.5 2948.4L1249.5 2948.3L1250.5 2948.3L1251.5 2948.3L1252.5 2948.2L1253.5 2948.2L1254.5 2948.1L1255.5 2948.1L1256.5 2948.1L1257.5 2948L1258.5 2948L1259.5 2948L1260.5 2947.9L1261.5 2947.9L1262.5 2947.9L1263.5 2947.8L1264.5 2947.8L1265.5 2947.8L1266.5 2947.7L1267.5 2947.7L1268.5 2947.7L1269.5 2947.6L1270.5 2947.6L1271.5 2947.6L1272.5 2947.5L1273.5 2947.5L1274.5 2947.5L1275.5 2947.4L1276.5 2947.4L1277.5 2947.4L1278.5 2947.3L1279.5 2947.3L1280.5 2947.3L1281.5 2947.2L1282.5 2947.2L1283.5 2947.2L1284.5 2947.1L1285.5 2947.1L1286.5 2947.1L1287.5 2947.1L1288.5 2947L1289.5 2947L1290.5 2947L1291.5 2946.9L1292.5 2946.9L1293.5 2946.9L1294.5 2946.9L1295.5 2946.8L1296.5 2946.8L1297.5 2946.8L1298.5 2946.7L1299.5 2946.7L1300.5 2946.7L1301.5 2946.7L1302.5 2946.6L1303.5 2946.6L1304.5 2946.6L1305.5 2946.6L1306.5 2946.5L1307.5 2946.5L1308.5 2946.5L1309.5 2946.5L1310.5 2946.5L1311.5 2946.4L1312.5 2946.4L1313.5 2946.4L1314.5 2946.4L1315.5 2946.4L1316.5 2946.3L1317.5 2946.3L1318.5 2946.3L1319.5 2946.3L1320.5 2946.3L1321.5 2946.2L1322.5 2946.2L1323.5 2946.2L1324.5 2946.2L1325.5 2946.2L1326.5 2946.2L1327.5 2946.2L1328.5 2946.1L1329.5 2946.1L1330.5 2946.1L1331.5 2946.1L1332.5 2946.1L1333.5 2946.1L1334.5 2946.1L1335.5 2946.1L1336.5 2946.1L1337.5 2946.1L1338.5 2946L1339.5 2946L1340.5 2946L1341.5 2946L1342.5 2946L1343.5 2946L1344.5 2946L1345.5 2946L1346.5 2946L1347.5 2946L1348.5 2946L1349.5 2946L1350.5 2946L1351.5 2946L1352.5 2946L1353.5 2946L1354.5 2946L1355.5 2946L1356.5 2946L1357.5 2946L1358.5 2946L1359.5 2946.1L1360.5 2946.1L1361.5 2946.1L1362.5 2946.1L1363.5 2946.1L1364.5 2946.1L1365.5 2946.2L1366.5 2946.2L1367.5 2946.2L1368.5 2946.2L1369.5 2946.2L1370.5 2946.3L1371.5 2946.3L1372.5 2946.3L1373.5 2946.4L1374.5 2946.4L1375.5 2946.4L1376.5 2946.5L1377.5 2946.5L1378.5 2946.5L1379.5 2946.6L1380.5 2946.6L1381.5 2946.7L1382.5 2946.7L1383.5 2946.8L1384.5 2946.8L1385.5 2946.9L1386.5 2946.9L1387.5 2947L1388.5 2947L1389.5 2947.1L1390.5 2947.2L1391.5 2947.2L1392.5 2947.3L1393.5 2947.4L1394.5 2947.4L1395.5 2947.5L1396.5 2947.6L1397.5 2947.7L1398.5 2947.7L1399.5 2947.8L1400.5 2947.9L1401.5 2948L1402.5 2948.1L1403.5 2948.2L1404.5 2948.3L1405.5 2948.4L1406.5 2948.5L1407.5 2948.6L1408.5 2948.7L1409.5 2948.8L1410.5 2948.9L1411.5 2949L1412.5 2949.1L1413.5 2949.2L1414.5 2949.3L1415.5 2949.4L1416.5 2949.6L1417.5 2949.7L1418.5 2949.8L1419.5 2949.9L1420.5 2950.1L1421.5 2950.4L1422.5 2950.9L1423.5 2951.6L1424.5 2952.5L1425.5 2953.4L1426.5 2954.5L1427.5 2955.8L1428.5 2957.1L1429.5 2958.5L1430.5 2960L1431.5 2961.5L1432.5 2963.1L1433.5 2964.7L1434.5 2966.4L1435.5 2968L1436.5 2969.6L1437.5 2971.2L1438.5 2972.8L1439.5 2974.3L1440.5 2975.7L1441.5 2977.1L1442.5 2978.5L1443.5 2979.8L1444.5 2981.1L1445.5 2982.5L1446.5 2983.9L1447.5 2985.3L1448.5 2986.9L1449.5 2988.5L1450.5 2990.3L1451.5 2992.1L1452.5 2994.2L1453.5 2996.4L1454.5 2998.7L1455.5 3001.4L1456.5 3004.7L1457.5 3008.6L1458.5 3013.1L1459.5 3018.1L1460.5 3023.5L1461.5 3029.1L1462.5 3035L1463.5 3041L1464.5 3047L1465.5 3053L1466.5 3059.4L1467.5 3066.1L1468.5 3073.2L1469.5 3080.5L1470.5 3088.1L1471.5 3096L1472.5 3104L1473.5 3112.3L1474.5 3120.7L1475.5 3129.4L1476.5 3138.5L1477.5 3148L1478.5 3157.9L1479.5 3168.1L1480.5 3178.4L1481.5 3188.9L1482.5 3199.3L1483.5 3209.7L1484.5 3220L1485.5 3230.1L1486.5 3240.7L1487.5 3251.5L1488.5 3262.3L1489.5 3272.8L1490.5 3282.5L1491.5 3291.2L1492.5 3298.8L1493.5 3306.7L1494.5 3314.4L1495.5 3321.2L1496.5 3326.3L1497.5 3328.8L1498.5 3328.4L1499.5 3325.7L1500.5 3321.2L1501.5 3315.4L1502.5 3308.5L1503.5 3301.2L1504.5 3293.7L1505.5 3286.2L1506.5 3277.2L1507.5 3266.7L1508.5 3255.2L1509.5 3242.8L1510.5 3230L1511.5 3217L1512.5 3204.2L1513.5 3191.9L1514.5 3180.3L1515.5 3169.5L1516.5 3157.5L1517.5 3144.7L1518.5 3132.5L1519.5 3121.7L1520.5 3113.7L1521.5 3109.4L1522.5 3109.3L1523.5 3111.1L1524.5 3114.2L1525.5 3118.1L1526.5 3122.6L1527.5 3127.8L1528.5 3135.9L1529.5 3146.2L1530.5 3157.7L1531.5 3169.4L1532.5 3180L1533.5 3190.9L1534.5 3203.3L1535.5 3216L1536.5 3227.8L1537.5 3237.7L1538.5 3244.5L1539.5 3247L1540.5 3245.8L1541.5 3242.8L1542.5 3238.3L1543.5 3233.1L1544.5 3227.6L1545.5 3222.3L1546.5 3215.9L1547.5 3208.7L1548.5 3201.2L1549.5 3193.6L1550.5 3186.4L1551.5 3179.1L1552.5 3171.6L1553.5 3164L1554.5 3156.3L1555.5 3148.7L1556.5 3141.1L1557.5 3133.6L1558.5 3126.3L1559.5 3119.2L1560.5 3112.4L1561.5 3106L1562.5 3100L1563.5 3094L1564.5 3087.6L1565.5 3081.1L1566.5 3074.6L1567.5 3068.4L1568.5 3062.6L1569.5 3057.5L1570.5 3053.3L1571.5 3050.2L1572.5 3048.4L1573.5 3048.1L1574.5 3049.7L1575.5 3052.9L1576.5 3057.5L1577.5 3063L1578.5 3069.1L1579.5 3075.4L1580.5 3081.6L1581.5 3087.4L1582.5 3092.6L1583.5 3098.6L1584.5 3105.3L1585.5 3112.1L1586.5 3118.8L1587.5 3125L1588.5 3130.1L1589.5 3133.9L1590.5 3135.8L1591.5 3135.6L1592.5 3133.1L1593.5 3129L1594.5 3123.7L1595.5 3117.6L1596.5 3111.3L1597.5 3105.4L1598.5 3100.2L1599.5 3096.3L1600.5 3093.9L1601.5 3091.9L1602.5 3089.9L1603.5 3088.1L1604.5 3086.7L1605.5 3085.6L1606.5 3085.1L1607.5 3085.1L1608.5 3085.8L1609.5 3087L1610.5 3088.5L1611.5 3090L1612.5 3091.2L1613.5 3091.9L1614.5 3091.8L1615.5 3090.6L1616.5 3088.5L1617.5 3085.9L1618.5 3083.2L1619.5 3080.9L1620.5 3079.2L1621.5 3078.7L1622.5 3079L1623.5 3079.6L1624.5 3080.6L1625.5 3081.6L1626.5 3082.7L1627.5 3083.7L1628.5 3084.5L1629.5 3084.9L1630.5 3084.9L1631.5 3084L1632.5 3082.3L1633.5 3080.2L1634.5 3077.8L1635.5 3075.2L1636.5 3072.8L1637.5 3070.7L1638.5 3069L1639.5 3068.1L1640.5 3068.3L1641.5 3070.1L1642.5 3073.5L1643.5 3078L1644.5 3083.2L1645.5 3088.7L1646.5 3094.1L1647.5 3098.9L1648.5 3102.9L1649.5 3105.6L1650.5 3106.6L1651.5 3106.3L1652.5 3105.5L1653.5 3104.1L1654.5 3102.4L1655.5 3100.3L1656.5 3098L1657.5 3095.5L1658.5 3092.8L1659.5 3090.1L1660.5 3087.4L1661.5 3084.8L1662.5 3082.4L1663.5 3080.2L1664.5 3078.3L1665.5 3076.8L1666.5 3075.7L1667.5 3075.1L1668.5 3075L1669.5 3075.4L1670.5 3076L1671.5 3076.9L1672.5 3078.1L1673.5 3079.6L1674.5 3081.2L1675.5 3083L1676.5 3085L1677.5 3087.2L1678.5 3089.4L1679.5 3091.8L1680.5 3094.2L1681.5 3096.7L1682.5 3099.2L1683.5 3101.7L1684.5 3104.2L1685.5 3106.6L1686.5 3109.3L1687.5 3112.6L1688.5 3116.4L1689.5 3120.6L1690.5 3125.1L1691.5 3129.9L1692.5 3134.7L1693.5 3139.6L1694.5 3144.4L1695.5 3149L1696.5 3153.4L1697.5 3157.5L1698.5 3161.2L1699.5 3164.3L1700.5 3166.8L1701.5 3168.5L1702.5 3169.5L1703.5 3169.5L1704.5 3167.1L1705.5 3162.6L1706.5 3156.4L1707.5 3148.9L1708.5 3140.7L1709.5 3132.1L1710.5 3123.6L1711.5 3115.8L1712.5 3109L1713.5 3103.7L1714.5 3100.5L1715.5 3099.6L1716.5 3101L1717.5 3103.5L1718.5 3106.5L1719.5 3108.9L1720.5 3110.1L1721.5 3109.7L1722.5 3108.2L1723.5 3105.9L1724.5 3102.9L1725.5 3099.4L1726.5 3095.5L1727.5 3091.3L1728.5 3087.1L1729.5 3082.9L1730.5 3078.9L1731.5 3075.3L1732.5 3072.2L1733.5 3069.7L1734.5 3068.1L1735.5 3067.1L1736.5 3066.3L1737.5 3065.7L1738.5 3065.1L1739.5 3064.6L1740.5 3064.1L1741.5 3063.6L1742.5 3063L1743.5 3062.4L1744.5 3061.6L1745.5 3060.5L1746.5 3059L1747.5 3056.9L1748.5 3054.4L1749.5 3051.5L1750.5 3048.5L1751.5 3045.4L1752.5 3042.3L1753.5 3039.2L1754.5 3036.4L1755.5 3034L1756.5 3032L1757.5 3030.5L1758.5 3029.6L1759.5 3029.5L1760.5 3029.6L1761.5 3029.8L1762.5 3030L1763.5 3030.3L1764.5 3030.7L1765.5 3031.2L1766.5 3031.7L1767.5 3032.3L1768.5 3033L1769.5 3033.7L1770.5 3034.4L1771.5 3035.2L1772.5 3036L1773.5 3036.9L1774.5 3038.6L1775.5 3040.9L1776.5 3043.9L1777.5 3047.2L1778.5 3050.8L1779.5 3054.5L1780.5 3058L1781.5 3061.2L1782.5 3064L1783.5 3066.2L1784.5 3067.6L1785.5 3068L1786.5 3067.8L1787.5 3067.3L1788.5 3066.6L1789.5 3065.7L1790.5 3064.6L1791.5 3063.4L1792.5 3062.1L1793.5 3060.7L1794.5 3059.4L1795.5 3058.2L1796.5 3057L1797.5 3055.9L1798.5 3055.1L1799.5 3054.5L1800.5 3054.1L1801.5 3054L1802.5 3054.7L1803.5 3055.9L1804.5 3057.7L1805.5 3059.8L1806.5 3062L1807.5 3064.2L1808.5 3066.3L1809.5 3068L1810.5 3069.2L1811.5 3069.8L1812.5 3069.6L1813.5 3068.9L1814.5 3067.6L1815.5 3065.9L1816.5 3063.8L1817.5 3061.3L1818.5 3058.6L1819.5 3055.6L1820.5 3052.5L1821.5 3049.3L1822.5 3046.1L1823.5 3042.8L1824.5 3039.7L1825.5 3036.7L1826.5 3033.9L1827.5 3031.3L1828.5 3029L1829.5 3027.1L1830.5 3025.7L1831.5 3024.7L1832.5 3024.3L1833.5 3024.3L1834.5 3024.5L1835.5 3024.7L1836.5 3025L1837.5 3025.4L1838.5 3025.8L1839.5 3026.3L1840.5 3026.8L1841.5 3027.4L1842.5 3028L1843.5 3028.6L1844.5 3029.3L1845.5 3029.9L1846.5 3030.5L1847.5 3031.2L1848.5 3031.8L1849.5 3032.3L1850.5 3032.9L1851.5 3033.4L1852.5 3033.8L1853.5 3034.2L1854.5 3034.4L1855.5 3034.7L1856.5 3034.8L1857.5 3034.8L1858.5 3034.8L1859.5 3034.8L1860.5 3034.7L1861.5 3034.7L1862.5 3034.6L1863.5 3034.5L1864.5 3034.4L1865.5 3034.3L1866.5 3034.2L1867.5 3034.1L1868.5 3034L1869.5 3033.9L1870.5 3033.8L1871.5 3033.7L1872.5 3033.6L1873.5 3033.5L1874.5 3033.4L1875.5 3033.3L1876.5 3033.2L1877.5 3033.1L1878.5 3033.1L1879.5 3033L1880.5 3033L1881.5 3033L1882.5 3033L1883.5 3033.1L1884.5 3033.3L1885.5 3033.5L1886.5 3033.8L1887.5 3034.2L1888.5 3034.7L1889.5 3035.2L1890.5 3035.7L1891.5 3036.3L1892.5 3037L1893.5 3037.7L1894.5 3038.5L1895.5 3039.3L1896.5 3040.1L1897.5 3041L1898.5 3041.9L1899.5 3042.9L1900.5 3043.9L1901.5 3044.9L1902.5 3045.9L1903.5 3046.9L1904.5 3048L1905.5 3049.1L1906.5 3050.1L1907.5 3051.2L1908.5 3052.3L1909.5 3053.4L1910.5 3054.5L1911.5 3055.6L1912.5 3056.6L1913.5 3057.7L1914.5 3058.8L1915.5 3060L1916.5 3061.2L1917.5 3062.6L1918.5 3063.9L1919.5 3065.3L1920.5 3066.8L1921.5 3068.3L1922.5 3069.9L1923.5 3071.5L1924.5 3073.1L1925.5 3074.8L1926.5 3076.5L1927.5 3078.3L1928.5 3080L1929.5 3081.8L1930.5 3083.6L1931.5 3085.4L1932.5 3087.2L1933.5 3089L1934.5 3090.9L1935.5 3092.7L1936.5 3094.5L1937.5 3096.3L1938.5 3098.1L1939.5 3099.9L1940.5 3101.7L1941.5 3103.4L1942.5 3105.2L1943.5 3107L1944.5 3108.8L1945.5 3110.7L1946.5 3112.5L1947.5 3114.4L1948.5 3116.3L1949.5 3118.2L1950.5 3120.1L1951.5 3122.1L1952.5 3124L1953.5 3126L1954.5 3127.9L1955.5 3129.9L1956.5 3131.9L1957.5 3133.8L1958.5 3135.8L1959.5 3137.8L1960.5 3139.7L1961.5 3141.7L1962.5 3143.6L1963.5 3145.5L1964.5 3147.4L1965.5 3149.3L1966.5 3151.2L1967.5 3153.1L1968.5 3154.9L1969.5 3156.7L1970.5 3158.5L1971.5 3160.3L1972.5 3162L1973.5 3163.7L1974.5 3165.5L1975.5 3167.4L1976.5 3169.3L1977.5 3171.2L1978.5 3173.2L1979.5 3175.3L1980.5 3177.3L1981.5 3179.4L1982.5 3181.5L1983.5 3183.6L1984.5 3185.6L1985.5 3187.7L1986.5 3189.7L1987.5 3191.7L1988.5 3193.6L1989.5 3195.5L1990.5 3197.3L1991.5 3199.1L1992.5 3200.8L1993.5 3202.4L1994.5 3203.9L1995.5 3205.3L1996.5 3206.5L1997.5 3207.7L1998.5 3208.7L1999.5 3209.6L2000.5 3210.4L2001.5 3210.9L2002.5 3211.4L2003.5 3211.6L2004.5 3211.7L2005.5 3211.5L2006.5 3211L2007.5 3210.3L2008.5 3209.3L2009.5 3208.1L2010.5 3206.6L2011.5 3205L2012.5 3203.3L2013.5 3201.3L2014.5 3199.3L2015.5 3197.2L2016.5 3195L2017.5 3192.7L2018.5 3190.5L2019.5 3187.3L2020.5 3182.9L2021.5 3177.6L2022.5 3171.8L2023.5 3165.8L2024.5 3160L2025.5 3154.6L2026.5 3150.2L2027.5 3146.9L2028.5 3145.3L2029.5 3145.3L2030.5 3146.5L2031.5 3148.3L2032.5 3150.5L2033.5 3152.7L2034.5 3154.5L2035.5 3155.5L2036.5 3155.5L2037.5 3153.6L2038.5 3150.2L2039.5 3145.5L2040.5 3139.8L2041.5 3133.2L2042.5 3126.1L2043.5 3118.7L2044.5 3111.3L2045.5 3104.2L2046.5 3097.6L2047.5 3091.7L2048.5 3086.9L2049.5 3083.3L2050.5 3081.1L2051.5 3079.4L2052.5 3078L2053.5 3076.9L2054.5 3075.9L2055.5 3075L2056.5 3074.1L2057.5 3073.3L2058.5 3072.5L2059.5 3071.5L2060.5 3070.4L2061.5 3069.1L2062.5 3067.5L2063.5 3065.7L2064.5 3063.3L2065.5 3059.7L2066.5 3054.8L2067.5 3048.6L2068.5 3041.4L2069.5 3033.2L2070.5 3024.1L2071.5 3014.2L2072.5 3003.5L2073.5 2992.3L2074.5 2980.5L2075.5 2966L2076.5 2947.3L2077.5 2925.9L2078.5 2903.3L2079.5 2880.8L2080.5 2859.2L2081.5 2836.4L2082.5 2812.9L2083.5 2790.2L2084.5 2769.3L2085.5 2751.3L2086.5 2734.8L2087.5 2719.7L2088.5 2706.2L2089 2700" fill="none" stroke="#0d0d0d" stroke-width="4.5" stroke-linejoin="round"/>
</g>
<g font-family="'Liberation Sans', Arial, sans-serif" font-size="61" fill="#111"><text x="257.4" y="3468" text-anchor="middle" textLength="125" lengthAdjust="spacingAndGlyphs">4000</text><text x="519.2" y="3468" text-anchor="middle" textLength="125" lengthAdjust="spacingAndGlyphs">3500</text><text x="781.0" y="3468" text-anchor="middle" textLength="125" lengthAdjust="spacingAndGlyphs">3000</text><text x="1042.8" y="3468" text-anchor="middle" textLength="125" lengthAdjust="spacingAndGlyphs">2500</text><text x="1304.6" y="3468" text-anchor="middle" textLength="125" lengthAdjust="spacingAndGlyphs">2000</text><text x="1566.4" y="3468" text-anchor="middle" textLength="125" lengthAdjust="spacingAndGlyphs">1500</text><text x="1828.2" y="3468" text-anchor="middle" textLength="125" lengthAdjust="spacingAndGlyphs">1000</text><text x="2090.0" y="3468" text-anchor="middle" textLength="98" lengthAdjust="spacingAndGlyphs">500</text></g>
<text x="810" y="3591" font-family="'Liberation Serif', 'Times New Roman', serif" font-weight="bold" font-size="79" fill="#111" textLength="668" lengthAdjust="spacingAndGlyphs">Wavenumber (cm<tspan font-size="46" dy="-24">-1</tspan><tspan dy="24">)</tspan></text>
</g>
</svg>
</body></html>
